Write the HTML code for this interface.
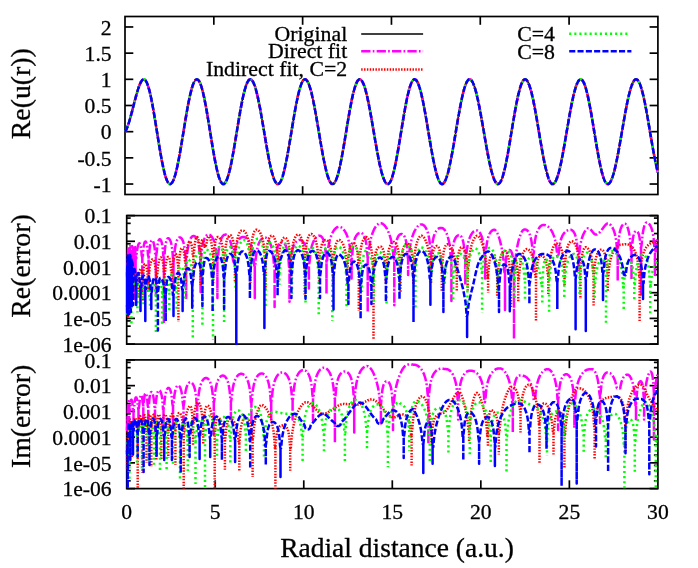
<!DOCTYPE html>
<html><head><meta charset="utf-8"><title>plot</title>
<style>html,body{margin:0;padding:0;background:#fff;}svg{display:block;will-change:transform;}</style>
</head><body>
<svg width="698" height="568" viewBox="0 0 698 568">
<rect width="698" height="568" fill="#fff"/>
<defs>
<clipPath id="c0"><rect x="123.8" y="15.3" width="535.3" height="180.4"/></clipPath>
<clipPath id="c1"><rect x="125.5" y="214.4" width="533.5999999999999" height="130.90000000000003"/></clipPath>
<clipPath id="c2"><rect x="125.5" y="358.7" width="533.5999999999999" height="131.10000000000005"/></clipPath>
</defs>
<rect x="125.0" y="16.5" width="532.9" height="178.0" fill="none" stroke="#000" stroke-width="1.7"/>
<line x1="213.82" y1="194.50" x2="213.82" y2="186.20" stroke="#000" stroke-width="1.7"/>
<line x1="213.82" y1="16.50" x2="213.82" y2="24.80" stroke="#000" stroke-width="1.7"/>
<line x1="302.63" y1="194.50" x2="302.63" y2="186.20" stroke="#000" stroke-width="1.7"/>
<line x1="302.63" y1="16.50" x2="302.63" y2="24.80" stroke="#000" stroke-width="1.7"/>
<line x1="391.45" y1="194.50" x2="391.45" y2="186.20" stroke="#000" stroke-width="1.7"/>
<line x1="391.45" y1="16.50" x2="391.45" y2="24.80" stroke="#000" stroke-width="1.7"/>
<line x1="480.27" y1="194.50" x2="480.27" y2="186.20" stroke="#000" stroke-width="1.7"/>
<line x1="480.27" y1="16.50" x2="480.27" y2="24.80" stroke="#000" stroke-width="1.7"/>
<line x1="569.08" y1="194.50" x2="569.08" y2="186.20" stroke="#000" stroke-width="1.7"/>
<line x1="569.08" y1="16.50" x2="569.08" y2="24.80" stroke="#000" stroke-width="1.7"/>
<rect x="126.7" y="215.6" width="531.1999999999999" height="128.50000000000003" fill="none" stroke="#000" stroke-width="1.7"/>
<line x1="215.23" y1="344.10" x2="215.23" y2="335.80" stroke="#000" stroke-width="1.7"/>
<line x1="215.23" y1="215.60" x2="215.23" y2="223.90" stroke="#000" stroke-width="1.7"/>
<line x1="303.77" y1="344.10" x2="303.77" y2="335.80" stroke="#000" stroke-width="1.7"/>
<line x1="303.77" y1="215.60" x2="303.77" y2="223.90" stroke="#000" stroke-width="1.7"/>
<line x1="392.30" y1="344.10" x2="392.30" y2="335.80" stroke="#000" stroke-width="1.7"/>
<line x1="392.30" y1="215.60" x2="392.30" y2="223.90" stroke="#000" stroke-width="1.7"/>
<line x1="480.83" y1="344.10" x2="480.83" y2="335.80" stroke="#000" stroke-width="1.7"/>
<line x1="480.83" y1="215.60" x2="480.83" y2="223.90" stroke="#000" stroke-width="1.7"/>
<line x1="569.37" y1="344.10" x2="569.37" y2="335.80" stroke="#000" stroke-width="1.7"/>
<line x1="569.37" y1="215.60" x2="569.37" y2="223.90" stroke="#000" stroke-width="1.7"/>
<rect x="126.7" y="359.9" width="531.1999999999999" height="128.70000000000005" fill="none" stroke="#000" stroke-width="1.7"/>
<line x1="215.23" y1="488.60" x2="215.23" y2="480.30" stroke="#000" stroke-width="1.7"/>
<line x1="215.23" y1="359.90" x2="215.23" y2="368.20" stroke="#000" stroke-width="1.7"/>
<line x1="303.77" y1="488.60" x2="303.77" y2="480.30" stroke="#000" stroke-width="1.7"/>
<line x1="303.77" y1="359.90" x2="303.77" y2="368.20" stroke="#000" stroke-width="1.7"/>
<line x1="392.30" y1="488.60" x2="392.30" y2="480.30" stroke="#000" stroke-width="1.7"/>
<line x1="392.30" y1="359.90" x2="392.30" y2="368.20" stroke="#000" stroke-width="1.7"/>
<line x1="480.83" y1="488.60" x2="480.83" y2="480.30" stroke="#000" stroke-width="1.7"/>
<line x1="480.83" y1="359.90" x2="480.83" y2="368.20" stroke="#000" stroke-width="1.7"/>
<line x1="569.37" y1="488.60" x2="569.37" y2="480.30" stroke="#000" stroke-width="1.7"/>
<line x1="569.37" y1="359.90" x2="569.37" y2="368.20" stroke="#000" stroke-width="1.7"/>
<line x1="125.00" y1="26.97" x2="133.30" y2="26.97" stroke="#000" stroke-width="1.7"/>
<line x1="657.90" y1="26.97" x2="649.60" y2="26.97" stroke="#000" stroke-width="1.7"/>
<line x1="125.00" y1="53.15" x2="133.30" y2="53.15" stroke="#000" stroke-width="1.7"/>
<line x1="657.90" y1="53.15" x2="649.60" y2="53.15" stroke="#000" stroke-width="1.7"/>
<line x1="125.00" y1="79.32" x2="133.30" y2="79.32" stroke="#000" stroke-width="1.7"/>
<line x1="657.90" y1="79.32" x2="649.60" y2="79.32" stroke="#000" stroke-width="1.7"/>
<line x1="125.00" y1="105.50" x2="133.30" y2="105.50" stroke="#000" stroke-width="1.7"/>
<line x1="657.90" y1="105.50" x2="649.60" y2="105.50" stroke="#000" stroke-width="1.7"/>
<line x1="125.00" y1="131.68" x2="133.30" y2="131.68" stroke="#000" stroke-width="1.7"/>
<line x1="657.90" y1="131.68" x2="649.60" y2="131.68" stroke="#000" stroke-width="1.7"/>
<line x1="125.00" y1="157.85" x2="133.30" y2="157.85" stroke="#000" stroke-width="1.7"/>
<line x1="657.90" y1="157.85" x2="649.60" y2="157.85" stroke="#000" stroke-width="1.7"/>
<line x1="125.00" y1="184.03" x2="133.30" y2="184.03" stroke="#000" stroke-width="1.7"/>
<line x1="657.90" y1="184.03" x2="649.60" y2="184.03" stroke="#000" stroke-width="1.7"/>
<line x1="126.70" y1="215.60" x2="135.00" y2="215.60" stroke="#000" stroke-width="1.7"/>
<line x1="657.90" y1="215.60" x2="649.60" y2="215.60" stroke="#000" stroke-width="1.7"/>
<line x1="126.70" y1="241.30" x2="135.00" y2="241.30" stroke="#000" stroke-width="1.7"/>
<line x1="657.90" y1="241.30" x2="649.60" y2="241.30" stroke="#000" stroke-width="1.7"/>
<line x1="126.70" y1="233.56" x2="130.70" y2="233.56" stroke="#000" stroke-width="1.7"/>
<line x1="657.90" y1="233.56" x2="653.90" y2="233.56" stroke="#000" stroke-width="1.7"/>
<line x1="126.70" y1="223.34" x2="130.70" y2="223.34" stroke="#000" stroke-width="1.7"/>
<line x1="657.90" y1="223.34" x2="653.90" y2="223.34" stroke="#000" stroke-width="1.7"/>
<line x1="126.70" y1="218.09" x2="130.70" y2="218.09" stroke="#000" stroke-width="1.7"/>
<line x1="657.90" y1="218.09" x2="653.90" y2="218.09" stroke="#000" stroke-width="1.7"/>
<line x1="126.70" y1="267.00" x2="135.00" y2="267.00" stroke="#000" stroke-width="1.7"/>
<line x1="657.90" y1="267.00" x2="649.60" y2="267.00" stroke="#000" stroke-width="1.7"/>
<line x1="126.70" y1="259.26" x2="130.70" y2="259.26" stroke="#000" stroke-width="1.7"/>
<line x1="657.90" y1="259.26" x2="653.90" y2="259.26" stroke="#000" stroke-width="1.7"/>
<line x1="126.70" y1="249.04" x2="130.70" y2="249.04" stroke="#000" stroke-width="1.7"/>
<line x1="657.90" y1="249.04" x2="653.90" y2="249.04" stroke="#000" stroke-width="1.7"/>
<line x1="126.70" y1="243.79" x2="130.70" y2="243.79" stroke="#000" stroke-width="1.7"/>
<line x1="657.90" y1="243.79" x2="653.90" y2="243.79" stroke="#000" stroke-width="1.7"/>
<line x1="126.70" y1="292.70" x2="135.00" y2="292.70" stroke="#000" stroke-width="1.7"/>
<line x1="657.90" y1="292.70" x2="649.60" y2="292.70" stroke="#000" stroke-width="1.7"/>
<line x1="126.70" y1="284.96" x2="130.70" y2="284.96" stroke="#000" stroke-width="1.7"/>
<line x1="657.90" y1="284.96" x2="653.90" y2="284.96" stroke="#000" stroke-width="1.7"/>
<line x1="126.70" y1="274.74" x2="130.70" y2="274.74" stroke="#000" stroke-width="1.7"/>
<line x1="657.90" y1="274.74" x2="653.90" y2="274.74" stroke="#000" stroke-width="1.7"/>
<line x1="126.70" y1="269.49" x2="130.70" y2="269.49" stroke="#000" stroke-width="1.7"/>
<line x1="657.90" y1="269.49" x2="653.90" y2="269.49" stroke="#000" stroke-width="1.7"/>
<line x1="126.70" y1="318.40" x2="135.00" y2="318.40" stroke="#000" stroke-width="1.7"/>
<line x1="657.90" y1="318.40" x2="649.60" y2="318.40" stroke="#000" stroke-width="1.7"/>
<line x1="126.70" y1="310.66" x2="130.70" y2="310.66" stroke="#000" stroke-width="1.7"/>
<line x1="657.90" y1="310.66" x2="653.90" y2="310.66" stroke="#000" stroke-width="1.7"/>
<line x1="126.70" y1="300.44" x2="130.70" y2="300.44" stroke="#000" stroke-width="1.7"/>
<line x1="657.90" y1="300.44" x2="653.90" y2="300.44" stroke="#000" stroke-width="1.7"/>
<line x1="126.70" y1="295.19" x2="130.70" y2="295.19" stroke="#000" stroke-width="1.7"/>
<line x1="657.90" y1="295.19" x2="653.90" y2="295.19" stroke="#000" stroke-width="1.7"/>
<line x1="126.70" y1="344.10" x2="135.00" y2="344.10" stroke="#000" stroke-width="1.7"/>
<line x1="657.90" y1="344.10" x2="649.60" y2="344.10" stroke="#000" stroke-width="1.7"/>
<line x1="126.70" y1="336.36" x2="130.70" y2="336.36" stroke="#000" stroke-width="1.7"/>
<line x1="657.90" y1="336.36" x2="653.90" y2="336.36" stroke="#000" stroke-width="1.7"/>
<line x1="126.70" y1="326.14" x2="130.70" y2="326.14" stroke="#000" stroke-width="1.7"/>
<line x1="657.90" y1="326.14" x2="653.90" y2="326.14" stroke="#000" stroke-width="1.7"/>
<line x1="126.70" y1="320.89" x2="130.70" y2="320.89" stroke="#000" stroke-width="1.7"/>
<line x1="657.90" y1="320.89" x2="653.90" y2="320.89" stroke="#000" stroke-width="1.7"/>
<line x1="126.70" y1="359.90" x2="135.00" y2="359.90" stroke="#000" stroke-width="1.7"/>
<line x1="657.90" y1="359.90" x2="649.60" y2="359.90" stroke="#000" stroke-width="1.7"/>
<line x1="126.70" y1="385.64" x2="135.00" y2="385.64" stroke="#000" stroke-width="1.7"/>
<line x1="657.90" y1="385.64" x2="649.60" y2="385.64" stroke="#000" stroke-width="1.7"/>
<line x1="126.70" y1="377.89" x2="130.70" y2="377.89" stroke="#000" stroke-width="1.7"/>
<line x1="657.90" y1="377.89" x2="653.90" y2="377.89" stroke="#000" stroke-width="1.7"/>
<line x1="126.70" y1="367.65" x2="130.70" y2="367.65" stroke="#000" stroke-width="1.7"/>
<line x1="657.90" y1="367.65" x2="653.90" y2="367.65" stroke="#000" stroke-width="1.7"/>
<line x1="126.70" y1="362.39" x2="130.70" y2="362.39" stroke="#000" stroke-width="1.7"/>
<line x1="657.90" y1="362.39" x2="653.90" y2="362.39" stroke="#000" stroke-width="1.7"/>
<line x1="126.70" y1="411.38" x2="135.00" y2="411.38" stroke="#000" stroke-width="1.7"/>
<line x1="657.90" y1="411.38" x2="649.60" y2="411.38" stroke="#000" stroke-width="1.7"/>
<line x1="126.70" y1="403.63" x2="130.70" y2="403.63" stroke="#000" stroke-width="1.7"/>
<line x1="657.90" y1="403.63" x2="653.90" y2="403.63" stroke="#000" stroke-width="1.7"/>
<line x1="126.70" y1="393.39" x2="130.70" y2="393.39" stroke="#000" stroke-width="1.7"/>
<line x1="657.90" y1="393.39" x2="653.90" y2="393.39" stroke="#000" stroke-width="1.7"/>
<line x1="126.70" y1="388.13" x2="130.70" y2="388.13" stroke="#000" stroke-width="1.7"/>
<line x1="657.90" y1="388.13" x2="653.90" y2="388.13" stroke="#000" stroke-width="1.7"/>
<line x1="126.70" y1="437.12" x2="135.00" y2="437.12" stroke="#000" stroke-width="1.7"/>
<line x1="657.90" y1="437.12" x2="649.60" y2="437.12" stroke="#000" stroke-width="1.7"/>
<line x1="126.70" y1="429.37" x2="130.70" y2="429.37" stroke="#000" stroke-width="1.7"/>
<line x1="657.90" y1="429.37" x2="653.90" y2="429.37" stroke="#000" stroke-width="1.7"/>
<line x1="126.70" y1="419.13" x2="130.70" y2="419.13" stroke="#000" stroke-width="1.7"/>
<line x1="657.90" y1="419.13" x2="653.90" y2="419.13" stroke="#000" stroke-width="1.7"/>
<line x1="126.70" y1="413.87" x2="130.70" y2="413.87" stroke="#000" stroke-width="1.7"/>
<line x1="657.90" y1="413.87" x2="653.90" y2="413.87" stroke="#000" stroke-width="1.7"/>
<line x1="126.70" y1="462.86" x2="135.00" y2="462.86" stroke="#000" stroke-width="1.7"/>
<line x1="657.90" y1="462.86" x2="649.60" y2="462.86" stroke="#000" stroke-width="1.7"/>
<line x1="126.70" y1="455.11" x2="130.70" y2="455.11" stroke="#000" stroke-width="1.7"/>
<line x1="657.90" y1="455.11" x2="653.90" y2="455.11" stroke="#000" stroke-width="1.7"/>
<line x1="126.70" y1="444.87" x2="130.70" y2="444.87" stroke="#000" stroke-width="1.7"/>
<line x1="657.90" y1="444.87" x2="653.90" y2="444.87" stroke="#000" stroke-width="1.7"/>
<line x1="126.70" y1="439.61" x2="130.70" y2="439.61" stroke="#000" stroke-width="1.7"/>
<line x1="657.90" y1="439.61" x2="653.90" y2="439.61" stroke="#000" stroke-width="1.7"/>
<line x1="126.70" y1="488.60" x2="135.00" y2="488.60" stroke="#000" stroke-width="1.7"/>
<line x1="657.90" y1="488.60" x2="649.60" y2="488.60" stroke="#000" stroke-width="1.7"/>
<line x1="126.70" y1="480.85" x2="130.70" y2="480.85" stroke="#000" stroke-width="1.7"/>
<line x1="657.90" y1="480.85" x2="653.90" y2="480.85" stroke="#000" stroke-width="1.7"/>
<line x1="126.70" y1="470.61" x2="130.70" y2="470.61" stroke="#000" stroke-width="1.7"/>
<line x1="657.90" y1="470.61" x2="653.90" y2="470.61" stroke="#000" stroke-width="1.7"/>
<line x1="126.70" y1="465.35" x2="130.70" y2="465.35" stroke="#000" stroke-width="1.7"/>
<line x1="657.90" y1="465.35" x2="653.90" y2="465.35" stroke="#000" stroke-width="1.7"/>
<path d="M125.0 131.7 L125.5 131.2 L126.0 130.3 L126.5 129.3 L127.0 128.1 L127.5 126.8 L128.0 125.4 L128.5 123.9 L129.0 122.3 L129.5 120.6 L130.0 118.9 L130.5 117.2 L131.0 115.3 L131.5 113.5 L132.0 111.6 L132.5 109.7 L133.0 107.7 L133.5 105.8 L134.0 103.9 L134.5 101.9 L135.0 100.0 L135.5 98.2 L136.0 96.3 L136.5 94.5 L137.0 92.8 L137.5 91.1 L138.0 89.5 L138.5 88.0 L139.0 86.5 L139.5 85.2 L140.0 84.0 L140.5 82.9 L141.0 81.9 L141.5 81.1 L142.0 80.4 L142.5 79.9 L143.0 79.5 L143.5 79.4 L144.0 79.3 L144.5 79.5 L145.0 79.9 L145.5 80.4 L146.0 81.1 L146.5 82.0 L147.0 83.1 L147.5 84.4 L148.0 85.8 L148.5 87.4 L149.0 89.1 L149.5 91.0 L150.0 93.0 L150.5 95.2 L151.0 97.5 L151.5 100.0 L152.0 102.5 L152.5 105.1 L153.0 107.9 L153.5 110.7 L154.0 113.6 L154.5 116.6 L155.0 119.6 L155.5 122.7 L156.0 125.7 L156.5 128.9 L157.0 132.0 L157.5 135.1 L158.0 138.2 L158.5 141.3 L159.0 144.4 L159.5 147.4 L160.0 150.3 L160.5 153.2 L161.0 156.0 L161.5 158.8 L162.0 161.4 L162.5 163.9 L163.0 166.3 L163.5 168.6 L164.0 170.7 L164.5 172.7 L165.0 174.6 L165.5 176.3 L166.0 177.9 L166.5 179.3 L167.0 180.5 L167.5 181.5 L168.0 182.4 L168.5 183.1 L169.0 183.6 L169.5 183.9 L170.0 184.0 L170.5 184.0 L171.0 183.7 L171.5 183.3 L172.0 182.7 L172.5 182.0 L173.0 181.0 L173.5 179.9 L174.0 178.7 L174.5 177.2 L175.0 175.6 L175.5 173.9 L176.0 172.0 L176.5 170.0 L177.0 167.8 L177.5 165.5 L178.0 163.1 L178.5 160.6 L179.0 158.0 L179.5 155.3 L180.0 152.6 L180.5 149.7 L181.0 146.8 L181.5 143.8 L182.0 140.8 L182.5 137.8 L183.0 134.7 L183.5 131.7 L184.0 128.6 L184.5 125.6 L185.0 122.5 L185.5 119.5 L186.0 116.6 L186.5 113.6 L187.0 110.8 L187.5 108.0 L188.0 105.3 L188.5 102.7 L189.0 100.2 L189.5 97.8 L190.0 95.5 L190.5 93.4 L191.0 91.4 L191.5 89.5 L192.0 87.7 L192.5 86.1 L193.0 84.7 L193.5 83.4 L194.0 82.3 L194.5 81.4 L195.0 80.6 L195.5 80.0 L196.0 79.6 L196.5 79.4 L197.0 79.3 L197.5 79.5 L198.0 79.8 L198.5 80.3 L199.0 80.9 L199.5 81.8 L200.0 82.8 L200.5 84.1 L201.0 85.4 L201.5 87.0 L202.0 88.7 L202.5 90.5 L203.0 92.5 L203.5 94.7 L204.0 96.9 L204.5 99.3 L205.0 101.8 L205.5 104.4 L206.0 107.1 L206.5 109.9 L207.0 112.8 L207.5 115.7 L208.0 118.7 L208.5 121.8 L209.0 124.8 L209.5 127.9 L210.0 131.1 L210.5 134.2 L211.0 137.3 L211.5 140.4 L212.0 143.4 L212.5 146.4 L213.0 149.4 L213.5 152.3 L214.0 155.1 L214.5 157.9 L215.0 160.5 L215.5 163.1 L216.0 165.5 L216.5 167.8 L217.0 170.0 L217.5 172.0 L218.0 174.0 L218.5 175.7 L219.0 177.3 L219.5 178.8 L220.0 180.0 L220.5 181.2 L221.0 182.1 L221.5 182.8 L222.0 183.4 L222.5 183.8 L223.0 184.0 L223.5 184.0 L224.0 183.9 L224.5 183.5 L225.0 183.0 L225.5 182.3 L226.0 181.5 L226.5 180.4 L227.0 179.3 L227.5 177.9 L228.0 176.4 L228.5 174.7 L229.0 172.9 L229.5 171.0 L230.0 168.9 L230.5 166.7 L231.0 164.4 L231.5 162.0 L232.0 159.4 L232.5 156.8 L233.0 154.1 L233.5 151.3 L234.0 148.4 L234.5 145.5 L235.0 142.6 L235.5 139.6 L236.0 136.5 L236.5 133.5 L237.0 130.5 L237.5 127.4 L238.0 124.4 L238.5 121.4 L239.0 118.4 L239.5 115.5 L240.0 112.6 L240.5 109.8 L241.0 107.1 L241.5 104.5 L242.0 101.9 L242.5 99.4 L243.0 97.1 L243.5 94.9 L244.0 92.8 L244.5 90.8 L245.0 89.0 L245.5 87.3 L246.0 85.7 L246.5 84.4 L247.0 83.1 L247.5 82.1 L248.0 81.2 L248.5 80.5 L249.0 79.9 L249.5 79.6 L250.0 79.4 L250.5 79.3 L251.0 79.5 L251.5 79.8 L252.0 80.3 L252.5 81.0 L253.0 81.8 L253.5 82.8 L254.0 83.9 L254.5 85.2 L255.0 86.6 L255.5 88.2 L256.0 90.0 L256.5 91.8 L257.0 93.8 L257.5 95.9 L258.0 98.2 L258.5 100.5 L259.0 103.0 L259.5 105.5 L260.0 108.1 L260.5 110.8 L261.0 113.6 L261.5 116.4 L262.0 119.3 L262.5 122.2 L263.0 125.1 L263.5 128.1 L264.0 131.1 L264.5 134.1 L265.0 137.0 L265.5 140.0 L266.0 142.9 L266.5 145.8 L267.0 148.6 L267.5 151.4 L268.0 154.2 L268.5 156.8 L269.0 159.4 L269.5 161.9 L270.0 164.3 L270.5 166.5 L271.0 168.7 L271.5 170.7 L272.0 172.7 L272.5 174.4 L273.0 176.1 L273.5 177.6 L274.0 179.0 L274.5 180.2 L275.0 181.2 L275.5 182.1 L276.0 182.8 L276.5 183.4 L277.0 183.8 L277.5 184.0 L278.0 184.0 L278.5 183.9 L279.0 183.6 L279.5 183.1 L280.0 182.5 L280.5 181.7 L281.0 180.7 L281.5 179.5 L282.0 178.2 L282.5 176.8 L283.0 175.1 L283.5 173.4 L284.0 171.5 L284.5 169.4 L285.0 167.3 L285.5 165.0 L286.0 162.6 L286.5 160.1 L287.0 157.5 L287.5 154.8 L288.0 152.1 L288.5 149.2 L289.0 146.3 L289.5 143.4 L290.0 140.4 L290.5 137.4 L291.0 134.4 L291.5 131.4 L292.0 128.3 L292.5 125.3 L293.0 122.3 L293.5 119.4 L294.0 116.4 L294.5 113.5 L295.0 110.7 L295.5 108.0 L296.0 105.3 L296.5 102.7 L297.0 100.3 L297.5 97.9 L298.0 95.6 L298.5 93.5 L299.0 91.5 L299.5 89.6 L300.0 87.9 L300.5 86.3 L301.0 84.9 L301.5 83.6 L302.0 82.5 L302.5 81.5 L303.0 80.7 L303.5 80.1 L304.0 79.7 L304.5 79.4 L305.0 79.3 L305.5 79.4 L306.0 79.7 L306.5 80.1 L307.0 80.7 L307.5 81.4 L308.0 82.3 L308.5 83.4 L309.0 84.7 L309.5 86.0 L310.0 87.6 L310.5 89.3 L311.0 91.1 L311.5 93.0 L312.0 95.1 L312.5 97.3 L313.0 99.6 L313.5 102.0 L314.0 104.5 L314.5 107.1 L315.0 109.7 L315.5 112.5 L316.0 115.3 L316.5 118.1 L317.0 121.0 L317.5 124.0 L318.0 126.9 L318.5 129.9 L319.0 132.9 L319.5 135.8 L320.0 138.8 L320.5 141.7 L321.0 144.6 L321.5 147.5 L322.0 150.3 L322.5 153.1 L323.0 155.8 L323.5 158.4 L324.0 160.9 L324.5 163.3 L325.0 165.6 L325.5 167.8 L326.0 169.9 L326.5 171.9 L327.0 173.7 L327.5 175.5 L328.0 177.0 L328.5 178.4 L329.0 179.7 L329.5 180.8 L330.0 181.8 L330.5 182.5 L331.0 183.2 L331.5 183.6 L332.0 183.9 L332.5 184.0 L333.0 184.0 L333.5 183.7 L334.0 183.3 L334.5 182.8 L335.0 182.0 L335.5 181.1 L336.0 180.0 L336.5 178.8 L337.0 177.4 L337.5 175.8 L338.0 174.1 L338.5 172.3 L339.0 170.3 L339.5 168.2 L340.0 165.9 L340.5 163.6 L341.0 161.1 L341.5 158.6 L342.0 155.9 L342.5 153.2 L343.0 150.4 L343.5 147.5 L344.0 144.6 L344.5 141.6 L345.0 138.6 L345.5 135.6 L346.0 132.6 L346.5 129.6 L347.0 126.5 L347.5 123.5 L348.0 120.5 L348.5 117.6 L349.0 114.7 L349.5 111.9 L350.0 109.1 L350.5 106.4 L351.0 103.8 L351.5 101.2 L352.0 98.8 L352.5 96.5 L353.0 94.3 L353.5 92.3 L354.0 90.3 L354.5 88.6 L355.0 86.9 L355.5 85.4 L356.0 84.1 L356.5 82.9 L357.0 81.9 L357.5 81.0 L358.0 80.3 L358.5 79.8 L359.0 79.5 L359.5 79.3 L360.0 79.4 L360.5 79.5 L361.0 79.9 L361.5 80.4 L362.0 81.1 L362.5 81.9 L363.0 82.9 L363.5 84.0 L364.0 85.3 L364.5 86.7 L365.0 88.3 L365.5 90.0 L366.0 91.9 L366.5 93.8 L367.0 95.9 L367.5 98.1 L368.0 100.4 L368.5 102.8 L369.0 105.3 L369.5 107.9 L370.0 110.6 L370.5 113.3 L371.0 116.1 L371.5 118.9 L372.0 121.8 L372.5 124.6 L373.0 127.6 L373.5 130.5 L374.0 133.4 L374.5 136.4 L375.0 139.3 L375.5 142.2 L376.0 145.0 L376.5 147.9 L377.0 150.6 L377.5 153.3 L378.0 156.0 L378.5 158.5 L379.0 161.0 L379.5 163.4 L380.0 165.7 L380.5 167.9 L381.0 169.9 L381.5 171.9 L382.0 173.7 L382.5 175.4 L383.0 176.9 L383.5 178.3 L384.0 179.6 L384.5 180.7 L385.0 181.6 L385.5 182.4 L386.0 183.1 L386.5 183.6 L387.0 183.9 L387.5 184.0 L388.0 184.0 L388.5 183.8 L389.0 183.4 L389.5 182.9 L390.0 182.2 L390.5 181.3 L391.0 180.2 L391.5 179.0 L392.0 177.6 L392.5 176.0 L393.0 174.3 L393.5 172.5 L394.0 170.5 L394.5 168.4 L395.0 166.1 L395.5 163.8 L396.0 161.3 L396.5 158.7 L397.0 156.1 L397.5 153.3 L398.0 150.5 L398.5 147.6 L399.0 144.7 L399.5 141.7 L400.0 138.7 L400.5 135.6 L401.0 132.6 L401.5 129.5 L402.0 126.5 L402.5 123.5 L403.0 120.5 L403.5 117.5 L404.0 114.6 L404.5 111.7 L405.0 108.9 L405.5 106.2 L406.0 103.6 L406.5 101.1 L407.0 98.6 L407.5 96.3 L408.0 94.1 L408.5 92.1 L409.0 90.1 L409.5 88.3 L410.0 86.7 L410.5 85.2 L411.0 83.9 L411.5 82.7 L412.0 81.7 L412.5 80.9 L413.0 80.2 L413.5 79.8 L414.0 79.5 L414.5 79.3 L415.0 79.4 L415.5 79.6 L416.0 80.0 L416.5 80.6 L417.0 81.3 L417.5 82.2 L418.0 83.2 L418.5 84.4 L419.0 85.8 L419.5 87.3 L420.0 89.0 L420.5 90.8 L421.0 92.7 L421.5 94.8 L422.0 96.9 L422.5 99.2 L423.0 101.6 L423.5 104.1 L424.0 106.7 L424.5 109.4 L425.0 112.1 L425.5 114.9 L426.0 117.8 L426.5 120.7 L427.0 123.6 L427.5 126.6 L428.0 129.6 L428.5 132.6 L429.0 135.6 L429.5 138.5 L430.0 141.5 L430.5 144.4 L431.0 147.3 L431.5 150.1 L432.0 152.9 L432.5 155.6 L433.0 158.2 L433.5 160.7 L434.0 163.2 L434.5 165.5 L435.0 167.7 L435.5 169.8 L436.0 171.8 L436.5 173.7 L437.0 175.4 L437.5 177.0 L438.0 178.4 L438.5 179.7 L439.0 180.8 L439.5 181.7 L440.0 182.5 L440.5 183.2 L441.0 183.6 L441.5 183.9 L442.0 184.0 L442.5 184.0 L443.0 183.8 L443.5 183.4 L444.0 182.8 L444.5 182.1 L445.0 181.2 L445.5 180.1 L446.0 178.9 L446.5 177.6 L447.0 176.0 L447.5 174.4 L448.0 172.6 L448.5 170.6 L449.0 168.6 L449.5 166.4 L450.0 164.1 L450.5 161.7 L451.0 159.2 L451.5 156.6 L452.0 154.0 L452.5 151.2 L453.0 148.4 L453.5 145.6 L454.0 142.7 L454.5 139.7 L455.0 136.8 L455.5 133.8 L456.0 130.8 L456.5 127.8 L457.0 124.8 L457.5 121.9 L458.0 118.9 L458.5 116.1 L459.0 113.2 L459.5 110.5 L460.0 107.8 L460.5 105.2 L461.0 102.6 L461.5 100.2 L462.0 97.8 L462.5 95.6 L463.0 93.5 L463.5 91.5 L464.0 89.7 L464.5 88.0 L465.0 86.4 L465.5 85.0 L466.0 83.7 L466.5 82.6 L467.0 81.6 L467.5 80.8 L468.0 80.2 L468.5 79.7 L469.0 79.4 L469.5 79.3 L470.0 79.4 L470.5 79.6 L471.0 80.0 L471.5 80.5 L472.0 81.2 L472.5 82.0 L473.0 83.0 L473.5 84.1 L474.0 85.4 L474.5 86.8 L475.0 88.4 L475.5 90.1 L476.0 91.9 L476.5 93.8 L477.0 95.9 L477.5 98.1 L478.0 100.3 L478.5 102.7 L479.0 105.2 L479.5 107.7 L480.0 110.3 L480.5 113.0 L481.0 115.7 L481.5 118.5 L482.0 121.3 L482.5 124.2 L483.0 127.0 L483.5 129.9 L484.0 132.8 L484.5 135.7 L485.0 138.6 L485.5 141.5 L486.0 144.3 L486.5 147.1 L487.0 149.8 L487.5 152.5 L488.0 155.1 L488.5 157.7 L489.0 160.2 L489.5 162.5 L490.0 164.8 L490.5 167.0 L491.0 169.1 L491.5 171.1 L492.0 172.9 L492.5 174.6 L493.0 176.2 L493.5 177.7 L494.0 179.0 L494.5 180.2 L495.0 181.2 L495.5 182.0 L496.0 182.8 L496.5 183.3 L497.0 183.7 L497.5 183.9 L498.0 184.0 L498.5 183.9 L499.0 183.7 L499.5 183.2 L500.0 182.6 L500.5 181.8 L501.0 180.9 L501.5 179.8 L502.0 178.5 L502.5 177.1 L503.0 175.5 L503.5 173.7 L504.0 171.9 L504.5 169.9 L505.0 167.7 L505.5 165.5 L506.0 163.1 L506.5 160.6 L507.0 158.0 L507.5 155.4 L508.0 152.6 L508.5 149.8 L509.0 146.9 L509.5 144.0 L510.0 141.0 L510.5 138.0 L511.0 135.0 L511.5 132.0 L512.0 128.9 L512.5 125.9 L513.0 122.9 L513.5 119.9 L514.0 117.0 L514.5 114.1 L515.0 111.3 L515.5 108.5 L516.0 105.9 L516.5 103.3 L517.0 100.8 L517.5 98.4 L518.0 96.1 L518.5 93.9 L519.0 91.9 L519.5 90.0 L520.0 88.2 L520.5 86.6 L521.0 85.1 L521.5 83.8 L522.0 82.7 L522.5 81.7 L523.0 80.9 L523.5 80.2 L524.0 79.7 L524.5 79.5 L525.0 79.3 L525.5 79.4 L526.0 79.6 L526.5 80.0 L527.0 80.5 L527.5 81.3 L528.0 82.1 L528.5 83.2 L529.0 84.4 L529.5 85.8 L530.0 87.3 L530.5 88.9 L531.0 90.7 L531.5 92.6 L532.0 94.7 L532.5 96.8 L533.0 99.1 L533.5 101.5 L534.0 104.0 L534.5 106.5 L535.0 109.2 L535.5 111.9 L536.0 114.7 L536.5 117.6 L537.0 120.4 L537.5 123.4 L538.0 126.3 L538.5 129.3 L539.0 132.3 L539.5 135.2 L540.0 138.2 L540.5 141.2 L541.0 144.1 L541.5 146.9 L542.0 149.8 L542.5 152.5 L543.0 155.2 L543.5 157.9 L544.0 160.4 L544.5 162.8 L545.0 165.2 L545.5 167.4 L546.0 169.5 L546.5 171.5 L547.0 173.4 L547.5 175.1 L548.0 176.7 L548.5 178.2 L549.0 179.5 L549.5 180.6 L550.0 181.6 L550.5 182.4 L551.0 183.1 L551.5 183.5 L552.0 183.9 L552.5 184.0 L553.0 184.0 L553.5 183.8 L554.0 183.5 L554.5 183.0 L555.0 182.3 L555.5 181.5 L556.0 180.5 L556.5 179.3 L557.0 178.1 L557.5 176.6 L558.0 175.0 L558.5 173.3 L559.0 171.5 L559.5 169.5 L560.0 167.4 L560.5 165.2 L561.0 162.9 L561.5 160.5 L562.0 158.0 L562.5 155.4 L563.0 152.8 L563.5 150.1 L564.0 147.3 L564.5 144.5 L565.0 141.6 L565.5 138.7 L566.0 135.8 L566.5 132.9 L567.0 129.9 L567.5 127.0 L568.0 124.1 L568.5 121.2 L569.0 118.3 L569.5 115.5 L570.0 112.7 L570.5 110.0 L571.0 107.4 L571.5 104.8 L572.0 102.3 L572.5 100.0 L573.0 97.7 L573.5 95.5 L574.0 93.4 L574.5 91.5 L575.0 89.7 L575.5 88.0 L576.0 86.4 L576.5 85.0 L577.0 83.8 L577.5 82.7 L578.0 81.7 L578.5 80.9 L579.0 80.3 L579.5 79.8 L580.0 79.5 L580.5 79.3 L581.0 79.4 L581.5 79.5 L582.0 79.9 L582.5 80.5 L583.0 81.2 L583.5 82.1 L584.0 83.1 L584.5 84.3 L585.0 85.7 L585.5 87.2 L586.0 88.9 L586.5 90.7 L587.0 92.7 L587.5 94.8 L588.0 97.0 L588.5 99.3 L589.0 101.7 L589.5 104.3 L590.0 106.9 L590.5 109.6 L591.0 112.4 L591.5 115.3 L592.0 118.2 L592.5 121.1 L593.0 124.1 L593.5 127.1 L594.0 130.2 L594.5 133.2 L595.0 136.2 L595.5 139.2 L596.0 142.2 L596.5 145.2 L597.0 148.1 L597.5 150.9 L598.0 153.7 L598.5 156.4 L599.0 159.1 L599.5 161.6 L600.0 164.0 L600.5 166.4 L601.0 168.6 L601.5 170.7 L602.0 172.6 L602.5 174.5 L603.0 176.1 L603.5 177.7 L604.0 179.0 L604.5 180.2 L605.0 181.3 L605.5 182.2 L606.0 182.9 L606.5 183.4 L607.0 183.8 L607.5 184.0 L608.0 184.0 L608.5 183.9 L609.0 183.6 L609.5 183.1 L610.0 182.5 L610.5 181.7 L611.0 180.8 L611.5 179.7 L612.0 178.4 L612.5 177.1 L613.0 175.5 L613.5 173.9 L614.0 172.1 L614.5 170.2 L615.0 168.2 L615.5 166.0 L616.0 163.8 L616.5 161.5 L617.0 159.0 L617.5 156.5 L618.0 153.9 L618.5 151.2 L619.0 148.5 L619.5 145.7 L620.0 142.9 L620.5 140.1 L621.0 137.2 L621.5 134.3 L622.0 131.4 L622.5 128.5 L623.0 125.6 L623.5 122.7 L624.0 119.9 L624.5 117.1 L625.0 114.3 L625.5 111.6 L626.0 108.9 L626.5 106.3 L627.0 103.8 L627.5 101.4 L628.0 99.1 L628.5 96.9 L629.0 94.8 L629.5 92.8 L630.0 90.9 L630.5 89.1 L631.0 87.5 L631.5 86.0 L632.0 84.7 L632.5 83.4 L633.0 82.4 L633.5 81.5 L634.0 80.7 L634.5 80.1 L635.0 79.7 L635.5 79.4 L636.0 79.3 L636.5 79.4 L637.0 79.6 L637.5 80.0 L638.0 80.5 L638.5 81.2 L639.0 82.1 L639.5 83.1 L640.0 84.3 L640.5 85.7 L641.0 87.1 L641.5 88.8 L642.0 90.5 L642.5 92.4 L643.0 94.4 L643.5 96.6 L644.0 98.8 L644.5 101.2 L645.0 103.6 L645.5 106.2 L646.0 108.8 L646.5 111.5 L647.0 114.3 L647.5 117.1 L648.0 119.9 L648.5 122.8 L649.0 125.8 L649.5 128.7 L650.0 131.7 L650.5 134.6 L651.0 137.6 L651.5 140.5 L652.0 143.4 L652.5 146.3 L653.0 149.1 L653.5 151.8 L654.0 154.5 L654.5 157.2 L655.0 159.7 L655.5 162.2 L656.0 164.5 L656.5 166.8 L657.0 168.9 L657.5 170.9 L658.0 172.8" fill="none" stroke="#000" stroke-width="1.5" stroke-linejoin="round" clip-path="url(#c0)"/>
<path d="M125.0 131.7 L125.5 131.2 L126.0 130.3 L126.5 129.3 L127.0 128.1 L127.5 126.8 L128.0 125.4 L128.5 123.9 L129.0 122.3 L129.5 120.6 L130.0 118.9 L130.5 117.2 L131.0 115.3 L131.5 113.5 L132.0 111.6 L132.5 109.7 L133.0 107.7 L133.5 105.8 L134.0 103.9 L134.5 101.9 L135.0 100.0 L135.5 98.2 L136.0 96.3 L136.5 94.5 L137.0 92.8 L137.5 91.1 L138.0 89.5 L138.5 88.0 L139.0 86.5 L139.5 85.2 L140.0 84.0 L140.5 82.9 L141.0 81.9 L141.5 81.1 L142.0 80.4 L142.5 79.9 L143.0 79.5 L143.5 79.4 L144.0 79.3 L144.5 79.5 L145.0 79.9 L145.5 80.4 L146.0 81.1 L146.5 82.0 L147.0 83.1 L147.5 84.4 L148.0 85.8 L148.5 87.4 L149.0 89.1 L149.5 91.0 L150.0 93.0 L150.5 95.2 L151.0 97.5 L151.5 100.0 L152.0 102.5 L152.5 105.1 L153.0 107.9 L153.5 110.7 L154.0 113.6 L154.5 116.6 L155.0 119.6 L155.5 122.7 L156.0 125.7 L156.5 128.9 L157.0 132.0 L157.5 135.1 L158.0 138.2 L158.5 141.3 L159.0 144.4 L159.5 147.4 L160.0 150.3 L160.5 153.2 L161.0 156.0 L161.5 158.8 L162.0 161.4 L162.5 163.9 L163.0 166.3 L163.5 168.6 L164.0 170.7 L164.5 172.7 L165.0 174.6 L165.5 176.3 L166.0 177.9 L166.5 179.3 L167.0 180.5 L167.5 181.5 L168.0 182.4 L168.5 183.1 L169.0 183.6 L169.5 183.9 L170.0 184.0 L170.5 184.0 L171.0 183.7 L171.5 183.3 L172.0 182.7 L172.5 182.0 L173.0 181.0 L173.5 179.9 L174.0 178.7 L174.5 177.2 L175.0 175.6 L175.5 173.9 L176.0 172.0 L176.5 170.0 L177.0 167.8 L177.5 165.5 L178.0 163.1 L178.5 160.6 L179.0 158.0 L179.5 155.3 L180.0 152.6 L180.5 149.7 L181.0 146.8 L181.5 143.8 L182.0 140.8 L182.5 137.8 L183.0 134.7 L183.5 131.7 L184.0 128.6 L184.5 125.6 L185.0 122.5 L185.5 119.5 L186.0 116.6 L186.5 113.6 L187.0 110.8 L187.5 108.0 L188.0 105.3 L188.5 102.7 L189.0 100.2 L189.5 97.8 L190.0 95.5 L190.5 93.4 L191.0 91.4 L191.5 89.5 L192.0 87.7 L192.5 86.1 L193.0 84.7 L193.5 83.4 L194.0 82.3 L194.5 81.4 L195.0 80.6 L195.5 80.0 L196.0 79.6 L196.5 79.4 L197.0 79.3 L197.5 79.5 L198.0 79.8 L198.5 80.3 L199.0 80.9 L199.5 81.8 L200.0 82.8 L200.5 84.1 L201.0 85.4 L201.5 87.0 L202.0 88.7 L202.5 90.5 L203.0 92.5 L203.5 94.7 L204.0 96.9 L204.5 99.3 L205.0 101.8 L205.5 104.4 L206.0 107.1 L206.5 109.9 L207.0 112.8 L207.5 115.7 L208.0 118.7 L208.5 121.8 L209.0 124.8 L209.5 127.9 L210.0 131.1 L210.5 134.2 L211.0 137.3 L211.5 140.4 L212.0 143.4 L212.5 146.4 L213.0 149.4 L213.5 152.3 L214.0 155.1 L214.5 157.9 L215.0 160.5 L215.5 163.1 L216.0 165.5 L216.5 167.8 L217.0 170.0 L217.5 172.0 L218.0 174.0 L218.5 175.7 L219.0 177.3 L219.5 178.8 L220.0 180.0 L220.5 181.2 L221.0 182.1 L221.5 182.8 L222.0 183.4 L222.5 183.8 L223.0 184.0 L223.5 184.0 L224.0 183.9 L224.5 183.5 L225.0 183.0 L225.5 182.3 L226.0 181.5 L226.5 180.4 L227.0 179.3 L227.5 177.9 L228.0 176.4 L228.5 174.7 L229.0 172.9 L229.5 171.0 L230.0 168.9 L230.5 166.7 L231.0 164.4 L231.5 162.0 L232.0 159.4 L232.5 156.8 L233.0 154.1 L233.5 151.3 L234.0 148.4 L234.5 145.5 L235.0 142.6 L235.5 139.6 L236.0 136.5 L236.5 133.5 L237.0 130.5 L237.5 127.4 L238.0 124.4 L238.5 121.4 L239.0 118.4 L239.5 115.5 L240.0 112.6 L240.5 109.8 L241.0 107.1 L241.5 104.5 L242.0 101.9 L242.5 99.4 L243.0 97.1 L243.5 94.9 L244.0 92.8 L244.5 90.8 L245.0 89.0 L245.5 87.3 L246.0 85.7 L246.5 84.4 L247.0 83.1 L247.5 82.1 L248.0 81.2 L248.5 80.5 L249.0 79.9 L249.5 79.6 L250.0 79.4 L250.5 79.3 L251.0 79.5 L251.5 79.8 L252.0 80.3 L252.5 81.0 L253.0 81.8 L253.5 82.8 L254.0 83.9 L254.5 85.2 L255.0 86.6 L255.5 88.2 L256.0 90.0 L256.5 91.8 L257.0 93.8 L257.5 95.9 L258.0 98.2 L258.5 100.5 L259.0 103.0 L259.5 105.5 L260.0 108.1 L260.5 110.8 L261.0 113.6 L261.5 116.4 L262.0 119.3 L262.5 122.2 L263.0 125.1 L263.5 128.1 L264.0 131.1 L264.5 134.1 L265.0 137.0 L265.5 140.0 L266.0 142.9 L266.5 145.8 L267.0 148.6 L267.5 151.4 L268.0 154.2 L268.5 156.8 L269.0 159.4 L269.5 161.9 L270.0 164.3 L270.5 166.5 L271.0 168.7 L271.5 170.7 L272.0 172.7 L272.5 174.4 L273.0 176.1 L273.5 177.6 L274.0 179.0 L274.5 180.2 L275.0 181.2 L275.5 182.1 L276.0 182.8 L276.5 183.4 L277.0 183.8 L277.5 184.0 L278.0 184.0 L278.5 183.9 L279.0 183.6 L279.5 183.1 L280.0 182.5 L280.5 181.7 L281.0 180.7 L281.5 179.5 L282.0 178.2 L282.5 176.8 L283.0 175.1 L283.5 173.4 L284.0 171.5 L284.5 169.4 L285.0 167.3 L285.5 165.0 L286.0 162.6 L286.5 160.1 L287.0 157.5 L287.5 154.8 L288.0 152.1 L288.5 149.2 L289.0 146.3 L289.5 143.4 L290.0 140.4 L290.5 137.4 L291.0 134.4 L291.5 131.4 L292.0 128.3 L292.5 125.3 L293.0 122.3 L293.5 119.4 L294.0 116.4 L294.5 113.5 L295.0 110.7 L295.5 108.0 L296.0 105.3 L296.5 102.7 L297.0 100.3 L297.5 97.9 L298.0 95.6 L298.5 93.5 L299.0 91.5 L299.5 89.6 L300.0 87.9 L300.5 86.3 L301.0 84.9 L301.5 83.6 L302.0 82.5 L302.5 81.5 L303.0 80.7 L303.5 80.1 L304.0 79.7 L304.5 79.4 L305.0 79.3 L305.5 79.4 L306.0 79.7 L306.5 80.1 L307.0 80.7 L307.5 81.4 L308.0 82.3 L308.5 83.4 L309.0 84.7 L309.5 86.0 L310.0 87.6 L310.5 89.3 L311.0 91.1 L311.5 93.0 L312.0 95.1 L312.5 97.3 L313.0 99.6 L313.5 102.0 L314.0 104.5 L314.5 107.1 L315.0 109.7 L315.5 112.5 L316.0 115.3 L316.5 118.1 L317.0 121.0 L317.5 124.0 L318.0 126.9 L318.5 129.9 L319.0 132.9 L319.5 135.8 L320.0 138.8 L320.5 141.7 L321.0 144.6 L321.5 147.5 L322.0 150.3 L322.5 153.1 L323.0 155.8 L323.5 158.4 L324.0 160.9 L324.5 163.3 L325.0 165.6 L325.5 167.8 L326.0 169.9 L326.5 171.9 L327.0 173.7 L327.5 175.5 L328.0 177.0 L328.5 178.4 L329.0 179.7 L329.5 180.8 L330.0 181.8 L330.5 182.5 L331.0 183.2 L331.5 183.6 L332.0 183.9 L332.5 184.0 L333.0 184.0 L333.5 183.7 L334.0 183.3 L334.5 182.8 L335.0 182.0 L335.5 181.1 L336.0 180.0 L336.5 178.8 L337.0 177.4 L337.5 175.8 L338.0 174.1 L338.5 172.3 L339.0 170.3 L339.5 168.2 L340.0 165.9 L340.5 163.6 L341.0 161.1 L341.5 158.6 L342.0 155.9 L342.5 153.2 L343.0 150.4 L343.5 147.5 L344.0 144.6 L344.5 141.6 L345.0 138.6 L345.5 135.6 L346.0 132.6 L346.5 129.6 L347.0 126.5 L347.5 123.5 L348.0 120.5 L348.5 117.6 L349.0 114.7 L349.5 111.9 L350.0 109.1 L350.5 106.4 L351.0 103.8 L351.5 101.2 L352.0 98.8 L352.5 96.5 L353.0 94.3 L353.5 92.3 L354.0 90.3 L354.5 88.6 L355.0 86.9 L355.5 85.4 L356.0 84.1 L356.5 82.9 L357.0 81.9 L357.5 81.0 L358.0 80.3 L358.5 79.8 L359.0 79.5 L359.5 79.3 L360.0 79.4 L360.5 79.5 L361.0 79.9 L361.5 80.4 L362.0 81.1 L362.5 81.9 L363.0 82.9 L363.5 84.0 L364.0 85.3 L364.5 86.7 L365.0 88.3 L365.5 90.0 L366.0 91.9 L366.5 93.8 L367.0 95.9 L367.5 98.1 L368.0 100.4 L368.5 102.8 L369.0 105.3 L369.5 107.9 L370.0 110.6 L370.5 113.3 L371.0 116.1 L371.5 118.9 L372.0 121.8 L372.5 124.6 L373.0 127.6 L373.5 130.5 L374.0 133.4 L374.5 136.4 L375.0 139.3 L375.5 142.2 L376.0 145.0 L376.5 147.9 L377.0 150.6 L377.5 153.3 L378.0 156.0 L378.5 158.5 L379.0 161.0 L379.5 163.4 L380.0 165.7 L380.5 167.9 L381.0 169.9 L381.5 171.9 L382.0 173.7 L382.5 175.4 L383.0 176.9 L383.5 178.3 L384.0 179.6 L384.5 180.7 L385.0 181.6 L385.5 182.4 L386.0 183.1 L386.5 183.6 L387.0 183.9 L387.5 184.0 L388.0 184.0 L388.5 183.8 L389.0 183.4 L389.5 182.9 L390.0 182.2 L390.5 181.3 L391.0 180.2 L391.5 179.0 L392.0 177.6 L392.5 176.0 L393.0 174.3 L393.5 172.5 L394.0 170.5 L394.5 168.4 L395.0 166.1 L395.5 163.8 L396.0 161.3 L396.5 158.7 L397.0 156.1 L397.5 153.3 L398.0 150.5 L398.5 147.6 L399.0 144.7 L399.5 141.7 L400.0 138.7 L400.5 135.6 L401.0 132.6 L401.5 129.5 L402.0 126.5 L402.5 123.5 L403.0 120.5 L403.5 117.5 L404.0 114.6 L404.5 111.7 L405.0 108.9 L405.5 106.2 L406.0 103.6 L406.5 101.1 L407.0 98.6 L407.5 96.3 L408.0 94.1 L408.5 92.1 L409.0 90.1 L409.5 88.3 L410.0 86.7 L410.5 85.2 L411.0 83.9 L411.5 82.7 L412.0 81.7 L412.5 80.9 L413.0 80.2 L413.5 79.8 L414.0 79.5 L414.5 79.3 L415.0 79.4 L415.5 79.6 L416.0 80.0 L416.5 80.6 L417.0 81.3 L417.5 82.2 L418.0 83.2 L418.5 84.4 L419.0 85.8 L419.5 87.3 L420.0 89.0 L420.5 90.8 L421.0 92.7 L421.5 94.8 L422.0 96.9 L422.5 99.2 L423.0 101.6 L423.5 104.1 L424.0 106.7 L424.5 109.4 L425.0 112.1 L425.5 114.9 L426.0 117.8 L426.5 120.7 L427.0 123.6 L427.5 126.6 L428.0 129.6 L428.5 132.6 L429.0 135.6 L429.5 138.5 L430.0 141.5 L430.5 144.4 L431.0 147.3 L431.5 150.1 L432.0 152.9 L432.5 155.6 L433.0 158.2 L433.5 160.7 L434.0 163.2 L434.5 165.5 L435.0 167.7 L435.5 169.8 L436.0 171.8 L436.5 173.7 L437.0 175.4 L437.5 177.0 L438.0 178.4 L438.5 179.7 L439.0 180.8 L439.5 181.7 L440.0 182.5 L440.5 183.2 L441.0 183.6 L441.5 183.9 L442.0 184.0 L442.5 184.0 L443.0 183.8 L443.5 183.4 L444.0 182.8 L444.5 182.1 L445.0 181.2 L445.5 180.1 L446.0 178.9 L446.5 177.6 L447.0 176.0 L447.5 174.4 L448.0 172.6 L448.5 170.6 L449.0 168.6 L449.5 166.4 L450.0 164.1 L450.5 161.7 L451.0 159.2 L451.5 156.6 L452.0 154.0 L452.5 151.2 L453.0 148.4 L453.5 145.6 L454.0 142.7 L454.5 139.7 L455.0 136.8 L455.5 133.8 L456.0 130.8 L456.5 127.8 L457.0 124.8 L457.5 121.9 L458.0 118.9 L458.5 116.1 L459.0 113.2 L459.5 110.5 L460.0 107.8 L460.5 105.2 L461.0 102.6 L461.5 100.2 L462.0 97.8 L462.5 95.6 L463.0 93.5 L463.5 91.5 L464.0 89.7 L464.5 88.0 L465.0 86.4 L465.5 85.0 L466.0 83.7 L466.5 82.6 L467.0 81.6 L467.5 80.8 L468.0 80.2 L468.5 79.7 L469.0 79.4 L469.5 79.3 L470.0 79.4 L470.5 79.6 L471.0 80.0 L471.5 80.5 L472.0 81.2 L472.5 82.0 L473.0 83.0 L473.5 84.1 L474.0 85.4 L474.5 86.8 L475.0 88.4 L475.5 90.1 L476.0 91.9 L476.5 93.8 L477.0 95.9 L477.5 98.1 L478.0 100.3 L478.5 102.7 L479.0 105.2 L479.5 107.7 L480.0 110.3 L480.5 113.0 L481.0 115.7 L481.5 118.5 L482.0 121.3 L482.5 124.2 L483.0 127.0 L483.5 129.9 L484.0 132.8 L484.5 135.7 L485.0 138.6 L485.5 141.5 L486.0 144.3 L486.5 147.1 L487.0 149.8 L487.5 152.5 L488.0 155.1 L488.5 157.7 L489.0 160.2 L489.5 162.5 L490.0 164.8 L490.5 167.0 L491.0 169.1 L491.5 171.1 L492.0 172.9 L492.5 174.6 L493.0 176.2 L493.5 177.7 L494.0 179.0 L494.5 180.2 L495.0 181.2 L495.5 182.0 L496.0 182.8 L496.5 183.3 L497.0 183.7 L497.5 183.9 L498.0 184.0 L498.5 183.9 L499.0 183.7 L499.5 183.2 L500.0 182.6 L500.5 181.8 L501.0 180.9 L501.5 179.8 L502.0 178.5 L502.5 177.1 L503.0 175.5 L503.5 173.7 L504.0 171.9 L504.5 169.9 L505.0 167.7 L505.5 165.5 L506.0 163.1 L506.5 160.6 L507.0 158.0 L507.5 155.4 L508.0 152.6 L508.5 149.8 L509.0 146.9 L509.5 144.0 L510.0 141.0 L510.5 138.0 L511.0 135.0 L511.5 132.0 L512.0 128.9 L512.5 125.9 L513.0 122.9 L513.5 119.9 L514.0 117.0 L514.5 114.1 L515.0 111.3 L515.5 108.5 L516.0 105.9 L516.5 103.3 L517.0 100.8 L517.5 98.4 L518.0 96.1 L518.5 93.9 L519.0 91.9 L519.5 90.0 L520.0 88.2 L520.5 86.6 L521.0 85.1 L521.5 83.8 L522.0 82.7 L522.5 81.7 L523.0 80.9 L523.5 80.2 L524.0 79.7 L524.5 79.5 L525.0 79.3 L525.5 79.4 L526.0 79.6 L526.5 80.0 L527.0 80.5 L527.5 81.3 L528.0 82.1 L528.5 83.2 L529.0 84.4 L529.5 85.8 L530.0 87.3 L530.5 88.9 L531.0 90.7 L531.5 92.6 L532.0 94.7 L532.5 96.8 L533.0 99.1 L533.5 101.5 L534.0 104.0 L534.5 106.5 L535.0 109.2 L535.5 111.9 L536.0 114.7 L536.5 117.6 L537.0 120.4 L537.5 123.4 L538.0 126.3 L538.5 129.3 L539.0 132.3 L539.5 135.2 L540.0 138.2 L540.5 141.2 L541.0 144.1 L541.5 146.9 L542.0 149.8 L542.5 152.5 L543.0 155.2 L543.5 157.9 L544.0 160.4 L544.5 162.8 L545.0 165.2 L545.5 167.4 L546.0 169.5 L546.5 171.5 L547.0 173.4 L547.5 175.1 L548.0 176.7 L548.5 178.2 L549.0 179.5 L549.5 180.6 L550.0 181.6 L550.5 182.4 L551.0 183.1 L551.5 183.5 L552.0 183.9 L552.5 184.0 L553.0 184.0 L553.5 183.8 L554.0 183.5 L554.5 183.0 L555.0 182.3 L555.5 181.5 L556.0 180.5 L556.5 179.3 L557.0 178.1 L557.5 176.6 L558.0 175.0 L558.5 173.3 L559.0 171.5 L559.5 169.5 L560.0 167.4 L560.5 165.2 L561.0 162.9 L561.5 160.5 L562.0 158.0 L562.5 155.4 L563.0 152.8 L563.5 150.1 L564.0 147.3 L564.5 144.5 L565.0 141.6 L565.5 138.7 L566.0 135.8 L566.5 132.9 L567.0 129.9 L567.5 127.0 L568.0 124.1 L568.5 121.2 L569.0 118.3 L569.5 115.5 L570.0 112.7 L570.5 110.0 L571.0 107.4 L571.5 104.8 L572.0 102.3 L572.5 100.0 L573.0 97.7 L573.5 95.5 L574.0 93.4 L574.5 91.5 L575.0 89.7 L575.5 88.0 L576.0 86.4 L576.5 85.0 L577.0 83.8 L577.5 82.7 L578.0 81.7 L578.5 80.9 L579.0 80.3 L579.5 79.8 L580.0 79.5 L580.5 79.3 L581.0 79.4 L581.5 79.5 L582.0 79.9 L582.5 80.5 L583.0 81.2 L583.5 82.1 L584.0 83.1 L584.5 84.3 L585.0 85.7 L585.5 87.2 L586.0 88.9 L586.5 90.7 L587.0 92.7 L587.5 94.8 L588.0 97.0 L588.5 99.3 L589.0 101.7 L589.5 104.3 L590.0 106.9 L590.5 109.6 L591.0 112.4 L591.5 115.3 L592.0 118.2 L592.5 121.1 L593.0 124.1 L593.5 127.1 L594.0 130.2 L594.5 133.2 L595.0 136.2 L595.5 139.2 L596.0 142.2 L596.5 145.2 L597.0 148.1 L597.5 150.9 L598.0 153.7 L598.5 156.4 L599.0 159.1 L599.5 161.6 L600.0 164.0 L600.5 166.4 L601.0 168.6 L601.5 170.7 L602.0 172.6 L602.5 174.5 L603.0 176.1 L603.5 177.7 L604.0 179.0 L604.5 180.2 L605.0 181.3 L605.5 182.2 L606.0 182.9 L606.5 183.4 L607.0 183.8 L607.5 184.0 L608.0 184.0 L608.5 183.9 L609.0 183.6 L609.5 183.1 L610.0 182.5 L610.5 181.7 L611.0 180.8 L611.5 179.7 L612.0 178.4 L612.5 177.1 L613.0 175.5 L613.5 173.9 L614.0 172.1 L614.5 170.2 L615.0 168.2 L615.5 166.0 L616.0 163.8 L616.5 161.5 L617.0 159.0 L617.5 156.5 L618.0 153.9 L618.5 151.2 L619.0 148.5 L619.5 145.7 L620.0 142.9 L620.5 140.1 L621.0 137.2 L621.5 134.3 L622.0 131.4 L622.5 128.5 L623.0 125.6 L623.5 122.7 L624.0 119.9 L624.5 117.1 L625.0 114.3 L625.5 111.6 L626.0 108.9 L626.5 106.3 L627.0 103.8 L627.5 101.4 L628.0 99.1 L628.5 96.9 L629.0 94.8 L629.5 92.8 L630.0 90.9 L630.5 89.1 L631.0 87.5 L631.5 86.0 L632.0 84.7 L632.5 83.4 L633.0 82.4 L633.5 81.5 L634.0 80.7 L634.5 80.1 L635.0 79.7 L635.5 79.4 L636.0 79.3 L636.5 79.4 L637.0 79.6 L637.5 80.0 L638.0 80.5 L638.5 81.2 L639.0 82.1 L639.5 83.1 L640.0 84.3 L640.5 85.7 L641.0 87.1 L641.5 88.8 L642.0 90.5 L642.5 92.4 L643.0 94.4 L643.5 96.6 L644.0 98.8 L644.5 101.2 L645.0 103.6 L645.5 106.2 L646.0 108.8 L646.5 111.5 L647.0 114.3 L647.5 117.1 L648.0 119.9 L648.5 122.8 L649.0 125.8 L649.5 128.7 L650.0 131.7 L650.5 134.6 L651.0 137.6 L651.5 140.5 L652.0 143.4 L652.5 146.3 L653.0 149.1 L653.5 151.8 L654.0 154.5 L654.5 157.2 L655.0 159.7 L655.5 162.2 L656.0 164.5 L656.5 166.8 L657.0 168.9 L657.5 170.9 L658.0 172.8" fill="none" stroke="#ff00ff" stroke-width="2.5" stroke-linejoin="round" stroke-dasharray="9.3 2.2 1.7 2.2" clip-path="url(#c0)"/>
<path d="M125.0 131.7 L125.5 131.2 L126.0 130.3 L126.5 129.3 L127.0 128.1 L127.5 126.8 L128.0 125.4 L128.5 123.9 L129.0 122.3 L129.5 120.6 L130.0 118.9 L130.5 117.2 L131.0 115.3 L131.5 113.5 L132.0 111.6 L132.5 109.7 L133.0 107.7 L133.5 105.8 L134.0 103.9 L134.5 101.9 L135.0 100.0 L135.5 98.2 L136.0 96.3 L136.5 94.5 L137.0 92.8 L137.5 91.1 L138.0 89.5 L138.5 88.0 L139.0 86.5 L139.5 85.2 L140.0 84.0 L140.5 82.9 L141.0 81.9 L141.5 81.1 L142.0 80.4 L142.5 79.9 L143.0 79.5 L143.5 79.4 L144.0 79.3 L144.5 79.5 L145.0 79.9 L145.5 80.4 L146.0 81.1 L146.5 82.0 L147.0 83.1 L147.5 84.4 L148.0 85.8 L148.5 87.4 L149.0 89.1 L149.5 91.0 L150.0 93.0 L150.5 95.2 L151.0 97.5 L151.5 100.0 L152.0 102.5 L152.5 105.1 L153.0 107.9 L153.5 110.7 L154.0 113.6 L154.5 116.6 L155.0 119.6 L155.5 122.7 L156.0 125.7 L156.5 128.9 L157.0 132.0 L157.5 135.1 L158.0 138.2 L158.5 141.3 L159.0 144.4 L159.5 147.4 L160.0 150.3 L160.5 153.2 L161.0 156.0 L161.5 158.8 L162.0 161.4 L162.5 163.9 L163.0 166.3 L163.5 168.6 L164.0 170.7 L164.5 172.7 L165.0 174.6 L165.5 176.3 L166.0 177.9 L166.5 179.3 L167.0 180.5 L167.5 181.5 L168.0 182.4 L168.5 183.1 L169.0 183.6 L169.5 183.9 L170.0 184.0 L170.5 184.0 L171.0 183.7 L171.5 183.3 L172.0 182.7 L172.5 182.0 L173.0 181.0 L173.5 179.9 L174.0 178.7 L174.5 177.2 L175.0 175.6 L175.5 173.9 L176.0 172.0 L176.5 170.0 L177.0 167.8 L177.5 165.5 L178.0 163.1 L178.5 160.6 L179.0 158.0 L179.5 155.3 L180.0 152.6 L180.5 149.7 L181.0 146.8 L181.5 143.8 L182.0 140.8 L182.5 137.8 L183.0 134.7 L183.5 131.7 L184.0 128.6 L184.5 125.6 L185.0 122.5 L185.5 119.5 L186.0 116.6 L186.5 113.6 L187.0 110.8 L187.5 108.0 L188.0 105.3 L188.5 102.7 L189.0 100.2 L189.5 97.8 L190.0 95.5 L190.5 93.4 L191.0 91.4 L191.5 89.5 L192.0 87.7 L192.5 86.1 L193.0 84.7 L193.5 83.4 L194.0 82.3 L194.5 81.4 L195.0 80.6 L195.5 80.0 L196.0 79.6 L196.5 79.4 L197.0 79.3 L197.5 79.5 L198.0 79.8 L198.5 80.3 L199.0 80.9 L199.5 81.8 L200.0 82.8 L200.5 84.1 L201.0 85.4 L201.5 87.0 L202.0 88.7 L202.5 90.5 L203.0 92.5 L203.5 94.7 L204.0 96.9 L204.5 99.3 L205.0 101.8 L205.5 104.4 L206.0 107.1 L206.5 109.9 L207.0 112.8 L207.5 115.7 L208.0 118.7 L208.5 121.8 L209.0 124.8 L209.5 127.9 L210.0 131.1 L210.5 134.2 L211.0 137.3 L211.5 140.4 L212.0 143.4 L212.5 146.4 L213.0 149.4 L213.5 152.3 L214.0 155.1 L214.5 157.9 L215.0 160.5 L215.5 163.1 L216.0 165.5 L216.5 167.8 L217.0 170.0 L217.5 172.0 L218.0 174.0 L218.5 175.7 L219.0 177.3 L219.5 178.8 L220.0 180.0 L220.5 181.2 L221.0 182.1 L221.5 182.8 L222.0 183.4 L222.5 183.8 L223.0 184.0 L223.5 184.0 L224.0 183.9 L224.5 183.5 L225.0 183.0 L225.5 182.3 L226.0 181.5 L226.5 180.4 L227.0 179.3 L227.5 177.9 L228.0 176.4 L228.5 174.7 L229.0 172.9 L229.5 171.0 L230.0 168.9 L230.5 166.7 L231.0 164.4 L231.5 162.0 L232.0 159.4 L232.5 156.8 L233.0 154.1 L233.5 151.3 L234.0 148.4 L234.5 145.5 L235.0 142.6 L235.5 139.6 L236.0 136.5 L236.5 133.5 L237.0 130.5 L237.5 127.4 L238.0 124.4 L238.5 121.4 L239.0 118.4 L239.5 115.5 L240.0 112.6 L240.5 109.8 L241.0 107.1 L241.5 104.5 L242.0 101.9 L242.5 99.4 L243.0 97.1 L243.5 94.9 L244.0 92.8 L244.5 90.8 L245.0 89.0 L245.5 87.3 L246.0 85.7 L246.5 84.4 L247.0 83.1 L247.5 82.1 L248.0 81.2 L248.5 80.5 L249.0 79.9 L249.5 79.6 L250.0 79.4 L250.5 79.3 L251.0 79.5 L251.5 79.8 L252.0 80.3 L252.5 81.0 L253.0 81.8 L253.5 82.8 L254.0 83.9 L254.5 85.2 L255.0 86.6 L255.5 88.2 L256.0 90.0 L256.5 91.8 L257.0 93.8 L257.5 95.9 L258.0 98.2 L258.5 100.5 L259.0 103.0 L259.5 105.5 L260.0 108.1 L260.5 110.8 L261.0 113.6 L261.5 116.4 L262.0 119.3 L262.5 122.2 L263.0 125.1 L263.5 128.1 L264.0 131.1 L264.5 134.1 L265.0 137.0 L265.5 140.0 L266.0 142.9 L266.5 145.8 L267.0 148.6 L267.5 151.4 L268.0 154.2 L268.5 156.8 L269.0 159.4 L269.5 161.9 L270.0 164.3 L270.5 166.5 L271.0 168.7 L271.5 170.7 L272.0 172.7 L272.5 174.4 L273.0 176.1 L273.5 177.6 L274.0 179.0 L274.5 180.2 L275.0 181.2 L275.5 182.1 L276.0 182.8 L276.5 183.4 L277.0 183.8 L277.5 184.0 L278.0 184.0 L278.5 183.9 L279.0 183.6 L279.5 183.1 L280.0 182.5 L280.5 181.7 L281.0 180.7 L281.5 179.5 L282.0 178.2 L282.5 176.8 L283.0 175.1 L283.5 173.4 L284.0 171.5 L284.5 169.4 L285.0 167.3 L285.5 165.0 L286.0 162.6 L286.5 160.1 L287.0 157.5 L287.5 154.8 L288.0 152.1 L288.5 149.2 L289.0 146.3 L289.5 143.4 L290.0 140.4 L290.5 137.4 L291.0 134.4 L291.5 131.4 L292.0 128.3 L292.5 125.3 L293.0 122.3 L293.5 119.4 L294.0 116.4 L294.5 113.5 L295.0 110.7 L295.5 108.0 L296.0 105.3 L296.5 102.7 L297.0 100.3 L297.5 97.9 L298.0 95.6 L298.5 93.5 L299.0 91.5 L299.5 89.6 L300.0 87.9 L300.5 86.3 L301.0 84.9 L301.5 83.6 L302.0 82.5 L302.5 81.5 L303.0 80.7 L303.5 80.1 L304.0 79.7 L304.5 79.4 L305.0 79.3 L305.5 79.4 L306.0 79.7 L306.5 80.1 L307.0 80.7 L307.5 81.4 L308.0 82.3 L308.5 83.4 L309.0 84.7 L309.5 86.0 L310.0 87.6 L310.5 89.3 L311.0 91.1 L311.5 93.0 L312.0 95.1 L312.5 97.3 L313.0 99.6 L313.5 102.0 L314.0 104.5 L314.5 107.1 L315.0 109.7 L315.5 112.5 L316.0 115.3 L316.5 118.1 L317.0 121.0 L317.5 124.0 L318.0 126.9 L318.5 129.9 L319.0 132.9 L319.5 135.8 L320.0 138.8 L320.5 141.7 L321.0 144.6 L321.5 147.5 L322.0 150.3 L322.5 153.1 L323.0 155.8 L323.5 158.4 L324.0 160.9 L324.5 163.3 L325.0 165.6 L325.5 167.8 L326.0 169.9 L326.5 171.9 L327.0 173.7 L327.5 175.5 L328.0 177.0 L328.5 178.4 L329.0 179.7 L329.5 180.8 L330.0 181.8 L330.5 182.5 L331.0 183.2 L331.5 183.6 L332.0 183.9 L332.5 184.0 L333.0 184.0 L333.5 183.7 L334.0 183.3 L334.5 182.8 L335.0 182.0 L335.5 181.1 L336.0 180.0 L336.5 178.8 L337.0 177.4 L337.5 175.8 L338.0 174.1 L338.5 172.3 L339.0 170.3 L339.5 168.2 L340.0 165.9 L340.5 163.6 L341.0 161.1 L341.5 158.6 L342.0 155.9 L342.5 153.2 L343.0 150.4 L343.5 147.5 L344.0 144.6 L344.5 141.6 L345.0 138.6 L345.5 135.6 L346.0 132.6 L346.5 129.6 L347.0 126.5 L347.5 123.5 L348.0 120.5 L348.5 117.6 L349.0 114.7 L349.5 111.9 L350.0 109.1 L350.5 106.4 L351.0 103.8 L351.5 101.2 L352.0 98.8 L352.5 96.5 L353.0 94.3 L353.5 92.3 L354.0 90.3 L354.5 88.6 L355.0 86.9 L355.5 85.4 L356.0 84.1 L356.5 82.9 L357.0 81.9 L357.5 81.0 L358.0 80.3 L358.5 79.8 L359.0 79.5 L359.5 79.3 L360.0 79.4 L360.5 79.5 L361.0 79.9 L361.5 80.4 L362.0 81.1 L362.5 81.9 L363.0 82.9 L363.5 84.0 L364.0 85.3 L364.5 86.7 L365.0 88.3 L365.5 90.0 L366.0 91.9 L366.5 93.8 L367.0 95.9 L367.5 98.1 L368.0 100.4 L368.5 102.8 L369.0 105.3 L369.5 107.9 L370.0 110.6 L370.5 113.3 L371.0 116.1 L371.5 118.9 L372.0 121.8 L372.5 124.6 L373.0 127.6 L373.5 130.5 L374.0 133.4 L374.5 136.4 L375.0 139.3 L375.5 142.2 L376.0 145.0 L376.5 147.9 L377.0 150.6 L377.5 153.3 L378.0 156.0 L378.5 158.5 L379.0 161.0 L379.5 163.4 L380.0 165.7 L380.5 167.9 L381.0 169.9 L381.5 171.9 L382.0 173.7 L382.5 175.4 L383.0 176.9 L383.5 178.3 L384.0 179.6 L384.5 180.7 L385.0 181.6 L385.5 182.4 L386.0 183.1 L386.5 183.6 L387.0 183.9 L387.5 184.0 L388.0 184.0 L388.5 183.8 L389.0 183.4 L389.5 182.9 L390.0 182.2 L390.5 181.3 L391.0 180.2 L391.5 179.0 L392.0 177.6 L392.5 176.0 L393.0 174.3 L393.5 172.5 L394.0 170.5 L394.5 168.4 L395.0 166.1 L395.5 163.8 L396.0 161.3 L396.5 158.7 L397.0 156.1 L397.5 153.3 L398.0 150.5 L398.5 147.6 L399.0 144.7 L399.5 141.7 L400.0 138.7 L400.5 135.6 L401.0 132.6 L401.5 129.5 L402.0 126.5 L402.5 123.5 L403.0 120.5 L403.5 117.5 L404.0 114.6 L404.5 111.7 L405.0 108.9 L405.5 106.2 L406.0 103.6 L406.5 101.1 L407.0 98.6 L407.5 96.3 L408.0 94.1 L408.5 92.1 L409.0 90.1 L409.5 88.3 L410.0 86.7 L410.5 85.2 L411.0 83.9 L411.5 82.7 L412.0 81.7 L412.5 80.9 L413.0 80.2 L413.5 79.8 L414.0 79.5 L414.5 79.3 L415.0 79.4 L415.5 79.6 L416.0 80.0 L416.5 80.6 L417.0 81.3 L417.5 82.2 L418.0 83.2 L418.5 84.4 L419.0 85.8 L419.5 87.3 L420.0 89.0 L420.5 90.8 L421.0 92.7 L421.5 94.8 L422.0 96.9 L422.5 99.2 L423.0 101.6 L423.5 104.1 L424.0 106.7 L424.5 109.4 L425.0 112.1 L425.5 114.9 L426.0 117.8 L426.5 120.7 L427.0 123.6 L427.5 126.6 L428.0 129.6 L428.5 132.6 L429.0 135.6 L429.5 138.5 L430.0 141.5 L430.5 144.4 L431.0 147.3 L431.5 150.1 L432.0 152.9 L432.5 155.6 L433.0 158.2 L433.5 160.7 L434.0 163.2 L434.5 165.5 L435.0 167.7 L435.5 169.8 L436.0 171.8 L436.5 173.7 L437.0 175.4 L437.5 177.0 L438.0 178.4 L438.5 179.7 L439.0 180.8 L439.5 181.7 L440.0 182.5 L440.5 183.2 L441.0 183.6 L441.5 183.9 L442.0 184.0 L442.5 184.0 L443.0 183.8 L443.5 183.4 L444.0 182.8 L444.5 182.1 L445.0 181.2 L445.5 180.1 L446.0 178.9 L446.5 177.6 L447.0 176.0 L447.5 174.4 L448.0 172.6 L448.5 170.6 L449.0 168.6 L449.5 166.4 L450.0 164.1 L450.5 161.7 L451.0 159.2 L451.5 156.6 L452.0 154.0 L452.5 151.2 L453.0 148.4 L453.5 145.6 L454.0 142.7 L454.5 139.7 L455.0 136.8 L455.5 133.8 L456.0 130.8 L456.5 127.8 L457.0 124.8 L457.5 121.9 L458.0 118.9 L458.5 116.1 L459.0 113.2 L459.5 110.5 L460.0 107.8 L460.5 105.2 L461.0 102.6 L461.5 100.2 L462.0 97.8 L462.5 95.6 L463.0 93.5 L463.5 91.5 L464.0 89.7 L464.5 88.0 L465.0 86.4 L465.5 85.0 L466.0 83.7 L466.5 82.6 L467.0 81.6 L467.5 80.8 L468.0 80.2 L468.5 79.7 L469.0 79.4 L469.5 79.3 L470.0 79.4 L470.5 79.6 L471.0 80.0 L471.5 80.5 L472.0 81.2 L472.5 82.0 L473.0 83.0 L473.5 84.1 L474.0 85.4 L474.5 86.8 L475.0 88.4 L475.5 90.1 L476.0 91.9 L476.5 93.8 L477.0 95.9 L477.5 98.1 L478.0 100.3 L478.5 102.7 L479.0 105.2 L479.5 107.7 L480.0 110.3 L480.5 113.0 L481.0 115.7 L481.5 118.5 L482.0 121.3 L482.5 124.2 L483.0 127.0 L483.5 129.9 L484.0 132.8 L484.5 135.7 L485.0 138.6 L485.5 141.5 L486.0 144.3 L486.5 147.1 L487.0 149.8 L487.5 152.5 L488.0 155.1 L488.5 157.7 L489.0 160.2 L489.5 162.5 L490.0 164.8 L490.5 167.0 L491.0 169.1 L491.5 171.1 L492.0 172.9 L492.5 174.6 L493.0 176.2 L493.5 177.7 L494.0 179.0 L494.5 180.2 L495.0 181.2 L495.5 182.0 L496.0 182.8 L496.5 183.3 L497.0 183.7 L497.5 183.9 L498.0 184.0 L498.5 183.9 L499.0 183.7 L499.5 183.2 L500.0 182.6 L500.5 181.8 L501.0 180.9 L501.5 179.8 L502.0 178.5 L502.5 177.1 L503.0 175.5 L503.5 173.7 L504.0 171.9 L504.5 169.9 L505.0 167.7 L505.5 165.5 L506.0 163.1 L506.5 160.6 L507.0 158.0 L507.5 155.4 L508.0 152.6 L508.5 149.8 L509.0 146.9 L509.5 144.0 L510.0 141.0 L510.5 138.0 L511.0 135.0 L511.5 132.0 L512.0 128.9 L512.5 125.9 L513.0 122.9 L513.5 119.9 L514.0 117.0 L514.5 114.1 L515.0 111.3 L515.5 108.5 L516.0 105.9 L516.5 103.3 L517.0 100.8 L517.5 98.4 L518.0 96.1 L518.5 93.9 L519.0 91.9 L519.5 90.0 L520.0 88.2 L520.5 86.6 L521.0 85.1 L521.5 83.8 L522.0 82.7 L522.5 81.7 L523.0 80.9 L523.5 80.2 L524.0 79.7 L524.5 79.5 L525.0 79.3 L525.5 79.4 L526.0 79.6 L526.5 80.0 L527.0 80.5 L527.5 81.3 L528.0 82.1 L528.5 83.2 L529.0 84.4 L529.5 85.8 L530.0 87.3 L530.5 88.9 L531.0 90.7 L531.5 92.6 L532.0 94.7 L532.5 96.8 L533.0 99.1 L533.5 101.5 L534.0 104.0 L534.5 106.5 L535.0 109.2 L535.5 111.9 L536.0 114.7 L536.5 117.6 L537.0 120.4 L537.5 123.4 L538.0 126.3 L538.5 129.3 L539.0 132.3 L539.5 135.2 L540.0 138.2 L540.5 141.2 L541.0 144.1 L541.5 146.9 L542.0 149.8 L542.5 152.5 L543.0 155.2 L543.5 157.9 L544.0 160.4 L544.5 162.8 L545.0 165.2 L545.5 167.4 L546.0 169.5 L546.5 171.5 L547.0 173.4 L547.5 175.1 L548.0 176.7 L548.5 178.2 L549.0 179.5 L549.5 180.6 L550.0 181.6 L550.5 182.4 L551.0 183.1 L551.5 183.5 L552.0 183.9 L552.5 184.0 L553.0 184.0 L553.5 183.8 L554.0 183.5 L554.5 183.0 L555.0 182.3 L555.5 181.5 L556.0 180.5 L556.5 179.3 L557.0 178.1 L557.5 176.6 L558.0 175.0 L558.5 173.3 L559.0 171.5 L559.5 169.5 L560.0 167.4 L560.5 165.2 L561.0 162.9 L561.5 160.5 L562.0 158.0 L562.5 155.4 L563.0 152.8 L563.5 150.1 L564.0 147.3 L564.5 144.5 L565.0 141.6 L565.5 138.7 L566.0 135.8 L566.5 132.9 L567.0 129.9 L567.5 127.0 L568.0 124.1 L568.5 121.2 L569.0 118.3 L569.5 115.5 L570.0 112.7 L570.5 110.0 L571.0 107.4 L571.5 104.8 L572.0 102.3 L572.5 100.0 L573.0 97.7 L573.5 95.5 L574.0 93.4 L574.5 91.5 L575.0 89.7 L575.5 88.0 L576.0 86.4 L576.5 85.0 L577.0 83.8 L577.5 82.7 L578.0 81.7 L578.5 80.9 L579.0 80.3 L579.5 79.8 L580.0 79.5 L580.5 79.3 L581.0 79.4 L581.5 79.5 L582.0 79.9 L582.5 80.5 L583.0 81.2 L583.5 82.1 L584.0 83.1 L584.5 84.3 L585.0 85.7 L585.5 87.2 L586.0 88.9 L586.5 90.7 L587.0 92.7 L587.5 94.8 L588.0 97.0 L588.5 99.3 L589.0 101.7 L589.5 104.3 L590.0 106.9 L590.5 109.6 L591.0 112.4 L591.5 115.3 L592.0 118.2 L592.5 121.1 L593.0 124.1 L593.5 127.1 L594.0 130.2 L594.5 133.2 L595.0 136.2 L595.5 139.2 L596.0 142.2 L596.5 145.2 L597.0 148.1 L597.5 150.9 L598.0 153.7 L598.5 156.4 L599.0 159.1 L599.5 161.6 L600.0 164.0 L600.5 166.4 L601.0 168.6 L601.5 170.7 L602.0 172.6 L602.5 174.5 L603.0 176.1 L603.5 177.7 L604.0 179.0 L604.5 180.2 L605.0 181.3 L605.5 182.2 L606.0 182.9 L606.5 183.4 L607.0 183.8 L607.5 184.0 L608.0 184.0 L608.5 183.9 L609.0 183.6 L609.5 183.1 L610.0 182.5 L610.5 181.7 L611.0 180.8 L611.5 179.7 L612.0 178.4 L612.5 177.1 L613.0 175.5 L613.5 173.9 L614.0 172.1 L614.5 170.2 L615.0 168.2 L615.5 166.0 L616.0 163.8 L616.5 161.5 L617.0 159.0 L617.5 156.5 L618.0 153.9 L618.5 151.2 L619.0 148.5 L619.5 145.7 L620.0 142.9 L620.5 140.1 L621.0 137.2 L621.5 134.3 L622.0 131.4 L622.5 128.5 L623.0 125.6 L623.5 122.7 L624.0 119.9 L624.5 117.1 L625.0 114.3 L625.5 111.6 L626.0 108.9 L626.5 106.3 L627.0 103.8 L627.5 101.4 L628.0 99.1 L628.5 96.9 L629.0 94.8 L629.5 92.8 L630.0 90.9 L630.5 89.1 L631.0 87.5 L631.5 86.0 L632.0 84.7 L632.5 83.4 L633.0 82.4 L633.5 81.5 L634.0 80.7 L634.5 80.1 L635.0 79.7 L635.5 79.4 L636.0 79.3 L636.5 79.4 L637.0 79.6 L637.5 80.0 L638.0 80.5 L638.5 81.2 L639.0 82.1 L639.5 83.1 L640.0 84.3 L640.5 85.7 L641.0 87.1 L641.5 88.8 L642.0 90.5 L642.5 92.4 L643.0 94.4 L643.5 96.6 L644.0 98.8 L644.5 101.2 L645.0 103.6 L645.5 106.2 L646.0 108.8 L646.5 111.5 L647.0 114.3 L647.5 117.1 L648.0 119.9 L648.5 122.8 L649.0 125.8 L649.5 128.7 L650.0 131.7 L650.5 134.6 L651.0 137.6 L651.5 140.5 L652.0 143.4 L652.5 146.3 L653.0 149.1 L653.5 151.8 L654.0 154.5 L654.5 157.2 L655.0 159.7 L655.5 162.2 L656.0 164.5 L656.5 166.8 L657.0 168.9 L657.5 170.9 L658.0 172.8" fill="none" stroke="#ff0000" stroke-width="2.5" stroke-linejoin="round" stroke-dasharray="1.45 1.4" clip-path="url(#c0)"/>
<path d="M125.0 131.7 L125.5 131.2 L126.0 130.3 L126.5 129.3 L127.0 128.1 L127.5 126.8 L128.0 125.4 L128.5 123.9 L129.0 122.3 L129.5 120.6 L130.0 118.9 L130.5 117.2 L131.0 115.3 L131.5 113.5 L132.0 111.6 L132.5 109.7 L133.0 107.7 L133.5 105.8 L134.0 103.9 L134.5 101.9 L135.0 100.0 L135.5 98.2 L136.0 96.3 L136.5 94.5 L137.0 92.8 L137.5 91.1 L138.0 89.5 L138.5 88.0 L139.0 86.5 L139.5 85.2 L140.0 84.0 L140.5 82.9 L141.0 81.9 L141.5 81.1 L142.0 80.4 L142.5 79.9 L143.0 79.5 L143.5 79.4 L144.0 79.3 L144.5 79.5 L145.0 79.9 L145.5 80.4 L146.0 81.1 L146.5 82.0 L147.0 83.1 L147.5 84.4 L148.0 85.8 L148.5 87.4 L149.0 89.1 L149.5 91.0 L150.0 93.0 L150.5 95.2 L151.0 97.5 L151.5 100.0 L152.0 102.5 L152.5 105.1 L153.0 107.9 L153.5 110.7 L154.0 113.6 L154.5 116.6 L155.0 119.6 L155.5 122.7 L156.0 125.7 L156.5 128.9 L157.0 132.0 L157.5 135.1 L158.0 138.2 L158.5 141.3 L159.0 144.4 L159.5 147.4 L160.0 150.3 L160.5 153.2 L161.0 156.0 L161.5 158.8 L162.0 161.4 L162.5 163.9 L163.0 166.3 L163.5 168.6 L164.0 170.7 L164.5 172.7 L165.0 174.6 L165.5 176.3 L166.0 177.9 L166.5 179.3 L167.0 180.5 L167.5 181.5 L168.0 182.4 L168.5 183.1 L169.0 183.6 L169.5 183.9 L170.0 184.0 L170.5 184.0 L171.0 183.7 L171.5 183.3 L172.0 182.7 L172.5 182.0 L173.0 181.0 L173.5 179.9 L174.0 178.7 L174.5 177.2 L175.0 175.6 L175.5 173.9 L176.0 172.0 L176.5 170.0 L177.0 167.8 L177.5 165.5 L178.0 163.1 L178.5 160.6 L179.0 158.0 L179.5 155.3 L180.0 152.6 L180.5 149.7 L181.0 146.8 L181.5 143.8 L182.0 140.8 L182.5 137.8 L183.0 134.7 L183.5 131.7 L184.0 128.6 L184.5 125.6 L185.0 122.5 L185.5 119.5 L186.0 116.6 L186.5 113.6 L187.0 110.8 L187.5 108.0 L188.0 105.3 L188.5 102.7 L189.0 100.2 L189.5 97.8 L190.0 95.5 L190.5 93.4 L191.0 91.4 L191.5 89.5 L192.0 87.7 L192.5 86.1 L193.0 84.7 L193.5 83.4 L194.0 82.3 L194.5 81.4 L195.0 80.6 L195.5 80.0 L196.0 79.6 L196.5 79.4 L197.0 79.3 L197.5 79.5 L198.0 79.8 L198.5 80.3 L199.0 80.9 L199.5 81.8 L200.0 82.8 L200.5 84.1 L201.0 85.4 L201.5 87.0 L202.0 88.7 L202.5 90.5 L203.0 92.5 L203.5 94.7 L204.0 96.9 L204.5 99.3 L205.0 101.8 L205.5 104.4 L206.0 107.1 L206.5 109.9 L207.0 112.8 L207.5 115.7 L208.0 118.7 L208.5 121.8 L209.0 124.8 L209.5 127.9 L210.0 131.1 L210.5 134.2 L211.0 137.3 L211.5 140.4 L212.0 143.4 L212.5 146.4 L213.0 149.4 L213.5 152.3 L214.0 155.1 L214.5 157.9 L215.0 160.5 L215.5 163.1 L216.0 165.5 L216.5 167.8 L217.0 170.0 L217.5 172.0 L218.0 174.0 L218.5 175.7 L219.0 177.3 L219.5 178.8 L220.0 180.0 L220.5 181.2 L221.0 182.1 L221.5 182.8 L222.0 183.4 L222.5 183.8 L223.0 184.0 L223.5 184.0 L224.0 183.9 L224.5 183.5 L225.0 183.0 L225.5 182.3 L226.0 181.5 L226.5 180.4 L227.0 179.3 L227.5 177.9 L228.0 176.4 L228.5 174.7 L229.0 172.9 L229.5 171.0 L230.0 168.9 L230.5 166.7 L231.0 164.4 L231.5 162.0 L232.0 159.4 L232.5 156.8 L233.0 154.1 L233.5 151.3 L234.0 148.4 L234.5 145.5 L235.0 142.6 L235.5 139.6 L236.0 136.5 L236.5 133.5 L237.0 130.5 L237.5 127.4 L238.0 124.4 L238.5 121.4 L239.0 118.4 L239.5 115.5 L240.0 112.6 L240.5 109.8 L241.0 107.1 L241.5 104.5 L242.0 101.9 L242.5 99.4 L243.0 97.1 L243.5 94.9 L244.0 92.8 L244.5 90.8 L245.0 89.0 L245.5 87.3 L246.0 85.7 L246.5 84.4 L247.0 83.1 L247.5 82.1 L248.0 81.2 L248.5 80.5 L249.0 79.9 L249.5 79.6 L250.0 79.4 L250.5 79.3 L251.0 79.5 L251.5 79.8 L252.0 80.3 L252.5 81.0 L253.0 81.8 L253.5 82.8 L254.0 83.9 L254.5 85.2 L255.0 86.6 L255.5 88.2 L256.0 90.0 L256.5 91.8 L257.0 93.8 L257.5 95.9 L258.0 98.2 L258.5 100.5 L259.0 103.0 L259.5 105.5 L260.0 108.1 L260.5 110.8 L261.0 113.6 L261.5 116.4 L262.0 119.3 L262.5 122.2 L263.0 125.1 L263.5 128.1 L264.0 131.1 L264.5 134.1 L265.0 137.0 L265.5 140.0 L266.0 142.9 L266.5 145.8 L267.0 148.6 L267.5 151.4 L268.0 154.2 L268.5 156.8 L269.0 159.4 L269.5 161.9 L270.0 164.3 L270.5 166.5 L271.0 168.7 L271.5 170.7 L272.0 172.7 L272.5 174.4 L273.0 176.1 L273.5 177.6 L274.0 179.0 L274.5 180.2 L275.0 181.2 L275.5 182.1 L276.0 182.8 L276.5 183.4 L277.0 183.8 L277.5 184.0 L278.0 184.0 L278.5 183.9 L279.0 183.6 L279.5 183.1 L280.0 182.5 L280.5 181.7 L281.0 180.7 L281.5 179.5 L282.0 178.2 L282.5 176.8 L283.0 175.1 L283.5 173.4 L284.0 171.5 L284.5 169.4 L285.0 167.3 L285.5 165.0 L286.0 162.6 L286.5 160.1 L287.0 157.5 L287.5 154.8 L288.0 152.1 L288.5 149.2 L289.0 146.3 L289.5 143.4 L290.0 140.4 L290.5 137.4 L291.0 134.4 L291.5 131.4 L292.0 128.3 L292.5 125.3 L293.0 122.3 L293.5 119.4 L294.0 116.4 L294.5 113.5 L295.0 110.7 L295.5 108.0 L296.0 105.3 L296.5 102.7 L297.0 100.3 L297.5 97.9 L298.0 95.6 L298.5 93.5 L299.0 91.5 L299.5 89.6 L300.0 87.9 L300.5 86.3 L301.0 84.9 L301.5 83.6 L302.0 82.5 L302.5 81.5 L303.0 80.7 L303.5 80.1 L304.0 79.7 L304.5 79.4 L305.0 79.3 L305.5 79.4 L306.0 79.7 L306.5 80.1 L307.0 80.7 L307.5 81.4 L308.0 82.3 L308.5 83.4 L309.0 84.7 L309.5 86.0 L310.0 87.6 L310.5 89.3 L311.0 91.1 L311.5 93.0 L312.0 95.1 L312.5 97.3 L313.0 99.6 L313.5 102.0 L314.0 104.5 L314.5 107.1 L315.0 109.7 L315.5 112.5 L316.0 115.3 L316.5 118.1 L317.0 121.0 L317.5 124.0 L318.0 126.9 L318.5 129.9 L319.0 132.9 L319.5 135.8 L320.0 138.8 L320.5 141.7 L321.0 144.6 L321.5 147.5 L322.0 150.3 L322.5 153.1 L323.0 155.8 L323.5 158.4 L324.0 160.9 L324.5 163.3 L325.0 165.6 L325.5 167.8 L326.0 169.9 L326.5 171.9 L327.0 173.7 L327.5 175.5 L328.0 177.0 L328.5 178.4 L329.0 179.7 L329.5 180.8 L330.0 181.8 L330.5 182.5 L331.0 183.2 L331.5 183.6 L332.0 183.9 L332.5 184.0 L333.0 184.0 L333.5 183.7 L334.0 183.3 L334.5 182.8 L335.0 182.0 L335.5 181.1 L336.0 180.0 L336.5 178.8 L337.0 177.4 L337.5 175.8 L338.0 174.1 L338.5 172.3 L339.0 170.3 L339.5 168.2 L340.0 165.9 L340.5 163.6 L341.0 161.1 L341.5 158.6 L342.0 155.9 L342.5 153.2 L343.0 150.4 L343.5 147.5 L344.0 144.6 L344.5 141.6 L345.0 138.6 L345.5 135.6 L346.0 132.6 L346.5 129.6 L347.0 126.5 L347.5 123.5 L348.0 120.5 L348.5 117.6 L349.0 114.7 L349.5 111.9 L350.0 109.1 L350.5 106.4 L351.0 103.8 L351.5 101.2 L352.0 98.8 L352.5 96.5 L353.0 94.3 L353.5 92.3 L354.0 90.3 L354.5 88.6 L355.0 86.9 L355.5 85.4 L356.0 84.1 L356.5 82.9 L357.0 81.9 L357.5 81.0 L358.0 80.3 L358.5 79.8 L359.0 79.5 L359.5 79.3 L360.0 79.4 L360.5 79.5 L361.0 79.9 L361.5 80.4 L362.0 81.1 L362.5 81.9 L363.0 82.9 L363.5 84.0 L364.0 85.3 L364.5 86.7 L365.0 88.3 L365.5 90.0 L366.0 91.9 L366.5 93.8 L367.0 95.9 L367.5 98.1 L368.0 100.4 L368.5 102.8 L369.0 105.3 L369.5 107.9 L370.0 110.6 L370.5 113.3 L371.0 116.1 L371.5 118.9 L372.0 121.8 L372.5 124.6 L373.0 127.6 L373.5 130.5 L374.0 133.4 L374.5 136.4 L375.0 139.3 L375.5 142.2 L376.0 145.0 L376.5 147.9 L377.0 150.6 L377.5 153.3 L378.0 156.0 L378.5 158.5 L379.0 161.0 L379.5 163.4 L380.0 165.7 L380.5 167.9 L381.0 169.9 L381.5 171.9 L382.0 173.7 L382.5 175.4 L383.0 176.9 L383.5 178.3 L384.0 179.6 L384.5 180.7 L385.0 181.6 L385.5 182.4 L386.0 183.1 L386.5 183.6 L387.0 183.9 L387.5 184.0 L388.0 184.0 L388.5 183.8 L389.0 183.4 L389.5 182.9 L390.0 182.2 L390.5 181.3 L391.0 180.2 L391.5 179.0 L392.0 177.6 L392.5 176.0 L393.0 174.3 L393.5 172.5 L394.0 170.5 L394.5 168.4 L395.0 166.1 L395.5 163.8 L396.0 161.3 L396.5 158.7 L397.0 156.1 L397.5 153.3 L398.0 150.5 L398.5 147.6 L399.0 144.7 L399.5 141.7 L400.0 138.7 L400.5 135.6 L401.0 132.6 L401.5 129.5 L402.0 126.5 L402.5 123.5 L403.0 120.5 L403.5 117.5 L404.0 114.6 L404.5 111.7 L405.0 108.9 L405.5 106.2 L406.0 103.6 L406.5 101.1 L407.0 98.6 L407.5 96.3 L408.0 94.1 L408.5 92.1 L409.0 90.1 L409.5 88.3 L410.0 86.7 L410.5 85.2 L411.0 83.9 L411.5 82.7 L412.0 81.7 L412.5 80.9 L413.0 80.2 L413.5 79.8 L414.0 79.5 L414.5 79.3 L415.0 79.4 L415.5 79.6 L416.0 80.0 L416.5 80.6 L417.0 81.3 L417.5 82.2 L418.0 83.2 L418.5 84.4 L419.0 85.8 L419.5 87.3 L420.0 89.0 L420.5 90.8 L421.0 92.7 L421.5 94.8 L422.0 96.9 L422.5 99.2 L423.0 101.6 L423.5 104.1 L424.0 106.7 L424.5 109.4 L425.0 112.1 L425.5 114.9 L426.0 117.8 L426.5 120.7 L427.0 123.6 L427.5 126.6 L428.0 129.6 L428.5 132.6 L429.0 135.6 L429.5 138.5 L430.0 141.5 L430.5 144.4 L431.0 147.3 L431.5 150.1 L432.0 152.9 L432.5 155.6 L433.0 158.2 L433.5 160.7 L434.0 163.2 L434.5 165.5 L435.0 167.7 L435.5 169.8 L436.0 171.8 L436.5 173.7 L437.0 175.4 L437.5 177.0 L438.0 178.4 L438.5 179.7 L439.0 180.8 L439.5 181.7 L440.0 182.5 L440.5 183.2 L441.0 183.6 L441.5 183.9 L442.0 184.0 L442.5 184.0 L443.0 183.8 L443.5 183.4 L444.0 182.8 L444.5 182.1 L445.0 181.2 L445.5 180.1 L446.0 178.9 L446.5 177.6 L447.0 176.0 L447.5 174.4 L448.0 172.6 L448.5 170.6 L449.0 168.6 L449.5 166.4 L450.0 164.1 L450.5 161.7 L451.0 159.2 L451.5 156.6 L452.0 154.0 L452.5 151.2 L453.0 148.4 L453.5 145.6 L454.0 142.7 L454.5 139.7 L455.0 136.8 L455.5 133.8 L456.0 130.8 L456.5 127.8 L457.0 124.8 L457.5 121.9 L458.0 118.9 L458.5 116.1 L459.0 113.2 L459.5 110.5 L460.0 107.8 L460.5 105.2 L461.0 102.6 L461.5 100.2 L462.0 97.8 L462.5 95.6 L463.0 93.5 L463.5 91.5 L464.0 89.7 L464.5 88.0 L465.0 86.4 L465.5 85.0 L466.0 83.7 L466.5 82.6 L467.0 81.6 L467.5 80.8 L468.0 80.2 L468.5 79.7 L469.0 79.4 L469.5 79.3 L470.0 79.4 L470.5 79.6 L471.0 80.0 L471.5 80.5 L472.0 81.2 L472.5 82.0 L473.0 83.0 L473.5 84.1 L474.0 85.4 L474.5 86.8 L475.0 88.4 L475.5 90.1 L476.0 91.9 L476.5 93.8 L477.0 95.9 L477.5 98.1 L478.0 100.3 L478.5 102.7 L479.0 105.2 L479.5 107.7 L480.0 110.3 L480.5 113.0 L481.0 115.7 L481.5 118.5 L482.0 121.3 L482.5 124.2 L483.0 127.0 L483.5 129.9 L484.0 132.8 L484.5 135.7 L485.0 138.6 L485.5 141.5 L486.0 144.3 L486.5 147.1 L487.0 149.8 L487.5 152.5 L488.0 155.1 L488.5 157.7 L489.0 160.2 L489.5 162.5 L490.0 164.8 L490.5 167.0 L491.0 169.1 L491.5 171.1 L492.0 172.9 L492.5 174.6 L493.0 176.2 L493.5 177.7 L494.0 179.0 L494.5 180.2 L495.0 181.2 L495.5 182.0 L496.0 182.8 L496.5 183.3 L497.0 183.7 L497.5 183.9 L498.0 184.0 L498.5 183.9 L499.0 183.7 L499.5 183.2 L500.0 182.6 L500.5 181.8 L501.0 180.9 L501.5 179.8 L502.0 178.5 L502.5 177.1 L503.0 175.5 L503.5 173.7 L504.0 171.9 L504.5 169.9 L505.0 167.7 L505.5 165.5 L506.0 163.1 L506.5 160.6 L507.0 158.0 L507.5 155.4 L508.0 152.6 L508.5 149.8 L509.0 146.9 L509.5 144.0 L510.0 141.0 L510.5 138.0 L511.0 135.0 L511.5 132.0 L512.0 128.9 L512.5 125.9 L513.0 122.9 L513.5 119.9 L514.0 117.0 L514.5 114.1 L515.0 111.3 L515.5 108.5 L516.0 105.9 L516.5 103.3 L517.0 100.8 L517.5 98.4 L518.0 96.1 L518.5 93.9 L519.0 91.9 L519.5 90.0 L520.0 88.2 L520.5 86.6 L521.0 85.1 L521.5 83.8 L522.0 82.7 L522.5 81.7 L523.0 80.9 L523.5 80.2 L524.0 79.7 L524.5 79.5 L525.0 79.3 L525.5 79.4 L526.0 79.6 L526.5 80.0 L527.0 80.5 L527.5 81.3 L528.0 82.1 L528.5 83.2 L529.0 84.4 L529.5 85.8 L530.0 87.3 L530.5 88.9 L531.0 90.7 L531.5 92.6 L532.0 94.7 L532.5 96.8 L533.0 99.1 L533.5 101.5 L534.0 104.0 L534.5 106.5 L535.0 109.2 L535.5 111.9 L536.0 114.7 L536.5 117.6 L537.0 120.4 L537.5 123.4 L538.0 126.3 L538.5 129.3 L539.0 132.3 L539.5 135.2 L540.0 138.2 L540.5 141.2 L541.0 144.1 L541.5 146.9 L542.0 149.8 L542.5 152.5 L543.0 155.2 L543.5 157.9 L544.0 160.4 L544.5 162.8 L545.0 165.2 L545.5 167.4 L546.0 169.5 L546.5 171.5 L547.0 173.4 L547.5 175.1 L548.0 176.7 L548.5 178.2 L549.0 179.5 L549.5 180.6 L550.0 181.6 L550.5 182.4 L551.0 183.1 L551.5 183.5 L552.0 183.9 L552.5 184.0 L553.0 184.0 L553.5 183.8 L554.0 183.5 L554.5 183.0 L555.0 182.3 L555.5 181.5 L556.0 180.5 L556.5 179.3 L557.0 178.1 L557.5 176.6 L558.0 175.0 L558.5 173.3 L559.0 171.5 L559.5 169.5 L560.0 167.4 L560.5 165.2 L561.0 162.9 L561.5 160.5 L562.0 158.0 L562.5 155.4 L563.0 152.8 L563.5 150.1 L564.0 147.3 L564.5 144.5 L565.0 141.6 L565.5 138.7 L566.0 135.8 L566.5 132.9 L567.0 129.9 L567.5 127.0 L568.0 124.1 L568.5 121.2 L569.0 118.3 L569.5 115.5 L570.0 112.7 L570.5 110.0 L571.0 107.4 L571.5 104.8 L572.0 102.3 L572.5 100.0 L573.0 97.7 L573.5 95.5 L574.0 93.4 L574.5 91.5 L575.0 89.7 L575.5 88.0 L576.0 86.4 L576.5 85.0 L577.0 83.8 L577.5 82.7 L578.0 81.7 L578.5 80.9 L579.0 80.3 L579.5 79.8 L580.0 79.5 L580.5 79.3 L581.0 79.4 L581.5 79.5 L582.0 79.9 L582.5 80.5 L583.0 81.2 L583.5 82.1 L584.0 83.1 L584.5 84.3 L585.0 85.7 L585.5 87.2 L586.0 88.9 L586.5 90.7 L587.0 92.7 L587.5 94.8 L588.0 97.0 L588.5 99.3 L589.0 101.7 L589.5 104.3 L590.0 106.9 L590.5 109.6 L591.0 112.4 L591.5 115.3 L592.0 118.2 L592.5 121.1 L593.0 124.1 L593.5 127.1 L594.0 130.2 L594.5 133.2 L595.0 136.2 L595.5 139.2 L596.0 142.2 L596.5 145.2 L597.0 148.1 L597.5 150.9 L598.0 153.7 L598.5 156.4 L599.0 159.1 L599.5 161.6 L600.0 164.0 L600.5 166.4 L601.0 168.6 L601.5 170.7 L602.0 172.6 L602.5 174.5 L603.0 176.1 L603.5 177.7 L604.0 179.0 L604.5 180.2 L605.0 181.3 L605.5 182.2 L606.0 182.9 L606.5 183.4 L607.0 183.8 L607.5 184.0 L608.0 184.0 L608.5 183.9 L609.0 183.6 L609.5 183.1 L610.0 182.5 L610.5 181.7 L611.0 180.8 L611.5 179.7 L612.0 178.4 L612.5 177.1 L613.0 175.5 L613.5 173.9 L614.0 172.1 L614.5 170.2 L615.0 168.2 L615.5 166.0 L616.0 163.8 L616.5 161.5 L617.0 159.0 L617.5 156.5 L618.0 153.9 L618.5 151.2 L619.0 148.5 L619.5 145.7 L620.0 142.9 L620.5 140.1 L621.0 137.2 L621.5 134.3 L622.0 131.4 L622.5 128.5 L623.0 125.6 L623.5 122.7 L624.0 119.9 L624.5 117.1 L625.0 114.3 L625.5 111.6 L626.0 108.9 L626.5 106.3 L627.0 103.8 L627.5 101.4 L628.0 99.1 L628.5 96.9 L629.0 94.8 L629.5 92.8 L630.0 90.9 L630.5 89.1 L631.0 87.5 L631.5 86.0 L632.0 84.7 L632.5 83.4 L633.0 82.4 L633.5 81.5 L634.0 80.7 L634.5 80.1 L635.0 79.7 L635.5 79.4 L636.0 79.3 L636.5 79.4 L637.0 79.6 L637.5 80.0 L638.0 80.5 L638.5 81.2 L639.0 82.1 L639.5 83.1 L640.0 84.3 L640.5 85.7 L641.0 87.1 L641.5 88.8 L642.0 90.5 L642.5 92.4 L643.0 94.4 L643.5 96.6 L644.0 98.8 L644.5 101.2 L645.0 103.6 L645.5 106.2 L646.0 108.8 L646.5 111.5 L647.0 114.3 L647.5 117.1 L648.0 119.9 L648.5 122.8 L649.0 125.8 L649.5 128.7 L650.0 131.7 L650.5 134.6 L651.0 137.6 L651.5 140.5 L652.0 143.4 L652.5 146.3 L653.0 149.1 L653.5 151.8 L654.0 154.5 L654.5 157.2 L655.0 159.7 L655.5 162.2 L656.0 164.5 L656.5 166.8 L657.0 168.9 L657.5 170.9 L658.0 172.8" fill="none" stroke="#00ff00" stroke-width="2.5" stroke-linejoin="round" stroke-dasharray="2.1 3.0" clip-path="url(#c0)"/>
<path d="M125.0 131.7 L125.5 131.2 L126.0 130.3 L126.5 129.3 L127.0 128.1 L127.5 126.8 L128.0 125.4 L128.5 123.9 L129.0 122.3 L129.5 120.6 L130.0 118.9 L130.5 117.2 L131.0 115.3 L131.5 113.5 L132.0 111.6 L132.5 109.7 L133.0 107.7 L133.5 105.8 L134.0 103.9 L134.5 101.9 L135.0 100.0 L135.5 98.2 L136.0 96.3 L136.5 94.5 L137.0 92.8 L137.5 91.1 L138.0 89.5 L138.5 88.0 L139.0 86.5 L139.5 85.2 L140.0 84.0 L140.5 82.9 L141.0 81.9 L141.5 81.1 L142.0 80.4 L142.5 79.9 L143.0 79.5 L143.5 79.4 L144.0 79.3 L144.5 79.5 L145.0 79.9 L145.5 80.4 L146.0 81.1 L146.5 82.0 L147.0 83.1 L147.5 84.4 L148.0 85.8 L148.5 87.4 L149.0 89.1 L149.5 91.0 L150.0 93.0 L150.5 95.2 L151.0 97.5 L151.5 100.0 L152.0 102.5 L152.5 105.1 L153.0 107.9 L153.5 110.7 L154.0 113.6 L154.5 116.6 L155.0 119.6 L155.5 122.7 L156.0 125.7 L156.5 128.9 L157.0 132.0 L157.5 135.1 L158.0 138.2 L158.5 141.3 L159.0 144.4 L159.5 147.4 L160.0 150.3 L160.5 153.2 L161.0 156.0 L161.5 158.8 L162.0 161.4 L162.5 163.9 L163.0 166.3 L163.5 168.6 L164.0 170.7 L164.5 172.7 L165.0 174.6 L165.5 176.3 L166.0 177.9 L166.5 179.3 L167.0 180.5 L167.5 181.5 L168.0 182.4 L168.5 183.1 L169.0 183.6 L169.5 183.9 L170.0 184.0 L170.5 184.0 L171.0 183.7 L171.5 183.3 L172.0 182.7 L172.5 182.0 L173.0 181.0 L173.5 179.9 L174.0 178.7 L174.5 177.2 L175.0 175.6 L175.5 173.9 L176.0 172.0 L176.5 170.0 L177.0 167.8 L177.5 165.5 L178.0 163.1 L178.5 160.6 L179.0 158.0 L179.5 155.3 L180.0 152.6 L180.5 149.7 L181.0 146.8 L181.5 143.8 L182.0 140.8 L182.5 137.8 L183.0 134.7 L183.5 131.7 L184.0 128.6 L184.5 125.6 L185.0 122.5 L185.5 119.5 L186.0 116.6 L186.5 113.6 L187.0 110.8 L187.5 108.0 L188.0 105.3 L188.5 102.7 L189.0 100.2 L189.5 97.8 L190.0 95.5 L190.5 93.4 L191.0 91.4 L191.5 89.5 L192.0 87.7 L192.5 86.1 L193.0 84.7 L193.5 83.4 L194.0 82.3 L194.5 81.4 L195.0 80.6 L195.5 80.0 L196.0 79.6 L196.5 79.4 L197.0 79.3 L197.5 79.5 L198.0 79.8 L198.5 80.3 L199.0 80.9 L199.5 81.8 L200.0 82.8 L200.5 84.1 L201.0 85.4 L201.5 87.0 L202.0 88.7 L202.5 90.5 L203.0 92.5 L203.5 94.7 L204.0 96.9 L204.5 99.3 L205.0 101.8 L205.5 104.4 L206.0 107.1 L206.5 109.9 L207.0 112.8 L207.5 115.7 L208.0 118.7 L208.5 121.8 L209.0 124.8 L209.5 127.9 L210.0 131.1 L210.5 134.2 L211.0 137.3 L211.5 140.4 L212.0 143.4 L212.5 146.4 L213.0 149.4 L213.5 152.3 L214.0 155.1 L214.5 157.9 L215.0 160.5 L215.5 163.1 L216.0 165.5 L216.5 167.8 L217.0 170.0 L217.5 172.0 L218.0 174.0 L218.5 175.7 L219.0 177.3 L219.5 178.8 L220.0 180.0 L220.5 181.2 L221.0 182.1 L221.5 182.8 L222.0 183.4 L222.5 183.8 L223.0 184.0 L223.5 184.0 L224.0 183.9 L224.5 183.5 L225.0 183.0 L225.5 182.3 L226.0 181.5 L226.5 180.4 L227.0 179.3 L227.5 177.9 L228.0 176.4 L228.5 174.7 L229.0 172.9 L229.5 171.0 L230.0 168.9 L230.5 166.7 L231.0 164.4 L231.5 162.0 L232.0 159.4 L232.5 156.8 L233.0 154.1 L233.5 151.3 L234.0 148.4 L234.5 145.5 L235.0 142.6 L235.5 139.6 L236.0 136.5 L236.5 133.5 L237.0 130.5 L237.5 127.4 L238.0 124.4 L238.5 121.4 L239.0 118.4 L239.5 115.5 L240.0 112.6 L240.5 109.8 L241.0 107.1 L241.5 104.5 L242.0 101.9 L242.5 99.4 L243.0 97.1 L243.5 94.9 L244.0 92.8 L244.5 90.8 L245.0 89.0 L245.5 87.3 L246.0 85.7 L246.5 84.4 L247.0 83.1 L247.5 82.1 L248.0 81.2 L248.5 80.5 L249.0 79.9 L249.5 79.6 L250.0 79.4 L250.5 79.3 L251.0 79.5 L251.5 79.8 L252.0 80.3 L252.5 81.0 L253.0 81.8 L253.5 82.8 L254.0 83.9 L254.5 85.2 L255.0 86.6 L255.5 88.2 L256.0 90.0 L256.5 91.8 L257.0 93.8 L257.5 95.9 L258.0 98.2 L258.5 100.5 L259.0 103.0 L259.5 105.5 L260.0 108.1 L260.5 110.8 L261.0 113.6 L261.5 116.4 L262.0 119.3 L262.5 122.2 L263.0 125.1 L263.5 128.1 L264.0 131.1 L264.5 134.1 L265.0 137.0 L265.5 140.0 L266.0 142.9 L266.5 145.8 L267.0 148.6 L267.5 151.4 L268.0 154.2 L268.5 156.8 L269.0 159.4 L269.5 161.9 L270.0 164.3 L270.5 166.5 L271.0 168.7 L271.5 170.7 L272.0 172.7 L272.5 174.4 L273.0 176.1 L273.5 177.6 L274.0 179.0 L274.5 180.2 L275.0 181.2 L275.5 182.1 L276.0 182.8 L276.5 183.4 L277.0 183.8 L277.5 184.0 L278.0 184.0 L278.5 183.9 L279.0 183.6 L279.5 183.1 L280.0 182.5 L280.5 181.7 L281.0 180.7 L281.5 179.5 L282.0 178.2 L282.5 176.8 L283.0 175.1 L283.5 173.4 L284.0 171.5 L284.5 169.4 L285.0 167.3 L285.5 165.0 L286.0 162.6 L286.5 160.1 L287.0 157.5 L287.5 154.8 L288.0 152.1 L288.5 149.2 L289.0 146.3 L289.5 143.4 L290.0 140.4 L290.5 137.4 L291.0 134.4 L291.5 131.4 L292.0 128.3 L292.5 125.3 L293.0 122.3 L293.5 119.4 L294.0 116.4 L294.5 113.5 L295.0 110.7 L295.5 108.0 L296.0 105.3 L296.5 102.7 L297.0 100.3 L297.5 97.9 L298.0 95.6 L298.5 93.5 L299.0 91.5 L299.5 89.6 L300.0 87.9 L300.5 86.3 L301.0 84.9 L301.5 83.6 L302.0 82.5 L302.5 81.5 L303.0 80.7 L303.5 80.1 L304.0 79.7 L304.5 79.4 L305.0 79.3 L305.5 79.4 L306.0 79.7 L306.5 80.1 L307.0 80.7 L307.5 81.4 L308.0 82.3 L308.5 83.4 L309.0 84.7 L309.5 86.0 L310.0 87.6 L310.5 89.3 L311.0 91.1 L311.5 93.0 L312.0 95.1 L312.5 97.3 L313.0 99.6 L313.5 102.0 L314.0 104.5 L314.5 107.1 L315.0 109.7 L315.5 112.5 L316.0 115.3 L316.5 118.1 L317.0 121.0 L317.5 124.0 L318.0 126.9 L318.5 129.9 L319.0 132.9 L319.5 135.8 L320.0 138.8 L320.5 141.7 L321.0 144.6 L321.5 147.5 L322.0 150.3 L322.5 153.1 L323.0 155.8 L323.5 158.4 L324.0 160.9 L324.5 163.3 L325.0 165.6 L325.5 167.8 L326.0 169.9 L326.5 171.9 L327.0 173.7 L327.5 175.5 L328.0 177.0 L328.5 178.4 L329.0 179.7 L329.5 180.8 L330.0 181.8 L330.5 182.5 L331.0 183.2 L331.5 183.6 L332.0 183.9 L332.5 184.0 L333.0 184.0 L333.5 183.7 L334.0 183.3 L334.5 182.8 L335.0 182.0 L335.5 181.1 L336.0 180.0 L336.5 178.8 L337.0 177.4 L337.5 175.8 L338.0 174.1 L338.5 172.3 L339.0 170.3 L339.5 168.2 L340.0 165.9 L340.5 163.6 L341.0 161.1 L341.5 158.6 L342.0 155.9 L342.5 153.2 L343.0 150.4 L343.5 147.5 L344.0 144.6 L344.5 141.6 L345.0 138.6 L345.5 135.6 L346.0 132.6 L346.5 129.6 L347.0 126.5 L347.5 123.5 L348.0 120.5 L348.5 117.6 L349.0 114.7 L349.5 111.9 L350.0 109.1 L350.5 106.4 L351.0 103.8 L351.5 101.2 L352.0 98.8 L352.5 96.5 L353.0 94.3 L353.5 92.3 L354.0 90.3 L354.5 88.6 L355.0 86.9 L355.5 85.4 L356.0 84.1 L356.5 82.9 L357.0 81.9 L357.5 81.0 L358.0 80.3 L358.5 79.8 L359.0 79.5 L359.5 79.3 L360.0 79.4 L360.5 79.5 L361.0 79.9 L361.5 80.4 L362.0 81.1 L362.5 81.9 L363.0 82.9 L363.5 84.0 L364.0 85.3 L364.5 86.7 L365.0 88.3 L365.5 90.0 L366.0 91.9 L366.5 93.8 L367.0 95.9 L367.5 98.1 L368.0 100.4 L368.5 102.8 L369.0 105.3 L369.5 107.9 L370.0 110.6 L370.5 113.3 L371.0 116.1 L371.5 118.9 L372.0 121.8 L372.5 124.6 L373.0 127.6 L373.5 130.5 L374.0 133.4 L374.5 136.4 L375.0 139.3 L375.5 142.2 L376.0 145.0 L376.5 147.9 L377.0 150.6 L377.5 153.3 L378.0 156.0 L378.5 158.5 L379.0 161.0 L379.5 163.4 L380.0 165.7 L380.5 167.9 L381.0 169.9 L381.5 171.9 L382.0 173.7 L382.5 175.4 L383.0 176.9 L383.5 178.3 L384.0 179.6 L384.5 180.7 L385.0 181.6 L385.5 182.4 L386.0 183.1 L386.5 183.6 L387.0 183.9 L387.5 184.0 L388.0 184.0 L388.5 183.8 L389.0 183.4 L389.5 182.9 L390.0 182.2 L390.5 181.3 L391.0 180.2 L391.5 179.0 L392.0 177.6 L392.5 176.0 L393.0 174.3 L393.5 172.5 L394.0 170.5 L394.5 168.4 L395.0 166.1 L395.5 163.8 L396.0 161.3 L396.5 158.7 L397.0 156.1 L397.5 153.3 L398.0 150.5 L398.5 147.6 L399.0 144.7 L399.5 141.7 L400.0 138.7 L400.5 135.6 L401.0 132.6 L401.5 129.5 L402.0 126.5 L402.5 123.5 L403.0 120.5 L403.5 117.5 L404.0 114.6 L404.5 111.7 L405.0 108.9 L405.5 106.2 L406.0 103.6 L406.5 101.1 L407.0 98.6 L407.5 96.3 L408.0 94.1 L408.5 92.1 L409.0 90.1 L409.5 88.3 L410.0 86.7 L410.5 85.2 L411.0 83.9 L411.5 82.7 L412.0 81.7 L412.5 80.9 L413.0 80.2 L413.5 79.8 L414.0 79.5 L414.5 79.3 L415.0 79.4 L415.5 79.6 L416.0 80.0 L416.5 80.6 L417.0 81.3 L417.5 82.2 L418.0 83.2 L418.5 84.4 L419.0 85.8 L419.5 87.3 L420.0 89.0 L420.5 90.8 L421.0 92.7 L421.5 94.8 L422.0 96.9 L422.5 99.2 L423.0 101.6 L423.5 104.1 L424.0 106.7 L424.5 109.4 L425.0 112.1 L425.5 114.9 L426.0 117.8 L426.5 120.7 L427.0 123.6 L427.5 126.6 L428.0 129.6 L428.5 132.6 L429.0 135.6 L429.5 138.5 L430.0 141.5 L430.5 144.4 L431.0 147.3 L431.5 150.1 L432.0 152.9 L432.5 155.6 L433.0 158.2 L433.5 160.7 L434.0 163.2 L434.5 165.5 L435.0 167.7 L435.5 169.8 L436.0 171.8 L436.5 173.7 L437.0 175.4 L437.5 177.0 L438.0 178.4 L438.5 179.7 L439.0 180.8 L439.5 181.7 L440.0 182.5 L440.5 183.2 L441.0 183.6 L441.5 183.9 L442.0 184.0 L442.5 184.0 L443.0 183.8 L443.5 183.4 L444.0 182.8 L444.5 182.1 L445.0 181.2 L445.5 180.1 L446.0 178.9 L446.5 177.6 L447.0 176.0 L447.5 174.4 L448.0 172.6 L448.5 170.6 L449.0 168.6 L449.5 166.4 L450.0 164.1 L450.5 161.7 L451.0 159.2 L451.5 156.6 L452.0 154.0 L452.5 151.2 L453.0 148.4 L453.5 145.6 L454.0 142.7 L454.5 139.7 L455.0 136.8 L455.5 133.8 L456.0 130.8 L456.5 127.8 L457.0 124.8 L457.5 121.9 L458.0 118.9 L458.5 116.1 L459.0 113.2 L459.5 110.5 L460.0 107.8 L460.5 105.2 L461.0 102.6 L461.5 100.2 L462.0 97.8 L462.5 95.6 L463.0 93.5 L463.5 91.5 L464.0 89.7 L464.5 88.0 L465.0 86.4 L465.5 85.0 L466.0 83.7 L466.5 82.6 L467.0 81.6 L467.5 80.8 L468.0 80.2 L468.5 79.7 L469.0 79.4 L469.5 79.3 L470.0 79.4 L470.5 79.6 L471.0 80.0 L471.5 80.5 L472.0 81.2 L472.5 82.0 L473.0 83.0 L473.5 84.1 L474.0 85.4 L474.5 86.8 L475.0 88.4 L475.5 90.1 L476.0 91.9 L476.5 93.8 L477.0 95.9 L477.5 98.1 L478.0 100.3 L478.5 102.7 L479.0 105.2 L479.5 107.7 L480.0 110.3 L480.5 113.0 L481.0 115.7 L481.5 118.5 L482.0 121.3 L482.5 124.2 L483.0 127.0 L483.5 129.9 L484.0 132.8 L484.5 135.7 L485.0 138.6 L485.5 141.5 L486.0 144.3 L486.5 147.1 L487.0 149.8 L487.5 152.5 L488.0 155.1 L488.5 157.7 L489.0 160.2 L489.5 162.5 L490.0 164.8 L490.5 167.0 L491.0 169.1 L491.5 171.1 L492.0 172.9 L492.5 174.6 L493.0 176.2 L493.5 177.7 L494.0 179.0 L494.5 180.2 L495.0 181.2 L495.5 182.0 L496.0 182.8 L496.5 183.3 L497.0 183.7 L497.5 183.9 L498.0 184.0 L498.5 183.9 L499.0 183.7 L499.5 183.2 L500.0 182.6 L500.5 181.8 L501.0 180.9 L501.5 179.8 L502.0 178.5 L502.5 177.1 L503.0 175.5 L503.5 173.7 L504.0 171.9 L504.5 169.9 L505.0 167.7 L505.5 165.5 L506.0 163.1 L506.5 160.6 L507.0 158.0 L507.5 155.4 L508.0 152.6 L508.5 149.8 L509.0 146.9 L509.5 144.0 L510.0 141.0 L510.5 138.0 L511.0 135.0 L511.5 132.0 L512.0 128.9 L512.5 125.9 L513.0 122.9 L513.5 119.9 L514.0 117.0 L514.5 114.1 L515.0 111.3 L515.5 108.5 L516.0 105.9 L516.5 103.3 L517.0 100.8 L517.5 98.4 L518.0 96.1 L518.5 93.9 L519.0 91.9 L519.5 90.0 L520.0 88.2 L520.5 86.6 L521.0 85.1 L521.5 83.8 L522.0 82.7 L522.5 81.7 L523.0 80.9 L523.5 80.2 L524.0 79.7 L524.5 79.5 L525.0 79.3 L525.5 79.4 L526.0 79.6 L526.5 80.0 L527.0 80.5 L527.5 81.3 L528.0 82.1 L528.5 83.2 L529.0 84.4 L529.5 85.8 L530.0 87.3 L530.5 88.9 L531.0 90.7 L531.5 92.6 L532.0 94.7 L532.5 96.8 L533.0 99.1 L533.5 101.5 L534.0 104.0 L534.5 106.5 L535.0 109.2 L535.5 111.9 L536.0 114.7 L536.5 117.6 L537.0 120.4 L537.5 123.4 L538.0 126.3 L538.5 129.3 L539.0 132.3 L539.5 135.2 L540.0 138.2 L540.5 141.2 L541.0 144.1 L541.5 146.9 L542.0 149.8 L542.5 152.5 L543.0 155.2 L543.5 157.9 L544.0 160.4 L544.5 162.8 L545.0 165.2 L545.5 167.4 L546.0 169.5 L546.5 171.5 L547.0 173.4 L547.5 175.1 L548.0 176.7 L548.5 178.2 L549.0 179.5 L549.5 180.6 L550.0 181.6 L550.5 182.4 L551.0 183.1 L551.5 183.5 L552.0 183.9 L552.5 184.0 L553.0 184.0 L553.5 183.8 L554.0 183.5 L554.5 183.0 L555.0 182.3 L555.5 181.5 L556.0 180.5 L556.5 179.3 L557.0 178.1 L557.5 176.6 L558.0 175.0 L558.5 173.3 L559.0 171.5 L559.5 169.5 L560.0 167.4 L560.5 165.2 L561.0 162.9 L561.5 160.5 L562.0 158.0 L562.5 155.4 L563.0 152.8 L563.5 150.1 L564.0 147.3 L564.5 144.5 L565.0 141.6 L565.5 138.7 L566.0 135.8 L566.5 132.9 L567.0 129.9 L567.5 127.0 L568.0 124.1 L568.5 121.2 L569.0 118.3 L569.5 115.5 L570.0 112.7 L570.5 110.0 L571.0 107.4 L571.5 104.8 L572.0 102.3 L572.5 100.0 L573.0 97.7 L573.5 95.5 L574.0 93.4 L574.5 91.5 L575.0 89.7 L575.5 88.0 L576.0 86.4 L576.5 85.0 L577.0 83.8 L577.5 82.7 L578.0 81.7 L578.5 80.9 L579.0 80.3 L579.5 79.8 L580.0 79.5 L580.5 79.3 L581.0 79.4 L581.5 79.5 L582.0 79.9 L582.5 80.5 L583.0 81.2 L583.5 82.1 L584.0 83.1 L584.5 84.3 L585.0 85.7 L585.5 87.2 L586.0 88.9 L586.5 90.7 L587.0 92.7 L587.5 94.8 L588.0 97.0 L588.5 99.3 L589.0 101.7 L589.5 104.3 L590.0 106.9 L590.5 109.6 L591.0 112.4 L591.5 115.3 L592.0 118.2 L592.5 121.1 L593.0 124.1 L593.5 127.1 L594.0 130.2 L594.5 133.2 L595.0 136.2 L595.5 139.2 L596.0 142.2 L596.5 145.2 L597.0 148.1 L597.5 150.9 L598.0 153.7 L598.5 156.4 L599.0 159.1 L599.5 161.6 L600.0 164.0 L600.5 166.4 L601.0 168.6 L601.5 170.7 L602.0 172.6 L602.5 174.5 L603.0 176.1 L603.5 177.7 L604.0 179.0 L604.5 180.2 L605.0 181.3 L605.5 182.2 L606.0 182.9 L606.5 183.4 L607.0 183.8 L607.5 184.0 L608.0 184.0 L608.5 183.9 L609.0 183.6 L609.5 183.1 L610.0 182.5 L610.5 181.7 L611.0 180.8 L611.5 179.7 L612.0 178.4 L612.5 177.1 L613.0 175.5 L613.5 173.9 L614.0 172.1 L614.5 170.2 L615.0 168.2 L615.5 166.0 L616.0 163.8 L616.5 161.5 L617.0 159.0 L617.5 156.5 L618.0 153.9 L618.5 151.2 L619.0 148.5 L619.5 145.7 L620.0 142.9 L620.5 140.1 L621.0 137.2 L621.5 134.3 L622.0 131.4 L622.5 128.5 L623.0 125.6 L623.5 122.7 L624.0 119.9 L624.5 117.1 L625.0 114.3 L625.5 111.6 L626.0 108.9 L626.5 106.3 L627.0 103.8 L627.5 101.4 L628.0 99.1 L628.5 96.9 L629.0 94.8 L629.5 92.8 L630.0 90.9 L630.5 89.1 L631.0 87.5 L631.5 86.0 L632.0 84.7 L632.5 83.4 L633.0 82.4 L633.5 81.5 L634.0 80.7 L634.5 80.1 L635.0 79.7 L635.5 79.4 L636.0 79.3 L636.5 79.4 L637.0 79.6 L637.5 80.0 L638.0 80.5 L638.5 81.2 L639.0 82.1 L639.5 83.1 L640.0 84.3 L640.5 85.7 L641.0 87.1 L641.5 88.8 L642.0 90.5 L642.5 92.4 L643.0 94.4 L643.5 96.6 L644.0 98.8 L644.5 101.2 L645.0 103.6 L645.5 106.2 L646.0 108.8 L646.5 111.5 L647.0 114.3 L647.5 117.1 L648.0 119.9 L648.5 122.8 L649.0 125.8 L649.5 128.7 L650.0 131.7 L650.5 134.6 L651.0 137.6 L651.5 140.5 L652.0 143.4 L652.5 146.3 L653.0 149.1 L653.5 151.8 L654.0 154.5 L654.5 157.2 L655.0 159.7 L655.5 162.2 L656.0 164.5 L656.5 166.8 L657.0 168.9 L657.5 170.9 L658.0 172.8" fill="none" stroke="#0000ff" stroke-width="2.5" stroke-linejoin="round" stroke-dasharray="6.1 2.2" clip-path="url(#c0)"/>
<path d="M126.7 272.3 L127.0 276.7 L127.6 263.4 L127.6 305.0 L127.6 263.4 L128.2 246.9 L128.5 246.2 L129.2 248.5 L129.2 300.0 L129.2 248.5 L129.7 249.0 L130.0 246.2 L130.3 246.7 L131.0 249.4 L131.0 303.0 L131.0 249.4 L131.8 246.6 L132.1 246.1 L132.4 247.2 L132.7 249.8 L133.4 251.7 L133.4 298.0 L133.4 251.7 L134.2 246.6 L134.5 245.5 L134.8 246.4 L135.1 249.9 L135.6 256.1 L135.6 300.0 L135.6 256.1 L136.3 258.4 L136.6 254.4 L136.9 251.6 L137.2 249.4 L137.5 247.7 L137.8 246.4 L138.1 245.3 L138.4 244.5 L138.7 243.9 L139.0 243.5 L139.3 243.3 L139.6 243.3 L139.9 243.7 L140.2 244.3 L140.5 245.3 L140.8 246.7 L141.1 248.7 L141.4 251.5 L141.7 255.7 L142.3 257.5 L142.3 295.0 L142.3 257.5 L142.9 255.3 L143.2 250.9 L143.5 247.9 L143.8 245.8 L144.1 244.2 L144.4 243.0 L144.7 242.2 L145.0 241.7 L145.3 241.5 L145.6 241.5 L145.9 241.8 L146.2 242.4 L146.5 243.2 L146.8 244.3 L147.1 245.9 L147.4 248.0 L147.7 250.8 L148.0 255.1 L148.6 257.0 L148.6 290.0 L148.6 257.0 L149.2 254.9 L149.5 250.5 L149.8 247.5 L150.1 245.3 L150.4 243.7 L150.7 242.4 L151.0 241.5 L151.3 240.9 L151.6 240.5 L151.9 240.3 L152.2 240.3 L152.5 240.5 L152.8 240.9 L153.1 241.4 L153.4 242.2 L153.7 243.1 L154.0 244.3 L154.3 245.9 L154.6 247.9 L154.9 250.6 L155.2 254.5 L155.9 257.8 L155.9 295.0 L155.9 257.8 L156.7 252.3 L157.0 248.8 L157.3 246.4 L157.6 244.4 L157.9 243.0 L158.2 241.8 L158.5 240.9 L158.8 240.2 L159.1 239.7 L159.4 239.4 L159.7 239.3 L160.0 239.3 L160.3 239.5 L160.6 239.8 L160.9 240.3 L161.2 241.0 L161.5 241.8 L161.8 242.9 L162.1 244.3 L162.4 246.0 L162.7 248.3 L163.0 251.3 L163.3 255.7 L163.9 257.6 L163.9 322.0 L163.9 257.6 L164.5 255.5 L164.8 251.1 L165.1 248.0 L165.4 245.7 L165.7 243.8 L166.0 242.4 L166.3 241.2 L166.6 240.3 L166.9 239.6 L167.2 239.0 L167.5 238.6 L167.8 238.4 L168.1 238.3 L168.4 238.3 L168.7 238.4 L169.0 238.6 L169.3 238.9 L169.6 239.3 L169.9 239.8 L170.2 240.3 L170.5 241.1 L170.8 241.9 L171.1 243.0 L171.4 244.2 L171.7 245.8 L172.0 247.6 L172.3 250.0 L172.6 253.1 L172.9 257.5 L173.5 260.2 L173.5 290.0 L173.5 260.2 L174.1 258.8 L174.4 254.3 L174.7 251.1 L175.0 248.7 L175.3 246.8 L175.6 245.2 L175.9 243.8 L176.2 242.7 L176.5 241.7 L176.8 240.8 L177.1 240.1 L177.4 239.5 L177.7 239.0 L178.0 238.5 L178.3 238.1 L178.6 237.9 L178.9 237.6 L179.2 237.5 L179.5 237.4 L179.8 237.4 L180.1 237.4 L180.4 237.5 L180.7 237.7 L181.0 237.9 L181.3 238.2 L181.6 238.5 L181.9 239.0 L182.2 239.5 L182.5 240.0 L182.8 240.7 L183.1 241.5 L183.4 242.4 L183.7 243.5 L184.0 244.7 L184.3 246.2 L184.6 248.0 L184.9 250.2 L185.2 253.0 L185.5 257.0 L186.2 261.1 L186.2 298.0 L186.2 261.1 L187.0 256.3 L187.3 252.7 L187.6 250.1 L187.9 247.9 L188.2 246.2 L188.5 244.7 L188.8 243.4 L189.1 242.3 L189.4 241.4 L189.7 240.5 L190.0 239.8 L190.3 239.1 L190.6 238.5 L190.9 238.0 L191.2 237.6 L191.5 237.2 L191.8 236.9 L192.1 236.6 L192.4 236.4 L192.7 236.2 L193.0 236.1 L193.3 236.0 L193.6 236.0 L193.9 236.0 L194.2 236.1 L194.5 236.2 L194.8 236.4 L195.1 236.6 L195.4 236.9 L195.7 237.2 L196.0 237.6 L196.3 238.1 L196.6 238.6 L196.9 239.3 L197.2 240.0 L197.5 240.8 L197.8 241.7 L198.1 242.8 L198.4 244.1 L198.7 245.6 L199.0 247.4 L199.3 249.6 L199.6 252.4 L199.9 256.3 L200.6 260.4 L200.6 292.0 L200.6 260.4 L201.4 255.6 L201.7 252.0 L202.0 249.3 L202.3 247.2 L202.6 245.4 L202.9 243.9 L203.2 242.6 L203.5 241.5 L203.8 240.5 L204.1 239.7 L204.4 238.9 L204.7 238.2 L205.0 237.6 L205.3 237.0 L205.6 236.6 L205.9 236.2 L206.2 235.8 L206.5 235.5 L206.8 235.2 L207.1 235.0 L207.4 234.8 L207.7 234.7 L208.0 234.6 L208.3 234.6 L208.6 234.6 L208.9 234.6 L209.2 234.7 L209.5 234.8 L209.8 234.9 L210.1 235.1 L210.4 235.3 L210.7 235.5 L211.0 235.8 L211.3 236.1 L211.6 236.4 L211.9 236.8 L212.2 237.3 L212.5 237.8 L212.8 238.3 L213.1 238.9 L213.4 239.6 L213.7 240.3 L214.0 241.1 L214.3 242.0 L214.6 243.1 L214.9 244.3 L215.2 245.6 L215.5 247.2 L215.8 249.0 L216.1 251.3 L216.4 254.2 L216.7 258.2 L217.4 261.2 L217.4 298.0 L217.4 261.2 L218.2 255.2 L218.5 251.7 L218.8 249.1 L219.1 247.0 L219.4 245.2 L219.7 243.8 L220.0 242.5 L220.3 241.4 L220.6 240.4 L220.9 239.6 L221.2 238.8 L221.5 238.2 L221.8 237.6 L222.1 237.0 L222.4 236.6 L222.7 236.2 L223.0 235.8 L223.3 235.5 L223.6 235.3 L223.9 235.0 L224.2 234.9 L224.5 234.7 L224.8 234.7 L225.1 234.6 L225.4 234.6 L225.7 234.6 L226.0 234.7 L226.3 234.8 L226.6 235.0 L226.9 235.2 L227.2 235.4 L227.5 235.7 L227.8 236.0 L228.1 236.4 L228.4 236.9 L228.7 237.4 L229.0 237.9 L229.3 238.5 L229.6 239.2 L229.9 240.0 L230.2 240.9 L230.5 241.9 L230.8 243.0 L231.1 244.2 L231.4 245.7 L231.7 247.4 L232.0 249.4 L232.3 251.9 L232.6 255.1 L232.9 259.7 L233.5 261.9 L233.5 262.0 L233.5 261.9 L234.1 261.9 L234.4 257.4 L234.7 254.3 L235.0 251.9 L235.3 250.0 L235.6 248.4 L235.9 247.0 L236.2 245.8 L236.5 244.7 L236.8 243.8 L237.1 243.0 L237.4 242.3 L237.7 241.6 L238.0 241.0 L238.3 240.5 L238.6 240.0 L238.9 239.6 L239.2 239.2 L239.5 238.8 L239.8 238.5 L240.1 238.2 L240.4 238.0 L240.7 237.8 L241.0 237.6 L241.3 237.4 L241.6 237.3 L241.9 237.2 L242.2 237.1 L242.5 237.0 L242.8 237.0 L243.1 237.0 L243.4 237.0 L243.7 237.0 L244.0 237.1 L244.3 237.1 L244.6 237.2 L244.9 237.3 L245.2 237.5 L245.5 237.6 L245.8 237.8 L246.1 238.0 L246.4 238.2 L246.7 238.4 L247.0 238.6 L247.3 238.9 L247.6 239.2 L247.9 239.5 L248.2 239.9 L248.5 240.3 L248.8 240.7 L249.1 241.2 L249.4 241.6 L249.7 242.2 L250.0 242.8 L250.3 243.4 L250.6 244.1 L250.9 244.8 L251.2 245.6 L251.5 246.6 L251.8 247.6 L252.1 248.7 L252.4 250.0 L252.7 251.4 L253.0 253.1 L253.3 255.1 L253.6 257.6 L253.9 260.8 L254.2 265.3 L254.8 266.7 L254.8 298.0 L254.8 266.7 L255.4 264.0 L255.7 259.5 L256.0 256.3 L256.3 253.8 L256.6 251.8 L256.9 250.2 L257.2 248.8 L257.5 247.5 L257.8 246.4 L258.1 245.4 L258.4 244.6 L258.7 243.8 L259.0 243.1 L259.3 242.4 L259.6 241.8 L259.9 241.3 L260.2 240.8 L260.5 240.4 L260.8 240.0 L261.1 239.6 L261.4 239.3 L261.7 239.0 L262.0 238.7 L262.3 238.5 L262.6 238.3 L262.9 238.1 L263.2 238.0 L263.5 237.8 L263.8 237.7 L264.1 237.7 L264.4 237.6 L264.7 237.6 L265.0 237.6 L265.3 237.6 L265.6 237.7 L265.9 237.8 L266.2 237.9 L266.5 238.1 L266.8 238.3 L267.1 238.5 L267.4 238.8 L267.7 239.1 L268.0 239.5 L268.3 239.9 L268.6 240.3 L268.9 240.8 L269.2 241.3 L269.5 241.8 L269.8 242.5 L270.1 243.1 L270.4 243.9 L270.7 244.7 L271.0 245.6 L271.3 246.5 L271.6 247.6 L271.9 248.8 L272.2 250.2 L272.5 251.7 L272.8 253.5 L273.1 255.6 L273.4 258.2 L273.7 261.5 L274.0 266.1 L274.6 266.9 L274.6 307.0 L274.6 266.9 L275.2 263.7 L275.5 259.3 L275.8 256.2 L276.1 253.9 L276.4 252.0 L276.7 250.5 L277.0 249.2 L277.3 248.1 L277.6 247.1 L277.9 246.3 L278.2 245.6 L278.5 245.0 L278.8 244.4 L279.1 244.0 L279.4 243.5 L279.7 243.2 L280.0 242.9 L280.3 242.6 L280.6 242.4 L280.9 242.3 L281.2 242.1 L281.5 242.1 L281.8 242.0 L282.1 242.0 L282.4 242.0 L282.7 242.1 L283.0 242.2 L283.3 242.4 L283.6 242.6 L283.9 242.9 L284.2 243.2 L284.5 243.5 L284.8 244.0 L285.1 244.4 L285.4 245.0 L285.7 245.6 L286.0 246.3 L286.3 247.1 L286.6 248.1 L286.9 249.1 L287.2 250.3 L287.5 251.8 L287.8 253.5 L288.1 255.5 L288.4 258.1 L288.7 261.6 L289.0 266.8 L289.5 268.1 L289.5 301.7 L289.5 268.1 L290.2 265.5 L290.5 261.5 L290.8 258.6 L291.1 256.3 L291.4 254.4 L291.7 252.7 L292.0 251.3 L292.3 250.1 L292.6 249.0 L292.9 248.0 L293.2 247.1 L293.5 246.3 L293.8 245.6 L294.1 244.9 L294.4 244.3 L294.7 243.8 L295.0 243.3 L295.3 242.8 L295.6 242.4 L295.9 242.0 L296.2 241.7 L296.5 241.4 L296.8 241.1 L297.1 240.9 L297.4 240.6 L297.7 240.5 L298.0 240.3 L298.3 240.2 L298.6 240.1 L298.9 240.0 L299.2 240.0 L299.5 240.0 L299.8 240.0 L300.1 240.0 L300.4 240.1 L300.7 240.1 L301.0 240.3 L301.3 240.4 L301.6 240.6 L301.9 240.8 L302.2 241.0 L302.5 241.3 L302.8 241.6 L303.1 241.9 L303.4 242.3 L303.7 242.7 L304.0 243.1 L304.3 243.7 L304.6 244.2 L304.9 244.9 L305.2 245.6 L305.5 246.4 L305.8 247.2 L306.1 248.2 L306.4 249.4 L306.7 250.7 L307.0 252.2 L307.3 254.0 L307.6 256.2 L307.9 259.1 L308.2 263.0 L308.9 266.4 L308.9 288.4 L308.9 266.4 L309.7 260.8 L310.0 257.2 L310.3 254.5 L310.6 252.3 L310.9 250.5 L311.2 248.9 L311.5 247.5 L311.8 246.3 L312.1 245.2 L312.4 244.3 L312.7 243.4 L313.0 242.6 L313.3 241.9 L313.6 241.2 L313.9 240.6 L314.2 240.0 L314.5 239.5 L314.8 239.0 L315.1 238.6 L315.4 238.2 L315.7 237.8 L316.0 237.5 L316.3 237.2 L316.6 236.9 L316.9 236.6 L317.2 236.4 L317.5 236.2 L317.8 236.1 L318.1 235.9 L318.4 235.8 L318.7 235.7 L319.0 235.7 L319.3 235.7 L319.6 235.7 L319.9 235.8 L320.2 235.8 L320.5 236.0 L320.8 236.1 L321.1 236.4 L321.4 236.6 L321.7 236.9 L322.0 237.3 L322.3 237.7 L322.6 238.2 L322.9 238.8 L323.2 239.5 L323.5 240.2 L323.8 241.1 L324.1 242.1 L324.4 243.4 L324.7 244.8 L325.0 246.6 L325.3 248.9 L325.6 251.9 L325.9 256.2 L326.5 260.4 L326.5 293.8 L326.5 260.4 L327.1 260.5 L327.4 255.8 L327.7 252.4 L328.0 249.8 L328.3 247.6 L328.6 245.7 L328.9 244.1 L329.2 242.6 L329.5 241.3 L329.8 240.1 L330.1 239.1 L330.4 238.1 L330.7 237.1 L331.0 236.3 L331.3 235.5 L331.6 234.7 L331.9 234.0 L332.2 233.4 L332.5 232.8 L332.8 232.2 L333.1 231.7 L333.4 231.2 L333.7 230.7 L334.0 230.3 L334.3 229.8 L334.6 229.5 L334.9 229.1 L335.2 228.8 L335.5 228.5 L335.8 228.2 L336.1 227.9 L336.4 227.7 L336.7 227.5 L337.0 227.3 L337.3 227.2 L337.6 227.1 L337.9 227.0 L338.2 226.9 L338.5 226.8 L338.8 226.8 L339.1 226.8 L339.4 226.8 L339.7 226.9 L340.0 226.9 L340.3 227.0 L340.6 227.1 L340.9 227.2 L341.2 227.4 L341.5 227.6 L341.8 227.8 L342.1 228.0 L342.4 228.2 L342.7 228.5 L343.0 228.8 L343.3 229.1 L343.6 229.5 L343.9 229.8 L344.2 230.2 L344.5 230.6 L344.8 231.1 L345.1 231.6 L345.4 232.1 L345.7 232.6 L346.0 233.2 L346.3 233.9 L346.6 234.5 L346.9 235.3 L347.2 236.0 L347.5 236.9 L347.8 237.8 L348.1 238.7 L348.4 239.8 L348.7 241.0 L349.0 242.3 L349.3 243.7 L349.6 245.4 L349.9 247.3 L350.2 249.6 L350.5 252.4 L350.8 256.1 L351.1 261.4 L351.6 259.8 L351.6 278.6 L351.6 259.8 L352.3 254.4 L352.6 250.6 L352.9 247.8 L353.2 245.6 L353.5 243.9 L353.8 242.4 L354.1 241.1 L354.4 240.1 L354.7 239.1 L355.0 238.3 L355.3 237.6 L355.6 236.9 L355.9 236.4 L356.2 235.8 L356.5 235.4 L356.8 235.0 L357.1 234.6 L357.4 234.3 L357.7 234.0 L358.0 233.8 L358.3 233.5 L358.6 233.4 L358.9 233.2 L359.2 233.1 L359.5 233.0 L359.8 232.9 L360.1 232.8 L360.4 232.8 L360.7 232.8 L361.0 232.8 L361.3 232.9 L361.6 233.0 L361.9 233.2 L362.2 233.3 L362.5 233.6 L362.8 233.9 L363.1 234.2 L363.4 234.6 L363.7 235.0 L364.0 235.6 L364.3 236.2 L364.6 236.9 L364.9 237.7 L365.2 238.7 L365.5 239.9 L365.8 241.2 L366.1 242.9 L366.4 244.9 L366.7 247.6 L367.0 251.4 L367.7 258.0 L367.7 312.0 L367.7 258.0 L368.5 255.5 L368.8 251.7 L369.1 248.8 L369.4 246.5 L369.7 244.5 L370.0 242.7 L370.3 241.2 L370.6 239.8 L370.9 238.5 L371.2 237.3 L371.5 236.3 L371.8 235.3 L372.1 234.3 L372.4 233.5 L372.7 232.7 L373.0 231.9 L373.3 231.2 L373.6 230.5 L373.9 229.8 L374.2 229.2 L374.5 228.7 L374.8 228.1 L375.1 227.6 L375.4 227.1 L375.7 226.7 L376.0 226.3 L376.3 225.9 L376.6 225.5 L376.9 225.2 L377.2 224.8 L377.5 224.6 L377.8 224.3 L378.1 224.1 L378.4 223.9 L378.7 223.7 L379.0 223.5 L379.3 223.4 L379.6 223.3 L379.9 223.3 L380.2 223.2 L380.5 223.2 L380.8 223.2 L381.1 223.3 L381.4 223.3 L381.7 223.4 L382.0 223.5 L382.3 223.7 L382.6 223.8 L382.9 224.0 L383.2 224.2 L383.5 224.5 L383.8 224.7 L384.1 225.0 L384.4 225.3 L384.7 225.7 L385.0 226.0 L385.3 226.4 L385.6 226.8 L385.9 227.2 L386.2 227.7 L386.5 228.2 L386.8 228.7 L387.1 229.2 L387.4 229.8 L387.7 230.4 L388.0 231.1 L388.3 231.7 L388.6 232.4 L388.9 233.2 L389.2 234.0 L389.5 234.8 L389.8 235.7 L390.1 236.6 L390.4 237.6 L390.7 238.7 L391.0 239.8 L391.3 241.1 L391.6 242.5 L391.9 244.0 L392.2 245.7 L392.5 247.6 L392.8 249.8 L393.1 252.5 L393.4 256.0 L393.7 260.7 L394.3 259.5 L394.3 305.3 L394.3 259.5 L394.9 254.3 L395.2 250.0 L395.5 247.0 L395.8 244.8 L396.1 243.0 L396.4 241.5 L396.7 240.3 L397.0 239.3 L397.3 238.4 L397.6 237.7 L397.9 237.0 L398.2 236.5 L398.5 236.0 L398.8 235.6 L399.1 235.2 L399.4 234.9 L399.7 234.7 L400.0 234.5 L400.3 234.3 L400.6 234.2 L400.9 234.1 L401.2 234.0 L401.5 234.0 L401.8 234.0 L402.1 234.1 L402.4 234.2 L402.7 234.4 L403.0 234.6 L403.3 234.8 L403.6 235.2 L403.9 235.6 L404.2 236.0 L404.5 236.5 L404.8 237.2 L405.1 237.9 L405.4 238.8 L405.7 239.8 L406.0 241.0 L406.3 242.4 L406.6 244.2 L406.9 246.5 L407.2 249.4 L407.5 253.8 L408.1 259.3 L408.1 275.0 L408.1 259.3 L408.7 260.8 L409.0 256.1 L409.3 252.7 L409.6 250.0 L409.9 247.7 L410.2 245.8 L410.5 244.2 L410.8 242.7 L411.1 241.3 L411.4 240.1 L411.7 238.9 L412.0 237.9 L412.3 236.9 L412.6 236.0 L412.9 235.1 L413.2 234.3 L413.5 233.5 L413.8 232.8 L414.1 232.1 L414.4 231.5 L414.7 230.9 L415.0 230.3 L415.3 229.8 L415.6 229.2 L415.9 228.7 L416.2 228.3 L416.5 227.9 L416.8 227.4 L417.1 227.1 L417.4 226.7 L417.7 226.4 L418.0 226.1 L418.3 225.8 L418.6 225.5 L418.9 225.3 L419.2 225.1 L419.5 224.9 L419.8 224.8 L420.1 224.7 L420.4 224.5 L420.7 224.5 L421.0 224.4 L421.3 224.4 L421.6 224.4 L421.9 224.4 L422.2 224.5 L422.5 224.6 L422.8 224.7 L423.1 224.9 L423.4 225.1 L423.7 225.3 L424.0 225.5 L424.3 225.8 L424.6 226.1 L424.9 226.5 L425.2 226.9 L425.5 227.3 L425.8 227.8 L426.1 228.4 L426.4 229.0 L426.7 229.6 L427.0 230.3 L427.3 231.1 L427.6 232.0 L427.9 233.0 L428.2 234.1 L428.5 235.3 L428.8 236.7 L429.1 238.4 L429.4 240.3 L429.7 242.6 L430.0 245.6 L430.3 249.6 L431.0 254.2 L431.0 270.0 L431.0 254.2 L431.8 249.9 L432.1 246.4 L432.4 243.8 L432.7 241.7 L433.0 240.0 L433.3 238.6 L433.6 237.3 L433.9 236.2 L434.2 235.3 L434.5 234.4 L434.8 233.6 L435.1 232.9 L435.4 232.3 L435.7 231.8 L436.0 231.3 L436.3 230.8 L436.6 230.4 L436.9 230.0 L437.2 229.7 L437.5 229.4 L437.8 229.1 L438.1 228.9 L438.4 228.6 L438.7 228.5 L439.0 228.3 L439.3 228.2 L439.6 228.1 L439.9 228.0 L440.2 227.9 L440.5 227.9 L440.8 227.9 L441.1 227.9 L441.4 227.9 L441.7 227.9 L442.0 228.0 L442.3 228.1 L442.6 228.2 L442.9 228.4 L443.2 228.6 L443.5 228.8 L443.8 229.1 L444.1 229.4 L444.4 229.7 L444.7 230.1 L445.0 230.6 L445.3 231.0 L445.6 231.5 L445.9 232.1 L446.2 232.7 L446.5 233.3 L446.8 234.1 L447.1 234.8 L447.4 235.7 L447.7 236.6 L448.0 237.6 L448.3 238.7 L448.6 239.9 L448.9 241.3 L449.2 242.8 L449.5 244.5 L449.8 246.6 L450.1 249.0 L450.4 252.1 L450.7 256.2 L451.4 259.4 L451.4 301.0 L451.4 259.4 L452.2 253.6 L452.5 250.3 L452.8 247.8 L453.1 245.8 L453.4 244.2 L453.7 242.9 L454.0 241.8 L454.3 240.8 L454.6 240.0 L454.9 239.2 L455.2 238.6 L455.5 238.0 L455.8 237.5 L456.1 237.1 L456.4 236.7 L456.7 236.4 L457.0 236.1 L457.3 235.9 L457.6 235.7 L457.9 235.5 L458.2 235.4 L458.5 235.3 L458.8 235.2 L459.1 235.2 L459.4 235.2 L459.7 235.3 L460.0 235.4 L460.3 235.5 L460.6 235.8 L460.9 236.1 L461.2 236.5 L461.5 237.0 L461.8 237.5 L462.1 238.2 L462.4 239.0 L462.7 239.9 L463.0 241.0 L463.3 242.3 L463.6 243.9 L463.9 245.9 L464.2 248.4 L464.5 251.8 L464.8 256.9 L465.3 260.0 L465.3 285.0 L465.3 260.0 L466.0 259.2 L466.3 255.1 L466.6 252.1 L466.9 249.7 L467.2 247.7 L467.5 246.0 L467.8 244.5 L468.1 243.1 L468.4 241.9 L468.7 240.9 L469.0 239.9 L469.3 239.0 L469.6 238.1 L469.9 237.4 L470.2 236.7 L470.5 236.0 L470.8 235.4 L471.1 234.8 L471.4 234.3 L471.7 233.8 L472.0 233.4 L472.3 233.0 L472.6 232.6 L472.9 232.2 L473.2 231.9 L473.5 231.6 L473.8 231.4 L474.1 231.2 L474.4 231.0 L474.7 230.8 L475.0 230.7 L475.3 230.6 L475.6 230.5 L475.9 230.4 L476.2 230.4 L476.5 230.4 L476.8 230.4 L477.1 230.5 L477.4 230.6 L477.7 230.7 L478.0 230.9 L478.3 231.1 L478.6 231.4 L478.9 231.6 L479.2 232.0 L479.5 232.3 L479.8 232.7 L480.1 233.2 L480.4 233.7 L480.7 234.2 L481.0 234.9 L481.3 235.6 L481.6 236.3 L481.9 237.2 L482.2 238.2 L482.5 239.3 L482.8 240.6 L483.1 242.1 L483.4 243.8 L483.7 245.9 L484.0 248.6 L484.3 252.1 L484.6 257.3 L485.1 257.4 L485.1 278.6 L485.1 257.4 L485.8 253.6 L486.1 249.7 L486.4 246.8 L486.7 244.5 L487.0 242.6 L487.3 241.0 L487.6 239.7 L487.9 238.5 L488.2 237.4 L488.5 236.5 L488.8 235.7 L489.1 234.9 L489.4 234.2 L489.7 233.6 L490.0 233.1 L490.3 232.6 L490.6 232.1 L490.9 231.7 L491.2 231.4 L491.5 231.1 L491.8 230.8 L492.1 230.6 L492.4 230.4 L492.7 230.2 L493.0 230.0 L493.3 229.9 L493.6 229.9 L493.9 229.8 L494.2 229.8 L494.5 229.8 L494.8 229.9 L495.1 230.1 L495.4 230.3 L495.7 230.6 L496.0 231.0 L496.3 231.4 L496.6 231.8 L496.9 232.4 L497.2 232.9 L497.5 233.6 L497.8 234.2 L498.1 235.0 L498.4 235.8 L498.7 236.6 L499.0 237.5 L499.3 238.5 L499.6 239.5 L499.9 240.5 L500.2 241.6 L500.5 242.8 L500.8 244.1 L501.1 245.4 L501.4 246.8 L501.7 248.3 L502.0 249.8 L502.3 251.6 L502.6 253.4 L502.9 255.4 L503.2 257.7 L503.5 260.3 L503.8 263.3 L504.1 267.0 L504.4 272.1 L505.0 270.3 L505.0 310.0 L505.0 270.3 L505.6 264.3 L505.9 260.3 L506.2 257.7 L506.5 255.7 L506.8 254.3 L507.1 253.2 L507.4 252.3 L507.7 251.6 L508.0 251.1 L508.3 250.7 L508.6 250.4 L508.9 250.2 L509.2 250.0 L509.5 250.0 L509.8 250.0 L510.1 250.2 L510.4 250.3 L510.7 250.6 L511.0 251.0 L511.3 251.6 L511.6 252.2 L511.9 253.1 L512.2 254.2 L512.5 255.6 L512.8 257.5 L513.1 260.2 L513.4 264.2 L514.0 269.4 L514.0 339.0 L514.0 269.4 L514.6 270.5 L514.9 265.4 L515.2 261.7 L515.5 258.6 L515.8 256.0 L516.1 253.8 L516.4 251.7 L516.7 249.9 L517.0 248.2 L517.3 246.6 L517.6 245.1 L517.9 243.7 L518.2 242.4 L518.5 241.2 L518.8 240.0 L519.1 238.9 L519.4 237.9 L519.7 236.9 L520.0 236.0 L520.3 235.2 L520.6 234.4 L520.9 233.6 L521.2 233.0 L521.5 232.3 L521.8 231.8 L522.1 231.3 L522.4 230.9 L522.7 230.5 L523.0 230.2 L523.3 230.0 L523.6 229.8 L523.9 229.7 L524.2 229.6 L524.5 229.5 L524.8 229.5 L525.1 229.5 L525.4 229.5 L525.7 229.6 L526.0 229.7 L526.3 229.8 L526.6 230.0 L526.9 230.2 L527.2 230.4 L527.5 230.7 L527.8 231.0 L528.1 231.4 L528.4 231.8 L528.7 232.3 L529.0 232.8 L529.3 233.4 L529.6 234.1 L529.9 234.9 L530.2 235.7 L530.5 236.7 L530.8 237.9 L531.1 239.2 L531.4 240.8 L531.7 242.7 L532.0 245.1 L532.3 248.2 L532.6 252.6 L533.2 254.9 L533.2 271.3 L533.2 254.9 L533.8 253.1 L534.1 248.5 L534.4 245.2 L534.7 242.7 L535.0 240.6 L535.3 238.9 L535.6 237.4 L535.9 236.1 L536.2 234.9 L536.5 233.8 L536.8 232.9 L537.1 232.1 L537.4 231.3 L537.7 230.6 L538.0 229.9 L538.3 229.3 L538.6 228.8 L538.9 228.3 L539.2 227.9 L539.5 227.5 L539.8 227.1 L540.1 226.7 L540.4 226.4 L540.7 226.2 L541.0 225.9 L541.3 225.7 L541.6 225.5 L541.9 225.4 L542.2 225.2 L542.5 225.1 L542.8 225.1 L543.1 225.0 L543.4 225.0 L543.7 225.0 L544.0 225.0 L544.3 225.0 L544.6 225.1 L544.9 225.1 L545.2 225.2 L545.5 225.3 L545.8 225.4 L546.1 225.5 L546.4 225.6 L546.7 225.7 L547.0 225.9 L547.3 226.1 L547.6 226.3 L547.9 226.5 L548.2 226.7 L548.5 227.0 L548.8 227.3 L549.1 227.6 L549.4 227.9 L549.7 228.2 L550.0 228.6 L550.3 228.9 L550.6 229.3 L550.9 229.8 L551.2 230.2 L551.5 230.7 L551.8 231.2 L552.1 231.8 L552.4 232.4 L552.7 233.0 L553.0 233.6 L553.3 234.4 L553.6 235.1 L553.9 235.9 L554.2 236.8 L554.5 237.8 L554.8 238.9 L555.1 240.1 L555.4 241.4 L555.7 242.8 L556.0 244.5 L556.3 246.5 L556.6 248.9 L556.9 251.9 L557.2 256.0 L557.9 257.0 L557.9 257.0 L557.9 257.0 L558.7 253.7 L559.0 250.2 L559.3 247.6 L559.6 245.6 L559.9 243.8 L560.2 242.4 L560.5 241.1 L560.8 240.0 L561.1 239.1 L561.4 238.2 L561.7 237.4 L562.0 236.7 L562.3 236.0 L562.6 235.4 L562.9 234.9 L563.2 234.4 L563.5 234.0 L563.8 233.5 L564.1 233.1 L564.4 232.8 L564.7 232.5 L565.0 232.2 L565.3 231.9 L565.6 231.6 L565.9 231.4 L566.2 231.2 L566.5 231.0 L566.8 230.8 L567.1 230.6 L567.4 230.5 L567.7 230.4 L568.0 230.2 L568.3 230.1 L568.6 230.0 L568.9 230.0 L569.2 229.9 L569.5 229.9 L569.8 229.8 L570.1 229.8 L570.4 229.8 L570.7 229.8 L571.0 229.8 L571.3 229.9 L571.6 230.0 L571.9 230.2 L572.2 230.4 L572.5 230.6 L572.8 230.9 L573.1 231.2 L573.4 231.5 L573.7 232.0 L574.0 232.4 L574.3 233.0 L574.6 233.6 L574.9 234.3 L575.2 235.1 L575.5 236.0 L575.8 237.0 L576.1 238.2 L576.4 239.6 L576.7 241.3 L577.0 243.3 L577.3 245.9 L577.6 249.3 L577.9 254.5 L578.4 257.5 L578.4 271.3 L578.4 257.5 L579.1 256.8 L579.4 252.7 L579.7 249.7 L580.0 247.3 L580.3 245.3 L580.6 243.7 L580.9 242.2 L581.2 240.9 L581.5 239.7 L581.8 238.6 L582.1 237.7 L582.4 236.8 L582.7 236.0 L583.0 235.2 L583.3 234.5 L583.6 233.9 L583.9 233.3 L584.2 232.7 L584.5 232.2 L584.8 231.7 L585.1 231.2 L585.4 230.8 L585.7 230.4 L586.0 230.0 L586.3 229.7 L586.6 229.4 L586.9 229.1 L587.2 228.8 L587.5 228.6 L587.8 228.4 L588.1 228.3 L588.4 228.3 L588.7 228.3 L589.0 228.3 L589.3 228.5 L589.6 228.6 L589.9 228.8 L590.2 229.1 L590.5 229.4 L590.8 229.7 L591.1 230.0 L591.4 230.4 L591.7 230.7 L592.0 231.1 L592.3 231.5 L592.6 231.9 L592.9 232.3 L593.2 232.7 L593.5 233.0 L593.8 233.3 L594.1 233.6 L594.4 233.9 L594.7 234.1 L595.0 234.3 L595.3 234.5 L595.6 234.6 L595.9 234.6 L596.2 234.6 L596.5 234.6 L596.8 234.5 L597.1 234.4 L597.4 234.2 L597.7 234.1 L598.0 233.9 L598.3 233.6 L598.6 233.4 L598.9 233.1 L599.2 232.9 L599.5 232.5 L599.8 232.2 L600.1 231.9 L600.4 231.5 L600.7 231.2 L601.0 230.8 L601.3 230.4 L601.6 230.0 L601.9 229.6 L602.2 229.2 L602.5 228.8 L602.8 228.4 L603.1 228.0 L603.4 227.6 L603.7 227.2 L604.0 226.8 L604.3 226.4 L604.6 226.0 L604.9 225.7 L605.2 225.3 L605.5 225.0 L605.8 224.7 L606.1 224.4 L606.4 224.1 L606.7 223.9 L607.0 223.7 L607.3 223.5 L607.6 223.4 L607.9 223.4 L608.2 223.4 L608.5 223.4 L608.8 223.5 L609.1 223.7 L609.4 223.9 L609.7 224.1 L610.0 224.4 L610.3 224.6 L610.6 225.0 L610.9 225.3 L611.2 225.7 L611.5 226.1 L611.8 226.5 L612.1 227.0 L612.4 227.5 L612.7 228.1 L613.0 228.7 L613.3 229.3 L613.6 230.0 L613.9 230.8 L614.2 231.7 L614.5 232.6 L614.8 233.7 L615.1 234.9 L615.4 236.2 L615.7 237.8 L616.0 239.6 L616.3 241.7 L616.6 244.4 L616.9 248.0 L617.2 253.3 L617.7 250.6 L617.7 281.0 L617.7 250.6 L618.4 244.1 L618.7 240.2 L619.0 237.4 L619.3 235.1 L619.6 233.3 L619.9 231.8 L620.2 230.6 L620.5 229.5 L620.8 228.5 L621.1 227.7 L621.4 227.0 L621.7 226.4 L622.0 225.8 L622.3 225.4 L622.6 225.0 L622.9 224.6 L623.2 224.4 L623.5 224.1 L623.8 224.0 L624.1 223.9 L624.4 223.8 L624.7 223.8 L625.0 223.8 L625.3 223.9 L625.6 224.1 L625.9 224.4 L626.2 224.8 L626.5 225.2 L626.8 225.7 L627.1 226.3 L627.4 227.0 L627.7 227.8 L628.0 228.7 L628.3 229.7 L628.6 230.9 L628.9 232.2 L629.2 233.7 L629.5 235.3 L629.8 237.3 L630.1 239.7 L630.4 242.6 L630.7 246.3 L631.0 251.8 L631.5 250.5 L631.5 279.8 L631.5 250.5 L632.2 245.6 L632.5 242.0 L632.8 239.4 L633.1 237.5 L633.4 236.0 L633.7 234.8 L634.0 233.8 L634.3 233.0 L634.6 232.4 L634.9 231.9 L635.2 231.6 L635.5 231.3 L635.8 231.1 L636.1 231.0 L636.4 231.0 L636.7 231.1 L637.0 231.2 L637.3 231.4 L637.6 231.7 L637.9 232.1 L638.2 232.7 L638.5 233.4 L638.8 234.2 L639.1 235.3 L639.4 236.7 L639.7 238.6 L640.0 241.0 L640.3 244.6 L641.0 248.4 L641.0 294.4 L641.0 248.4 L641.8 243.2 L642.1 239.4 L642.4 236.4 L642.7 234.0 L643.0 232.0 L643.3 230.3 L643.6 228.9 L643.9 227.6 L644.2 226.5 L644.5 225.6 L644.8 224.8 L645.1 224.1 L645.4 223.6 L645.7 223.1 L646.0 222.8 L646.3 222.7 L646.6 222.6 L646.9 222.6 L647.2 222.7 L647.5 222.8 L647.8 222.9 L648.1 223.0 L648.4 223.3 L648.7 223.5 L649.0 223.8 L649.3 224.1 L649.6 224.5 L649.9 224.9 L650.2 225.4 L650.5 225.9 L650.8 226.6 L651.1 227.2 L651.4 228.0 L651.7 228.9 L652.0 229.8 L652.3 230.9 L652.6 232.2 L652.9 233.6 L653.2 235.3 L653.5 237.3 L653.8 239.8 L654.1 243.0 L654.4 247.6 L655.0 252.6 L655.0 275.0 L655.0 252.6 L655.6 253.5 L655.9 249.1 L656.2 245.9 L656.5 243.5 L656.8 241.6 L657.1 240.0 L657.4 238.6 L657.7 237.4" fill="none" stroke="#ff00ff" stroke-width="2.5" stroke-linejoin="round" stroke-dasharray="9.3 2.2 1.7 2.2" clip-path="url(#c1)"/>
<path d="M126.7 305.1 L127.0 306.7 L127.3 308.8 L127.6 311.8 L127.9 316.5 L128.4 305.2 L128.4 317.0M128.4 305.2 L129.1 289.9 L129.4 286.0 L129.7 283.3 L130.0 281.5 L130.3 280.4 L130.6 279.9 L130.9 279.8 L131.2 280.1 L131.5 281.0 L131.8 282.5 L132.1 284.9 L132.4 288.7 L133.0 289.9 L133.0 300.0M133.0 289.9 L133.6 287.3 L133.9 282.7 L134.2 279.7 L134.5 277.5 L134.8 275.9 L135.1 274.8 L135.4 274.1 L135.7 273.9 L136.0 274.0 L136.3 274.6 L136.6 275.8 L136.9 277.6 L137.2 280.5 L137.5 285.1 L138.0 284.7 L138.0 298.0M138.0 284.7 L138.7 280.4 L139.0 276.5 L139.3 273.8 L139.6 271.9 L139.9 270.5 L140.2 269.5 L140.5 269.0 L140.8 268.9 L141.1 269.2 L141.4 270.0 L141.7 271.4 L142.0 273.7 L142.3 277.4 L142.9 276.6 L142.9 300.5M142.9 276.6 L143.5 271.9 L143.8 267.9 L144.1 265.6 L144.4 264.4 L144.7 264.1 L145.0 264.1 L145.3 264.2 L145.6 264.5 L145.9 265.1 L146.2 265.9 L146.5 267.0 L146.8 268.5 L147.1 270.5 L147.4 273.3 L147.7 277.5 L148.3 279.7 L148.3 292.0M148.3 279.7 L148.9 277.8 L149.2 273.2 L149.5 270.0 L149.8 267.5 L150.1 265.6 L150.4 264.0 L150.7 262.8 L151.0 261.7 L151.3 260.9 L151.6 260.3 L151.9 259.8 L152.2 259.5 L152.5 259.3 L152.8 259.3 L153.1 259.4 L153.4 259.7 L153.7 260.1 L154.0 260.7 L154.3 261.5 L154.6 262.6 L154.9 263.9 L155.2 265.6 L155.5 267.8 L155.8 270.8 L156.1 275.2 L156.7 277.0 L156.7 293.0M156.7 277.0 L157.3 274.9 L157.6 270.4 L157.9 267.3 L158.2 265.0 L158.5 263.1 L158.8 261.7 L159.1 260.5 L159.4 259.6 L159.7 258.8 L160.0 258.3 L160.3 257.9 L160.6 257.6 L160.9 257.5 L161.2 257.6 L161.5 257.8 L161.8 258.3 L162.1 259.0 L162.4 259.9 L162.7 261.2 L163.0 262.9 L163.3 265.1 L163.6 268.0 L163.9 272.4 L164.5 274.4 L164.5 290.0M164.5 274.4 L165.1 272.3 L165.4 267.9 L165.7 264.9 L166.0 262.7 L166.3 261.0 L166.6 259.7 L166.9 258.7 L167.2 257.9 L167.5 257.4 L167.8 257.0 L168.1 256.9 L168.4 257.0 L168.7 257.2 L169.0 257.6 L169.3 258.3 L169.6 259.2 L169.9 260.4 L170.2 262.0 L170.5 264.1 L170.8 266.9 L171.1 271.2 L171.7 273.1 L171.7 288.0M171.7 273.1 L172.3 271.0 L172.6 266.5 L172.9 263.3 L173.2 260.9 L173.5 259.1 L173.8 257.6 L174.1 256.4 L174.4 255.5 L174.7 254.8 L175.0 254.3 L175.3 254.0 L175.6 253.8 L175.9 254.0 L176.2 254.4 L176.5 255.1 L176.8 256.2 L177.1 257.8 L177.4 260.1 L177.7 263.6 L178.4 266.6 L178.4 322.0M178.4 266.6 L179.2 260.7 L179.5 257.1 L179.8 254.5 L180.1 252.6 L180.4 251.0 L180.7 249.9 L181.0 249.1 L181.3 248.6 L181.6 248.4 L181.9 248.3 L182.2 248.3 L182.5 248.5 L182.8 248.9 L183.1 249.4 L183.4 250.2 L183.7 251.2 L184.0 252.6 L184.3 254.4 L184.6 256.9 L184.9 260.5 L185.6 262.7 L185.6 285.0M185.6 262.7 L186.4 256.0 L186.7 252.4 L187.0 249.7 L187.3 247.7 L187.6 246.0 L187.9 244.7 L188.2 243.7 L188.5 242.8 L188.8 242.3 L189.1 241.9 L189.4 241.7 L189.7 241.6 L190.0 241.7 L190.3 241.9 L190.6 242.3 L190.9 242.9 L191.2 243.7 L191.5 244.8 L191.8 246.2 L192.1 248.0 L192.4 250.5 L192.7 254.1 L193.4 256.5 L193.4 280.0M193.4 256.5 L194.2 250.0 L194.5 246.4 L194.8 243.8 L195.1 241.9 L195.4 240.3 L195.7 239.1 L196.0 238.2 L196.3 237.6 L196.6 237.2 L196.9 237.0 L197.2 237.1 L197.5 237.3 L197.8 237.9 L198.1 238.7 L198.4 239.7 L198.7 241.1 L199.0 242.9 L199.3 245.1 L199.6 248.1 L199.9 252.1 L200.6 252.6 L200.6 285.0M200.6 252.6 L201.4 244.7 L201.7 242.1 L202.0 240.7 L202.3 240.0 L202.6 240.0 L202.9 240.3 L203.2 240.8 L203.5 241.7 L203.8 242.8 L204.1 244.5 L204.4 246.8 L204.7 246.6 L205.4 246.0 L205.4 246.0M205.4 246.0 L206.2 245.3 L206.5 244.1 L206.8 241.5 L207.1 239.7 L207.4 238.3 L207.7 237.3 L208.0 236.7 L208.3 236.4 L208.6 236.4 L208.9 236.6 L209.2 236.8 L209.5 237.2 L209.8 237.7 L210.1 238.3 L210.4 239.1 L210.7 240.0 L211.0 241.2 L211.3 242.6 L211.6 244.3 L211.9 246.5 L212.2 249.3 L212.5 253.2 L213.2 257.0 L213.2 283.0M213.2 257.0 L214.0 251.9 L214.3 248.5 L214.6 246.0 L214.9 244.0 L215.2 242.4 L215.5 241.2 L215.8 240.1 L216.1 239.3 L216.4 238.6 L216.7 238.0 L217.0 237.6 L217.3 237.3 L217.6 237.1 L217.9 237.0 L218.2 237.0 L218.5 237.1 L218.8 237.2 L219.1 237.4 L219.4 237.7 L219.7 238.1 L220.0 238.5 L220.3 239.0 L220.6 239.6 L220.9 240.3 L221.2 241.2 L221.5 242.1 L221.8 243.3 L222.1 244.6 L222.4 246.3 L222.7 248.3 L223.0 250.9 L223.3 254.3 L223.6 259.5 L224.1 259.2 L224.1 284.0M224.1 259.2 L224.8 255.2 L225.1 251.2 L225.4 248.3 L225.7 246.0 L226.0 244.2 L226.3 242.6 L226.6 241.3 L226.9 240.2 L227.2 239.3 L227.5 238.4 L227.8 237.7 L228.1 237.1 L228.4 236.6 L228.7 236.2 L229.0 235.8 L229.3 235.5 L229.6 235.4 L229.9 235.2 L230.2 235.2 L230.5 235.2 L230.8 235.4 L231.1 235.6 L231.4 236.0 L231.7 236.4 L232.0 237.0 L232.3 237.8 L232.6 238.8 L232.9 239.9 L233.2 241.4 L233.5 243.2 L233.8 245.6 L234.1 249.0 L234.4 254.0 L234.9 255.8 L234.9 282.0M234.9 255.8 L235.6 253.7 L235.9 249.6 L236.2 246.6 L236.5 244.2 L236.8 242.2 L237.1 240.5 L237.4 239.1 L237.7 237.8 L238.0 236.7 L238.3 235.7 L238.6 234.8 L238.9 234.1 L239.2 233.4 L239.5 232.8 L239.8 232.2 L240.1 231.8 L240.4 231.4 L240.7 231.1 L241.0 230.8 L241.3 230.6 L241.6 230.5 L241.9 230.4 L242.2 230.4 L242.5 230.4 L242.8 230.5 L243.1 230.6 L243.4 230.7 L243.7 230.8 L244.0 231.0 L244.3 231.3 L244.6 231.6 L244.9 231.9 L245.2 232.3 L245.5 232.7 L245.8 233.2 L246.1 233.7 L246.4 234.3 L246.7 235.0 L247.0 235.7 L247.3 236.6 L247.6 237.6 L247.9 238.7 L248.2 239.9 L248.5 241.4 L248.8 243.1 L249.1 245.2 L249.4 247.9 L249.7 251.4 L250.0 256.6 L250.5 254.8 L250.5 283.0M250.5 254.8 L251.2 249.1 L251.5 245.2 L251.8 242.3 L252.1 240.1 L252.4 238.3 L252.7 236.8 L253.0 235.6 L253.3 234.5 L253.6 233.6 L253.9 232.8 L254.2 232.1 L254.5 231.5 L254.8 231.1 L255.1 230.7 L255.4 230.3 L255.7 230.1 L256.0 229.9 L256.3 229.8 L256.6 229.8 L256.9 229.8 L257.2 229.9 L257.5 230.0 L257.8 230.1 L258.1 230.3 L258.4 230.5 L258.7 230.8 L259.0 231.1 L259.3 231.5 L259.6 231.9 L259.9 232.4 L260.2 232.9 L260.5 233.4 L260.8 234.0 L261.1 234.7 L261.4 235.4 L261.7 236.3 L262.0 237.2 L262.3 238.2 L262.6 239.3 L262.9 240.5 L263.2 241.9 L263.5 243.4 L263.8 245.2 L264.1 247.4 L264.4 250.0 L264.7 253.3 L265.0 258.0 L265.6 258.6 L265.6 289.6M265.6 258.6 L266.2 255.2 L266.5 250.9 L266.8 247.9 L267.1 245.6 L267.4 243.8 L267.7 242.4 L268.0 241.2 L268.3 240.1 L268.6 239.3 L268.9 238.6 L269.2 238.0 L269.5 237.4 L269.8 237.0 L270.1 236.6 L270.4 236.4 L270.7 236.1 L271.0 236.0 L271.3 235.8 L271.6 235.8 L271.9 235.8 L272.2 235.8 L272.5 235.9 L272.8 236.1 L273.1 236.3 L273.4 236.6 L273.7 237.0 L274.0 237.5 L274.3 238.0 L274.6 238.7 L274.9 239.4 L275.2 240.3 L275.5 241.3 L275.8 242.5 L276.1 243.9 L276.4 245.5 L276.7 247.5 L277.0 249.9 L277.3 253.1 L277.6 257.7 L278.2 260.3 L278.2 283.0M278.2 260.3 L278.8 258.9 L279.1 254.5 L279.4 251.4 L279.7 249.0 L280.0 247.1 L280.3 245.5 L280.6 244.2 L280.9 243.1 L281.2 242.1 L281.5 241.3 L281.8 240.6 L282.1 240.0 L282.4 239.4 L282.7 239.0 L283.0 238.6 L283.3 238.3 L283.6 238.0 L283.9 237.8 L284.2 237.7 L284.5 237.6 L284.8 237.6 L285.1 237.6 L285.4 237.7 L285.7 237.9 L286.0 238.1 L286.3 238.4 L286.6 238.8 L286.9 239.2 L287.2 239.7 L287.5 240.4 L287.8 241.1 L288.1 242.0 L288.4 243.1 L288.7 244.3 L289.0 245.8 L289.3 247.6 L289.6 249.9 L289.9 253.0 L290.2 257.4 L290.8 260.2 L290.8 284.0M290.8 260.2 L291.4 259.0 L291.7 254.4 L292.0 251.2 L292.3 248.7 L292.6 246.6 L292.9 244.9 L293.2 243.4 L293.5 242.1 L293.8 241.0 L294.1 240.0 L294.4 239.2 L294.7 238.4 L295.0 237.7 L295.3 237.1 L295.6 236.6 L295.9 236.1 L296.2 235.7 L296.5 235.4 L296.8 235.1 L297.1 234.9 L297.4 234.8 L297.7 234.7 L298.0 234.6 L298.3 234.6 L298.6 234.7 L298.9 234.8 L299.2 235.0 L299.5 235.2 L299.8 235.5 L300.1 235.9 L300.4 236.3 L300.7 236.8 L301.0 237.4 L301.3 238.1 L301.6 238.9 L301.9 239.9 L302.2 240.9 L302.5 242.2 L302.8 243.7 L303.1 245.5 L303.4 247.7 L303.7 250.6 L304.0 254.5 L304.7 258.1 L304.7 294.4M304.7 258.1 L305.5 252.8 L305.8 249.3 L306.1 246.6 L306.4 244.5 L306.7 242.8 L307.0 241.4 L307.3 240.2 L307.6 239.1 L307.9 238.2 L308.2 237.4 L308.5 236.7 L308.8 236.1 L309.1 235.6 L309.4 235.2 L309.7 234.8 L310.0 234.6 L310.3 234.3 L310.6 234.2 L310.9 234.1 L311.2 234.0 L311.5 234.0 L311.8 234.1 L312.1 234.2 L312.4 234.4 L312.7 234.6 L313.0 234.9 L313.3 235.2 L313.6 235.7 L313.9 236.1 L314.2 236.7 L314.5 237.3 L314.8 237.9 L315.1 238.7 L315.4 239.5 L315.7 240.5 L316.0 241.5 L316.3 242.7 L316.6 244.0 L316.9 245.5 L317.2 247.2 L317.5 249.3 L317.8 251.7 L318.1 254.8 L318.4 258.9 L319.1 262.2 L319.1 284.0M319.1 262.2 L319.9 256.5 L320.2 253.2 L320.5 250.7 L320.8 248.8 L321.1 247.3 L321.4 246.0 L321.7 245.0 L322.0 244.1 L322.3 243.3 L322.6 242.7 L322.9 242.1 L323.2 241.6 L323.5 241.2 L323.8 240.9 L324.1 240.6 L324.4 240.4 L324.7 240.2 L325.0 240.1 L325.3 240.0 L325.6 240.0 L325.9 240.0 L326.2 240.1 L326.5 240.2 L326.8 240.3 L327.1 240.5 L327.4 240.8 L327.7 241.1 L328.0 241.4 L328.3 241.9 L328.6 242.3 L328.9 242.9 L329.2 243.5 L329.5 244.3 L329.8 245.1 L330.1 246.0 L330.4 247.1 L330.7 248.3 L331.0 249.8 L331.3 251.5 L331.6 253.6 L331.9 256.3 L332.2 259.8 L332.5 265.0 L333.0 263.9 L333.0 285.0M333.0 263.9 L333.7 259.1 L334.0 255.1 L334.3 252.3 L334.6 250.1 L334.9 248.3 L335.2 246.8 L335.5 245.6 L335.8 244.5 L336.1 243.6 L336.4 242.8 L336.7 242.2 L337.0 241.6 L337.3 241.1 L337.6 240.8 L337.9 240.5 L338.2 240.2 L338.5 240.1 L338.8 240.0 L339.1 240.0 L339.4 240.0 L339.7 240.1 L340.0 240.2 L340.3 240.4 L340.6 240.6 L340.9 240.9 L341.2 241.2 L341.5 241.5 L341.8 241.9 L342.1 242.4 L342.4 242.9 L342.7 243.4 L343.0 244.0 L343.3 244.7 L343.6 245.5 L343.9 246.4 L344.2 247.3 L344.5 248.4 L344.8 249.6 L345.1 251.0 L345.4 252.5 L345.7 254.4 L346.0 256.6 L346.3 259.3 L346.6 263.0 L346.9 268.3 L347.4 266.6 L347.4 284.0M347.4 266.6 L348.1 261.2 L348.4 257.3 L348.7 254.5 L349.0 252.4 L349.3 250.7 L349.6 249.3 L349.9 248.1 L350.2 247.1 L350.5 246.3 L350.8 245.6 L351.1 245.0 L351.4 244.5 L351.7 244.0 L352.0 243.7 L352.3 243.4 L352.6 243.2 L352.9 243.1 L353.2 243.0 L353.5 243.0 L353.8 243.1 L354.1 243.2 L354.4 243.4 L354.7 243.6 L355.0 244.0 L355.3 244.4 L355.6 245.0 L355.9 245.7 L356.2 246.5 L356.5 247.4 L356.8 248.6 L357.1 250.1 L357.4 251.9 L357.7 254.3 L358.0 257.6 L358.3 262.6 L358.8 263.9 L358.8 310.7M358.8 263.9 L359.5 261.2 L359.8 257.1 L360.1 254.0 L360.4 251.5 L360.7 249.5 L361.0 247.7 L361.3 246.2 L361.6 244.9 L361.9 243.7 L362.2 242.7 L362.5 241.8 L362.8 241.0 L363.1 240.2 L363.4 239.6 L363.7 239.0 L364.0 238.5 L364.3 238.1 L364.6 237.7 L364.9 237.5 L365.2 237.2 L365.5 237.1 L365.8 237.0 L366.1 237.0 L366.4 237.1 L366.7 237.2 L367.0 237.4 L367.3 237.6 L367.6 238.0 L367.9 238.4 L368.2 238.8 L368.5 239.4 L368.8 240.0 L369.1 240.7 L369.4 241.5 L369.7 242.3 L370.0 243.3 L370.3 244.4 L370.6 245.6 L370.9 246.9 L371.2 248.5 L371.5 250.2 L371.8 252.2 L372.1 254.6 L372.4 257.5 L372.7 261.4 L373.0 266.9 L373.5 267.0 L373.5 339.0M373.5 267.0 L374.2 263.6 L374.5 259.9 L374.8 257.3 L375.1 255.4 L375.4 253.8 L375.7 252.6 L376.0 251.5 L376.3 250.7 L376.6 250.0 L376.9 249.3 L377.2 248.8 L377.5 248.4 L377.8 248.0 L378.1 247.7 L378.4 247.4 L378.7 247.2 L379.0 247.1 L379.3 246.9 L379.6 246.8 L379.9 246.8 L380.2 246.7 L380.5 246.7 L380.8 246.7 L381.1 246.8 L381.4 247.0 L381.7 247.3 L382.0 247.6 L382.3 248.1 L382.6 248.6 L382.9 249.3 L383.2 250.1 L383.5 251.0 L383.8 252.2 L384.1 253.6 L384.4 255.3 L384.7 257.6 L385.0 260.6 L385.3 264.9 L385.9 268.6 L385.9 284.0M385.9 268.6 L386.5 268.3 L386.8 263.7 L387.1 260.3 L387.4 257.7 L387.7 255.6 L388.0 253.8 L388.3 252.2 L388.6 250.9 L388.9 249.7 L389.2 248.6 L389.5 247.7 L389.8 246.8 L390.1 246.0 L390.4 245.3 L390.7 244.7 L391.0 244.2 L391.3 243.7 L391.6 243.3 L391.9 242.9 L392.2 242.6 L392.5 242.3 L392.8 242.1 L393.1 242.0 L393.4 241.9 L393.7 241.9 L394.0 241.9 L394.3 242.0 L394.6 242.2 L394.9 242.4 L395.2 242.7 L395.5 243.0 L395.8 243.4 L396.1 243.9 L396.4 244.4 L396.7 245.1 L397.0 245.8 L397.3 246.6 L397.6 247.6 L397.9 248.7 L398.2 250.0 L398.5 251.5 L398.8 253.3 L399.1 255.4 L399.4 258.1 L399.7 261.7 L400.0 266.9 L400.5 266.8 L400.5 292.0M400.5 266.8 L401.2 262.9 L401.5 259.1 L401.8 256.2 L402.1 254.1 L402.4 252.3 L402.7 250.9 L403.0 249.6 L403.3 248.6 L403.6 247.7 L403.9 246.9 L404.2 246.3 L404.5 245.7 L404.8 245.2 L405.1 244.8 L405.4 244.5 L405.7 244.2 L406.0 244.0 L406.3 243.8 L406.6 243.7 L406.9 243.7 L407.2 243.7 L407.5 243.8 L407.8 243.9 L408.1 244.0 L408.4 244.2 L408.7 244.4 L409.0 244.7 L409.3 245.1 L409.6 245.6 L409.9 246.1 L410.2 246.7 L410.5 247.5 L410.8 248.4 L411.1 249.4 L411.4 250.7 L411.7 252.3 L412.0 254.3 L412.3 257.0 L412.6 260.7 L413.3 265.2 L413.3 284.0M413.3 265.2 L414.1 260.8 L414.4 257.0 L414.7 254.1 L415.0 251.7 L415.3 249.7 L415.6 248.0 L415.9 246.5 L416.2 245.2 L416.5 244.0 L416.8 242.9 L417.1 241.9 L417.4 241.1 L417.7 240.3 L418.0 239.5 L418.3 238.9 L418.6 238.3 L418.9 237.8 L419.2 237.3 L419.5 237.0 L419.8 236.6 L420.1 236.3 L420.4 236.1 L420.7 236.0 L421.0 235.9 L421.3 235.8 L421.6 235.8 L421.9 235.9 L422.2 236.0 L422.5 236.1 L422.8 236.3 L423.1 236.6 L423.4 236.9 L423.7 237.2 L424.0 237.6 L424.3 238.0 L424.6 238.5 L424.9 239.1 L425.2 239.6 L425.5 240.3 L425.8 241.0 L426.1 241.7 L426.4 242.5 L426.7 243.4 L427.0 244.4 L427.3 245.4 L427.6 246.5 L427.9 247.7 L428.2 249.1 L428.5 250.5 L428.8 252.2 L429.1 254.1 L429.4 256.2 L429.7 258.8 L430.0 262.0 L430.3 266.3 L431.0 268.1 L431.0 283.0M431.0 268.1 L431.8 261.0 L432.1 257.7 L432.4 255.4 L432.7 253.5 L433.0 252.1 L433.3 250.9 L433.6 249.9 L433.9 249.1 L434.2 248.5 L434.5 247.9 L434.8 247.4 L435.1 247.0 L435.4 246.7 L435.7 246.5 L436.0 246.3 L436.3 246.1 L436.6 246.0 L436.9 246.0 L437.2 246.0 L437.5 246.1 L437.8 246.4 L438.1 246.7 L438.4 247.1 L438.7 247.7 L439.0 248.4 L439.3 249.3 L439.6 250.4 L439.9 251.7 L440.2 253.4 L440.5 255.5 L440.8 258.2 L441.1 262.0 L441.8 266.2 L441.8 292.0M441.8 266.2 L442.6 261.5 L442.9 257.9 L443.2 255.3 L443.5 253.2 L443.8 251.4 L444.1 250.0 L444.4 248.8 L444.7 247.8 L445.0 247.0 L445.3 246.3 L445.6 245.7 L445.9 245.2 L446.2 244.8 L446.5 244.6 L446.8 244.4 L447.1 244.3 L447.4 244.3 L447.7 244.3 L448.0 244.4 L448.3 244.5 L448.6 244.7 L448.9 244.9 L449.2 245.1 L449.5 245.3 L449.8 245.6 L450.1 245.9 L450.4 246.3 L450.7 246.7 L451.0 247.1 L451.3 247.6 L451.6 248.2 L451.9 248.7 L452.2 249.4 L452.5 250.1 L452.8 250.9 L453.1 251.7 L453.4 252.6 L453.7 253.7 L454.0 254.8 L454.3 256.1 L454.6 257.5 L454.9 259.2 L455.2 261.2 L455.5 263.6 L455.8 266.5 L456.1 270.6 L456.8 270.8 L456.8 291.0M456.8 270.8 L457.6 262.1 L457.9 258.7 L458.2 256.2 L458.5 254.3 L458.8 252.7 L459.1 251.5 L459.4 250.5 L459.7 249.6 L460.0 248.9 L460.3 248.4 L460.6 248.0 L460.9 247.6 L461.2 247.4 L461.5 247.3 L461.8 247.3 L462.1 247.3 L462.4 247.4 L462.7 247.6 L463.0 247.7 L463.3 248.0 L463.6 248.3 L463.9 248.6 L464.2 249.1 L464.5 249.6 L464.8 250.3 L465.1 251.1 L465.4 252.0 L465.7 253.2 L466.0 254.6 L466.3 256.4 L466.6 258.7 L466.9 261.9 L467.2 266.8 L467.7 268.9 L467.7 291.0M467.7 268.9 L468.4 267.1 L468.7 262.8 L469.0 259.5 L469.3 256.9 L469.6 254.7 L469.9 252.8 L470.2 251.1 L470.5 249.6 L470.8 248.2 L471.1 247.0 L471.4 245.8 L471.7 244.7 L472.0 243.8 L472.3 242.8 L472.6 242.0 L472.9 241.2 L473.2 240.5 L473.5 239.8 L473.8 239.2 L474.1 238.7 L474.4 238.2 L474.7 237.7 L475.0 237.3 L475.3 236.9 L475.6 236.6 L475.9 236.4 L476.2 236.1 L476.5 236.0 L476.8 235.9 L477.1 235.8 L477.4 235.8 L477.7 235.9 L478.0 236.0 L478.3 236.2 L478.6 236.4 L478.9 236.7 L479.2 237.0 L479.5 237.4 L479.8 237.9 L480.1 238.4 L480.4 239.0 L480.7 239.6 L481.0 240.3 L481.3 241.0 L481.6 241.8 L481.9 242.6 L482.2 243.5 L482.5 244.4 L482.8 245.4 L483.1 246.5 L483.4 247.6 L483.7 248.7 L484.0 250.0 L484.3 251.3 L484.6 252.7 L484.9 254.1 L485.2 255.7 L485.5 257.4 L485.8 259.3 L486.1 261.3 L486.4 263.7 L486.7 266.3 L487.0 269.5 L487.3 273.6 L487.6 279.3 L488.1 275.1 L488.1 292.6M488.1 275.1 L488.8 267.4 L489.1 263.9 L489.4 261.5 L489.7 259.7 L490.0 258.4 L490.3 257.3 L490.6 256.5 L490.9 255.9 L491.2 255.4 L491.5 255.0 L491.8 254.7 L492.1 254.6 L492.4 254.5 L492.7 254.5 L493.0 254.6 L493.3 254.9 L493.6 255.2 L493.9 255.7 L494.2 256.2 L494.5 257.0 L494.8 257.9 L495.1 259.0 L495.4 260.4 L495.7 262.1 L496.0 264.4 L496.3 267.4 L496.6 271.7 L497.2 276.3 L497.2 297.4M497.2 276.3 L497.8 276.9 L498.1 272.2 L498.4 268.9 L498.7 266.4 L499.0 264.3 L499.3 262.5 L499.6 261.0 L499.9 259.7 L500.2 258.5 L500.5 257.4 L500.8 256.5 L501.1 255.7 L501.4 254.9 L501.7 254.3 L502.0 253.7 L502.3 253.2 L502.6 252.7 L502.9 252.3 L503.2 251.9 L503.5 251.7 L503.8 251.4 L504.1 251.2 L504.4 251.1 L504.7 251.0 L505.0 251.0 L505.3 251.1 L505.6 251.2 L505.9 251.5 L506.2 251.9 L506.5 252.4 L506.8 253.0 L507.1 253.8 L507.4 254.6 L507.7 255.6 L508.0 256.8 L508.3 258.1 L508.6 259.5 L508.9 261.2 L509.2 263.2 L509.5 265.4 L509.8 268.2 L510.1 271.7 L510.4 276.6 L511.0 276.4 L511.0 307.7M511.0 276.4 L511.6 272.1 L511.9 268.0 L512.2 265.3 L512.5 263.4 L512.8 262.0 L513.1 260.9 L513.4 260.1 L513.7 259.6 L514.0 259.2 L514.3 259.0 L514.6 259.0 L514.9 259.1 L515.2 259.3 L515.5 259.7 L515.8 260.3 L516.1 261.1 L516.4 262.1 L516.7 263.5 L517.0 265.4 L517.3 268.0 L517.6 272.0 L518.2 278.1 L518.2 301.7M518.2 278.1 L518.8 280.1 L519.1 275.1 L519.4 271.5 L519.7 268.6 L520.0 266.2 L520.3 264.1 L520.6 262.3 L520.9 260.7 L521.2 259.2 L521.5 257.9 L521.8 256.8 L522.1 255.7 L522.4 254.8 L522.7 254.0 L523.0 253.3 L523.3 252.7 L523.6 252.2 L523.9 251.7 L524.2 251.2 L524.5 250.8 L524.8 250.4 L525.1 250.1 L525.4 249.8 L525.7 249.6 L526.0 249.4 L526.3 249.2 L526.6 249.1 L526.9 249.0 L527.2 249.0 L527.5 249.0 L527.8 249.1 L528.1 249.2 L528.4 249.4 L528.7 249.6 L529.0 249.9 L529.3 250.3 L529.6 250.6 L529.9 251.1 L530.2 251.6 L530.5 252.1 L530.8 252.7 L531.1 253.4 L531.4 254.1 L531.7 254.9 L532.0 255.7 L532.3 256.7 L532.6 257.7 L532.9 258.8 L533.2 260.1 L533.5 261.5 L533.8 263.1 L534.1 264.9 L534.4 267.0 L534.7 269.5 L535.0 272.6 L535.3 276.8 L536.0 277.3 L536.0 321.0M536.0 277.3 L536.8 268.9 L537.1 265.6 L537.4 263.3 L537.7 261.4 L538.0 260.0 L538.3 258.9 L538.6 258.0 L538.9 257.3 L539.2 256.7 L539.5 256.3 L539.8 256.0 L540.1 255.8 L540.4 255.7 L540.7 255.7 L541.0 255.7 L541.3 255.8 L541.6 255.8 L541.9 255.9 L542.2 256.0 L542.5 256.2 L542.8 256.3 L543.1 256.5 L543.4 256.8 L543.7 257.0 L544.0 257.4 L544.3 257.8 L544.6 258.2 L544.9 258.7 L545.2 259.4 L545.5 260.1 L545.8 261.0 L546.1 262.0 L546.4 263.2 L546.7 264.8 L547.0 266.7 L547.3 269.3 L547.6 272.9 L548.3 275.9 L548.3 294.0M548.3 275.9 L549.1 269.8 L549.4 266.0 L549.7 263.0 L550.0 260.6 L550.3 258.5 L550.6 256.7 L550.9 255.2 L551.2 253.8 L551.5 252.5 L551.8 251.4 L552.1 250.3 L552.4 249.4 L552.7 248.6 L553.0 247.8 L553.3 247.1 L553.6 246.5 L553.9 245.9 L554.2 245.4 L554.5 245.0 L554.8 244.6 L555.1 244.3 L555.4 244.0 L555.7 243.9 L556.0 243.7 L556.3 243.7 L556.6 243.6 L556.9 243.6 L557.2 243.7 L557.5 243.7 L557.8 243.9 L558.1 244.0 L558.4 244.2 L558.7 244.4 L559.0 244.7 L559.3 245.1 L559.6 245.4 L559.9 245.9 L560.2 246.4 L560.5 247.0 L560.8 247.6 L561.1 248.4 L561.4 249.2 L561.7 250.2 L562.0 251.3 L562.3 252.6 L562.6 254.1 L562.9 255.9 L563.2 258.1 L563.5 260.9 L563.8 264.8 L564.5 267.6 L564.5 286.0M564.5 267.6 L565.3 261.4 L565.6 257.8 L565.9 255.2 L566.2 253.0 L566.5 251.3 L566.8 249.8 L567.1 248.5 L567.4 247.4 L567.7 246.4 L568.0 245.6 L568.3 244.9 L568.6 244.2 L568.9 243.6 L569.2 243.1 L569.5 242.7 L569.8 242.3 L570.1 242.0 L570.4 241.8 L570.7 241.6 L571.0 241.4 L571.3 241.3 L571.6 241.3 L571.9 241.3 L572.2 241.4 L572.5 241.5 L572.8 241.6 L573.1 241.8 L573.4 242.0 L573.7 242.3 L574.0 242.6 L574.3 243.0 L574.6 243.4 L574.9 243.9 L575.2 244.4 L575.5 245.0 L575.8 245.7 L576.1 246.4 L576.4 247.2 L576.7 248.1 L577.0 249.0 L577.3 250.1 L577.6 251.3 L577.9 252.6 L578.2 254.1 L578.5 255.8 L578.8 257.9 L579.1 260.3 L579.4 263.4 L579.7 267.5 L580.4 269.4 L580.4 299.0M580.4 269.4 L581.2 262.4 L581.5 259.1 L581.8 256.6 L582.1 254.7 L582.4 253.2 L582.7 252.0 L583.0 251.0 L583.3 250.1 L583.6 249.4 L583.9 248.9 L584.2 248.4 L584.5 248.0 L584.8 247.7 L585.1 247.5 L585.4 247.3 L585.7 247.3 L586.0 247.3 L586.3 247.3 L586.6 247.4 L586.9 247.6 L587.2 247.8 L587.5 248.0 L587.8 248.3 L588.1 248.7 L588.4 249.1 L588.7 249.5 L589.0 250.0 L589.3 250.6 L589.6 251.3 L589.9 252.0 L590.2 252.9 L590.5 253.8 L590.8 254.8 L591.1 256.0 L591.4 257.4 L591.7 259.0 L592.0 260.9 L592.3 263.2 L592.6 266.2 L592.9 270.2 L593.6 274.3 L593.6 306.0M593.6 274.3 L594.4 269.5 L594.7 266.1 L595.0 263.5 L595.3 261.4 L595.6 259.7 L595.9 258.3 L596.2 257.1 L596.5 256.0 L596.8 255.1 L597.1 254.3 L597.4 253.6 L597.7 252.9 L598.0 252.4 L598.3 251.9 L598.6 251.5 L598.9 251.1 L599.2 250.8 L599.5 250.5 L599.8 250.3 L600.1 250.1 L600.4 249.9 L600.7 249.8 L601.0 249.7 L601.3 249.7 L601.6 249.7 L601.9 249.8 L602.2 249.9 L602.5 250.1 L602.8 250.3 L603.1 250.6 L603.4 251.0 L603.7 251.4 L604.0 251.9 L604.3 252.6 L604.6 253.3 L604.9 254.1 L605.2 255.1 L605.5 256.2 L605.8 257.6 L606.1 259.2 L606.4 261.2 L606.7 263.7 L607.0 267.1 L607.3 272.3 L607.8 275.7 L607.8 292.0M607.8 275.7 L608.5 275.3 L608.8 271.3 L609.1 268.2 L609.4 265.8 L609.7 263.8 L610.0 262.1 L610.3 260.6 L610.6 259.3 L610.9 258.1 L611.2 257.1 L611.5 256.1 L611.8 255.2 L612.1 254.3 L612.4 253.5 L612.7 252.8 L613.0 252.1 L613.3 251.5 L613.6 250.9 L613.9 250.4 L614.2 249.8 L614.5 249.4 L614.8 248.9 L615.1 248.5 L615.4 248.1 L615.7 247.7 L616.0 247.4 L616.3 247.0 L616.6 246.7 L616.9 246.5 L617.2 246.2 L617.5 246.0 L617.8 245.8 L618.1 245.6 L618.4 245.4 L618.7 245.3 L619.0 245.2 L619.3 245.1 L619.6 245.0 L619.9 244.9 L620.2 244.9 L620.5 244.8 L620.8 244.8 L621.1 244.8 L621.4 244.7 L621.7 244.7 L622.0 244.7 L622.3 244.6 L622.6 244.6 L622.9 244.6 L623.2 244.5 L623.5 244.5 L623.8 244.5 L624.1 244.4 L624.4 244.4 L624.7 244.4 L625.0 244.3 L625.3 244.3 L625.6 244.3 L625.9 244.3 L626.2 244.3 L626.5 244.3 L626.8 244.3 L627.1 244.3 L627.4 244.4 L627.7 244.4 L628.0 244.5 L628.3 244.6 L628.6 244.7 L628.9 244.8 L629.2 245.0 L629.5 245.1 L629.8 245.3 L630.1 245.5 L630.4 245.7 L630.7 245.9 L631.0 246.1 L631.3 246.4 L631.6 246.6 L631.9 246.9 L632.2 247.2 L632.5 247.6 L632.8 247.9 L633.1 248.3 L633.4 248.8 L633.7 249.2 L634.0 249.7 L634.3 250.2 L634.6 250.8 L634.9 251.4 L635.2 252.1 L635.5 252.8 L635.8 253.5 L636.1 254.4 L636.4 255.3 L636.7 256.4 L637.0 257.6 L637.3 258.9 L637.6 260.4 L637.9 262.2 L638.2 264.3 L638.5 267.0 L638.8 270.5 L639.1 275.8 L639.6 275.7 L639.6 321.0M639.6 275.7 L640.3 271.9 L640.6 267.9 L640.9 265.0 L641.2 262.7 L641.5 260.8 L641.8 259.1 L642.1 257.7 L642.4 256.5 L642.7 255.3 L643.0 254.3 L643.3 253.4 L643.6 252.6 L643.9 251.8 L644.2 251.1 L644.5 250.4 L644.8 249.8 L645.1 249.2 L645.4 248.7 L645.7 248.2 L646.0 247.7 L646.3 247.3 L646.6 246.9 L646.9 246.5 L647.2 246.1 L647.5 245.8 L647.8 245.5 L648.1 245.1 L648.4 244.9 L648.7 244.6 L649.0 244.3 L649.3 244.1 L649.6 243.9 L649.9 243.7 L650.2 243.5 L650.5 243.3 L650.8 243.1 L651.1 243.0 L651.4 242.9 L651.7 242.7 L652.0 242.6 L652.3 242.5 L652.6 242.4 L652.9 242.3 L653.2 242.3 L653.5 242.2 L653.8 242.2 L654.1 242.1 L654.4 242.1 L654.7 242.0 L655.0 242.0 L655.3 242.0 L655.6 241.9 L655.9 241.8 L656.2 241.7 L656.5 241.6 L656.8 241.5 L657.1 241.4 L657.4 241.3 L657.7 241.1" fill="none" stroke="#ff0000" stroke-width="2.5" stroke-linejoin="round" stroke-dasharray="1.45 1.4" clip-path="url(#c1)"/>
<path d="M127.0 308.2 L127.0 315.0M127.0 308.2 L127.6 298.7 L127.9 294.3 L128.2 291.3 L128.5 289.3 L128.8 288.0 L129.1 287.3 L129.4 287.0 L129.7 287.3 L130.0 288.2 L130.3 289.9 L130.6 292.6 L130.9 297.2 L131.4 299.5 L131.4 324.5M131.4 299.5 L132.1 297.9 L132.4 293.9 L132.7 291.0 L133.0 288.8 L133.3 287.1 L133.6 285.8 L133.9 284.7 L134.2 284.0 L134.5 283.4 L134.8 283.1 L135.1 283.0 L135.4 283.3 L135.7 284.1 L136.0 285.4 L136.3 287.4 L136.6 290.4 L136.9 295.3 L137.4 296.5 L137.4 312.5M137.4 296.5 L138.1 294.1 L138.4 290.3 L138.7 287.6 L139.0 285.7 L139.3 284.3 L139.6 283.3 L139.9 282.6 L140.2 282.2 L140.5 282.0 L140.8 282.2 L141.1 282.6 L141.4 283.3 L141.7 284.4 L142.0 285.9 L142.3 288.0 L142.6 290.8 L142.9 295.1 L143.5 297.4 L143.5 305.0M143.5 297.4 L144.1 295.7 L144.4 291.3 L144.7 288.3 L145.0 286.2 L145.3 284.6 L145.6 283.3 L145.9 282.5 L146.2 281.9 L146.5 281.5 L146.8 281.4 L147.1 281.5 L147.4 281.9 L147.7 282.5 L148.0 283.4 L148.3 284.7 L148.6 286.4 L148.9 288.8 L149.2 292.0 L149.5 297.1 L150.0 296.5 L150.0 309.0M150.0 296.5 L150.7 292.2 L151.0 288.5 L151.3 285.8 L151.6 284.0 L151.9 282.6 L152.2 281.6 L152.5 281.0 L152.8 280.6 L153.1 280.6 L153.4 280.8 L153.7 281.4 L154.0 282.3 L154.3 283.6 L154.6 285.4 L154.9 287.9 L155.2 291.6 L155.9 297.3 L155.9 334.8M155.9 297.3 L156.7 294.1 L157.0 290.6 L157.3 288.1 L157.6 286.1 L157.9 284.5 L158.2 283.2 L158.5 282.1 L158.8 281.3 L159.1 280.6 L159.4 280.1 L159.7 279.7 L160.0 279.5 L160.3 279.4 L160.6 279.9 L160.9 281.1 L161.2 283.4 L161.5 287.2 L162.1 292.5 L162.1 326.3M162.1 292.5 L162.7 294.0 L163.0 289.5 L163.3 286.4 L163.6 284.1 L163.9 282.3 L164.2 280.9 L164.5 279.8 L164.8 278.9 L165.1 278.3 L165.4 277.9 L165.7 277.7 L166.0 277.6 L166.3 277.8 L166.6 278.1 L166.9 278.7 L167.2 279.5 L167.5 280.6 L167.8 282.2 L168.1 284.2 L168.4 287.0 L168.7 291.2 L169.3 290.7 L169.3 312.5M169.3 290.7 L169.9 286.2 L170.2 281.8 L170.5 278.9 L170.8 276.9 L171.1 275.6 L171.4 274.7 L171.7 274.3 L172.0 274.2 L172.3 274.1 L172.6 274.2 L172.9 274.3 L173.2 274.6 L173.5 275.0 L173.8 275.6 L174.1 276.3 L174.4 277.2 L174.7 278.4 L175.0 279.8 L175.3 281.7 L175.6 284.3 L175.9 287.9 L176.6 289.3 L176.6 310.0M176.6 289.3 L177.4 281.7 L177.7 278.1 L178.0 275.4 L178.3 273.3 L178.6 271.6 L178.9 270.2 L179.2 269.1 L179.5 268.3 L179.8 267.6 L180.1 267.2 L180.4 266.9 L180.7 266.8 L181.0 266.7 L181.3 266.8 L181.6 267.0 L181.9 267.3 L182.2 267.7 L182.5 268.3 L182.8 269.1 L183.1 270.2 L183.4 271.6 L183.7 273.4 L184.0 275.9 L184.3 279.5 L185.0 278.7 L185.0 301.7M185.0 278.7 L185.8 269.1 L186.1 265.7 L186.4 263.4 L186.7 261.7 L187.0 260.6 L187.3 260.0 L187.6 259.8 L187.9 259.6 L188.2 259.6 L188.5 259.6 L188.8 259.7 L189.1 260.0 L189.4 260.3 L189.7 260.8 L190.0 261.4 L190.3 262.2 L190.6 263.2 L190.9 264.4 L191.2 266.0 L191.5 267.9 L191.8 270.5 L192.1 274.2 L192.8 277.5 L192.8 338.4M192.8 277.5 L193.6 271.8 L193.9 268.1 L194.2 265.3 L194.5 263.1 L194.8 261.3 L195.1 259.7 L195.4 258.4 L195.7 257.3 L196.0 256.3 L196.3 255.5 L196.6 254.8 L196.9 254.2 L197.2 253.7 L197.5 253.3 L197.8 253.0 L198.1 252.8 L198.4 252.6 L198.7 252.7 L199.0 252.8 L199.3 253.2 L199.6 253.7 L199.9 254.4 L200.2 255.3 L200.5 256.4 L200.8 258.0 L201.1 259.9 L201.4 262.6 L201.7 266.3 L202.4 268.9 L202.4 326.3M202.4 268.9 L203.2 262.6 L203.5 259.1 L203.8 256.6 L204.1 254.7 L204.4 253.2 L204.7 252.0 L205.0 251.1 L205.3 250.4 L205.6 250.0 L205.9 249.7 L206.2 249.7 L206.5 249.6 L206.8 249.7 L207.1 249.7 L207.4 249.9 L207.7 250.1 L208.0 250.3 L208.3 250.6 L208.6 251.0 L208.9 251.4 L209.2 252.0 L209.5 252.6 L209.8 253.3 L210.1 254.1 L210.4 255.1 L210.7 256.3 L211.0 257.6 L211.3 259.3 L211.6 261.3 L211.9 263.8 L212.2 267.3 L212.5 272.4 L213.0 272.7 L213.0 340.0M213.0 272.7 L213.7 269.1 L214.0 265.1 L214.3 262.2 L214.6 259.9 L214.9 258.0 L215.2 256.3 L215.5 255.0 L215.8 253.8 L216.1 252.7 L216.4 251.8 L216.7 251.0 L217.0 250.3 L217.3 249.7 L217.6 249.1 L217.9 248.6 L218.2 248.2 L218.5 247.8 L218.8 247.5 L219.1 247.2 L219.4 247.0 L219.7 246.9 L220.0 246.8 L220.3 246.7 L220.6 246.7 L220.9 246.9 L221.2 247.2 L221.5 247.8 L221.8 248.6 L222.1 249.7 L222.4 251.1 L222.7 253.0 L223.0 255.4 L223.3 258.8 L223.6 263.9 L224.1 266.2 L224.1 324.0M224.1 266.2 L224.8 264.7 L225.1 260.8 L225.4 258.0 L225.7 255.9 L226.0 254.1 L226.3 252.7 L226.6 251.5 L226.9 250.5 L227.2 249.7 L227.5 249.0 L227.8 248.4 L228.1 247.9 L228.4 247.6 L228.7 247.3 L229.0 247.1 L229.3 247.0 L229.6 247.0 L229.9 247.0 L230.2 247.1 L230.5 247.3 L230.8 247.5 L231.1 247.8 L231.4 248.1 L231.7 248.5 L232.0 249.0 L232.3 249.6 L232.6 250.4 L232.9 251.2 L233.2 252.2 L233.5 253.5 L233.8 255.0 L234.1 256.8 L234.4 259.2 L234.7 262.5 L235.0 267.6 L235.5 268.7 L235.5 291.0M235.5 268.7 L236.2 265.9 L236.5 261.7 L236.8 258.6 L237.1 256.1 L237.4 254.1 L237.7 252.3 L238.0 250.8 L238.3 249.4 L238.6 248.2 L238.9 247.1 L239.2 246.1 L239.5 245.2 L239.8 244.5 L240.1 243.7 L240.4 243.1 L240.7 242.5 L241.0 242.0 L241.3 241.5 L241.6 241.1 L241.9 240.8 L242.2 240.5 L242.5 240.3 L242.8 240.2 L243.1 240.0 L243.4 240.0 L243.7 240.0 L244.0 240.0 L244.3 240.1 L244.6 240.3 L244.9 240.5 L245.2 240.7 L245.5 241.0 L245.8 241.4 L246.1 241.9 L246.4 242.4 L246.7 243.0 L247.0 243.6 L247.3 244.4 L247.6 245.3 L247.9 246.4 L248.2 247.6 L248.5 249.0 L248.8 250.7 L249.1 252.7 L249.4 255.3 L249.7 258.8 L250.0 264.0 L250.5 264.1 L250.5 283.0M250.5 264.1 L251.2 260.3 L251.5 256.4 L251.8 253.5 L252.1 251.2 L252.4 249.3 L252.7 247.8 L253.0 246.4 L253.3 245.3 L253.6 244.3 L253.9 243.4 L254.2 242.7 L254.5 242.0 L254.8 241.4 L255.1 240.9 L255.4 240.4 L255.7 240.0 L256.0 239.7 L256.3 239.4 L256.6 239.2 L256.9 239.0 L257.2 238.9 L257.5 238.8 L257.8 238.8 L258.1 238.8 L258.4 238.9 L258.7 239.0 L259.0 239.2 L259.3 239.4 L259.6 239.7 L259.9 240.0 L260.2 240.4 L260.5 240.9 L260.8 241.4 L261.1 242.0 L261.4 242.6 L261.7 243.4 L262.0 244.2 L262.3 245.1 L262.6 246.1 L262.9 247.3 L263.2 248.6 L263.5 250.1 L263.8 251.9 L264.1 254.0 L264.4 256.5 L264.7 259.8 L265.0 264.5 L265.6 263.4 L265.6 306.0M265.6 263.4 L266.2 258.2 L266.5 253.9 L266.8 251.0 L267.1 248.8 L267.4 247.2 L267.7 245.9 L268.0 244.9 L268.3 244.2 L268.6 243.6 L268.9 243.2 L269.2 243.0 L269.5 242.9 L269.8 243.0 L270.1 243.1 L270.4 243.3 L270.7 243.6 L271.0 243.8 L271.3 244.1 L271.6 244.5 L271.9 244.8 L272.2 245.2 L272.5 245.7 L272.8 246.2 L273.1 246.7 L273.4 247.3 L273.7 247.9 L274.0 248.5 L274.3 249.2 L274.6 250.0 L274.9 250.8 L275.2 251.7 L275.5 252.6 L275.8 253.6 L276.1 254.7 L276.4 255.9 L276.7 257.2 L277.0 258.6 L277.3 260.2 L277.6 262.1 L277.9 264.3 L278.2 266.9 L278.5 270.2 L278.8 274.9 L279.4 274.0 L279.4 285.0M279.4 274.0 L280.0 269.0 L280.3 264.6 L280.6 261.6 L280.9 259.3 L281.2 257.4 L281.5 255.9 L281.8 254.7 L282.1 253.4 L282.4 252.1 L282.7 250.6 L283.0 249.2 L283.3 247.8 L283.6 246.5 L283.9 245.4 L284.2 244.5 L284.5 243.9 L284.8 243.7 L285.1 243.7 L285.4 243.8 L285.7 243.9 L286.0 244.1 L286.3 244.4 L286.6 244.6 L286.9 245.0 L287.2 245.4 L287.5 245.9 L287.8 246.5 L288.1 247.1 L288.4 247.8 L288.7 248.6 L289.0 249.6 L289.3 250.6 L289.6 251.9 L289.9 253.3 L290.2 254.9 L290.5 256.9 L290.8 259.4 L291.1 262.6 L291.4 267.2 L292.0 268.3 L292.0 297.0M292.0 268.3 L292.6 265.4 L292.9 260.9 L293.2 257.9 L293.5 255.5 L293.8 253.7 L294.1 252.1 L294.4 250.9 L294.7 249.8 L295.0 248.9 L295.3 248.1 L295.6 247.5 L295.9 247.0 L296.2 246.5 L296.5 246.2 L296.8 245.9 L297.1 245.7 L297.4 245.6 L297.7 245.5 L298.0 245.5 L298.3 245.6 L298.6 245.7 L298.9 245.8 L299.2 246.0 L299.5 246.3 L299.8 246.6 L300.1 246.9 L300.4 247.3 L300.7 247.8 L301.0 248.3 L301.3 248.9 L301.6 249.6 L301.9 250.3 L302.2 251.2 L302.5 252.1 L302.8 253.2 L303.1 254.5 L303.4 255.9 L303.7 257.6 L304.0 259.6 L304.3 262.1 L304.6 265.3 L304.9 269.8 L305.5 270.5 L305.5 303.5M305.5 270.5 L306.1 267.2 L306.4 262.7 L306.7 259.6 L307.0 257.3 L307.3 255.4 L307.6 253.9 L307.9 252.6 L308.2 251.5 L308.5 250.6 L308.8 249.9 L309.1 249.2 L309.4 248.7 L309.7 248.3 L310.0 247.9 L310.3 247.6 L310.6 247.5 L310.9 247.3 L311.2 247.3 L311.5 247.3 L311.8 247.4 L312.1 247.5 L312.4 247.7 L312.7 247.9 L313.0 248.1 L313.3 248.5 L313.6 248.8 L313.9 249.3 L314.2 249.7 L314.5 250.3 L314.8 250.9 L315.1 251.6 L315.4 252.5 L315.7 253.4 L316.0 254.4 L316.3 255.6 L316.6 257.0 L316.9 258.7 L317.2 260.6 L317.5 263.1 L317.8 266.3 L318.1 270.8 L318.7 273.5 L318.7 314.3M318.7 273.5 L319.3 272.1 L319.6 267.6 L319.9 264.5 L320.2 262.0 L320.5 260.1 L320.8 258.4 L321.1 257.0 L321.4 255.8 L321.7 254.8 L322.0 253.8 L322.3 253.0 L322.6 252.3 L322.9 251.6 L323.2 251.0 L323.5 250.5 L323.8 250.1 L324.1 249.7 L324.4 249.3 L324.7 249.0 L325.0 248.7 L325.3 248.5 L325.6 248.3 L325.9 248.1 L326.2 248.0 L326.5 247.9 L326.8 247.9 L327.1 247.9 L327.4 248.0 L327.7 248.1 L328.0 248.4 L328.3 248.7 L328.6 249.2 L328.9 249.7 L329.2 250.4 L329.5 251.2 L329.8 252.1 L330.1 253.3 L330.4 254.7 L330.7 256.4 L331.0 258.6 L331.3 261.3 L331.6 265.2 L332.3 269.0 L332.3 321.0M332.3 269.0 L333.1 263.9 L333.4 260.4 L333.7 257.8 L334.0 255.7 L334.3 254.0 L334.6 252.6 L334.9 251.4 L335.2 250.4 L335.5 249.5 L335.8 248.8 L336.1 248.2 L336.4 247.7 L336.7 247.4 L337.0 247.1 L337.3 246.9 L337.6 246.7 L337.9 246.7 L338.2 246.7 L338.5 246.7 L338.8 246.8 L339.1 246.9 L339.4 247.1 L339.7 247.2 L340.0 247.5 L340.3 247.7 L340.6 248.0 L340.9 248.4 L341.2 248.7 L341.5 249.2 L341.8 249.7 L342.1 250.2 L342.4 250.8 L342.7 251.5 L343.0 252.3 L343.3 253.1 L343.6 254.1 L343.9 255.2 L344.2 256.5 L344.5 257.9 L344.8 259.7 L345.1 261.8 L345.4 264.4 L345.7 267.9 L346.0 273.2 L346.5 271.8 L346.5 309.5M346.5 271.8 L347.2 266.8 L347.5 262.8 L347.8 259.9 L348.1 257.7 L348.4 255.8 L348.7 254.3 L349.0 253.0 L349.3 251.9 L349.6 250.9 L349.9 250.1 L350.2 249.3 L350.5 248.7 L350.8 248.1 L351.1 247.6 L351.4 247.2 L351.7 246.9 L352.0 246.6 L352.3 246.4 L352.6 246.2 L352.9 246.1 L353.2 246.0 L353.5 246.0 L353.8 246.0 L354.1 246.1 L354.4 246.3 L354.7 246.5 L355.0 246.7 L355.3 247.0 L355.6 247.3 L355.9 247.7 L356.2 248.2 L356.5 248.7 L356.8 249.2 L357.1 249.8 L357.4 250.5 L357.7 251.3 L358.0 252.1 L358.3 253.0 L358.6 254.1 L358.9 255.2 L359.2 256.5 L359.5 257.9 L359.8 259.6 L360.1 261.5 L360.4 263.8 L360.7 266.6 L361.0 270.3 L361.3 275.7 L361.8 272.1 L361.8 292.0M361.8 272.1 L362.5 264.9 L362.8 261.2 L363.1 258.5 L363.4 256.6 L363.7 255.0 L364.0 253.9 L364.3 252.9 L364.6 252.2 L364.9 251.6 L365.2 251.3 L365.5 251.0 L365.8 250.9 L366.1 250.9 L366.4 251.0 L366.7 251.1 L367.0 251.3 L367.3 251.5 L367.6 251.7 L367.9 252.0 L368.2 252.3 L368.5 252.7 L368.8 253.1 L369.1 253.6 L369.4 254.2 L369.7 254.8 L370.0 255.5 L370.3 256.3 L370.6 257.2 L370.9 258.2 L371.2 259.3 L371.5 260.6 L371.8 262.1 L372.1 263.9 L372.4 266.0 L372.7 268.7 L373.0 272.2 L373.3 277.5 L373.8 275.6 L373.8 304.0M373.8 275.6 L374.5 269.9 L374.8 266.0 L375.1 263.2 L375.4 261.1 L375.7 259.3 L376.0 257.9 L376.3 256.7 L376.6 255.7 L376.9 254.8 L377.2 254.1 L377.5 253.5 L377.8 253.0 L378.1 252.7 L378.4 252.4 L378.7 252.2 L379.0 252.0 L379.3 252.0 L379.6 252.0 L379.9 252.1 L380.2 252.2 L380.5 252.4 L380.8 252.6 L381.1 252.8 L381.4 253.2 L381.7 253.5 L382.0 254.0 L382.3 254.5 L382.6 255.0 L382.9 255.7 L383.2 256.5 L383.5 257.3 L383.8 258.3 L384.1 259.5 L384.4 260.8 L384.7 262.4 L385.0 264.3 L385.3 266.7 L385.6 269.8 L385.9 274.3 L386.5 275.2 L386.5 306.0M386.5 275.2 L387.1 272.1 L387.4 267.5 L387.7 264.3 L388.0 261.9 L388.3 259.9 L388.6 258.3 L388.9 256.9 L389.2 255.8 L389.5 254.8 L389.8 253.9 L390.1 253.1 L390.4 252.5 L390.7 251.9 L391.0 251.5 L391.3 251.1 L391.6 250.8 L391.9 250.6 L392.2 250.4 L392.5 250.3 L392.8 250.3 L393.1 250.3 L393.4 250.3 L393.7 250.4 L394.0 250.5 L394.3 250.7 L394.6 251.0 L394.9 251.3 L395.2 251.6 L395.5 252.0 L395.8 252.6 L396.1 253.2 L396.4 253.8 L396.7 254.7 L397.0 255.6 L397.3 256.8 L397.6 258.1 L397.9 259.8 L398.2 261.9 L398.5 264.6 L398.8 268.4 L399.5 271.6 L399.5 290.0M399.5 271.6 L400.3 265.8 L400.6 262.1 L400.9 259.3 L401.2 257.1 L401.5 255.2 L401.8 253.7 L402.1 252.3 L402.4 251.1 L402.7 250.1 L403.0 249.2 L403.3 248.4 L403.6 247.7 L403.9 247.1 L404.2 246.6 L404.5 246.1 L404.8 245.7 L405.1 245.4 L405.4 245.2 L405.7 245.0 L406.0 244.9 L406.3 244.9 L406.6 244.9 L406.9 245.0 L407.2 245.0 L407.5 245.2 L407.8 245.3 L408.1 245.5 L408.4 245.7 L408.7 246.0 L409.0 246.3 L409.3 246.6 L409.6 247.0 L409.9 247.4 L410.2 247.9 L410.5 248.4 L410.8 249.0 L411.1 249.6 L411.4 250.3 L411.7 251.1 L412.0 252.0 L412.3 253.0 L412.6 254.1 L412.9 255.3 L413.2 256.7 L413.5 258.3 L413.8 260.2 L414.1 262.6 L414.4 265.5 L414.7 269.6 L415.4 271.1 L415.4 310.0M415.4 271.1 L416.2 263.8 L416.5 260.3 L416.8 257.8 L417.1 255.8 L417.4 254.2 L417.7 252.8 L418.0 251.7 L418.3 250.8 L418.6 250.0 L418.9 249.3 L419.2 248.8 L419.5 248.3 L419.8 248.0 L420.1 247.7 L420.4 247.5 L420.7 247.3 L421.0 247.3 L421.3 247.3 L421.6 247.4 L421.9 247.5 L422.2 247.6 L422.5 247.7 L422.8 247.9 L423.1 248.2 L423.4 248.4 L423.7 248.7 L424.0 249.0 L424.3 249.4 L424.6 249.7 L424.9 250.2 L425.2 250.6 L425.5 251.1 L425.8 251.7 L426.1 252.3 L426.4 253.0 L426.7 253.7 L427.0 254.5 L427.3 255.3 L427.6 256.3 L427.9 257.3 L428.2 258.5 L428.5 259.8 L428.8 261.2 L429.1 262.9 L429.4 264.9 L429.7 267.3 L430.0 270.3 L430.3 274.4 L431.0 276.9 L431.0 285.0M431.0 276.9 L431.8 270.3 L432.1 266.9 L432.4 264.4 L432.7 262.4 L433.0 260.8 L433.3 259.5 L433.6 258.4 L433.9 257.4 L434.2 256.6 L434.5 255.9 L434.8 255.3 L435.1 254.8 L435.4 254.4 L435.7 254.1 L436.0 253.8 L436.3 253.5 L436.6 253.4 L436.9 253.2 L437.2 253.2 L437.5 253.2 L437.8 253.2 L438.1 253.3 L438.4 253.4 L438.7 253.6 L439.0 253.8 L439.3 254.2 L439.6 254.6 L439.9 255.0 L440.2 255.6 L440.5 256.2 L440.8 256.9 L441.1 257.7 L441.4 258.5 L441.7 259.5 L442.0 260.7 L442.3 261.9 L442.6 263.4 L442.9 265.1 L443.2 267.0 L443.5 269.5 L443.8 272.5 L444.1 276.6 L444.8 278.2 L444.8 285.0M444.8 278.2 L445.6 270.9 L445.9 267.6 L446.2 265.2 L446.5 263.4 L446.8 262.0 L447.1 260.8 L447.4 259.9 L447.7 259.2 L448.0 258.7 L448.3 258.3 L448.6 258.1 L448.9 258.0 L449.2 258.0 L449.5 258.2 L449.8 258.5 L450.1 258.9 L450.4 259.5 L450.7 260.2 L451.0 261.2 L451.3 262.4 L451.6 263.9 L451.9 265.9 L452.2 268.6 L452.5 272.3 L453.2 277.5 L453.2 300.0M453.2 277.5 L454.0 273.7 L454.3 270.0 L454.6 267.3 L454.9 265.1 L455.2 263.3 L455.5 261.7 L455.8 260.4 L456.1 259.2 L456.4 258.2 L456.7 257.4 L457.0 256.6 L457.3 256.0 L457.6 255.4 L457.9 255.0 L458.2 254.6 L458.5 254.3 L458.8 254.1 L459.1 254.0 L459.4 253.9 L459.7 253.8 L460.0 253.8 L460.3 253.8 L460.6 253.9 L460.9 254.0 L461.2 254.1 L461.5 254.3 L461.8 254.5 L462.1 254.7 L462.4 255.1 L462.7 255.4 L463.0 255.8 L463.3 256.3 L463.6 256.9 L463.9 257.5 L464.2 258.3 L464.5 259.1 L464.8 260.1 L465.1 261.3 L465.4 262.6 L465.7 264.2 L466.0 266.2 L466.3 268.7 L466.6 272.1 L466.9 277.3 L467.4 276.5 L467.4 309.0M467.4 276.5 L468.1 271.9 L468.4 267.9 L468.7 264.9 L469.0 262.5 L469.3 260.5 L469.6 258.9 L469.9 257.5 L470.2 256.2 L470.5 255.2 L470.8 254.2 L471.1 253.3 L471.4 252.6 L471.7 251.9 L472.0 251.3 L472.3 250.8 L472.6 250.3 L472.9 249.9 L473.2 249.5 L473.5 249.2 L473.8 249.0 L474.1 248.8 L474.4 248.6 L474.7 248.5 L475.0 248.5 L475.3 248.5 L475.6 248.6 L475.9 248.7 L476.2 248.8 L476.5 249.0 L476.8 249.3 L477.1 249.6 L477.4 250.0 L477.7 250.4 L478.0 251.0 L478.3 251.6 L478.6 252.3 L478.9 253.1 L479.2 254.0 L479.5 255.0 L479.8 256.2 L480.1 257.7 L480.4 259.4 L480.7 261.5 L481.0 264.1 L481.3 267.6 L481.6 272.8 L482.1 272.8 L482.1 313.0M482.1 272.8 L482.8 269.1 L483.1 265.2 L483.4 262.3 L483.7 260.0 L484.0 258.2 L484.3 256.6 L484.6 255.3 L484.9 254.2 L485.2 253.2 L485.5 252.3 L485.8 251.6 L486.1 250.9 L486.4 250.3 L486.7 249.8 L487.0 249.4 L487.3 249.0 L487.6 248.7 L487.9 248.4 L488.2 248.2 L488.5 248.1 L488.8 248.0 L489.1 247.9 L489.4 247.9 L489.7 247.9 L490.0 248.0 L490.3 248.1 L490.6 248.2 L490.9 248.4 L491.2 248.6 L491.5 248.9 L491.8 249.2 L492.1 249.5 L492.4 249.9 L492.7 250.4 L493.0 250.9 L493.3 251.4 L493.6 252.0 L493.9 252.7 L494.2 253.5 L494.5 254.4 L494.8 255.3 L495.1 256.4 L495.4 257.7 L495.7 259.1 L496.0 260.8 L496.3 262.8 L496.6 265.3 L496.9 268.5 L497.2 273.1 L497.8 275.9 L497.8 292.0M497.8 275.9 L498.4 274.6 L498.7 270.1 L499.0 267.0 L499.3 264.6 L499.6 262.6 L499.9 261.0 L500.2 259.6 L500.5 258.4 L500.8 257.4 L501.1 256.5 L501.4 255.6 L501.7 254.9 L502.0 254.3 L502.3 253.7 L502.6 253.2 L502.9 252.7 L503.2 252.3 L503.5 251.9 L503.8 251.6 L504.1 251.3 L504.4 251.0 L504.7 250.8 L505.0 250.6 L505.3 250.5 L505.6 250.4 L505.9 250.3 L506.2 250.2 L506.5 250.2 L506.8 250.2 L507.1 250.2 L507.4 250.3 L507.7 250.4 L508.0 250.6 L508.3 250.8 L508.6 251.2 L508.9 251.6 L509.2 252.0 L509.5 252.6 L509.8 253.2 L510.1 253.9 L510.4 254.7 L510.7 255.6 L511.0 256.5 L511.3 257.6 L511.6 258.8 L511.9 260.1 L512.2 261.6 L512.5 263.3 L512.8 265.3 L513.1 267.6 L513.4 270.3 L513.7 273.8 L514.0 278.6 L514.6 279.0 L514.6 301.0M514.6 279.0 L515.2 275.3 L515.5 271.1 L515.8 268.3 L516.1 266.2 L516.4 264.6 L516.7 263.3 L517.0 262.3 L517.3 261.5 L517.6 260.9 L517.9 260.4 L518.2 260.0 L518.5 259.7 L518.8 259.5 L519.1 259.3 L519.4 259.3 L519.7 259.3 L520.0 259.4 L520.3 259.6 L520.6 259.9 L520.9 260.2 L521.2 260.6 L521.5 261.1 L521.8 261.7 L522.1 262.5 L522.4 263.4 L522.7 264.5 L523.0 265.7 L523.3 267.3 L523.6 269.3 L523.9 271.8 L524.2 275.1 L524.5 280.3 L525.0 279.7 L525.0 301.0M525.0 279.7 L525.7 275.4 L526.0 271.4 L526.3 268.5 L526.6 266.3 L526.9 264.5 L527.2 263.0 L527.5 261.8 L527.8 260.8 L528.1 259.9 L528.4 259.2 L528.7 258.7 L529.0 258.3 L529.3 258.0 L529.6 257.8 L529.9 257.7 L530.2 257.8 L530.5 257.9 L530.8 258.0 L531.1 258.2 L531.4 258.3 L531.7 258.5 L532.0 258.8 L532.3 259.0 L532.6 259.3 L532.9 259.6 L533.2 259.9 L533.5 260.2 L533.8 260.6 L534.1 260.9 L534.4 261.3 L534.7 261.7 L535.0 262.1 L535.3 262.6 L535.6 263.1 L535.9 263.5 L536.2 264.0 L536.5 264.6 L536.8 265.1 L537.1 265.7 L537.4 266.3 L537.7 267.0 L538.0 267.6 L538.3 268.4 L538.6 269.1 L538.9 270.0 L539.2 271.0 L539.5 272.0 L539.8 273.2 L540.1 274.6 L540.4 276.1 L540.7 278.0 L541.0 280.2 L541.3 283.1 L541.6 287.0 L542.3 283.5 L542.3 305.3M542.3 283.5 L543.1 271.2 L543.4 267.8 L543.7 265.3 L544.0 263.4 L544.3 262.0 L544.6 260.9 L544.9 260.0 L545.2 259.5 L545.5 259.1 L545.8 259.0 L546.1 259.1 L546.4 259.4 L546.7 259.9 L547.0 260.7 L547.3 261.9 L547.6 263.4 L547.9 265.5 L548.2 268.3 L548.5 272.6 L549.1 277.4 L549.1 313.0M549.1 277.4 L549.7 278.1 L550.0 273.5 L550.3 270.3 L550.6 267.8 L550.9 265.8 L551.2 264.1 L551.5 262.7 L551.8 261.6 L552.1 260.5 L552.4 259.7 L552.7 258.9 L553.0 258.3 L553.3 257.7 L553.6 257.3 L553.9 256.9 L554.2 256.6 L554.5 256.4 L554.8 256.3 L555.1 256.3 L555.4 256.3 L555.7 256.3 L556.0 256.3 L556.3 256.4 L556.6 256.5 L556.9 256.6 L557.2 256.8 L557.5 257.0 L557.8 257.2 L558.1 257.5 L558.4 257.8 L558.7 258.1 L559.0 258.5 L559.3 258.9 L559.6 259.4 L559.9 260.0 L560.2 260.6 L560.5 261.3 L560.8 262.0 L561.1 262.9 L561.4 263.8 L561.7 264.9 L562.0 266.2 L562.3 267.7 L562.6 269.4 L562.9 271.5 L563.2 274.1 L563.5 277.6 L563.8 282.8 L564.3 282.9 L564.3 299.0M564.3 282.9 L565.0 279.2 L565.3 275.2 L565.6 272.3 L565.9 270.0 L566.2 268.1 L566.5 266.5 L566.8 265.1 L567.1 263.8 L567.4 262.8 L567.7 261.8 L568.0 260.9 L568.3 260.1 L568.6 259.4 L568.9 258.8 L569.2 258.2 L569.5 257.6 L569.8 257.2 L570.1 256.7 L570.4 256.3 L570.7 255.9 L571.0 255.6 L571.3 255.3 L571.6 255.1 L571.9 254.8 L572.2 254.6 L572.5 254.5 L572.8 254.3 L573.1 254.2 L573.4 254.1 L573.7 254.0 L574.0 254.0 L574.3 254.0 L574.6 254.1 L574.9 254.3 L575.2 254.5 L575.5 254.9 L575.8 255.3 L576.1 255.8 L576.4 256.5 L576.7 257.3 L577.0 258.2 L577.3 259.3 L577.6 260.7 L577.9 262.3 L578.2 264.3 L578.5 266.8 L578.8 270.3 L579.1 275.5 L579.6 277.2 L579.6 297.0M579.6 277.2 L580.3 275.2 L580.6 271.2 L580.9 268.3 L581.2 266.0 L581.5 264.1 L581.8 262.6 L582.1 261.2 L582.4 260.0 L582.7 259.0 L583.0 258.1 L583.3 257.3 L583.6 256.5 L583.9 255.9 L584.2 255.3 L584.5 254.8 L584.8 254.4 L585.1 254.0 L585.4 253.7 L585.7 253.4 L586.0 253.2 L586.3 253.0 L586.6 252.9 L586.9 252.8 L587.2 252.7 L587.5 252.7 L587.8 252.8 L588.1 252.9 L588.4 253.2 L588.7 253.5 L589.0 254.0 L589.3 254.5 L589.6 255.0 L589.9 255.7 L590.2 256.5 L590.5 257.3 L590.8 258.3 L591.1 259.3 L591.4 260.4 L591.7 261.7 L592.0 263.1 L592.3 264.6 L592.6 266.4 L592.9 268.4 L593.2 270.7 L593.5 273.4 L593.8 276.9 L594.1 281.8 L594.7 284.3 L594.7 300.5M594.7 284.3 L595.3 282.8 L595.6 278.5 L595.9 275.5 L596.2 273.2 L596.5 271.3 L596.8 269.8 L597.1 268.4 L597.4 267.2 L597.7 266.1 L598.0 265.1 L598.3 264.2 L598.6 263.4 L598.9 262.6 L599.2 261.9 L599.5 261.3 L599.8 260.7 L600.1 260.2 L600.4 259.7 L600.7 259.3 L601.0 258.9 L601.3 258.5 L601.6 258.3 L601.9 258.1 L602.2 257.9 L602.5 257.9 L602.8 258.1 L603.1 258.4 L603.4 258.9 L603.7 259.6 L604.0 260.5 L604.3 261.8 L604.6 263.4 L604.9 265.6 L605.2 268.8 L605.5 273.7 L606.0 276.3 L606.0 325.7M606.0 276.3 L606.7 275.0 L607.0 270.8 L607.3 267.6 L607.6 265.1 L607.9 263.1 L608.2 261.3 L608.5 259.8 L608.8 258.4 L609.1 257.3 L609.4 256.2 L609.7 255.3 L610.0 254.5 L610.3 253.7 L610.6 253.1 L610.9 252.6 L611.2 252.1 L611.5 251.7 L611.8 251.4 L612.1 251.2 L612.4 251.0 L612.7 250.9 L613.0 250.9 L613.3 250.9 L613.6 251.0 L613.9 251.1 L614.2 251.3 L614.5 251.5 L614.8 251.7 L615.1 252.0 L615.4 252.3 L615.7 252.7 L616.0 253.0 L616.3 253.5 L616.6 253.9 L616.9 254.5 L617.2 255.0 L617.5 255.6 L617.8 256.2 L618.1 256.9 L618.4 257.7 L618.7 258.4 L619.0 259.3 L619.3 260.2 L619.6 261.1 L619.9 262.2 L620.2 263.3 L620.5 264.5 L620.8 265.8 L621.1 267.3 L621.4 268.9 L621.7 270.7 L622.0 272.7 L622.3 275.2 L622.6 278.1 L622.9 282.0 L623.2 287.5 L623.7 284.6 L623.7 309.0M623.7 284.6 L624.4 278.2 L624.7 274.5 L625.0 271.9 L625.3 269.9 L625.6 268.4 L625.9 267.1 L626.2 266.1 L626.5 265.2 L626.8 264.4 L627.1 263.8 L627.4 263.3 L627.7 262.9 L628.0 262.5 L628.3 262.3 L628.6 262.0 L628.9 261.9 L629.2 261.8 L629.5 261.7 L629.8 261.7 L630.1 261.8 L630.4 262.0 L630.7 262.3 L631.0 262.6 L631.3 263.2 L631.6 263.8 L631.9 264.7 L632.2 265.7 L632.5 267.0 L632.8 268.7 L633.1 270.8 L633.4 273.7 L633.7 278.0 L634.3 283.1 L634.3 302.0M634.3 283.1 L634.9 284.2 L635.2 279.4 L635.5 276.0 L635.8 273.3 L636.1 271.1 L636.4 269.2 L636.7 267.5 L637.0 266.1 L637.3 264.8 L637.6 263.6 L637.9 262.5 L638.2 261.5 L638.5 260.6 L638.8 259.8 L639.1 259.0 L639.4 258.4 L639.7 257.7 L640.0 257.2 L640.3 256.7 L640.6 256.2 L640.9 255.8 L641.2 255.5 L641.5 255.2 L641.8 254.9 L642.1 254.7 L642.4 254.6 L642.7 254.5 L643.0 254.5 L643.3 254.5 L643.6 254.6 L643.9 254.7 L644.2 254.9 L644.5 255.2 L644.8 255.5 L645.1 255.8 L645.4 256.3 L645.7 256.8 L646.0 257.3 L646.3 258.0 L646.6 258.7 L646.9 259.6 L647.2 260.5 L647.5 261.6 L647.8 262.8 L648.1 264.3 L648.4 266.0 L648.7 268.0 L649.0 270.5 L649.3 273.7 L649.6 278.3 L650.2 284.2 L650.2 316.0M650.2 284.2 L650.8 286.1 L651.1 281.6 L651.4 278.5 L651.7 276.1 L652.0 274.2 L652.3 272.5 L652.6 271.2 L652.9 270.0 L653.2 268.9 L653.5 268.0 L653.8 267.1 L654.1 266.4 L654.4 265.7 L654.7 265.1 L655.0 264.5 L655.3 264.0 L655.6 263.5 L655.9 263.0 L656.2 262.7 L656.5 262.3 L656.8 262.0 L657.1 261.7 L657.4 261.4 L657.7 261.2" fill="none" stroke="#00ff00" stroke-width="2.5" stroke-linejoin="round" stroke-dasharray="2.1 3.0" clip-path="url(#c1)"/>
<path d="M127.1 270.1 L127.1 312.0 L127.1 270.1 L127.8 255.5 L127.8 315.0 L127.8 255.5 L128.5 255.7 L128.5 310.0 L128.5 255.7 L129.2 255.9 L129.2 314.0 L129.2 255.9 L130.0 254.9 L130.0 308.0 L130.0 254.9 L130.8 257.5 L130.8 312.0 L130.8 257.5 L131.8 261.3 L131.8 306.0 L131.8 261.3 L132.4 262.9 L132.7 264.9 L133.2 269.1 L133.2 305.0 L133.2 269.1 L133.9 270.9 L134.2 269.2 L134.5 269.0 L134.8 269.9 L135.1 271.7 L135.4 274.7 L135.7 279.8 L136.2 281.4 L136.2 305.0 L136.2 281.4 L136.9 279.7 L137.2 276.5 L137.5 274.6 L137.8 273.5 L138.1 273.0 L138.4 273.1 L138.7 273.7 L139.0 274.9 L139.3 276.7 L139.6 279.5 L139.9 283.8 L140.5 288.3 L140.5 311.0 L140.5 288.3 L141.1 288.9 L141.4 284.7 L141.7 281.8 L142.0 279.8 L142.3 278.3 L142.6 277.2 L142.9 276.4 L143.2 275.8 L143.5 275.5 L143.8 275.5 L144.1 275.9 L144.4 277.7 L144.7 281.2 L145.3 287.1 L145.3 321.0 L145.3 287.1 L145.9 289.1 L146.2 284.9 L146.5 282.1 L146.8 280.1 L147.1 278.6 L147.4 277.6 L147.7 276.9 L148.0 276.6 L148.3 276.5 L148.6 276.7 L148.9 277.2 L149.2 278.0 L149.5 279.1 L149.8 280.7 L150.1 282.8 L150.4 285.8 L150.7 290.2 L151.3 292.8 L151.3 309.0 L151.3 292.8 L151.9 291.4 L152.2 287.1 L152.5 284.2 L152.8 282.1 L153.1 280.6 L153.4 279.4 L153.7 278.6 L154.0 278.0 L154.3 277.7 L154.6 277.6 L154.9 277.8 L155.2 278.2 L155.5 278.8 L155.8 279.7 L156.1 280.9 L156.4 282.6 L156.7 284.8 L157.0 287.7 L157.3 292.1 L157.9 292.3 L157.9 330.5 L157.9 292.3 L158.5 288.5 L158.8 284.3 L159.1 281.7 L159.4 279.9 L159.7 278.8 L160.0 278.1 L160.3 278.0 L160.6 278.1 L160.9 278.2 L161.2 278.4 L161.5 278.7 L161.8 279.1 L162.1 279.6 L162.4 280.2 L162.7 280.9 L163.0 281.8 L163.3 282.8 L163.6 284.1 L163.9 285.6 L164.2 287.4 L164.5 289.8 L164.8 292.8 L165.1 297.3 L165.7 294.5 L165.7 321.0 L165.7 294.5 L166.3 287.8 L166.6 283.6 L166.9 280.9 L167.2 279.0 L167.5 277.8 L167.8 277.2 L168.1 277.0 L168.4 277.0 L168.7 277.1 L169.0 277.2 L169.3 277.4 L169.6 277.8 L169.9 278.2 L170.2 278.7 L170.5 279.4 L170.8 280.2 L171.1 281.1 L171.4 282.3 L171.7 283.7 L172.0 285.5 L172.3 287.7 L172.6 290.7 L172.9 295.1 L173.5 295.5 L173.5 316.0 L173.5 295.5 L174.1 291.9 L174.4 287.3 L174.7 284.1 L175.0 281.6 L175.3 279.7 L175.6 278.1 L175.9 276.8 L176.2 275.8 L176.5 274.9 L176.8 274.2 L177.1 273.7 L177.4 273.3 L177.7 273.1 L178.0 272.9 L178.3 272.9 L178.6 273.0 L178.9 273.2 L179.2 273.6 L179.5 274.1 L179.8 274.7 L180.1 275.5 L180.4 276.5 L180.7 277.7 L181.0 279.3 L181.3 281.3 L181.6 284.0 L181.9 287.7 L182.6 291.1 L182.6 311.0 L182.6 291.1 L183.4 285.5 L183.7 281.9 L184.0 279.2 L184.3 277.1 L184.6 275.3 L184.9 273.9 L185.2 272.7 L185.5 271.6 L185.8 270.8 L186.1 270.0 L186.4 269.5 L186.7 269.0 L187.0 268.6 L187.3 268.4 L187.6 268.2 L187.9 268.2 L188.2 268.2 L188.5 268.4 L188.8 268.7 L189.1 269.1 L189.4 269.7 L189.7 270.5 L190.0 271.4 L190.3 272.6 L190.6 274.1 L190.9 276.1 L191.2 278.7 L191.5 282.4 L192.2 285.6 L192.2 307.7 L192.2 285.6 L193.0 279.9 L193.3 276.3 L193.6 273.5 L193.9 271.3 L194.2 269.5 L194.5 268.0 L194.8 266.8 L195.1 265.7 L195.4 264.8 L195.7 264.1 L196.0 263.5 L196.3 263.0 L196.6 262.6 L196.9 262.4 L197.2 262.2 L197.5 262.1 L197.8 262.2 L198.1 262.3 L198.4 262.5 L198.7 262.8 L199.0 263.2 L199.3 263.7 L199.6 264.4 L199.9 265.2 L200.2 266.3 L200.5 267.5 L200.8 269.1 L201.1 271.2 L201.4 273.8 L201.7 277.6 L202.4 278.7 L202.4 305.9 L202.4 278.7 L203.2 271.0 L203.5 267.5 L203.8 264.9 L204.1 263.0 L204.4 261.5 L204.7 260.3 L205.0 259.4 L205.3 258.7 L205.6 258.3 L205.9 258.0 L206.2 258.0 L206.5 258.0 L206.8 258.0 L207.1 258.2 L207.4 258.4 L207.7 258.6 L208.0 258.9 L208.3 259.3 L208.6 259.8 L208.9 260.4 L209.2 261.1 L209.5 261.8 L209.8 262.8 L210.1 263.8 L210.4 265.1 L210.7 266.5 L211.0 268.3 L211.3 270.5 L211.6 273.3 L211.9 277.2 L212.6 280.5 L212.6 311.9 L212.6 280.5 L213.4 274.7 L213.7 271.2 L214.0 268.6 L214.3 266.5 L214.6 264.8 L214.9 263.3 L215.2 262.1 L215.5 261.1 L215.8 260.2 L216.1 259.4 L216.4 258.7 L216.7 258.1 L217.0 257.7 L217.3 257.3 L217.6 256.9 L217.9 256.7 L218.2 256.5 L218.5 256.3 L218.8 256.3 L219.1 256.3 L219.4 256.4 L219.7 256.6 L220.0 256.9 L220.3 257.3 L220.6 257.8 L220.9 258.4 L221.2 259.1 L221.5 260.0 L221.8 261.1 L222.1 262.4 L222.4 263.9 L222.7 265.9 L223.0 268.4 L223.3 271.8 L223.6 277.0 L224.1 277.3 L224.1 308.9 L224.1 277.3 L224.8 273.9 L225.1 269.9 L225.4 267.0 L225.7 264.8 L226.0 262.9 L226.3 261.4 L226.6 260.0 L226.9 258.9 L227.2 258.0 L227.5 257.1 L227.8 256.4 L228.1 255.8 L228.4 255.3 L228.7 254.9 L229.0 254.5 L229.3 254.2 L229.6 254.0 L229.9 253.9 L230.2 253.9 L230.5 253.9 L230.8 254.0 L231.1 254.1 L231.4 254.3 L231.7 254.6 L232.0 254.9 L232.3 255.4 L232.6 255.9 L232.9 256.5 L233.2 257.2 L233.5 258.1 L233.8 259.1 L234.1 260.3 L234.4 261.7 L234.7 263.5 L235.0 265.6 L235.3 268.4 L235.6 272.3 L236.3 275.3 L236.3 344.3 L236.3 275.3 L237.1 269.4 L237.4 265.8 L237.7 263.2 L238.0 261.1 L238.3 259.3 L238.6 257.9 L238.9 256.7 L239.2 255.7 L239.5 254.8 L239.8 254.0 L240.1 253.4 L240.4 252.8 L240.7 252.4 L241.0 252.1 L241.3 251.8 L241.6 251.6 L241.9 251.5 L242.2 251.5 L242.5 251.5 L242.8 251.5 L243.1 251.6 L243.4 251.8 L243.7 252.0 L244.0 252.2 L244.3 252.4 L244.6 252.8 L244.9 253.1 L245.2 253.6 L245.5 254.1 L245.8 254.6 L246.1 255.2 L246.4 256.0 L246.7 256.8 L247.0 257.7 L247.3 258.8 L247.6 260.0 L247.9 261.5 L248.2 263.2 L248.5 265.2 L248.8 267.9 L249.1 271.3 L249.4 276.6 L249.9 275.6 L249.9 298.7 L249.9 275.6 L250.6 270.9 L250.9 266.9 L251.2 264.0 L251.5 261.8 L251.8 259.9 L252.1 258.4 L252.4 257.1 L252.7 256.0 L253.0 255.0 L253.3 254.1 L253.6 253.4 L253.9 252.8 L254.2 252.2 L254.5 251.8 L254.8 251.4 L255.1 251.0 L255.4 250.8 L255.7 250.6 L256.0 250.4 L256.3 250.3 L256.6 250.3 L256.9 250.3 L257.2 250.4 L257.5 250.5 L257.8 250.6 L258.1 250.8 L258.4 251.1 L258.7 251.4 L259.0 251.7 L259.3 252.1 L259.6 252.5 L259.9 253.0 L260.2 253.6 L260.5 254.3 L260.8 255.0 L261.1 255.8 L261.4 256.7 L261.7 257.8 L262.0 259.0 L262.3 260.4 L262.6 262.1 L262.9 264.1 L263.2 266.5 L263.5 269.7 L263.8 274.2 L264.4 273.6 L264.4 328.0 L264.4 273.6 L265.0 268.9 L265.3 264.5 L265.6 261.4 L265.9 259.1 L266.2 257.3 L266.5 255.8 L266.8 254.6 L267.1 253.6 L267.4 252.8 L267.7 252.2 L268.0 251.7 L268.3 251.3 L268.6 251.1 L268.9 250.9 L269.2 250.9 L269.5 250.9 L269.8 251.0 L270.1 251.2 L270.4 251.3 L270.7 251.5 L271.0 251.8 L271.3 252.1 L271.6 252.4 L271.9 252.8 L272.2 253.2 L272.5 253.7 L272.8 254.3 L273.1 254.9 L273.4 255.5 L273.7 256.3 L274.0 257.1 L274.3 258.0 L274.6 259.0 L274.9 260.2 L275.2 261.5 L275.5 263.0 L275.8 264.7 L276.1 266.8 L276.4 269.3 L276.7 272.6 L277.0 277.1 L277.6 278.5 L277.6 295.6 L277.6 278.5 L278.2 275.7 L278.5 271.3 L278.8 268.1 L279.1 265.8 L279.4 263.9 L279.7 262.3 L280.0 261.0 L280.3 259.8 L280.6 258.8 L280.9 257.9 L281.2 257.2 L281.5 256.5 L281.8 255.9 L282.1 255.3 L282.4 254.6 L282.7 253.9 L283.0 253.1 L283.3 252.4 L283.6 251.7 L283.9 251.2 L284.2 250.7 L284.5 250.4 L284.8 250.3 L285.1 250.3 L285.4 250.4 L285.7 250.6 L286.0 250.8 L286.3 251.0 L286.6 251.4 L286.9 251.8 L287.2 252.2 L287.5 252.8 L287.8 253.4 L288.1 254.2 L288.4 255.0 L288.7 256.0 L289.0 257.2 L289.3 258.5 L289.6 260.1 L289.9 262.1 L290.2 264.5 L290.5 267.7 L290.8 272.1 L291.4 274.2 L291.4 298.0 L291.4 274.2 L292.0 272.1 L292.3 267.7 L292.6 264.5 L292.9 262.1 L293.2 260.1 L293.5 258.5 L293.8 257.2 L294.1 256.0 L294.4 255.0 L294.7 254.2 L295.0 253.4 L295.3 252.8 L295.6 252.2 L295.9 251.8 L296.2 251.4 L296.5 251.0 L296.8 250.8 L297.1 250.6 L297.4 250.4 L297.7 250.3 L298.0 250.3 L298.3 250.3 L298.6 250.4 L298.9 250.5 L299.2 250.7 L299.5 250.9 L299.8 251.1 L300.1 251.4 L300.4 251.8 L300.7 252.2 L301.0 252.7 L301.3 253.3 L301.6 253.9 L301.9 254.6 L302.2 255.4 L302.5 256.3 L302.8 257.4 L303.1 258.6 L303.4 260.0 L303.7 261.6 L304.0 263.6 L304.3 266.0 L304.6 269.2 L304.9 273.7 L305.5 275.4 L305.5 298.7 L305.5 275.4 L306.1 273.0 L306.4 268.5 L306.7 265.4 L307.0 263.0 L307.3 261.1 L307.6 259.5 L307.9 258.1 L308.2 256.9 L308.5 256.0 L308.8 255.1 L309.1 254.3 L309.4 253.7 L309.7 253.1 L310.0 252.6 L310.3 252.2 L310.6 251.8 L310.9 251.5 L311.2 251.3 L311.5 251.1 L311.8 251.0 L312.1 250.9 L312.4 250.9 L312.7 250.9 L313.0 251.0 L313.3 251.1 L313.6 251.3 L313.9 251.5 L314.2 251.8 L314.5 252.1 L314.8 252.4 L315.1 252.9 L315.4 253.3 L315.7 253.9 L316.0 254.5 L316.3 255.2 L316.6 256.0 L316.9 256.9 L317.2 258.0 L317.5 259.1 L317.8 260.5 L318.1 262.1 L318.4 263.9 L318.7 266.2 L319.0 269.2 L319.3 273.2 L320.0 276.6 L320.0 298.0 L320.0 276.6 L320.8 271.1 L321.1 267.6 L321.4 265.1 L321.7 263.0 L322.0 261.3 L322.3 259.9 L322.6 258.8 L322.9 257.7 L323.2 256.8 L323.5 256.1 L323.8 255.4 L324.1 254.9 L324.4 254.4 L324.7 253.9 L325.0 253.6 L325.3 253.3 L325.6 253.1 L325.9 252.9 L326.2 252.8 L326.5 252.7 L326.8 252.7 L327.1 252.7 L327.4 252.8 L327.7 253.0 L328.0 253.2 L328.3 253.4 L328.6 253.8 L328.9 254.2 L329.2 254.7 L329.5 255.2 L329.8 255.9 L330.1 256.6 L330.4 257.4 L330.7 258.4 L331.0 259.5 L331.3 260.9 L331.6 262.4 L331.9 264.3 L332.2 266.5 L332.5 269.4 L332.8 273.4 L333.5 276.3 L333.5 309.5 L333.5 276.3 L334.3 270.3 L334.6 266.9 L334.9 264.3 L335.2 262.3 L335.5 260.7 L335.8 259.4 L336.1 258.3 L336.4 257.4 L336.7 256.7 L337.0 256.0 L337.3 255.5 L337.6 255.1 L337.9 254.8 L338.2 254.6 L338.5 254.5 L338.8 254.5 L339.1 254.5 L339.4 254.6 L339.7 254.8 L340.0 254.9 L340.3 255.1 L340.6 255.4 L340.9 255.6 L341.2 255.9 L341.5 256.3 L341.8 256.7 L342.1 257.1 L342.4 257.6 L342.7 258.1 L343.0 258.6 L343.3 259.2 L343.6 259.9 L343.9 260.6 L344.2 261.4 L344.5 262.3 L344.8 263.2 L345.1 264.2 L345.4 265.3 L345.7 266.6 L346.0 268.0 L346.3 269.6 L346.6 271.4 L346.9 273.6 L347.2 276.2 L347.5 279.5 L347.8 284.2 L348.4 284.3 L348.4 304.0 L348.4 284.3 L349.0 280.3 L349.3 275.9 L349.6 272.9 L349.9 270.7 L350.2 268.9 L350.5 267.5 L350.8 266.3 L351.1 265.4 L351.4 264.5 L351.7 263.9 L352.0 263.3 L352.3 262.8 L352.6 262.4 L352.9 262.1 L353.2 261.9 L353.5 261.7 L353.8 261.6 L354.1 261.6 L354.4 261.6 L354.7 261.7 L355.0 261.9 L355.3 262.1 L355.6 262.4 L355.9 262.8 L356.2 263.3 L356.5 263.8 L356.8 264.4 L357.1 265.2 L357.4 266.0 L357.7 267.0 L358.0 268.1 L358.3 269.4 L358.6 270.9 L358.9 272.7 L359.2 274.8 L359.5 277.5 L359.8 281.1 L360.1 286.4 L360.6 286.0 L360.6 319.0 L360.6 286.0 L361.3 281.9 L361.6 278.0 L361.9 275.3 L362.2 273.2 L362.5 271.5 L362.8 270.1 L363.1 269.0 L363.4 268.0 L363.7 267.2 L364.0 266.6 L364.3 266.0 L364.6 265.6 L364.9 265.2 L365.2 265.0 L365.5 264.8 L365.8 264.7 L366.1 264.7 L366.4 264.8 L366.7 264.9 L367.0 265.1 L367.3 265.4 L367.6 265.7 L367.9 266.2 L368.2 266.7 L368.5 267.4 L368.8 268.2 L369.1 269.2 L369.4 270.4 L369.7 271.9 L370.0 273.7 L370.3 276.1 L370.6 279.4 L370.9 284.4 L371.4 286.6 L371.4 304.0 L371.4 286.6 L372.1 284.8 L372.4 280.6 L372.7 277.5 L373.0 275.0 L373.3 272.9 L373.6 271.2 L373.9 269.6 L374.2 268.2 L374.5 267.0 L374.8 265.8 L375.1 264.8 L375.4 263.9 L375.7 263.0 L376.0 262.3 L376.3 261.6 L376.6 260.9 L376.9 260.3 L377.2 259.8 L377.5 259.4 L377.8 258.9 L378.1 258.6 L378.4 258.3 L378.7 258.0 L379.0 257.8 L379.3 257.7 L379.6 257.6 L379.9 257.5 L380.2 257.5 L380.5 257.6 L380.8 257.7 L381.1 258.0 L381.4 258.3 L381.7 258.7 L382.0 259.1 L382.3 259.7 L382.6 260.4 L382.9 261.2 L383.2 262.1 L383.5 263.2 L383.8 264.5 L384.1 266.1 L384.4 268.0 L384.7 270.4 L385.0 273.5 L385.3 278.0 L385.9 280.5 L385.9 301.7 L385.9 280.5 L386.5 279.0 L386.8 274.5 L387.1 271.4 L387.4 268.9 L387.7 267.0 L388.0 265.4 L388.3 264.0 L388.6 262.8 L388.9 261.8 L389.2 261.0 L389.5 260.2 L389.8 259.6 L390.1 259.0 L390.4 258.5 L390.7 258.1 L391.0 257.7 L391.3 257.4 L391.6 257.2 L391.9 257.1 L392.2 257.0 L392.5 256.9 L392.8 256.9 L393.1 256.9 L393.4 257.0 L393.7 257.2 L394.0 257.4 L394.3 257.6 L394.6 257.9 L394.9 258.3 L395.2 258.7 L395.5 259.2 L395.8 259.8 L396.1 260.5 L396.4 261.3 L396.7 262.2 L397.0 263.2 L397.3 264.4 L397.6 265.9 L397.9 267.6 L398.2 269.8 L398.5 272.6 L398.8 276.5 L399.5 279.4 L399.5 299.3 L399.5 279.4 L400.3 273.2 L400.6 269.7 L400.9 267.0 L401.2 264.8 L401.5 263.1 L401.8 261.6 L402.1 260.3 L402.4 259.2 L402.7 258.2 L403.0 257.4 L403.3 256.7 L403.6 256.1 L403.9 255.5 L404.2 255.1 L404.5 254.7 L404.8 254.4 L405.1 254.2 L405.4 254.0 L405.7 253.9 L406.0 253.9 L406.3 253.9 L406.6 253.9 L406.9 254.0 L407.2 254.1 L407.5 254.2 L407.8 254.5 L408.1 254.7 L408.4 255.0 L408.7 255.4 L409.0 255.8 L409.3 256.3 L409.6 256.9 L409.9 257.5 L410.2 258.2 L410.5 259.1 L410.8 260.1 L411.1 261.2 L411.4 262.5 L411.7 264.1 L412.0 266.0 L412.3 268.3 L412.6 271.4 L412.9 275.9 L413.5 277.8 L413.5 322.0 L413.5 277.8 L414.1 275.7 L414.4 271.1 L414.7 267.9 L415.0 265.4 L415.3 263.4 L415.6 261.7 L415.9 260.2 L416.2 258.9 L416.5 257.8 L416.8 256.9 L417.1 256.0 L417.4 255.2 L417.7 254.5 L418.0 253.9 L418.3 253.4 L418.6 252.9 L418.9 252.5 L419.2 252.1 L419.5 251.8 L419.8 251.5 L420.1 251.3 L420.4 251.1 L420.7 251.0 L421.0 250.9 L421.3 250.9 L421.6 250.9 L421.9 251.0 L422.2 251.1 L422.5 251.2 L422.8 251.4 L423.1 251.6 L423.4 251.9 L423.7 252.2 L424.0 252.5 L424.3 252.9 L424.6 253.4 L424.9 253.9 L425.2 254.5 L425.5 255.1 L425.8 255.8 L426.1 256.5 L426.4 257.3 L426.7 258.2 L427.0 259.2 L427.3 260.3 L427.6 261.5 L427.9 262.8 L428.2 264.3 L428.5 266.1 L428.8 268.1 L429.1 270.6 L429.4 273.6 L429.7 277.8 L430.4 280.2 L430.4 304.7 L430.4 280.2 L431.2 273.7 L431.5 270.3 L431.8 267.9 L432.1 265.9 L432.4 264.4 L432.7 263.1 L433.0 262.0 L433.3 261.1 L433.6 260.3 L433.9 259.7 L434.2 259.1 L434.5 258.6 L434.8 258.2 L435.1 257.8 L435.4 257.6 L435.7 257.3 L436.0 257.1 L436.3 257.0 L436.6 256.9 L436.9 256.9 L437.2 256.9 L437.5 257.0 L437.8 257.1 L438.1 257.3 L438.4 257.6 L438.7 257.9 L439.0 258.3 L439.3 258.8 L439.6 259.3 L439.9 260.0 L440.2 260.7 L440.5 261.6 L440.8 262.6 L441.1 263.8 L441.4 265.2 L441.7 266.9 L442.0 268.9 L442.3 271.5 L442.6 275.0 L442.9 280.2 L443.4 281.8 L443.4 312.0 L443.4 281.8 L444.1 279.7 L444.4 275.7 L444.7 272.8 L445.0 270.5 L445.3 268.6 L445.6 267.1 L445.9 265.7 L446.2 264.5 L446.5 263.5 L446.8 262.5 L447.1 261.7 L447.4 261.0 L447.7 260.3 L448.0 259.7 L448.3 259.2 L448.6 258.7 L448.9 258.3 L449.2 257.9 L449.5 257.6 L449.8 257.3 L450.1 257.0 L450.4 256.8 L450.7 256.6 L451.0 256.5 L451.3 256.4 L451.6 256.3 L451.9 256.3 L452.2 256.3 L452.5 256.5 L452.8 256.8 L453.1 257.2 L453.4 257.8 L453.7 258.4 L454.0 259.1 L454.3 259.9 L454.6 260.7 L454.9 261.6 L455.2 262.5 L455.5 263.4 L455.8 264.4 L456.1 265.3 L456.4 266.2 L456.7 267.1 L457.0 268.0 L457.3 268.8 L457.6 269.7 L457.9 270.6 L458.2 271.6 L458.5 272.5 L458.8 273.5 L459.1 274.5 L459.4 275.5 L459.7 276.6 L460.0 277.6 L460.3 278.7 L460.6 279.8 L460.9 280.9 L461.2 282.0 L461.5 283.1 L461.8 284.2 L462.1 285.3 L462.4 286.5 L462.7 287.6 L463.0 288.8 L463.3 290.2 L463.6 291.7 L463.9 293.2 L464.2 294.9 L464.5 296.6 L464.8 298.2 L465.1 299.8 L465.4 301.6 L465.7 304.0 L466.0 306.9 L466.3 310.8 L466.6 316.3 L467.1 316.4 L467.1 337.0 L467.1 316.4 L467.8 312.7 L468.1 308.7 L468.4 305.8 L468.7 303.7 L469.0 302.2 L469.3 301.0 L469.6 299.8 L469.9 298.5 L470.2 297.1 L470.5 295.8 L470.8 294.4 L471.1 293.1 L471.4 291.8 L471.7 290.5 L472.0 289.4 L472.3 288.3 L472.6 287.1 L472.9 285.9 L473.2 284.6 L473.5 283.3 L473.8 282.0 L474.1 280.6 L474.4 279.2 L474.7 277.8 L475.0 276.5 L475.3 275.1 L475.6 273.7 L475.9 272.4 L476.2 271.1 L476.5 269.8 L476.8 268.6 L477.1 267.5 L477.4 266.4 L477.7 265.4 L478.0 264.4 L478.3 263.6 L478.6 262.8 L478.9 262.2 L479.2 261.6 L479.5 261.1 L479.8 260.6 L480.1 260.0 L480.4 259.5 L480.7 259.0 L481.0 258.5 L481.3 258.0 L481.6 257.5 L481.9 257.0 L482.2 256.6 L482.5 256.1 L482.8 255.7 L483.1 255.3 L483.4 254.9 L483.7 254.5 L484.0 254.1 L484.3 253.8 L484.6 253.5 L484.9 253.1 L485.2 252.9 L485.5 252.6 L485.8 252.4 L486.1 252.2 L486.4 252.0 L486.7 251.8 L487.0 251.7 L487.3 251.6 L487.6 251.5 L487.9 251.5 L488.2 251.5 L488.5 251.5 L488.8 251.6 L489.1 251.8 L489.4 251.9 L489.7 252.2 L490.0 252.4 L490.3 252.7 L490.6 253.1 L490.9 253.5 L491.2 253.9 L491.5 254.4 L491.8 254.9 L492.1 255.5 L492.4 256.1 L492.7 256.7 L493.0 257.4 L493.3 258.2 L493.6 259.0 L493.9 259.8 L494.2 260.7 L494.5 261.7 L494.8 262.7 L495.1 263.8 L495.4 264.9 L495.7 266.2 L496.0 267.5 L496.3 269.0 L496.6 270.6 L496.9 272.5 L497.2 274.5 L497.5 276.9 L497.8 279.7 L498.1 283.2 L498.4 288.1 L499.0 286.9 L499.0 312.0 L499.0 286.9 L499.6 281.6 L499.9 277.4 L500.2 274.5 L500.5 272.4 L500.8 270.8 L501.1 269.5 L501.4 268.5 L501.7 267.6 L502.0 266.9 L502.3 266.3 L502.6 265.9 L502.9 265.5 L503.2 265.2 L503.5 265.0 L503.8 264.8 L504.1 264.7 L504.4 264.7 L504.7 264.7 L505.0 264.8 L505.3 265.0 L505.6 265.2 L505.9 265.5 L506.2 265.9 L506.5 266.4 L506.8 266.9 L507.1 267.7 L507.4 268.5 L507.7 269.6 L508.0 270.9 L508.3 272.5 L508.6 274.7 L508.9 277.5 L509.2 281.7 L509.8 286.4 L509.8 311.3 L509.8 286.4 L510.4 286.9 L510.7 282.1 L511.0 278.6 L511.3 275.8 L511.6 273.5 L511.9 271.5 L512.2 269.7 L512.5 268.2 L512.8 266.8 L513.1 265.5 L513.4 264.3 L513.7 263.2 L514.0 262.2 L514.3 261.3 L514.6 260.4 L514.9 259.6 L515.2 258.9 L515.5 258.2 L515.8 257.5 L516.1 257.0 L516.4 256.4 L516.7 256.0 L517.0 255.5 L517.3 255.2 L517.6 254.8 L517.9 254.5 L518.2 254.3 L518.5 254.1 L518.8 254.0 L519.1 253.9 L519.4 253.9 L519.7 253.9 L520.0 254.0 L520.3 254.2 L520.6 254.4 L520.9 254.6 L521.2 254.9 L521.5 255.1 L521.8 255.3 L522.1 255.5 L522.4 255.8 L522.7 256.1 L523.0 256.4 L523.3 256.7 L523.6 257.1 L523.9 257.6 L524.2 258.0 L524.5 258.5 L524.8 259.1 L525.1 259.7 L525.4 260.4 L525.7 261.2 L526.0 262.0 L526.3 263.0 L526.6 264.0 L526.9 265.2 L527.2 266.6 L527.5 268.2 L527.8 270.0 L528.1 272.3 L528.4 275.2 L528.7 279.2 L529.4 284.6 L529.4 304.0 L529.4 284.6 L530.2 281.0 L530.5 277.4 L530.8 274.7 L531.1 272.6 L531.4 270.8 L531.7 269.2 L532.0 267.9 L532.3 266.7 L532.6 265.6 L532.9 264.7 L533.2 263.8 L533.5 263.0 L533.8 262.3 L534.1 261.6 L534.4 261.0 L534.7 260.4 L535.0 259.8 L535.3 259.3 L535.6 258.9 L535.9 258.4 L536.2 258.0 L536.5 257.6 L536.8 257.3 L537.1 256.9 L537.4 256.6 L537.7 256.3 L538.0 256.0 L538.3 255.8 L538.6 255.6 L538.9 255.3 L539.2 255.1 L539.5 255.0 L539.8 254.8 L540.1 254.6 L540.4 254.5 L540.7 254.4 L541.0 254.3 L541.3 254.2 L541.6 254.1 L541.9 254.0 L542.2 254.0 L542.5 253.9 L542.8 253.9 L543.1 253.9 L543.4 253.9 L543.7 253.9 L544.0 253.9 L544.3 253.9 L544.6 253.9 L544.9 254.0 L545.2 254.0 L545.5 254.1 L545.8 254.1 L546.1 254.2 L546.4 254.3 L546.7 254.4 L547.0 254.6 L547.3 254.7 L547.6 254.8 L547.9 255.0 L548.2 255.2 L548.5 255.4 L548.8 255.6 L549.1 255.8 L549.4 256.1 L549.7 256.4 L550.0 256.7 L550.3 257.0 L550.6 257.3 L550.9 257.7 L551.2 258.1 L551.5 258.5 L551.8 259.0 L552.1 259.5 L552.4 260.0 L552.7 260.6 L553.0 261.3 L553.3 262.0 L553.6 262.8 L553.9 263.6 L554.2 264.5 L554.5 265.6 L554.8 266.8 L555.1 268.1 L555.4 269.7 L555.7 271.5 L556.0 273.8 L556.3 276.7 L556.6 280.6 L557.3 282.8 L557.3 309.0 L557.3 282.8 L558.1 276.0 L558.4 272.4 L558.7 269.7 L559.0 267.5 L559.3 265.6 L559.6 264.1 L559.9 262.7 L560.2 261.5 L560.5 260.5 L560.8 259.5 L561.1 258.6 L561.4 257.8 L561.7 257.1 L562.0 256.4 L562.3 255.8 L562.6 255.3 L562.9 254.8 L563.2 254.3 L563.5 253.9 L563.8 253.5 L564.1 253.1 L564.4 252.8 L564.7 252.5 L565.0 252.2 L565.3 251.9 L565.6 251.7 L565.9 251.5 L566.2 251.4 L566.5 251.2 L566.8 251.1 L567.1 251.0 L567.4 251.0 L567.7 250.9 L568.0 250.9 L568.3 250.9 L568.6 251.0 L568.9 251.2 L569.2 251.4 L569.5 251.7 L569.8 252.0 L570.1 252.5 L570.4 253.0 L570.7 253.6 L571.0 254.3 L571.3 255.0 L571.6 255.8 L571.9 256.8 L572.2 257.8 L572.5 258.9 L572.8 260.2 L573.1 261.6 L573.4 263.2 L573.7 265.1 L574.0 267.2 L574.3 269.8 L574.6 273.0 L574.9 277.2 L575.6 279.4 L575.6 329.3 L575.6 279.4 L576.4 272.7 L576.7 269.5 L577.0 267.2 L577.3 265.4 L577.6 264.0 L577.9 262.9 L578.2 262.0 L578.5 261.3 L578.8 260.7 L579.1 260.3 L579.4 259.9 L579.7 259.6 L580.0 259.4 L580.3 259.3 L580.6 259.3 L580.9 259.3 L581.2 259.4 L581.5 259.6 L581.8 259.9 L582.1 260.2 L582.4 260.6 L582.7 261.2 L583.0 261.8 L583.3 262.7 L583.6 263.6 L583.9 264.9 L584.2 266.4 L584.5 268.3 L584.8 270.9 L585.1 274.6 L585.8 280.6 L585.8 331.0 L585.8 280.6 L586.6 277.5 L586.9 273.7 L587.2 270.8 L587.5 268.3 L587.8 266.3 L588.1 264.5 L588.4 262.9 L588.7 261.5 L589.0 260.2 L589.3 259.0 L589.6 257.9 L589.9 257.0 L590.2 256.0 L590.5 255.2 L590.8 254.4 L591.1 253.7 L591.4 253.1 L591.7 252.5 L592.0 251.9 L592.3 251.5 L592.6 251.0 L592.9 250.7 L593.2 250.3 L593.5 250.1 L593.8 249.8 L594.1 249.7 L594.4 249.5 L594.7 249.5 L595.0 249.5 L595.3 249.5 L595.6 249.5 L595.9 249.6 L596.2 249.7 L596.5 249.9 L596.8 250.1 L597.1 250.4 L597.4 250.7 L597.7 251.0 L598.0 251.4 L598.3 251.8 L598.6 252.3 L598.9 252.9 L599.2 253.6 L599.5 254.3 L599.8 255.1 L600.1 256.1 L600.4 257.1 L600.7 258.4 L601.0 259.8 L601.3 261.5 L601.6 263.6 L601.9 266.2 L602.2 269.7 L602.5 274.9 L603.0 274.6 L603.0 300.0 L603.0 274.6 L603.7 270.5 L604.0 266.5 L604.3 263.6 L604.6 261.3 L604.9 259.5 L605.2 257.9 L605.5 256.5 L605.8 255.4 L606.1 254.3 L606.4 253.4 L606.7 252.6 L607.0 251.9 L607.3 251.3 L607.6 250.7 L607.9 250.2 L608.2 249.7 L608.5 249.4 L608.8 249.0 L609.1 248.7 L609.4 248.5 L609.7 248.3 L610.0 248.1 L610.3 248.0 L610.6 247.9 L610.9 247.9 L611.2 247.9 L611.5 247.9 L611.8 248.0 L612.1 248.0 L612.4 248.1 L612.7 248.2 L613.0 248.3 L613.3 248.5 L613.6 248.6 L613.9 248.8 L614.2 249.0 L614.5 249.2 L614.8 249.4 L615.1 249.7 L615.4 250.0 L615.7 250.3 L616.0 250.6 L616.3 250.9 L616.6 251.3 L616.9 251.7 L617.2 252.1 L617.5 252.5 L617.8 253.0 L618.1 253.5 L618.4 254.0 L618.7 254.5 L619.0 255.1 L619.3 255.7 L619.6 256.4 L619.9 257.1 L620.2 257.8 L620.5 258.6 L620.8 259.5 L621.1 260.4 L621.4 261.4 L621.7 262.5 L622.0 263.7 L622.3 265.0 L622.6 266.5 L622.9 268.1 L623.2 270.1 L623.5 272.4 L623.8 274.5 L624.1 274.7 L624.4 274.8 L624.9 275.0 L624.9 275.0 L624.9 275.0 L625.6 275.3 L625.9 273.7 L626.2 270.9 L626.5 268.7 L626.8 267.0 L627.1 265.5 L627.4 264.3 L627.7 263.2 L628.0 262.2 L628.3 261.4 L628.6 260.6 L628.9 260.0 L629.2 259.4 L629.5 258.8 L629.8 258.4 L630.1 257.9 L630.4 257.5 L630.7 257.2 L631.0 256.9 L631.3 256.6 L631.6 256.3 L631.9 256.1 L632.2 255.9 L632.5 255.7 L632.8 255.5 L633.1 255.4 L633.4 255.3 L633.7 255.2 L634.0 255.1 L634.3 255.1 L634.6 255.0 L634.9 255.0 L635.2 255.0 L635.5 255.0 L635.8 255.1 L636.1 255.2 L636.4 255.3 L636.7 255.5 L637.0 255.7 L637.3 255.9 L637.6 256.2 L637.9 256.6 L638.2 256.9 L638.5 257.4 L638.8 257.9 L639.1 258.5 L639.4 259.1 L639.7 259.8 L640.0 260.7 L640.3 261.6 L640.6 262.7 L640.9 264.0 L641.2 265.6 L641.5 267.4 L641.8 269.8 L642.1 272.8 L642.4 277.2 L643.0 282.2 L643.0 299.0 L643.0 282.2 L643.6 283.1 L643.9 278.4 L644.2 275.1 L644.5 272.5 L644.8 270.3 L645.1 268.5 L645.4 266.8 L645.7 265.4 L646.0 264.1 L646.3 263.0 L646.6 261.9 L646.9 260.9 L647.2 260.0 L647.5 259.1 L647.8 258.3 L648.1 257.5 L648.4 256.8 L648.7 256.1 L649.0 255.5 L649.3 254.9 L649.6 254.3 L649.9 253.7 L650.2 253.2 L650.5 252.7 L650.8 252.2 L651.1 251.8 L651.4 251.3 L651.7 250.9 L652.0 250.5 L652.3 250.2 L652.6 249.8 L652.9 249.5 L653.2 249.1 L653.5 248.8 L653.8 248.6 L654.1 248.3 L654.4 248.0 L654.7 247.8 L655.0 247.6 L655.3 247.4 L655.6 247.2 L655.9 247.0 L656.2 246.8 L656.5 246.7 L656.8 246.5 L657.1 246.4 L657.4 246.3 L657.7 246.1" fill="none" stroke="#0000ff" stroke-width="2.5" stroke-linejoin="round" stroke-dasharray="6.1 2.2" clip-path="url(#c1)"/>
<path d="M126.7 427.3 L127.0 430.2 L127.6 416.7 L127.6 430.0 L127.6 416.7 L128.2 402.0 L128.5 401.2 L129.2 407.1 L129.2 430.0 L129.2 407.1 L129.7 411.2 L130.0 406.3 L130.3 403.3 L130.6 401.3 L130.9 400.2 L131.2 399.7 L131.5 399.8 L131.8 400.4 L132.1 401.6 L132.4 403.4 L132.7 406.3 L133.0 411.1 L133.5 411.1 L133.5 430.0 L133.5 411.1 L134.2 407.5 L134.5 403.7 L134.8 401.2 L135.1 399.4 L135.4 398.3 L135.7 397.6 L136.0 397.4 L136.3 397.5 L136.6 398.1 L136.9 399.1 L137.2 400.6 L137.5 402.9 L137.8 406.4 L138.5 410.0 L138.5 431.0 L138.5 410.0 L139.3 404.9 L139.6 401.6 L139.9 399.3 L140.2 397.6 L140.5 396.4 L140.8 395.6 L141.1 395.1 L141.4 395.0 L141.7 395.5 L142.0 396.7 L142.3 398.7 L142.6 402.0 L143.3 405.2 L143.3 430.0 L143.3 405.2 L144.1 399.9 L144.4 396.9 L144.7 394.9 L145.0 393.8 L145.3 393.3 L145.6 393.3 L145.9 393.6 L146.2 394.2 L146.5 395.2 L146.8 396.6 L147.1 398.6 L147.4 401.4 L147.7 405.7 L148.3 407.6 L148.3 432.0 L148.3 407.6 L148.9 405.5 L149.2 401.1 L149.5 398.2 L149.8 396.1 L150.1 394.5 L150.4 393.4 L150.7 392.7 L151.0 392.2 L151.3 392.1 L151.6 392.1 L151.9 392.4 L152.2 392.8 L152.5 393.4 L152.8 394.3 L153.1 395.4 L153.4 396.9 L153.7 398.9 L154.0 401.5 L154.3 405.3 L155.0 409.1 L155.0 430.0 L155.0 409.1 L155.8 404.0 L156.1 400.5 L156.4 398.0 L156.7 396.0 L157.0 394.5 L157.3 393.2 L157.6 392.3 L157.9 391.5 L158.2 390.9 L158.5 390.6 L158.8 390.3 L159.1 390.3 L159.4 390.3 L159.7 390.5 L160.0 390.8 L160.3 391.3 L160.6 391.9 L160.9 392.6 L161.2 393.6 L161.5 394.8 L161.8 396.3 L162.1 398.2 L162.4 400.7 L162.7 404.0 L163.0 409.1 L163.5 409.3 L163.5 428.0 L163.5 409.3 L164.2 405.7 L164.5 401.7 L164.8 398.9 L165.1 396.6 L165.4 394.8 L165.7 393.4 L166.0 392.2 L166.3 391.1 L166.6 390.3 L166.9 389.6 L167.2 389.0 L167.5 388.6 L167.8 388.3 L168.1 388.0 L168.4 387.9 L168.7 387.9 L169.0 388.1 L169.3 388.3 L169.6 388.7 L169.9 389.2 L170.2 389.8 L170.5 390.7 L170.8 391.7 L171.1 393.0 L171.4 394.6 L171.7 396.7 L172.0 399.4 L172.3 403.2 L173.0 406.9 L173.0 430.0 L173.0 406.9 L173.8 401.7 L174.1 398.2 L174.4 395.5 L174.7 393.5 L175.0 391.8 L175.3 390.5 L175.6 389.3 L175.9 388.4 L176.2 387.6 L176.5 386.9 L176.8 386.4 L177.1 386.0 L177.4 385.8 L177.7 385.6 L178.0 385.6 L178.3 385.6 L178.6 385.7 L178.9 385.8 L179.2 386.1 L179.5 386.4 L179.8 386.9 L180.1 387.4 L180.4 388.1 L180.7 388.9 L181.0 389.9 L181.3 391.0 L181.6 392.4 L181.9 394.1 L182.2 396.2 L182.5 399.0 L182.8 402.8 L183.5 406.9 L183.5 428.0 L183.5 406.9 L184.3 402.0 L184.6 398.4 L184.9 395.7 L185.2 393.6 L185.5 391.8 L185.8 390.3 L186.1 389.1 L186.4 387.9 L186.7 387.0 L187.0 386.1 L187.3 385.4 L187.6 384.8 L187.9 384.2 L188.2 383.7 L188.5 383.4 L188.8 383.0 L189.1 382.8 L189.4 382.6 L189.7 382.4 L190.0 382.4 L190.3 382.3 L190.6 382.3 L190.9 382.4 L191.2 382.5 L191.5 382.7 L191.8 382.9 L192.1 383.1 L192.4 383.5 L192.7 383.8 L193.0 384.3 L193.3 384.8 L193.6 385.4 L193.9 386.1 L194.2 386.9 L194.5 387.9 L194.8 389.0 L195.1 390.3 L195.4 391.8 L195.7 393.7 L196.0 396.0 L196.3 399.1 L196.6 403.5 L197.2 406.1 L197.2 420.0 L197.2 406.1 L197.8 404.5 L198.1 399.9 L198.4 396.7 L198.7 394.1 L199.0 392.1 L199.3 390.3 L199.6 388.8 L199.9 387.5 L200.2 386.4 L200.5 385.3 L200.8 384.4 L201.1 383.6 L201.4 382.9 L201.7 382.2 L202.0 381.6 L202.3 381.0 L202.6 380.5 L202.9 380.1 L203.2 379.7 L203.5 379.3 L203.8 379.0 L204.1 378.8 L204.4 378.5 L204.7 378.3 L205.0 378.2 L205.3 378.1 L205.6 378.0 L205.9 378.0 L206.2 378.0 L206.5 378.0 L206.8 378.1 L207.1 378.2 L207.4 378.4 L207.7 378.6 L208.0 378.8 L208.3 379.1 L208.6 379.4 L208.9 379.8 L209.2 380.3 L209.5 380.8 L209.8 381.4 L210.1 382.0 L210.4 382.8 L210.7 383.6 L211.0 384.6 L211.3 385.7 L211.6 387.0 L211.9 388.5 L212.2 390.3 L212.5 392.6 L212.8 395.4 L213.1 399.3 L213.8 403.3 L213.8 434.8 L213.8 403.3 L214.6 398.3 L214.9 394.7 L215.2 392.0 L215.5 389.9 L215.8 388.1 L216.1 386.5 L216.4 385.2 L216.7 384.1 L217.0 383.0 L217.3 382.1 L217.6 381.3 L217.9 380.6 L218.2 379.9 L218.5 379.3 L218.8 378.7 L219.1 378.3 L219.4 377.8 L219.7 377.4 L220.0 377.1 L220.3 376.8 L220.6 376.5 L220.9 376.3 L221.2 376.1 L221.5 375.9 L221.8 375.8 L222.1 375.7 L222.4 375.6 L222.7 375.6 L223.0 375.6 L223.3 375.6 L223.6 375.7 L223.9 375.8 L224.2 376.0 L224.5 376.2 L224.8 376.4 L225.1 376.7 L225.4 377.0 L225.7 377.4 L226.0 377.8 L226.3 378.2 L226.6 378.8 L226.9 379.4 L227.2 380.1 L227.5 380.8 L227.8 381.7 L228.1 382.7 L228.4 383.8 L228.7 385.1 L229.0 386.6 L229.3 388.5 L229.6 390.7 L229.9 393.6 L230.2 397.5 L230.9 402.2 L230.9 419.0 L230.9 402.2 L231.7 398.0 L232.0 394.4 L232.3 391.7 L232.6 389.5 L232.9 387.7 L233.2 386.2 L233.5 384.9 L233.8 383.7 L234.1 382.6 L234.4 381.7 L234.7 380.8 L235.0 380.1 L235.3 379.4 L235.6 378.7 L235.9 378.2 L236.2 377.6 L236.5 377.1 L236.8 376.7 L237.1 376.3 L237.4 375.9 L237.7 375.6 L238.0 375.3 L238.3 375.0 L238.6 374.8 L238.9 374.5 L239.2 374.4 L239.5 374.2 L239.8 374.1 L240.1 374.0 L240.4 373.9 L240.7 373.8 L241.0 373.8 L241.3 373.8 L241.6 373.8 L241.9 373.9 L242.2 373.9 L242.5 374.0 L242.8 374.1 L243.1 374.3 L243.4 374.5 L243.7 374.6 L244.0 374.9 L244.3 375.1 L244.6 375.4 L244.9 375.7 L245.2 376.1 L245.5 376.4 L245.8 376.9 L246.1 377.3 L246.4 377.8 L246.7 378.4 L247.0 379.0 L247.3 379.7 L247.6 380.4 L247.9 381.3 L248.2 382.2 L248.5 383.2 L248.8 384.3 L249.1 385.6 L249.4 387.1 L249.7 388.9 L250.0 391.0 L250.3 393.7 L250.6 397.2 L250.9 402.5 L251.4 402.4 L251.4 424.0 L251.4 402.4 L252.1 398.6 L252.4 394.6 L252.7 391.7 L253.0 389.4 L253.3 387.6 L253.6 386.0 L253.9 384.6 L254.2 383.4 L254.5 382.3 L254.8 381.4 L255.1 380.5 L255.4 379.7 L255.7 379.0 L256.0 378.4 L256.3 377.8 L256.6 377.3 L256.9 376.8 L257.2 376.4 L257.5 376.0 L257.8 375.6 L258.1 375.3 L258.4 375.0 L258.7 374.7 L259.0 374.5 L259.3 374.3 L259.6 374.1 L259.9 373.9 L260.2 373.8 L260.5 373.7 L260.8 373.6 L261.1 373.5 L261.4 373.5 L261.7 373.5 L262.0 373.5 L262.3 373.6 L262.6 373.6 L262.9 373.7 L263.2 373.8 L263.5 374.0 L263.8 374.2 L264.1 374.4 L264.4 374.6 L264.7 374.9 L265.0 375.2 L265.3 375.6 L265.6 376.0 L265.9 376.4 L266.2 376.9 L266.5 377.4 L266.8 378.0 L267.1 378.6 L267.4 379.4 L267.7 380.2 L268.0 381.0 L268.3 382.0 L268.6 383.2 L268.9 384.5 L269.2 385.9 L269.5 387.7 L269.8 389.8 L270.1 392.5 L270.4 396.0 L270.7 401.2 L271.2 401.9 L271.2 419.0 L271.2 401.9 L271.9 398.8 L272.2 394.8 L272.5 391.9 L272.8 389.6 L273.1 387.7 L273.4 386.0 L273.7 384.7 L274.0 383.4 L274.3 382.3 L274.6 381.4 L274.9 380.5 L275.2 379.7 L275.5 378.9 L275.8 378.3 L276.1 377.7 L276.4 377.1 L276.7 376.6 L277.0 376.1 L277.3 375.7 L277.6 375.3 L277.9 374.9 L278.2 374.6 L278.5 374.2 L278.8 374.0 L279.1 373.7 L279.4 373.5 L279.7 373.3 L280.0 373.1 L280.3 372.9 L280.6 372.8 L280.9 372.7 L281.2 372.6 L281.5 372.5 L281.8 372.4 L282.1 372.4 L282.4 372.4 L282.7 372.4 L283.0 372.5 L283.3 372.5 L283.6 372.6 L283.9 372.7 L284.2 372.8 L284.5 373.0 L284.8 373.2 L285.1 373.4 L285.4 373.6 L285.7 373.8 L286.0 374.1 L286.3 374.5 L286.6 374.8 L286.9 375.2 L287.2 375.6 L287.5 376.1 L287.8 376.6 L288.1 377.2 L288.4 377.9 L288.7 378.6 L289.0 379.3 L289.3 380.2 L289.6 381.2 L289.9 382.3 L290.2 383.5 L290.5 384.9 L290.8 386.6 L291.1 388.6 L291.4 391.2 L291.7 394.5 L292.0 399.2 L292.6 400.4 L292.6 419.6 L292.6 400.4 L293.2 397.5 L293.5 393.2 L293.8 390.1 L294.1 387.7 L294.4 385.7 L294.7 384.0 L295.0 382.6 L295.3 381.3 L295.6 380.2 L295.9 379.2 L296.2 378.2 L296.5 377.4 L296.8 376.7 L297.1 376.0 L297.4 375.3 L297.7 374.8 L298.0 374.2 L298.3 373.7 L298.6 373.3 L298.9 372.9 L299.2 372.5 L299.5 372.1 L299.8 371.8 L300.1 371.5 L300.4 371.3 L300.7 371.1 L301.0 370.8 L301.3 370.7 L301.6 370.5 L301.9 370.4 L302.2 370.3 L302.5 370.2 L302.8 370.1 L303.1 370.1 L303.4 370.1 L303.7 370.1 L304.0 370.1 L304.3 370.2 L304.6 370.3 L304.9 370.4 L305.2 370.5 L305.5 370.7 L305.8 370.9 L306.1 371.1 L306.4 371.3 L306.7 371.6 L307.0 371.9 L307.3 372.3 L307.6 372.7 L307.9 373.1 L308.2 373.6 L308.5 374.2 L308.8 374.8 L309.1 375.4 L309.4 376.2 L309.7 377.0 L310.0 377.9 L310.3 379.0 L310.6 380.2 L310.9 381.5 L311.2 383.1 L311.5 385.1 L311.8 387.4 L312.1 390.5 L312.4 394.8 L313.0 397.7 L313.0 420.8 L313.0 397.7 L313.6 396.5 L313.9 391.8 L314.2 388.5 L314.5 386.0 L314.8 383.9 L315.1 382.1 L315.4 380.6 L315.7 379.3 L316.0 378.2 L316.3 377.1 L316.6 376.2 L316.9 375.3 L317.2 374.6 L317.5 373.9 L317.8 373.2 L318.1 372.6 L318.4 372.1 L318.7 371.6 L319.0 371.1 L319.3 370.7 L319.6 370.3 L319.9 369.9 L320.2 369.6 L320.5 369.3 L320.8 369.1 L321.1 368.8 L321.4 368.6 L321.7 368.4 L322.0 368.3 L322.3 368.1 L322.6 368.0 L322.9 367.9 L323.2 367.8 L323.5 367.8 L323.8 367.8 L324.1 367.8 L324.4 367.8 L324.7 367.8 L325.0 367.9 L325.3 368.0 L325.6 368.1 L325.9 368.3 L326.2 368.5 L326.5 368.7 L326.8 368.9 L327.1 369.2 L327.4 369.5 L327.7 369.8 L328.0 370.1 L328.3 370.5 L328.6 370.9 L328.9 371.4 L329.2 371.9 L329.5 372.4 L329.8 373.0 L330.1 373.6 L330.4 374.3 L330.7 375.1 L331.0 375.9 L331.3 376.8 L331.6 377.7 L331.9 378.8 L332.2 380.0 L332.5 381.3 L332.8 382.9 L333.1 384.7 L333.4 386.8 L333.7 389.3 L334.0 392.7 L334.3 397.4 L334.9 398.8 L334.9 442.9 L334.9 398.8 L335.5 396.1 L335.8 391.8 L336.1 388.7 L336.4 386.3 L336.7 384.4 L337.0 382.8 L337.3 381.5 L337.6 380.3 L337.9 379.3 L338.2 378.4 L338.5 377.6 L338.8 376.9 L339.1 376.2 L339.4 375.7 L339.7 375.1 L340.0 374.7 L340.3 374.2 L340.6 373.8 L340.9 373.5 L341.2 373.2 L341.5 372.9 L341.8 372.6 L342.1 372.4 L342.4 372.2 L342.7 372.0 L343.0 371.9 L343.3 371.8 L343.6 371.7 L343.9 371.6 L344.2 371.5 L344.5 371.5 L344.8 371.5 L345.1 371.5 L345.4 371.5 L345.7 371.6 L346.0 371.6 L346.3 371.7 L346.6 371.9 L346.9 372.0 L347.2 372.2 L347.5 372.4 L347.8 372.7 L348.1 372.9 L348.4 373.2 L348.7 373.6 L349.0 374.0 L349.3 374.4 L349.6 374.9 L349.9 375.4 L350.2 376.0 L350.5 376.7 L350.8 377.4 L351.1 378.3 L351.4 379.2 L351.7 380.3 L352.0 381.6 L352.3 383.1 L352.6 384.9 L352.9 387.1 L353.2 389.9 L353.5 393.9 L354.2 398.9 L354.2 432.4 L354.2 398.9 L354.7 400.2 L355.0 395.0 L355.3 391.4 L355.6 388.6 L355.9 386.4 L356.2 384.5 L356.5 382.9 L356.8 381.4 L357.1 380.1 L357.4 379.0 L357.7 377.9 L358.0 377.0 L358.3 376.1 L358.6 375.3 L358.9 374.5 L359.2 373.8 L359.5 373.2 L359.8 372.5 L360.1 372.0 L360.4 371.4 L360.7 370.9 L361.0 370.4 L361.3 370.0 L361.6 369.6 L361.9 369.2 L362.2 368.8 L362.5 368.5 L362.8 368.2 L363.1 367.9 L363.4 367.6 L363.7 367.4 L364.0 367.2 L364.3 367.0 L364.6 366.8 L364.9 366.6 L365.2 366.5 L365.5 366.4 L365.8 366.3 L366.1 366.2 L366.4 366.2 L366.7 366.1 L367.0 366.1 L367.3 366.2 L367.6 366.2 L367.9 366.3 L368.2 366.4 L368.5 366.6 L368.8 366.7 L369.1 366.9 L369.4 367.2 L369.7 367.5 L370.0 367.8 L370.3 368.1 L370.6 368.4 L370.9 368.8 L371.2 369.2 L371.5 369.7 L371.8 370.1 L372.1 370.6 L372.4 371.2 L372.7 371.7 L373.0 372.3 L373.3 372.9 L373.6 373.5 L373.9 374.2 L374.2 374.9 L374.5 375.7 L374.8 376.4 L375.1 377.2 L375.4 378.1 L375.7 379.0 L376.0 379.9 L376.3 380.9 L376.6 381.9 L376.9 383.0 L377.2 384.1 L377.5 385.4 L377.8 386.7 L378.1 388.1 L378.4 389.7 L378.7 391.4 L379.0 393.3 L379.3 395.5 L379.6 398.1 L379.9 401.2 L380.2 405.4 L380.9 405.4 L380.9 425.4 L380.9 405.4 L381.7 396.5 L382.0 393.1 L382.3 390.7 L382.6 388.8 L382.9 387.4 L383.2 386.2 L383.5 385.2 L383.8 384.3 L384.1 383.7 L384.4 383.1 L384.7 382.6 L385.0 382.2 L385.3 381.9 L385.6 381.7 L385.9 381.5 L386.2 381.3 L386.5 381.3 L386.8 381.3 L387.1 381.3 L387.4 381.4 L387.7 381.5 L388.0 381.7 L388.3 381.9 L388.6 382.2 L388.9 382.5 L389.2 382.9 L389.5 383.4 L389.8 384.0 L390.1 384.7 L390.4 385.6 L390.7 386.6 L391.0 387.7 L391.3 389.2 L391.6 391.0 L391.9 393.3 L392.2 396.5 L392.5 401.3 L393.0 405.8 L393.0 430.1 L393.0 405.8 L393.7 406.2 L394.0 401.8 L394.3 398.5 L394.6 395.9 L394.9 393.6 L395.2 391.7 L395.5 389.9 L395.8 388.4 L396.1 386.9 L396.4 385.6 L396.7 384.4 L397.0 383.2 L397.3 382.1 L397.6 381.1 L397.9 380.1 L398.2 379.1 L398.5 378.2 L398.8 377.4 L399.1 376.6 L399.4 375.8 L399.7 375.0 L400.0 374.3 L400.3 373.6 L400.6 373.0 L400.9 372.3 L401.2 371.7 L401.5 371.1 L401.8 370.6 L402.1 370.0 L402.4 369.5 L402.7 369.0 L403.0 368.6 L403.3 368.1 L403.6 367.7 L403.9 367.3 L404.2 367.0 L404.5 366.6 L404.8 366.3 L405.1 366.0 L405.4 365.8 L405.7 365.6 L406.0 365.3 L406.3 365.2 L406.6 365.0 L406.9 364.9 L407.2 364.8 L407.5 364.7 L407.8 364.6 L408.1 364.6 L408.4 364.5 L408.7 364.5 L409.0 364.5 L409.3 364.5 L409.6 364.5 L409.9 364.5 L410.2 364.5 L410.5 364.5 L410.8 364.5 L411.1 364.5 L411.4 364.6 L411.7 364.6 L412.0 364.6 L412.3 364.6 L412.6 364.6 L412.9 364.6 L413.2 364.6 L413.5 364.7 L413.8 364.7 L414.1 364.7 L414.4 364.7 L414.7 364.8 L415.0 364.8 L415.3 364.9 L415.6 364.9 L415.9 365.0 L416.2 365.1 L416.5 365.2 L416.8 365.4 L417.1 365.5 L417.4 365.7 L417.7 365.8 L418.0 366.0 L418.3 366.2 L418.6 366.4 L418.9 366.7 L419.2 366.9 L419.5 367.2 L419.8 367.5 L420.1 367.8 L420.4 368.1 L420.7 368.5 L421.0 368.9 L421.3 369.3 L421.6 369.7 L421.9 370.1 L422.2 370.6 L422.5 371.1 L422.8 371.7 L423.1 372.3 L423.4 372.9 L423.7 373.6 L424.0 374.3 L424.3 375.1 L424.6 375.9 L424.9 376.8 L425.2 377.8 L425.5 379.0 L425.8 380.2 L426.1 381.6 L426.4 383.2 L426.7 385.1 L427.0 387.3 L427.3 390.1 L427.6 393.8 L428.4 398.8 L428.4 444.0 L428.4 398.8 L429.1 394.7 L429.4 390.9 L429.7 388.1 L430.0 385.9 L430.3 384.1 L430.6 382.6 L430.9 381.2 L431.2 380.1 L431.5 379.0 L431.8 378.1 L432.1 377.3 L432.4 376.5 L432.7 375.8 L433.0 375.2 L433.3 374.6 L433.6 374.0 L433.9 373.5 L434.2 373.1 L434.5 372.7 L434.8 372.3 L435.1 371.9 L435.4 371.6 L435.7 371.2 L436.0 370.9 L436.3 370.7 L436.6 370.4 L436.9 370.2 L437.2 370.0 L437.5 369.8 L437.8 369.6 L438.1 369.5 L438.4 369.3 L438.7 369.2 L439.0 369.1 L439.3 369.0 L439.6 368.9 L439.9 368.8 L440.2 368.8 L440.5 368.7 L440.8 368.7 L441.1 368.7 L441.4 368.7 L441.7 368.7 L442.0 368.7 L442.3 368.7 L442.6 368.7 L442.9 368.8 L443.2 368.8 L443.5 368.9 L443.8 368.9 L444.1 368.9 L444.4 369.0 L444.7 369.0 L445.0 369.0 L445.3 369.0 L445.6 369.1 L445.9 369.1 L446.2 369.1 L446.5 369.2 L446.8 369.2 L447.1 369.3 L447.4 369.3 L447.7 369.4 L448.0 369.5 L448.3 369.7 L448.6 369.8 L448.9 370.0 L449.2 370.2 L449.5 370.4 L449.8 370.6 L450.1 370.9 L450.4 371.1 L450.7 371.4 L451.0 371.8 L451.3 372.1 L451.6 372.5 L451.9 372.9 L452.2 373.4 L452.5 373.9 L452.8 374.4 L453.1 375.0 L453.4 375.6 L453.7 376.2 L454.0 377.0 L454.3 377.8 L454.6 378.6 L454.9 379.6 L455.2 380.6 L455.5 381.8 L455.8 383.1 L456.1 384.6 L456.4 386.4 L456.7 388.5 L457.0 391.1 L457.3 394.6 L457.6 399.5 L458.1 400.4 L458.1 419.6 L458.1 400.4 L458.8 397.4 L459.1 393.2 L459.4 390.2 L459.7 387.9 L460.0 386.0 L460.3 384.4 L460.6 383.0 L460.9 381.8 L461.2 380.7 L461.5 379.7 L461.8 378.9 L462.1 378.1 L462.4 377.4 L462.7 376.7 L463.0 376.1 L463.3 375.6 L463.6 375.1 L463.9 374.6 L464.2 374.2 L464.5 373.8 L464.8 373.4 L465.1 373.1 L465.4 372.8 L465.7 372.5 L466.0 372.2 L466.3 372.0 L466.6 371.8 L466.9 371.6 L467.2 371.4 L467.5 371.3 L467.8 371.2 L468.1 371.1 L468.4 371.0 L468.7 370.9 L469.0 370.8 L469.3 370.8 L469.6 370.8 L469.9 370.8 L470.2 370.8 L470.5 370.8 L470.8 370.8 L471.1 370.8 L471.4 370.8 L471.7 370.8 L472.0 370.8 L472.3 370.9 L472.6 370.9 L472.9 371.0 L473.2 371.1 L473.5 371.2 L473.8 371.3 L474.1 371.4 L474.4 371.5 L474.7 371.7 L475.0 371.8 L475.3 372.0 L475.6 372.2 L475.9 372.4 L476.2 372.6 L476.5 372.9 L476.8 373.1 L477.1 373.4 L477.4 373.7 L477.7 374.1 L478.0 374.4 L478.3 374.8 L478.6 375.2 L478.9 375.6 L479.2 376.1 L479.5 376.6 L479.8 377.1 L480.1 377.7 L480.4 378.3 L480.7 379.0 L481.0 379.7 L481.3 380.5 L481.6 381.4 L481.9 382.4 L482.2 383.6 L482.5 384.8 L482.8 386.3 L483.1 387.9 L483.4 389.9 L483.7 392.4 L484.0 395.6 L484.3 400.2 L484.9 401.9 L484.9 402.2 L484.9 401.9 L485.5 399.5 L485.8 395.0 L486.1 391.8 L486.4 389.4 L486.7 387.3 L487.0 385.6 L487.3 384.1 L487.6 382.8 L487.9 381.6 L488.2 380.6 L488.5 379.6 L488.8 378.8 L489.1 378.0 L489.4 377.2 L489.7 376.5 L490.0 375.9 L490.3 375.3 L490.6 374.8 L490.9 374.2 L491.2 373.8 L491.5 373.3 L491.8 372.9 L492.1 372.5 L492.4 372.1 L492.7 371.8 L493.0 371.4 L493.3 371.1 L493.6 370.8 L493.9 370.6 L494.2 370.3 L494.5 370.1 L494.8 369.9 L495.1 369.7 L495.4 369.5 L495.7 369.3 L496.0 369.2 L496.3 369.0 L496.6 368.9 L496.9 368.8 L497.2 368.7 L497.5 368.6 L497.8 368.6 L498.1 368.5 L498.4 368.5 L498.7 368.5 L499.0 368.5 L499.3 368.5 L499.6 368.5 L499.9 368.5 L500.2 368.5 L500.5 368.5 L500.8 368.6 L501.1 368.6 L501.4 368.7 L501.7 368.9 L502.0 369.0 L502.3 369.2 L502.6 369.4 L502.9 369.6 L503.2 369.8 L503.5 370.1 L503.8 370.4 L504.1 370.7 L504.4 371.1 L504.7 371.4 L505.0 371.8 L505.3 372.3 L505.6 372.7 L505.9 373.2 L506.2 373.7 L506.5 374.3 L506.8 374.8 L507.1 375.5 L507.4 376.1 L507.7 376.8 L508.0 377.6 L508.3 378.4 L508.6 379.2 L508.9 380.1 L509.2 381.1 L509.5 382.2 L509.8 383.4 L510.1 384.7 L510.4 386.1 L510.7 387.7 L511.0 389.6 L511.3 391.8 L511.6 394.4 L511.9 397.8 L512.2 402.6 L512.8 401.3 L512.8 432.4 L512.8 401.3 L513.4 396.0 L513.7 391.7 L514.0 388.7 L514.3 386.4 L514.6 384.6 L514.9 383.1 L515.2 381.9 L515.5 380.8 L515.8 379.9 L516.1 379.2 L516.4 378.5 L516.7 377.9 L517.0 377.4 L517.3 377.0 L517.6 376.6 L517.9 376.3 L518.2 376.0 L518.5 375.8 L518.8 375.7 L519.1 375.5 L519.4 375.5 L519.7 375.4 L520.0 375.4 L520.3 375.4 L520.6 375.4 L520.9 375.4 L521.2 375.4 L521.5 375.5 L521.8 375.5 L522.1 375.5 L522.4 375.6 L522.7 375.6 L523.0 375.7 L523.3 375.8 L523.6 375.8 L523.9 375.9 L524.2 376.1 L524.5 376.2 L524.8 376.3 L525.1 376.5 L525.4 376.6 L525.7 376.8 L526.0 377.0 L526.3 377.2 L526.6 377.4 L526.9 377.7 L527.2 378.0 L527.5 378.2 L527.8 378.6 L528.1 378.9 L528.4 379.3 L528.7 379.7 L529.0 380.1 L529.3 380.6 L529.6 381.1 L529.9 381.6 L530.2 382.3 L530.5 382.9 L530.8 383.7 L531.1 384.5 L531.4 385.4 L531.7 386.5 L532.0 387.6 L532.3 389.0 L532.6 390.6 L532.9 392.5 L533.2 394.8 L533.5 397.9 L533.8 400.1 L534.4 399.9 L534.4 399.9 L534.4 399.9 L535.0 399.7 L535.3 397.1 L535.6 393.7 L535.9 391.1 L536.2 388.9 L536.5 387.1 L536.8 385.6 L537.1 384.2 L537.4 382.9 L537.7 381.8 L538.0 380.8 L538.3 379.9 L538.6 379.0 L538.9 378.2 L539.2 377.5 L539.5 376.8 L539.8 376.1 L540.1 375.5 L540.4 375.0 L540.7 374.5 L541.0 374.0 L541.3 373.5 L541.6 373.1 L541.9 372.7 L542.2 372.3 L542.5 371.9 L542.8 371.6 L543.1 371.3 L543.4 371.0 L543.7 370.8 L544.0 370.5 L544.3 370.3 L544.6 370.1 L544.9 369.9 L545.2 369.8 L545.5 369.6 L545.8 369.5 L546.1 369.4 L546.4 369.3 L546.7 369.3 L547.0 369.2 L547.3 369.2 L547.6 369.2 L547.9 369.2 L548.2 369.2 L548.5 369.3 L548.8 369.4 L549.1 369.5 L549.4 369.7 L549.7 369.9 L550.0 370.1 L550.3 370.4 L550.6 370.7 L550.9 371.0 L551.2 371.4 L551.5 371.7 L551.8 372.2 L552.1 372.6 L552.4 373.2 L552.7 373.7 L553.0 374.3 L553.3 375.0 L553.6 375.7 L553.9 376.5 L554.2 377.3 L554.5 378.2 L554.8 379.2 L555.1 380.3 L555.4 381.6 L555.7 382.9 L556.0 384.5 L556.3 386.3 L556.6 388.4 L556.9 391.0 L557.2 394.4 L557.5 399.1 L558.1 399.8 L558.1 430.1 L558.1 399.8 L558.7 396.5 L559.0 392.1 L559.3 389.1 L559.6 386.8 L559.9 384.9 L560.2 383.4 L560.5 382.1 L560.8 381.0 L561.1 380.1 L561.4 379.2 L561.7 378.5 L562.0 377.9 L562.3 377.3 L562.6 376.8 L562.9 376.3 L563.2 376.0 L563.5 375.6 L563.8 375.3 L564.1 375.1 L564.4 374.9 L564.7 374.7 L565.0 374.5 L565.3 374.4 L565.6 374.3 L565.9 374.3 L566.2 374.3 L566.5 374.3 L566.8 374.3 L567.1 374.4 L567.4 374.5 L567.7 374.7 L568.0 374.9 L568.3 375.1 L568.6 375.4 L568.9 375.7 L569.2 376.0 L569.5 376.4 L569.8 376.9 L570.1 377.4 L570.4 378.0 L570.7 378.7 L571.0 379.4 L571.3 380.3 L571.6 381.2 L571.9 382.4 L572.2 383.6 L572.5 385.2 L572.8 387.0 L573.1 389.2 L573.4 392.1 L573.7 396.1 L574.4 402.3 L574.4 427.8 L574.4 402.3 L574.9 404.6 L575.2 399.5 L575.5 395.9 L575.8 393.2 L576.1 391.0 L576.4 389.2 L576.7 387.6 L577.0 386.2 L577.3 384.9 L577.6 383.8 L577.9 382.7 L578.2 381.8 L578.5 380.9 L578.8 380.1 L579.1 379.3 L579.4 378.6 L579.7 378.0 L580.0 377.3 L580.3 376.7 L580.6 376.2 L580.9 375.7 L581.2 375.2 L581.5 374.7 L581.8 374.3 L582.1 373.9 L582.4 373.5 L582.7 373.1 L583.0 372.7 L583.3 372.4 L583.6 372.1 L583.9 371.8 L584.2 371.5 L584.5 371.3 L584.8 371.0 L585.1 370.8 L585.4 370.6 L585.7 370.4 L586.0 370.2 L586.3 370.1 L586.6 369.9 L586.9 369.8 L587.2 369.7 L587.5 369.6 L587.8 369.5 L588.1 369.5 L588.4 369.4 L588.7 369.4 L589.0 369.3 L589.3 369.3 L589.6 369.3 L589.9 369.2 L590.2 369.2 L590.5 369.2 L590.8 369.2 L591.1 369.2 L591.4 369.2 L591.7 369.2 L592.0 369.2 L592.3 369.2 L592.6 369.3 L592.9 369.4 L593.2 369.6 L593.5 369.8 L593.8 370.1 L594.1 370.4 L594.4 370.8 L594.7 371.2 L595.0 371.7 L595.3 372.2 L595.6 372.8 L595.9 373.5 L596.2 374.2 L596.5 375.1 L596.8 376.0 L597.1 377.1 L597.4 378.2 L597.7 379.6 L598.0 381.2 L598.3 383.1 L598.6 385.3 L598.9 388.1 L599.2 391.9 L600.0 396.7 L600.0 423.1 L600.0 396.7 L600.7 392.4 L601.0 388.8 L601.3 386.1 L601.6 384.0 L601.9 382.2 L602.2 380.8 L602.5 379.6 L602.8 378.5 L603.1 377.6 L603.4 376.8 L603.7 376.1 L604.0 375.5 L604.3 375.0 L604.6 374.5 L604.9 374.1 L605.2 373.7 L605.5 373.4 L605.8 373.1 L606.1 372.9 L606.4 372.7 L606.7 372.6 L607.0 372.5 L607.3 372.4 L607.6 372.4 L607.9 372.4 L608.2 372.4 L608.5 372.5 L608.8 372.6 L609.1 372.7 L609.4 372.8 L609.7 373.0 L610.0 373.1 L610.3 373.3 L610.6 373.6 L610.9 373.8 L611.2 374.1 L611.5 374.4 L611.8 374.7 L612.1 375.1 L612.4 375.5 L612.7 375.9 L613.0 376.4 L613.3 376.9 L613.6 377.4 L613.9 378.0 L614.2 378.7 L614.5 379.4 L614.8 380.2 L615.1 381.1 L615.4 382.0 L615.7 383.1 L616.0 384.3 L616.3 385.6 L616.6 387.2 L616.9 388.1 L617.2 388.1 L617.5 388.1 L617.8 388.2 L618.6 388.2 L618.6 388.2 L618.6 388.2 L619.3 388.3 L619.6 388.3 L619.9 388.4 L620.2 388.2 L620.5 386.4 L620.8 384.9 L621.1 383.6 L621.4 382.4 L621.7 381.5 L622.0 380.6 L622.3 379.8 L622.6 379.1 L622.9 378.5 L623.2 377.9 L623.5 377.4 L623.8 376.9 L624.1 376.5 L624.4 376.2 L624.7 375.9 L625.0 375.6 L625.3 375.4 L625.6 375.2 L625.9 375.0 L626.2 374.9 L626.5 374.8 L626.8 374.7 L627.1 374.7 L627.4 374.7 L627.7 374.7 L628.0 374.8 L628.3 374.9 L628.6 375.1 L628.9 375.3 L629.2 375.5 L629.5 375.9 L629.8 376.2 L630.1 376.7 L630.4 377.1 L630.7 377.7 L631.0 378.3 L631.3 378.9 L631.6 379.7 L631.9 380.5 L632.2 381.4 L632.5 382.3 L632.8 383.4 L633.1 384.6 L633.4 385.9 L633.7 387.4 L634.0 389.1 L634.3 391.0 L634.6 393.4 L634.9 396.2 L635.2 400.0 L635.5 405.4 L636.0 402.6 L636.0 420.8 L636.0 402.6 L636.7 396.2 L637.0 392.5 L637.3 389.9 L637.6 387.9 L637.9 386.3 L638.2 385.1 L638.5 384.1 L638.8 383.3 L639.1 382.6 L639.4 382.1 L639.7 381.8 L640.0 381.5 L640.3 381.3 L640.6 381.3 L640.9 381.3 L641.2 381.5 L641.5 381.9 L641.8 382.6 L642.1 383.4 L642.4 384.6 L642.7 386.1 L643.0 388.2 L643.3 391.1 L643.6 395.7 L644.1 398.8 L644.1 419.6 L644.1 398.8 L644.8 397.8 L645.1 393.3 L645.4 390.0 L645.7 387.3 L646.0 385.1 L646.3 383.2 L646.6 381.5 L646.9 380.1 L647.2 378.8 L647.5 377.6 L647.8 376.6 L648.1 375.6 L648.4 374.8 L648.7 374.0 L649.0 373.4 L649.3 372.8 L649.6 372.4 L649.9 372.0 L650.2 371.7 L650.5 371.6 L650.8 371.7 L651.1 371.9 L651.4 372.3 L651.7 373.0 L652.0 373.9 L652.3 375.1 L652.6 376.8 L652.9 379.2 L653.2 382.7 L653.9 392.7 L653.9 439.4 L653.9 392.7 L654.7 393.8 L655.0 389.9 L655.3 386.9 L655.6 384.4 L655.9 382.3 L656.2 380.5 L656.5 378.9 L656.8 377.5 L657.1 376.2 L657.4 375.1 L657.7 374.0" fill="none" stroke="#ff00ff" stroke-width="2.5" stroke-linejoin="round" stroke-dasharray="9.3 2.2 1.7 2.2" clip-path="url(#c2)"/>
<path d="M127.0 447.4 L127.0 470.0M127.0 447.4 L127.6 436.9 L127.9 432.3 L128.2 429.1 L128.5 426.7 L128.8 424.8 L129.1 423.4 L129.4 422.2 L129.7 421.4 L130.0 420.8 L130.3 420.4 L130.6 420.6 L130.9 422.1 L131.2 425.4 L131.8 430.7 L131.8 457.0M131.8 430.7 L132.4 432.2 L132.7 427.7 L133.0 424.6 L133.3 422.4 L133.6 420.8 L133.9 419.6 L134.2 418.7 L134.5 418.2 L134.8 417.9 L135.1 418.0 L135.4 418.3 L135.7 419.0 L136.0 420.1 L136.3 421.6 L136.6 423.7 L136.9 426.9 L137.2 431.8 L137.7 430.3 L137.7 488.6M137.7 430.3 L138.4 425.1 L138.7 421.5 L139.0 419.1 L139.3 417.5 L139.6 416.5 L139.9 416.0 L140.2 416.1 L140.5 416.5 L140.8 417.4 L141.1 418.9 L141.4 421.2 L141.7 424.8 L142.4 427.3 L142.4 473.0M142.4 427.3 L143.2 421.5 L143.5 418.5 L143.8 416.6 L144.1 415.5 L144.4 415.1 L144.7 415.2 L145.0 416.0 L145.3 417.5 L145.6 419.9 L145.9 423.9 L146.5 428.5 L146.5 462.7M146.5 428.5 L147.1 429.1 L147.4 424.7 L147.7 421.7 L148.0 419.5 L148.3 417.8 L148.6 416.6 L148.9 415.7 L149.2 415.1 L149.5 414.7 L149.8 414.5 L150.1 414.9 L150.4 416.6 L150.7 420.1 L151.3 424.8 L151.3 466.9M151.3 424.8 L151.9 425.7 L152.2 421.5 L152.5 418.7 L152.8 416.9 L153.1 415.6 L153.4 414.9 L153.7 414.5 L154.0 414.6 L154.3 415.1 L154.6 416.0 L154.9 417.4 L155.2 419.5 L155.5 422.7 L155.8 427.7 L156.3 427.7 L156.3 460.0M156.3 427.7 L157.0 424.1 L157.3 420.5 L157.6 418.0 L157.9 416.4 L158.2 415.3 L158.5 414.7 L158.8 414.5 L159.1 414.7 L159.4 415.3 L159.7 416.4 L160.0 418.0 L160.3 420.5 L160.6 424.1 L161.3 429.8 L161.3 459.0M161.3 429.8 L162.1 426.8 L162.4 423.4 L162.7 421.0 L163.0 419.1 L163.3 417.7 L163.6 416.6 L163.9 415.8 L164.2 415.2 L164.5 414.8 L164.8 414.5 L165.1 414.5 L165.4 414.7 L165.7 415.1 L166.0 415.8 L166.3 416.8 L166.6 418.1 L166.9 419.9 L167.2 422.2 L167.5 425.5 L167.8 430.6 L168.3 431.0 L168.3 458.0M168.3 431.0 L169.0 427.7 L169.3 423.8 L169.6 421.1 L169.9 419.1 L170.2 417.6 L170.5 416.4 L170.8 415.5 L171.1 414.8 L171.4 414.4 L171.7 414.1 L172.0 414.1 L172.3 414.3 L172.6 414.6 L172.9 415.2 L173.2 416.1 L173.5 417.2 L173.8 418.7 L174.1 420.6 L174.4 423.3 L174.7 427.0 L175.4 430.7 L175.4 465.0M175.4 430.7 L176.2 425.5 L176.5 422.1 L176.8 419.6 L177.1 417.7 L177.4 416.3 L177.7 415.1 L178.0 414.3 L178.3 413.7 L178.6 413.2 L178.9 413.0 L179.2 413.0 L179.5 413.0 L179.8 413.2 L180.1 413.5 L180.4 413.8 L180.7 414.3 L181.0 415.0 L181.3 415.8 L181.6 416.9 L181.9 418.2 L182.2 419.8 L182.5 421.9 L182.8 424.8 L183.1 429.1 L183.7 432.3 L183.7 488.6M183.7 432.3 L184.3 431.4 L184.6 426.7 L184.9 423.3 L185.2 420.7 L185.5 418.5 L185.8 416.7 L186.1 415.1 L186.4 413.7 L186.7 412.5 L187.0 411.5 L187.3 410.5 L187.6 409.7 L187.9 408.9 L188.2 408.3 L188.5 407.7 L188.8 407.2 L189.1 406.8 L189.4 406.5 L189.7 406.2 L190.0 406.0 L190.3 406.0 L190.6 406.2 L190.9 406.8 L191.2 407.7 L191.5 409.1 L191.8 410.9 L192.1 413.7 L192.4 417.8 L193.0 422.3 L193.0 445.0M193.0 422.3 L193.6 422.7 L193.9 418.1 L194.2 414.8 L194.5 412.3 L194.8 410.3 L195.1 408.7 L195.4 407.3 L195.7 406.2 L196.0 405.2 L196.3 404.4 L196.6 403.8 L196.9 403.3 L197.2 402.9 L197.5 402.7 L197.8 402.5 L198.1 402.5 L198.4 402.6 L198.7 402.8 L199.0 403.1 L199.3 403.5 L199.6 404.0 L199.9 404.6 L200.2 405.4 L200.5 406.3 L200.8 407.4 L201.1 408.8 L201.4 410.3 L201.7 412.3 L202.0 414.7 L202.3 418.0 L202.6 422.5 L203.2 424.3 L203.2 444.5M203.2 424.3 L203.8 422.1 L204.1 417.7 L204.4 414.8 L204.7 412.5 L205.0 410.8 L205.3 409.5 L205.6 408.4 L205.9 407.5 L206.2 406.9 L206.5 406.4 L206.8 406.0 L207.1 405.7 L207.4 405.6 L207.7 405.6 L208.0 405.7 L208.3 405.9 L208.6 406.2 L208.9 406.6 L209.2 407.1 L209.5 407.7 L209.8 408.4 L210.1 409.2 L210.4 410.1 L210.7 411.1 L211.0 412.2 L211.3 413.4 L211.6 414.7 L211.9 416.1 L212.2 417.7 L212.5 419.5 L212.8 421.5 L213.1 423.9 L213.4 426.6 L213.7 429.9 L214.0 434.3 L214.7 434.7 L214.7 488.6M214.7 434.7 L215.5 426.3 L215.8 423.3 L216.1 421.2 L216.4 419.7 L216.7 418.6 L217.0 417.9 L217.3 417.4 L217.6 417.2 L217.9 417.3 L218.2 417.4 L218.5 417.6 L218.8 417.8 L219.1 418.1 L219.4 418.4 L219.7 418.8 L220.0 419.2 L220.3 419.7 L220.6 420.3 L220.9 420.9 L221.2 421.6 L221.5 422.4 L221.8 423.3 L222.1 424.4 L222.4 425.5 L222.7 426.9 L223.0 428.5 L223.3 430.4 L223.6 432.7 L223.9 435.6 L224.2 439.6 L224.9 441.5 L224.9 469.7M224.9 441.5 L225.7 434.6 L226.0 431.1 L226.3 428.6 L226.6 426.6 L226.9 425.0 L227.2 423.7 L227.5 422.6 L227.8 421.7 L228.1 421.0 L228.4 420.4 L228.7 419.9 L229.0 419.5 L229.3 419.3 L229.6 419.1 L229.9 419.0 L230.2 419.0 L230.5 419.0 L230.8 419.1 L231.1 419.2 L231.4 419.3 L231.7 419.5 L232.0 419.6 L232.3 419.8 L232.6 420.1 L232.9 420.4 L233.2 420.7 L233.5 421.0 L233.8 421.4 L234.1 421.9 L234.4 422.3 L234.7 422.9 L235.0 423.5 L235.3 424.1 L235.6 424.9 L235.9 425.7 L236.2 426.6 L236.5 427.6 L236.8 428.8 L237.1 430.1 L237.4 431.7 L237.7 433.5 L238.0 435.8 L238.3 438.7 L238.6 442.6 L239.3 443.6 L239.3 471.0M239.3 443.6 L240.1 435.6 L240.4 432.1 L240.7 429.4 L241.0 427.4 L241.3 425.7 L241.6 424.3 L241.9 423.1 L242.2 422.1 L242.5 421.2 L242.8 420.5 L243.1 419.8 L243.4 419.3 L243.7 418.9 L244.0 418.6 L244.3 418.3 L244.6 418.1 L244.9 418.0 L245.2 418.0 L245.5 418.0 L245.8 418.0 L246.1 418.0 L246.4 418.1 L246.7 418.2 L247.0 418.3 L247.3 418.5 L247.6 418.7 L247.9 419.0 L248.2 419.3 L248.5 419.7 L248.8 420.1 L249.1 420.7 L249.4 421.3 L249.7 422.0 L250.0 422.8 L250.3 423.8 L250.6 425.1 L250.9 426.5 L251.2 428.4 L251.5 430.8 L251.8 434.0 L252.1 439.0 L252.6 439.5 L252.6 477.0M252.6 439.5 L253.3 436.1 L253.6 431.9 L253.9 428.8 L254.2 426.3 L254.5 424.1 L254.8 422.3 L255.1 420.6 L255.4 419.1 L255.7 417.7 L256.0 416.5 L256.3 415.3 L256.6 414.2 L256.9 413.1 L257.2 412.2 L257.5 411.3 L257.8 410.4 L258.1 409.6 L258.4 408.9 L258.7 408.2 L259.0 407.6 L259.3 407.1 L259.6 406.6 L259.9 406.2 L260.2 405.8 L260.5 405.5 L260.8 405.3 L261.1 405.1 L261.4 405.0 L261.7 405.0 L262.0 405.0 L262.3 405.1 L262.6 405.2 L262.9 405.3 L263.2 405.5 L263.5 405.7 L263.8 405.9 L264.1 406.1 L264.4 406.4 L264.7 406.7 L265.0 407.0 L265.3 407.4 L265.6 407.7 L265.9 408.1 L266.2 408.6 L266.5 409.0 L266.8 409.5 L267.1 410.0 L267.4 410.5 L267.7 411.0 L268.0 411.6 L268.3 412.1 L268.6 412.7 L268.9 413.3 L269.2 414.0 L269.5 414.7 L269.8 415.5 L270.1 416.3 L270.4 417.2 L270.7 418.1 L271.0 419.1 L271.3 420.2 L271.6 421.4 L271.9 422.7 L272.2 424.0 L272.5 425.5 L272.8 427.1 L273.1 428.9 L273.4 430.9 L273.7 433.2 L274.0 435.8 L274.3 438.9 L274.6 442.9 L274.9 448.7 L275.4 446.3 L275.4 488.6M275.4 446.3 L276.1 440.5 L276.4 437.0 L276.7 434.6 L277.0 432.8 L277.3 431.4 L277.6 430.3 L277.9 429.4 L278.2 428.6 L278.5 428.0 L278.8 427.5 L279.1 427.1 L279.4 426.7 L279.7 426.5 L280.0 426.2 L280.3 426.0 L280.6 425.9 L280.9 425.8 L281.2 425.7 L281.5 425.6 L281.8 425.5 L282.1 425.5 L282.4 425.5 L282.7 425.5 L283.0 425.4 L283.3 425.4 L283.6 425.5 L283.9 425.5 L284.2 425.5 L284.5 425.6 L284.8 425.7 L285.1 425.9 L285.4 426.1 L285.7 426.3 L286.0 426.6 L286.3 426.9 L286.6 427.3 L286.9 427.8 L287.2 428.3 L287.5 429.0 L287.8 429.8 L288.1 430.8 L288.4 432.0 L288.7 433.5 L289.0 435.5 L289.3 438.1 L289.6 442.0 L290.2 447.6 L290.2 470.8M290.2 447.6 L290.8 449.2 L291.1 444.0 L291.4 440.3 L291.7 437.3 L292.0 434.7 L292.3 432.5 L292.6 430.6 L292.9 428.8 L293.2 427.2 L293.5 425.7 L293.8 424.3 L294.1 423.0 L294.4 421.8 L294.7 420.6 L295.0 419.5 L295.3 418.5 L295.6 417.5 L295.9 416.6 L296.2 415.7 L296.5 414.9 L296.8 414.1 L297.1 413.3 L297.4 412.6 L297.7 412.0 L298.0 411.3 L298.3 410.8 L298.6 410.2 L298.9 409.7 L299.2 409.1 L299.5 408.6 L299.8 408.1 L300.1 407.7 L300.4 407.2 L300.7 406.7 L301.0 406.3 L301.3 405.9 L301.6 405.5 L301.9 405.1 L302.2 404.7 L302.5 404.4 L302.8 404.1 L303.1 403.8 L303.4 403.5 L303.7 403.3 L304.0 403.0 L304.3 402.9 L304.6 402.7 L304.9 402.6 L305.2 402.4 L305.5 402.3 L305.8 402.3 L306.1 402.2 L306.4 402.2 L306.7 402.2 L307.0 402.2 L307.3 402.3 L307.6 402.3 L307.9 402.4 L308.2 402.5 L308.5 402.7 L308.8 402.8 L309.1 403.0 L309.4 403.2 L309.7 403.3 L310.0 403.6 L310.3 403.8 L310.6 404.0 L310.9 404.3 L311.2 404.5 L311.5 404.8 L311.8 405.1 L312.1 405.4 L312.4 405.6 L312.7 405.9 L313.0 406.3 L313.3 406.6 L313.6 406.9 L313.9 407.2 L314.2 407.5 L314.5 407.8 L314.8 408.2 L315.1 408.5 L315.4 408.8 L315.7 409.1 L316.0 409.4 L316.3 409.7 L316.6 410.0 L316.9 410.3 L317.2 410.6 L317.5 410.9 L317.8 411.2 L318.1 411.5 L318.4 411.7 L318.7 412.0 L319.0 412.2 L319.3 412.4 L319.6 412.6 L319.9 412.8 L320.2 413.0 L320.5 413.2 L320.8 413.3 L321.1 413.5 L321.4 413.6 L321.7 413.7 L322.0 413.7 L322.3 413.8 L322.6 413.8 L322.9 413.8 L323.2 413.8 L323.5 413.8 L323.8 413.7 L324.1 413.7 L324.4 413.6 L324.7 413.6 L325.0 413.5 L325.3 413.4 L325.6 413.3 L325.9 413.2 L326.2 413.1 L326.5 413.0 L326.8 412.9 L327.1 412.7 L327.4 412.6 L327.7 412.5 L328.0 412.3 L328.3 412.1 L328.6 412.0 L328.9 411.8 L329.2 411.6 L329.5 411.4 L329.8 411.3 L330.1 411.1 L330.4 410.9 L330.7 410.7 L331.0 410.5 L331.3 410.3 L331.6 410.1 L331.9 409.9 L332.2 409.7 L332.5 409.5 L332.8 409.2 L333.1 409.0 L333.4 408.8 L333.7 408.6 L334.0 408.4 L334.3 408.2 L334.6 408.0 L334.9 407.8 L335.2 407.6 L335.5 407.4 L335.8 407.2 L336.1 407.0 L336.4 406.8 L336.7 406.6 L337.0 406.4 L337.3 406.2 L337.6 406.1 L337.9 405.9 L338.2 405.7 L338.5 405.6 L338.8 405.4 L339.1 405.3 L339.4 405.1 L339.7 405.0 L340.0 404.9 L340.3 404.7 L340.6 404.6 L340.9 404.5 L341.2 404.4 L341.5 404.4 L341.8 404.3 L342.1 404.2 L342.4 404.2 L342.7 404.1 L343.0 404.1 L343.3 404.1 L343.6 404.0 L343.9 404.0 L344.2 404.0 L344.5 404.1 L344.8 404.1 L345.1 404.1 L345.4 404.1 L345.7 404.1 L346.0 404.1 L346.3 404.1 L346.6 404.1 L346.9 404.1 L347.2 404.1 L347.5 404.1 L347.8 404.1 L348.1 404.2 L348.4 404.2 L348.7 404.2 L349.0 404.2 L349.3 404.2 L349.6 404.2 L349.9 404.2 L350.2 404.3 L350.5 404.3 L350.8 404.3 L351.1 404.3 L351.4 404.3 L351.7 404.3 L352.0 404.3 L352.3 404.4 L352.6 404.4 L352.9 404.4 L353.2 404.4 L353.5 404.4 L353.8 404.4 L354.1 404.4 L354.4 404.4 L354.7 404.5 L355.0 404.5 L355.3 404.5 L355.6 404.5 L355.9 404.5 L356.2 404.5 L356.5 404.5 L356.8 404.5 L357.1 404.5 L357.4 404.5 L357.7 404.5 L358.0 404.5 L358.3 404.5 L358.6 404.4 L358.9 404.4 L359.2 404.3 L359.5 404.3 L359.8 404.2 L360.1 404.1 L360.4 404.0 L360.7 403.9 L361.0 403.8 L361.3 403.7 L361.6 403.5 L361.9 403.4 L362.2 403.2 L362.5 403.1 L362.8 402.9 L363.1 402.8 L363.4 402.6 L363.7 402.5 L364.0 402.3 L364.3 402.1 L364.6 402.0 L364.9 401.8 L365.2 401.7 L365.5 401.5 L365.8 401.3 L366.1 401.2 L366.4 401.0 L366.7 400.9 L367.0 400.7 L367.3 400.6 L367.6 400.4 L367.9 400.3 L368.2 400.2 L368.5 400.1 L368.8 399.9 L369.1 399.8 L369.4 399.7 L369.7 399.7 L370.0 399.6 L370.3 399.5 L370.6 399.5 L370.9 399.4 L371.2 399.4 L371.5 399.4 L371.8 399.4 L372.1 399.4 L372.4 399.5 L372.7 399.5 L373.0 399.6 L373.3 399.7 L373.6 399.8 L373.9 399.9 L374.2 400.1 L374.5 400.2 L374.8 400.4 L375.1 400.6 L375.4 400.8 L375.7 401.0 L376.0 401.2 L376.3 401.5 L376.6 401.7 L376.9 402.0 L377.2 402.2 L377.5 402.5 L377.8 402.8 L378.1 403.1 L378.4 403.4 L378.7 403.7 L379.0 404.0 L379.3 404.4 L379.6 404.7 L379.9 405.0 L380.2 405.4 L380.5 405.7 L380.8 406.1 L381.1 406.4 L381.4 406.8 L381.7 407.2 L382.0 407.5 L382.3 407.9 L382.6 408.3 L382.9 408.6 L383.2 409.0 L383.5 409.4 L383.8 409.7 L384.1 410.1 L384.4 410.4 L384.7 410.8 L385.0 411.1 L385.3 411.5 L385.6 411.8 L385.9 412.2 L386.2 412.5 L386.5 412.8 L386.8 413.1 L387.1 413.4 L387.4 413.7 L387.7 414.0 L388.0 414.3 L388.3 414.6 L388.6 414.9 L388.9 415.1 L389.2 415.4 L389.5 415.6 L389.8 415.8 L390.1 416.0 L390.4 416.2 L390.7 416.4 L391.0 416.6 L391.3 416.7 L391.6 416.8 L391.9 417.0 L392.2 417.1 L392.5 417.1 L392.8 417.2 L393.1 417.3 L393.4 417.3 L393.7 417.3 L394.0 417.3 L394.3 417.3 L394.6 417.2 L394.9 417.2 L395.2 417.1 L395.5 417.0 L395.8 416.9 L396.1 416.8 L396.4 416.7 L396.7 416.6 L397.0 416.4 L397.3 416.3 L397.6 416.1 L397.9 415.9 L398.2 415.8 L398.5 415.6 L398.8 415.5 L399.1 415.3 L399.4 415.2 L399.7 415.0 L400.0 414.9 L400.3 414.8 L400.6 414.7 L400.9 414.6 L401.2 414.6 L401.5 414.5 L401.8 414.5 L402.1 414.4 L402.4 414.4 L402.7 414.4 L403.0 414.5 L403.3 414.5 L403.6 414.6 L403.9 414.7 L404.2 414.8 L404.5 415.0 L404.8 415.2 L405.1 415.3 L405.4 415.5 L405.7 415.8 L406.0 416.0 L406.3 416.3 L406.6 416.6 L406.9 416.9 L407.2 417.3 L407.5 417.7 L407.8 418.2 L408.1 418.7 L408.4 419.4 L408.7 420.1 L409.0 421.0 L409.3 421.9 L409.6 423.1 L409.9 424.6 L410.2 426.3 L410.5 428.6 L410.8 431.7 L411.1 436.4 L411.6 434.8 L411.6 465.4M411.6 434.8 L412.3 429.1 L412.6 424.7 L412.9 421.3 L413.2 418.7 L413.5 416.4 L413.8 414.5 L414.1 412.8 L414.4 411.3 L414.7 409.9 L415.0 408.6 L415.3 407.4 L415.6 406.4 L415.9 405.4 L416.2 404.5 L416.5 403.6 L416.8 402.8 L417.1 402.1 L417.4 401.4 L417.7 400.8 L418.0 400.2 L418.3 399.6 L418.6 399.1 L418.9 398.7 L419.2 398.3 L419.5 397.9 L419.8 397.6 L420.1 397.3 L420.4 397.0 L420.7 396.8 L421.0 396.6 L421.3 396.5 L421.6 396.4 L421.9 396.4 L422.2 396.4 L422.5 396.4 L422.8 396.5 L423.1 396.6 L423.4 396.8 L423.7 397.1 L424.0 397.3 L424.3 397.7 L424.6 398.1 L424.9 398.5 L425.2 399.0 L425.5 399.5 L425.8 400.1 L426.1 400.7 L426.4 401.4 L426.7 402.2 L427.0 403.0 L427.3 403.9 L427.6 404.9 L427.9 406.0 L428.2 407.2 L428.5 408.5 L428.8 409.9 L429.1 411.5 L429.4 413.3 L429.7 415.4 L430.0 417.9 L430.3 420.9 L430.6 424.8 L431.4 433.2 L431.4 446.4M431.4 433.2 L432.1 432.4 L432.4 428.8 L432.7 426.2 L433.0 424.3 L433.3 422.8 L433.6 421.5 L433.9 420.4 L434.2 419.6 L434.5 418.8 L434.8 418.1 L435.1 417.6 L435.4 417.1 L435.7 416.7 L436.0 416.3 L436.3 416.0 L436.6 415.7 L436.9 415.4 L437.2 415.2 L437.5 415.0 L437.8 414.8 L438.1 414.6 L438.4 414.5 L438.7 414.4 L439.0 414.3 L439.3 414.1 L439.6 414.0 L439.9 414.0 L440.2 413.9 L440.5 413.8 L440.8 413.7 L441.1 413.6 L441.4 413.5 L441.7 413.5 L442.0 413.4 L442.3 413.3 L442.6 413.2 L442.9 413.1 L443.2 413.0 L443.5 412.9 L443.8 412.7 L444.1 412.5 L444.4 412.3 L444.7 412.1 L445.0 411.8 L445.3 411.5 L445.6 411.2 L445.9 410.9 L446.2 410.6 L446.5 410.2 L446.8 409.8 L447.1 409.4 L447.4 408.9 L447.7 408.5 L448.0 408.0 L448.3 407.5 L448.6 407.0 L448.9 406.4 L449.2 405.9 L449.5 405.3 L449.8 404.8 L450.1 404.2 L450.4 403.7 L450.7 403.1 L451.0 402.5 L451.3 401.9 L451.6 401.3 L451.9 400.8 L452.2 400.2 L452.5 399.6 L452.8 399.1 L453.1 398.5 L453.4 398.0 L453.7 397.5 L454.0 396.9 L454.3 396.4 L454.6 396.0 L454.9 395.5 L455.2 395.0 L455.5 394.6 L455.8 394.2 L456.1 393.8 L456.4 393.5 L456.7 393.2 L457.0 392.9 L457.3 392.6 L457.6 392.4 L457.9 392.2 L458.2 392.0 L458.5 391.9 L458.8 391.9 L459.1 391.9 L459.4 392.0 L459.7 392.2 L460.0 392.5 L460.3 392.8 L460.6 393.3 L460.9 393.8 L461.2 394.4 L461.5 395.1 L461.8 395.9 L462.1 396.7 L462.4 397.5 L462.7 398.5 L463.0 399.4 L463.3 400.5 L463.6 401.6 L463.9 402.7 L464.2 403.9 L464.5 405.1 L464.8 406.4 L465.1 407.7 L465.4 409.0 L465.7 410.5 L466.0 412.0 L466.3 413.5 L466.6 415.2 L466.9 417.0 L467.2 419.0 L467.5 421.2 L467.8 423.7 L468.1 426.9 L468.4 431.1 L469.1 432.0 L469.1 441.7M469.1 432.0 L469.6 428.9 L469.9 423.6 L470.2 419.8 L470.5 416.8 L470.8 414.3 L471.1 412.1 L471.4 410.1 L471.7 408.2 L472.0 406.5 L472.3 405.0 L472.6 403.5 L472.9 402.1 L473.2 400.8 L473.5 399.6 L473.8 398.5 L474.1 397.5 L474.4 396.6 L474.7 395.7 L475.0 395.0 L475.3 394.3 L475.6 393.8 L475.9 393.4 L476.2 393.1 L476.5 392.9 L476.8 392.9 L477.1 392.9 L477.4 393.1 L477.7 393.3 L478.0 393.5 L478.3 393.9 L478.6 394.3 L478.9 394.8 L479.2 395.3 L479.5 395.9 L479.8 396.5 L480.1 397.2 L480.4 397.9 L480.7 398.7 L481.0 399.6 L481.3 400.5 L481.6 401.4 L481.9 402.4 L482.2 403.4 L482.5 404.5 L482.8 405.6 L483.1 406.8 L483.4 408.0 L483.7 409.3 L484.0 410.6 L484.3 412.0 L484.6 413.4 L484.9 415.0 L485.2 416.6 L485.5 418.4 L485.8 420.3 L486.1 422.4 L486.4 424.9 L486.7 427.7 L487.0 431.2 L487.3 436.0 L487.9 431.8 L487.9 446.4M487.9 431.8 L488.5 423.5 L488.8 419.2 L489.1 416.3 L489.4 414.3 L489.7 412.8 L490.0 411.7 L490.3 410.9 L490.6 410.4 L490.9 410.1 L491.2 410.1 L491.5 410.2 L491.8 410.3 L492.1 410.5 L492.4 410.6 L492.7 410.9 L493.0 411.1 L493.3 411.4 L493.6 411.7 L493.9 412.0 L494.2 412.4 L494.5 412.8 L494.8 413.2 L495.1 413.7 L495.4 414.2 L495.7 414.8 L496.0 415.5 L496.3 416.3 L496.6 417.3 L496.9 418.5 L497.2 419.9 L497.5 421.8 L497.8 424.1 L498.1 427.5 L498.8 433.6 L498.8 454.5M498.8 433.6 L499.6 430.6 L499.9 426.4 L500.2 423.1 L500.5 420.4 L500.8 418.0 L501.1 415.9 L501.4 414.1 L501.7 412.3 L502.0 410.7 L502.3 409.2 L502.6 407.8 L502.9 406.5 L503.2 405.2 L503.5 404.0 L503.8 402.8 L504.1 401.7 L504.4 400.7 L504.7 399.7 L505.0 398.7 L505.3 397.8 L505.6 396.9 L505.9 396.0 L506.2 395.2 L506.5 394.4 L506.8 393.7 L507.1 393.0 L507.4 392.3 L507.7 391.7 L508.0 391.1 L508.3 390.5 L508.6 390.0 L508.9 389.5 L509.2 389.1 L509.5 388.7 L509.8 388.3 L510.1 388.0 L510.4 387.7 L510.7 387.5 L511.0 387.3 L511.3 387.2 L511.6 387.1 L511.9 387.0 L512.2 387.0 L512.5 387.0 L512.8 387.0 L513.1 387.1 L513.4 387.2 L513.7 387.4 L514.0 387.6 L514.3 387.8 L514.6 388.0 L514.9 388.4 L515.2 388.7 L515.5 389.1 L515.8 389.6 L516.1 390.1 L516.4 390.7 L516.7 391.3 L517.0 392.1 L517.3 392.9 L517.6 393.9 L517.9 395.0 L518.2 396.2 L518.5 397.7 L518.8 399.4 L519.1 401.5 L519.4 404.2 L519.7 407.9 L520.5 412.4 L520.5 432.4M520.5 412.4 L521.2 407.8 L521.5 404.0 L521.8 401.1 L522.1 398.9 L522.4 397.0 L522.7 395.5 L523.0 394.1 L523.3 392.9 L523.6 391.9 L523.9 391.0 L524.2 390.1 L524.5 389.4 L524.8 388.7 L525.1 388.1 L525.4 387.6 L525.7 387.1 L526.0 386.7 L526.3 386.3 L526.6 386.0 L526.9 385.7 L527.2 385.4 L527.5 385.2 L527.8 385.1 L528.1 384.9 L528.4 384.8 L528.7 384.8 L529.0 384.7 L529.3 384.8 L529.6 384.8 L529.9 385.0 L530.2 385.2 L530.5 385.5 L530.8 385.8 L531.1 386.2 L531.4 386.6 L531.7 387.1 L532.0 387.7 L532.3 388.3 L532.6 389.0 L532.9 389.7 L533.2 390.5 L533.5 391.3 L533.8 392.2 L534.1 393.1 L534.4 394.1 L534.7 395.2 L535.0 396.3 L535.3 397.5 L535.6 398.8 L535.9 400.1 L536.2 401.5 L536.5 403.1 L536.8 404.7 L537.1 406.5 L537.4 408.5 L537.7 410.7 L538.0 413.1 L538.3 416.1 L538.6 419.7 L538.9 424.5 L539.5 423.6 L539.5 462.7M539.5 423.6 L540.1 418.6 L540.4 414.3 L540.7 411.5 L541.0 409.5 L541.3 408.0 L541.6 406.8 L541.9 405.9 L542.2 405.2 L542.5 404.6 L542.8 404.1 L543.1 403.8 L543.4 403.6 L543.7 403.4 L544.0 403.4 L544.3 403.4 L544.6 403.4 L544.9 403.4 L545.2 403.5 L545.5 403.6 L545.8 403.8 L546.1 404.0 L546.4 404.3 L546.7 404.6 L547.0 405.0 L547.3 405.4 L547.6 405.9 L547.9 406.5 L548.2 407.1 L548.5 407.7 L548.8 408.5 L549.1 409.3 L549.4 410.1 L549.7 411.1 L550.0 412.1 L550.3 413.2 L550.6 414.5 L550.9 415.9 L551.2 417.4 L551.5 419.2 L551.8 421.2 L552.1 423.7 L552.4 426.6 L552.7 430.5 L553.5 433.5 L553.5 455.7M553.5 433.5 L554.2 427.5 L554.5 423.9 L554.8 421.3 L555.1 419.3 L555.4 417.8 L555.7 416.5 L556.0 415.5 L556.3 414.6 L556.6 413.9 L556.9 413.4 L557.2 412.9 L557.5 412.5 L557.8 412.1 L558.1 411.9 L558.4 411.7 L558.7 411.6 L559.0 411.5 L559.3 411.5 L559.6 411.5 L559.9 411.6 L560.2 411.8 L560.5 412.0 L560.8 412.3 L561.1 412.7 L561.4 413.3 L561.7 413.9 L562.0 414.7 L562.3 415.7 L562.6 416.9 L562.9 418.4 L563.2 420.5 L563.5 423.3 L563.8 427.6 L564.4 433.6 L564.4 468.5M564.4 433.6 L565.0 435.5 L565.3 430.7 L565.6 427.1 L565.9 424.1 L566.2 421.6 L566.5 419.4 L566.8 417.4 L567.1 415.6 L567.4 413.9 L567.7 412.4 L568.0 410.9 L568.3 409.5 L568.6 408.2 L568.9 406.9 L569.2 405.7 L569.5 404.6 L569.8 403.4 L570.1 402.4 L570.4 401.4 L570.7 400.4 L571.0 399.4 L571.3 398.5 L571.6 397.6 L571.9 396.8 L572.2 396.0 L572.5 395.3 L572.8 394.5 L573.1 393.8 L573.4 393.2 L573.7 392.6 L574.0 392.0 L574.3 391.5 L574.6 391.0 L574.9 390.5 L575.2 390.1 L575.5 389.7 L575.8 389.4 L576.1 389.1 L576.4 388.8 L576.7 388.6 L577.0 388.4 L577.3 388.3 L577.6 388.3 L577.9 388.2 L578.2 388.2 L578.5 388.2 L578.8 388.3 L579.1 388.3 L579.4 388.3 L579.7 388.3 L580.0 388.4 L580.3 388.4 L580.6 388.5 L580.9 388.5 L581.2 388.6 L581.5 388.7 L581.8 388.8 L582.1 389.0 L582.4 389.1 L582.7 389.3 L583.0 389.5 L583.3 389.7 L583.6 389.9 L583.9 390.1 L584.2 390.4 L584.5 390.7 L584.8 391.0 L585.1 391.3 L585.4 391.6 L585.7 392.0 L586.0 392.3 L586.3 392.7 L586.6 393.2 L586.9 393.6 L587.2 394.1 L587.5 394.5 L587.8 395.1 L588.1 395.6 L588.4 396.2 L588.7 396.8 L589.0 397.4 L589.3 398.1 L589.6 398.8 L589.9 399.6 L590.2 400.4 L590.5 401.3 L590.8 402.3 L591.1 403.3 L591.4 404.4 L591.7 405.6 L592.0 406.9 L592.3 408.4 L592.6 410.1 L592.9 412.0 L593.2 414.3 L593.5 417.1 L593.8 420.8 L594.1 426.2 L594.6 426.5 L594.6 459.2M594.6 426.5 L595.3 423.2 L595.6 419.3 L595.9 416.5 L596.2 414.3 L596.5 412.6 L596.8 411.1 L597.1 409.8 L597.4 408.7 L597.7 407.7 L598.0 406.9 L598.3 406.1 L598.6 405.4 L598.9 404.7 L599.2 404.2 L599.5 403.6 L599.8 403.1 L600.1 402.7 L600.4 402.3 L600.7 401.9 L601.0 401.5 L601.3 401.2 L601.6 400.9 L601.9 400.6 L602.2 400.3 L602.5 400.0 L602.8 399.8 L603.1 399.6 L603.4 399.4 L603.7 399.2 L604.0 399.0 L604.3 398.8 L604.6 398.7 L604.9 398.5 L605.2 398.4 L605.5 398.2 L605.8 398.1 L606.1 398.0 L606.4 397.9 L606.7 397.8 L607.0 397.7 L607.3 397.6 L607.6 397.5 L607.9 397.5 L608.2 397.4 L608.5 397.4 L608.8 397.4 L609.1 397.3 L609.4 397.3 L609.7 397.3 L610.0 397.2 L610.3 397.2 L610.6 397.1 L610.9 397.1 L611.2 397.0 L611.5 397.0 L611.8 396.9 L612.1 396.9 L612.4 396.8 L612.7 396.8 L613.0 396.7 L613.3 396.7 L613.6 396.6 L613.9 396.6 L614.2 396.5 L614.5 396.5 L614.8 396.4 L615.1 396.4 L615.4 396.3 L615.7 396.3 L616.0 396.3 L616.3 396.3 L616.6 396.3 L616.9 396.3 L617.2 396.4 L617.5 396.5 L617.8 396.6 L618.1 396.7 L618.4 396.8 L618.7 397.0 L619.0 397.2 L619.3 397.4 L619.6 397.7 L619.9 398.0 L620.2 398.3 L620.5 398.6 L620.8 399.0 L621.1 399.5 L621.4 400.0 L621.7 400.6 L622.0 401.2 L622.3 402.0 L622.6 402.8 L622.9 403.8 L623.2 404.9 L623.5 406.2 L623.8 407.8 L624.1 409.7 L624.4 412.1 L624.7 415.3 L625.0 420.1 L625.5 422.1 L625.5 451.0M625.5 422.1 L626.2 420.1 L626.5 415.8 L626.8 412.6 L627.1 410.0 L627.4 407.9 L627.7 406.0 L628.0 404.4 L628.3 403.0 L628.6 401.7 L628.9 400.5 L629.2 399.4 L629.5 398.4 L629.8 397.5 L630.1 396.6 L630.4 395.8 L630.7 395.0 L631.0 394.2 L631.3 393.6 L631.6 392.9 L631.9 392.3 L632.2 391.7 L632.5 391.1 L632.8 390.6 L633.1 390.1 L633.4 389.6 L633.7 389.2 L634.0 388.8 L634.3 388.4 L634.6 388.0 L634.9 387.7 L635.2 387.3 L635.5 387.0 L635.8 386.7 L636.1 386.5 L636.4 386.2 L636.7 386.0 L637.0 385.8 L637.3 385.6 L637.6 385.4 L637.9 385.3 L638.2 385.1 L638.5 385.0 L638.8 384.9 L639.1 384.9 L639.4 384.8 L639.7 384.8 L640.0 384.8 L640.3 384.7 L640.6 384.7 L640.9 384.8 L641.2 384.8 L641.5 385.0 L641.8 385.2 L642.1 385.4 L642.4 385.7 L642.7 386.1 L643.0 386.5 L643.3 386.9 L643.6 387.4 L643.9 387.9 L644.2 388.4 L644.5 388.9 L644.8 389.5 L645.1 390.1 L645.4 390.7 L645.7 391.4 L646.0 392.0 L646.3 392.7 L646.6 393.3 L646.9 394.0 L647.2 394.6 L647.5 395.2 L647.8 395.9 L648.1 396.5 L648.4 397.1 L648.7 397.7 L649.0 398.3 L649.3 398.8 L649.6 399.3 L649.9 399.8 L650.2 400.2 L650.5 400.7 L650.8 401.1 L651.1 401.6 L651.4 402.0 L651.7 402.5 L652.0 402.9 L652.3 403.4 L652.6 403.8 L652.9 404.2 L653.2 404.7 L653.5 405.1 L653.8 405.5 L654.1 406.0 L654.4 406.4 L654.7 406.8 L655.0 407.2 L655.3 407.7 L655.6 408.1 L655.9 408.5 L656.2 408.9 L656.5 409.3 L656.8 409.7 L657.1 410.1 L657.4 410.6 L657.7 411.0" fill="none" stroke="#ff0000" stroke-width="2.5" stroke-linejoin="round" stroke-dasharray="1.45 1.4" clip-path="url(#c2)"/>
<path d="M126.7 442.1 L127.0 443.1 L127.3 444.3 L127.6 445.7 L127.9 447.4 L128.2 449.6 L128.5 452.6 L128.8 456.8 L129.4 446.1 L129.4 481.6M129.4 446.1 L130.0 431.5 L130.3 427.6 L130.6 425.6 L130.9 424.8 L131.2 425.1 L131.5 426.7 L131.8 430.1 L132.4 434.5 L132.4 455.7M132.4 434.5 L133.0 435.1 L133.3 430.7 L133.6 427.9 L133.9 425.8 L134.2 424.5 L134.5 423.6 L134.8 423.1 L135.1 423.0 L135.4 423.6 L135.7 424.8 L136.0 426.9 L136.3 430.3 L137.0 434.9 L137.0 465.0M137.0 434.9 L137.8 431.1 L138.1 428.0 L138.4 425.9 L138.7 424.4 L139.0 423.5 L139.3 423.0 L139.6 423.0 L139.9 423.3 L140.2 424.1 L140.5 425.3 L140.8 427.2 L141.1 429.9 L141.4 434.1 L142.0 437.1 L142.0 470.0M142.0 437.1 L142.6 436.1 L142.9 431.8 L143.2 428.9 L143.5 426.8 L143.8 425.3 L144.1 424.2 L144.4 423.5 L144.7 423.0 L145.0 422.9 L145.3 423.0 L145.6 423.5 L145.9 424.2 L146.2 425.3 L146.5 426.8 L146.8 428.8 L147.1 431.7 L147.4 436.0 L148.0 438.0 L148.0 462.0M148.0 438.0 L148.6 436.0 L148.9 431.7 L149.2 428.8 L149.5 426.8 L149.8 425.2 L150.1 424.2 L150.4 423.4 L150.7 423.0 L151.0 422.9 L151.3 423.0 L151.6 423.4 L151.9 424.2 L152.2 425.2 L152.5 426.7 L152.8 428.8 L153.1 431.7 L153.4 436.0 L154.0 438.0 L154.0 465.0M154.0 438.0 L154.6 436.0 L154.9 431.7 L155.2 428.8 L155.5 426.7 L155.8 425.2 L156.1 424.1 L156.4 423.4 L156.7 423.0 L157.0 422.9 L157.3 423.0 L157.6 423.4 L157.9 424.1 L158.2 425.2 L158.5 426.7 L158.8 428.8 L159.1 431.7 L159.4 436.0 L160.0 438.5 L160.0 473.0M160.0 438.5 L160.6 437.0 L160.9 432.7 L161.2 429.7 L161.5 427.6 L161.8 426.0 L162.1 424.8 L162.4 423.9 L162.7 423.3 L163.0 423.0 L163.3 422.8 L163.6 423.0 L163.9 423.3 L164.2 423.9 L164.5 424.8 L164.8 426.0 L165.1 427.6 L165.4 429.7 L165.7 432.7 L166.0 437.0 L166.6 438.9 L166.6 470.0M166.6 438.9 L167.2 436.7 L167.5 432.4 L167.8 429.4 L168.1 427.3 L168.4 425.7 L168.7 424.6 L169.0 423.7 L169.3 423.2 L169.6 422.9 L169.9 422.8 L170.2 423.0 L170.5 423.5 L170.8 424.2 L171.1 425.3 L171.4 426.7 L171.7 428.6 L172.0 431.3 L172.3 435.0 L173.0 439.2 L173.0 464.0M173.0 439.2 L173.8 434.5 L174.1 431.2 L174.4 428.8 L174.7 427.0 L175.0 425.6 L175.3 424.5 L175.6 423.8 L175.9 423.2 L176.2 422.9 L176.5 422.8 L176.8 422.9 L177.1 423.2 L177.4 423.7 L177.7 424.5 L178.0 425.6 L178.3 426.9 L178.6 428.8 L178.9 431.2 L179.2 434.5 L179.5 439.6 L180.0 440.2 L180.0 480.0M180.0 440.2 L180.7 437.1 L181.0 433.3 L181.3 430.5 L181.6 428.5 L181.9 426.9 L182.2 425.6 L182.5 424.7 L182.8 423.9 L183.1 423.4 L183.4 423.0 L183.7 422.8 L184.0 422.8 L184.3 422.9 L184.6 423.2 L184.9 423.7 L185.2 424.4 L185.5 425.3 L185.8 426.4 L186.1 427.9 L186.4 429.8 L186.7 432.2 L187.0 435.6 L187.3 440.8 L187.8 437.9 L187.8 471.0M187.8 437.9 L188.5 431.5 L188.8 427.9 L189.1 425.6 L189.4 424.1 L189.7 423.1 L190.0 422.7 L190.3 422.7 L190.6 422.8 L190.9 422.9 L191.2 423.2 L191.5 423.5 L191.8 423.9 L192.1 424.5 L192.4 425.1 L192.7 425.9 L193.0 426.8 L193.3 427.9 L193.6 429.2 L193.9 430.9 L194.2 433.0 L194.5 435.7 L194.8 439.5 L195.5 442.2 L195.5 484.0M195.5 442.2 L196.3 436.0 L196.6 432.4 L196.9 429.7 L197.2 427.6 L197.5 425.8 L197.8 424.4 L198.1 423.2 L198.4 422.1 L198.7 421.3 L199.0 420.6 L199.3 420.0 L199.6 419.5 L199.9 419.2 L200.2 419.0 L200.5 418.8 L200.8 418.8 L201.1 418.9 L201.4 419.2 L201.7 419.5 L202.0 420.0 L202.3 420.7 L202.6 421.5 L202.9 422.6 L203.2 424.0 L203.5 425.7 L203.8 427.9 L204.1 430.8 L204.4 435.2 L205.0 436.0 L205.0 488.6M205.0 436.0 L205.6 432.9 L205.9 428.4 L206.2 425.2 L206.5 422.9 L206.8 421.1 L207.1 419.6 L207.4 418.5 L207.7 417.6 L208.0 416.9 L208.3 416.5 L208.6 416.1 L208.9 416.0 L209.2 416.0 L209.5 416.1 L209.8 416.1 L210.1 416.3 L210.4 416.5 L210.7 416.7 L211.0 416.9 L211.3 417.3 L211.6 417.6 L211.9 418.0 L212.2 418.5 L212.5 419.0 L212.8 419.6 L213.1 420.3 L213.4 421.1 L213.7 421.9 L214.0 422.9 L214.3 424.0 L214.6 425.2 L214.9 426.6 L215.2 428.3 L215.5 430.3 L215.8 432.8 L216.1 436.0 L216.4 440.5 L217.0 441.0 L217.0 459.0M217.0 441.0 L217.6 437.5 L217.9 433.0 L218.2 429.9 L218.5 427.5 L218.8 425.6 L219.1 424.1 L219.4 422.8 L219.7 421.7 L220.0 420.8 L220.3 420.0 L220.6 419.3 L220.9 418.7 L221.2 418.2 L221.5 417.9 L221.8 417.5 L222.1 417.3 L222.4 417.1 L222.7 417.0 L223.0 417.0 L223.3 417.0 L223.6 417.1 L223.9 417.1 L224.2 417.3 L224.5 417.4 L224.8 417.6 L225.1 417.9 L225.4 418.2 L225.7 418.5 L226.0 418.9 L226.3 419.4 L226.6 419.9 L226.9 420.5 L227.2 421.2 L227.5 422.1 L227.8 423.0 L228.1 424.2 L228.4 425.5 L228.7 427.2 L229.0 429.3 L229.3 432.0 L229.6 435.7 L230.3 438.6 L230.3 464.3M230.3 438.6 L231.1 432.4 L231.4 428.7 L231.7 425.8 L232.0 423.6 L232.3 421.7 L232.6 420.1 L232.9 418.7 L233.2 417.4 L233.5 416.4 L233.8 415.4 L234.1 414.5 L234.4 413.8 L234.7 413.1 L235.0 412.5 L235.3 412.0 L235.6 411.6 L235.9 411.3 L236.2 411.0 L236.5 410.7 L236.8 410.6 L237.1 410.5 L237.4 410.4 L237.7 410.4 L238.0 410.4 L238.3 410.4 L238.6 410.5 L238.9 410.6 L239.2 410.8 L239.5 410.9 L239.8 411.1 L240.1 411.4 L240.4 411.7 L240.7 412.0 L241.0 412.4 L241.3 412.9 L241.6 413.4 L241.9 414.0 L242.2 414.6 L242.5 415.4 L242.8 416.2 L243.1 417.2 L243.4 418.3 L243.7 419.6 L244.0 421.0 L244.3 422.8 L244.6 425.0 L244.9 427.9 L245.2 431.8 L245.9 435.5 L245.9 452.9M245.9 435.5 L246.7 430.2 L247.0 426.6 L247.3 423.9 L247.6 421.7 L247.9 419.9 L248.2 418.3 L248.5 417.0 L248.8 415.8 L249.1 414.7 L249.4 413.8 L249.7 413.0 L250.0 412.2 L250.3 411.5 L250.6 410.9 L250.9 410.3 L251.2 409.8 L251.5 409.4 L251.8 409.0 L252.1 408.6 L252.4 408.3 L252.7 408.0 L253.0 407.7 L253.3 407.5 L253.6 407.4 L253.9 407.2 L254.2 407.1 L254.5 407.0 L254.8 407.0 L255.1 407.0 L255.4 407.0 L255.7 407.1 L256.0 407.2 L256.3 407.3 L256.6 407.5 L256.9 407.7 L257.2 408.0 L257.5 408.3 L257.8 408.6 L258.1 409.0 L258.4 409.4 L258.7 409.9 L259.0 410.4 L259.3 410.9 L259.6 411.6 L259.9 412.3 L260.2 413.1 L260.5 413.9 L260.8 414.9 L261.1 415.9 L261.4 417.2 L261.7 418.5 L262.0 420.1 L262.3 421.9 L262.6 424.1 L262.9 426.9 L263.2 430.5 L263.5 435.8 L264.0 437.4 L264.0 456.5M264.0 437.4 L264.7 435.2 L265.0 431.4 L265.3 428.5 L265.6 426.3 L265.9 424.5 L266.2 423.0 L266.5 421.7 L266.8 420.6 L267.1 419.6 L267.4 418.8 L267.7 418.0 L268.0 417.3 L268.3 416.7 L268.6 416.1 L268.9 415.6 L269.2 415.1 L269.5 414.7 L269.8 414.3 L270.1 414.0 L270.4 413.6 L270.7 413.4 L271.0 413.1 L271.3 412.9 L271.6 412.7 L271.9 412.5 L272.2 412.3 L272.5 412.2 L272.8 412.1 L273.1 412.0 L273.4 411.9 L273.7 411.8 L274.0 411.8 L274.3 411.7 L274.6 411.7 L274.9 411.7 L275.2 411.8 L275.5 411.8 L275.8 411.9 L276.1 411.9 L276.4 412.0 L276.7 412.1 L277.0 412.1 L277.3 412.2 L277.6 412.3 L277.9 412.3 L278.2 412.4 L278.5 412.5 L278.8 412.5 L279.1 412.6 L279.4 412.7 L279.7 412.7 L280.0 412.8 L280.3 412.9 L280.6 412.9 L280.9 413.0 L281.2 413.0 L281.5 413.1 L281.8 413.2 L282.1 413.2 L282.4 413.3 L282.7 413.3 L283.0 413.4 L283.3 413.4 L283.6 413.5 L283.9 413.5 L284.2 413.5 L284.5 413.6 L284.8 413.6 L285.1 413.7 L285.4 413.7 L285.7 413.7 L286.0 413.7 L286.3 413.8 L286.6 413.8 L286.9 413.8 L287.2 413.8 L287.5 413.8 L287.8 413.8 L288.1 413.8 L288.4 413.8 L288.7 413.8 L289.0 413.8 L289.3 413.8 L289.6 413.7 L289.9 413.7 L290.2 413.7 L290.5 413.8 L290.8 413.8 L291.1 413.8 L291.4 413.8 L291.7 413.8 L292.0 413.9 L292.3 413.9 L292.6 414.0 L292.9 414.1 L293.2 414.1 L293.5 414.2 L293.8 414.3 L294.1 414.5 L294.4 414.6 L294.7 414.7 L295.0 414.9 L295.3 415.1 L295.6 415.3 L295.9 415.5 L296.2 415.8 L296.5 416.0 L296.8 416.3 L297.1 416.7 L297.4 417.1 L297.7 417.5 L298.0 417.9 L298.3 418.4 L298.6 419.0 L298.9 419.7 L299.2 420.4 L299.5 421.2 L299.8 422.1 L300.1 423.2 L300.4 424.4 L300.7 425.9 L301.0 427.6 L301.3 429.8 L301.6 432.6 L301.9 436.7 L302.6 437.3 L302.6 462.7M302.6 437.3 L303.1 434.1 L303.4 429.0 L303.7 425.4 L304.0 422.6 L304.3 420.4 L304.6 418.5 L304.9 416.9 L305.2 415.4 L305.5 414.2 L305.8 413.0 L306.1 412.0 L306.4 411.0 L306.7 410.2 L307.0 409.4 L307.3 408.6 L307.6 408.0 L307.9 407.4 L308.2 406.8 L308.5 406.3 L308.8 405.8 L309.1 405.4 L309.4 405.1 L309.7 404.7 L310.0 404.4 L310.3 404.2 L310.6 403.9 L310.9 403.7 L311.2 403.6 L311.5 403.5 L311.8 403.4 L312.1 403.4 L312.4 403.3 L312.7 403.4 L313.0 403.4 L313.3 403.5 L313.6 403.6 L313.9 403.7 L314.2 403.8 L314.5 404.0 L314.8 404.1 L315.1 404.4 L315.4 404.6 L315.7 404.8 L316.0 405.1 L316.3 405.4 L316.6 405.8 L316.9 406.2 L317.2 406.6 L317.5 407.0 L317.8 407.5 L318.1 408.0 L318.4 408.5 L318.7 409.1 L319.0 409.7 L319.3 410.4 L319.6 411.1 L319.9 411.9 L320.2 412.8 L320.5 413.7 L320.8 414.8 L321.1 415.9 L321.4 417.2 L321.7 418.7 L322.0 420.3 L322.3 422.2 L322.6 424.5 L322.9 427.4 L323.2 431.2 L324.0 435.5 L324.0 453.3M324.0 435.5 L324.7 430.6 L325.0 427.0 L325.3 424.3 L325.6 422.1 L325.9 420.4 L326.2 418.9 L326.5 417.7 L326.8 416.6 L327.1 415.6 L327.4 414.8 L327.7 414.0 L328.0 413.3 L328.3 412.7 L328.6 412.2 L328.9 411.7 L329.2 411.2 L329.5 410.8 L329.8 410.4 L330.1 410.1 L330.4 409.8 L330.7 409.5 L331.0 409.2 L331.3 409.0 L331.6 408.8 L331.9 408.7 L332.2 408.5 L332.5 408.4 L332.8 408.3 L333.1 408.2 L333.4 408.1 L333.7 408.1 L334.0 408.0 L334.3 408.0 L334.6 408.0 L334.9 408.0 L335.2 408.0 L335.5 408.1 L335.8 408.1 L336.1 408.2 L336.4 408.3 L336.7 408.4 L337.0 408.5 L337.3 408.7 L337.6 408.8 L337.9 409.0 L338.2 409.2 L338.5 409.4 L338.8 409.7 L339.1 410.0 L339.4 410.3 L339.7 410.7 L340.0 411.1 L340.3 411.5 L340.6 412.0 L340.9 412.6 L341.2 413.2 L341.5 413.9 L341.8 414.7 L342.1 415.6 L342.4 416.7 L342.7 417.9 L343.0 419.3 L343.3 421.1 L343.6 423.2 L343.9 426.0 L344.2 429.9 L344.9 433.0 L344.9 461.5M344.9 433.0 L345.4 432.3 L345.7 427.0 L346.0 423.4 L346.3 420.5 L346.6 418.3 L346.9 416.3 L347.2 414.7 L347.5 413.2 L347.8 411.9 L348.1 410.7 L348.4 409.6 L348.7 408.7 L349.0 407.8 L349.3 406.9 L349.6 406.2 L349.9 405.5 L350.2 404.8 L350.5 404.2 L350.8 403.7 L351.1 403.2 L351.4 402.7 L351.7 402.3 L352.0 401.9 L352.3 401.5 L352.6 401.2 L352.9 400.9 L353.2 400.7 L353.5 400.5 L353.8 400.3 L354.1 400.1 L354.4 400.0 L354.7 399.9 L355.0 399.9 L355.3 399.9 L355.6 399.9 L355.9 399.9 L356.2 400.0 L356.5 400.0 L356.8 400.1 L357.1 400.3 L357.4 400.4 L357.7 400.6 L358.0 400.8 L358.3 401.0 L358.6 401.3 L358.9 401.5 L359.2 401.8 L359.5 402.2 L359.8 402.5 L360.1 402.9 L360.4 403.3 L360.7 403.8 L361.0 404.3 L361.3 404.8 L361.6 405.4 L361.9 406.0 L362.2 406.6 L362.5 407.3 L362.8 408.1 L363.1 408.9 L363.4 409.9 L363.7 410.9 L364.0 412.0 L364.3 413.2 L364.6 414.5 L364.9 416.1 L365.2 417.9 L365.5 420.0 L365.8 422.7 L366.1 426.0 L366.4 430.8 L367.0 432.0 L367.0 451.0M367.0 432.0 L367.6 429.1 L367.9 424.8 L368.2 421.8 L368.5 419.5 L368.8 417.6 L369.1 416.0 L369.4 414.7 L369.7 413.5 L370.0 412.5 L370.3 411.6 L370.6 410.8 L370.9 410.1 L371.2 409.5 L371.5 408.9 L371.8 408.4 L372.1 407.9 L372.4 407.5 L372.7 407.1 L373.0 406.7 L373.3 406.4 L373.6 406.1 L373.9 405.9 L374.2 405.6 L374.5 405.4 L374.8 405.2 L375.1 405.1 L375.4 404.9 L375.7 404.8 L376.0 404.7 L376.3 404.6 L376.6 404.6 L376.9 404.5 L377.2 404.5 L377.5 404.5 L377.8 404.5 L378.1 404.6 L378.4 404.6 L378.7 404.7 L379.0 404.8 L379.3 404.9 L379.6 405.0 L379.9 405.2 L380.2 405.4 L380.5 405.6 L380.8 405.9 L381.1 406.1 L381.4 406.4 L381.7 406.7 L382.0 407.1 L382.3 407.5 L382.6 408.0 L382.9 408.4 L383.2 409.0 L383.5 409.5 L383.8 410.2 L384.1 410.9 L384.4 411.7 L384.7 412.6 L385.0 413.5 L385.3 414.6 L385.6 415.9 L385.9 417.4 L386.2 419.1 L386.5 421.2 L386.8 423.8 L387.1 427.2 L387.4 432.4 L387.9 433.1 L387.9 467.3M387.9 433.1 L388.6 429.9 L388.9 425.8 L389.2 422.8 L389.5 420.5 L389.8 418.5 L390.1 416.9 L390.4 415.5 L390.7 414.2 L391.0 413.1 L391.3 412.1 L391.6 411.1 L391.9 410.3 L392.2 409.5 L392.5 408.8 L392.8 408.2 L393.1 407.6 L393.4 407.0 L393.7 406.5 L394.0 406.0 L394.3 405.6 L394.6 405.2 L394.9 404.8 L395.2 404.5 L395.5 404.1 L395.8 403.9 L396.1 403.6 L396.4 403.3 L396.7 403.1 L397.0 402.9 L397.3 402.8 L397.6 402.6 L397.9 402.5 L398.2 402.4 L398.5 402.3 L398.8 402.2 L399.1 402.2 L399.4 402.2 L399.7 402.5 L400.0 403.4 L400.3 403.4 L400.6 403.5 L400.9 403.6 L401.2 403.7 L401.5 403.9 L401.8 404.0 L402.1 404.2 L402.4 404.4 L402.7 404.7 L403.0 405.0 L403.3 405.3 L403.6 405.6 L403.9 406.0 L404.2 406.5 L404.5 406.9 L404.8 407.5 L405.1 408.1 L405.4 408.7 L405.7 409.4 L406.0 410.3 L406.3 411.2 L406.6 412.2 L406.9 413.4 L407.2 414.8 L407.5 416.4 L407.8 418.3 L408.1 420.7 L408.4 423.8 L408.7 428.2 L409.3 428.3 L409.3 451.0M409.3 428.3 L409.9 424.3 L410.2 419.7 L410.5 416.5 L410.8 414.0 L411.1 412.0 L411.4 410.3 L411.7 408.9 L412.0 407.7 L412.3 406.6 L412.6 405.7 L412.9 404.9 L413.2 404.2 L413.5 403.6 L413.8 403.0 L414.1 402.5 L414.4 402.1 L414.7 401.8 L415.0 401.5 L415.3 401.3 L415.6 401.2 L415.9 401.1 L416.2 401.0 L416.5 401.0 L416.8 401.1 L417.1 401.1 L417.4 401.2 L417.7 401.3 L418.0 401.4 L418.3 401.5 L418.6 401.7 L418.9 401.8 L419.2 402.0 L419.5 402.2 L419.8 402.5 L420.1 402.7 L420.4 403.0 L420.7 403.3 L421.0 403.6 L421.3 404.0 L421.6 404.3 L421.9 404.7 L422.2 405.2 L422.5 405.6 L422.8 406.1 L423.1 406.6 L423.4 407.1 L423.7 407.7 L424.0 408.3 L424.3 408.9 L424.6 409.6 L424.9 410.3 L425.2 411.1 L425.5 412.0 L425.8 412.8 L426.1 413.8 L426.4 414.9 L426.7 416.0 L427.0 417.2 L427.3 418.6 L427.6 420.2 L427.9 422.0 L428.2 424.0 L428.5 426.5 L428.8 429.7 L429.1 434.0 L429.8 435.0 L429.8 463.8M429.8 435.0 L430.3 432.0 L430.6 427.2 L430.9 423.9 L431.2 421.4 L431.5 419.5 L431.8 417.9 L432.1 416.5 L432.4 415.4 L432.7 414.4 L433.0 413.5 L433.3 412.8 L433.6 412.1 L433.9 411.5 L434.2 411.0 L434.5 410.5 L434.8 410.1 L435.1 409.7 L435.4 409.4 L435.7 409.1 L436.0 408.9 L436.3 408.6 L436.6 408.5 L436.9 408.3 L437.2 408.2 L437.5 408.1 L437.8 408.0 L438.1 408.0 L438.4 408.0 L438.7 408.0 L439.0 408.0 L439.3 408.1 L439.6 408.1 L439.9 408.2 L440.2 408.3 L440.5 408.4 L440.8 408.5 L441.1 408.6 L441.4 408.8 L441.7 409.0 L442.0 409.2 L442.3 409.4 L442.6 409.7 L442.9 410.0 L443.2 410.4 L443.5 410.8 L443.8 411.2 L444.1 411.7 L444.4 412.2 L444.7 412.8 L445.0 413.5 L445.3 414.3 L445.6 415.2 L445.9 416.2 L446.2 417.4 L446.5 418.9 L446.8 420.6 L447.1 422.8 L447.4 425.6 L447.7 429.5 L448.4 432.2 L448.4 453.3M448.4 432.2 L448.9 431.2 L449.2 426.0 L449.5 422.4 L449.8 419.6 L450.1 417.3 L450.4 415.4 L450.7 413.7 L451.0 412.3 L451.3 411.0 L451.6 409.8 L451.9 408.7 L452.2 407.8 L452.5 406.9 L452.8 406.1 L453.1 405.3 L453.4 404.7 L453.7 404.0 L454.0 403.5 L454.3 402.9 L454.6 402.5 L454.9 402.0 L455.2 401.6 L455.5 401.3 L455.8 401.0 L456.1 400.7 L456.4 400.5 L456.7 400.3 L457.0 400.1 L457.3 400.0 L457.6 399.9 L457.9 399.9 L458.2 399.9 L458.5 399.9 L458.8 399.9 L459.1 400.0 L459.4 400.0 L459.7 400.1 L460.0 400.2 L460.3 400.4 L460.6 400.5 L460.9 400.7 L461.2 400.9 L461.5 401.1 L461.8 401.4 L462.1 401.7 L462.4 401.9 L462.7 402.3 L463.0 402.6 L463.3 403.0 L463.6 403.4 L463.9 403.9 L464.2 404.4 L464.5 404.9 L464.8 405.5 L465.1 406.1 L465.4 406.8 L465.7 407.5 L466.0 408.3 L466.3 409.2 L466.6 410.2 L466.9 411.2 L467.2 412.5 L467.5 413.8 L467.8 415.4 L468.1 417.3 L468.4 419.5 L468.7 422.3 L469.0 426.0 L469.8 429.6 L469.8 455.7M469.8 429.6 L470.5 424.2 L470.8 420.4 L471.1 417.7 L471.4 415.5 L471.7 413.7 L472.0 412.2 L472.3 410.9 L472.6 409.8 L472.9 408.8 L473.2 407.9 L473.5 407.1 L473.8 406.4 L474.1 405.8 L474.4 405.3 L474.7 404.8 L475.0 404.3 L475.3 404.0 L475.6 403.6 L475.9 403.3 L476.2 403.0 L476.5 402.8 L476.8 402.6 L477.1 402.5 L477.4 402.3 L477.7 402.2 L478.0 402.2 L478.3 402.1 L478.6 402.1 L478.9 402.2 L479.2 402.2 L479.5 402.3 L479.8 402.4 L480.1 402.6 L480.4 402.7 L480.7 402.9 L481.0 403.2 L481.3 403.4 L481.6 403.7 L481.9 404.1 L482.2 404.4 L482.5 404.8 L482.8 405.2 L483.1 405.7 L483.4 406.1 L483.7 406.7 L484.0 407.2 L484.3 407.8 L484.6 408.4 L484.9 409.0 L485.2 409.7 L485.5 410.5 L485.8 411.3 L486.1 412.1 L486.4 413.0 L486.7 414.0 L487.0 415.0 L487.3 416.1 L487.6 417.3 L487.9 418.6 L488.2 420.1 L488.5 421.7 L488.8 423.6 L489.1 425.7 L489.4 428.2 L489.7 431.4 L490.0 435.6 L490.7 437.0 L490.7 462.7M490.7 437.0 L491.2 434.5 L491.5 429.5 L491.8 426.1 L492.1 423.7 L492.4 421.8 L492.7 420.3 L493.0 419.0 L493.3 418.0 L493.6 417.1 L493.9 416.3 L494.2 415.6 L494.5 415.1 L494.8 414.6 L495.1 414.2 L495.4 413.8 L495.7 413.5 L496.0 413.3 L496.3 413.1 L496.6 412.9 L496.9 412.8 L497.2 412.7 L497.5 412.7 L497.8 412.7 L498.1 412.7 L498.4 412.7 L498.7 412.7 L499.0 412.8 L499.3 412.9 L499.6 413.0 L499.9 413.1 L500.2 413.3 L500.5 413.5 L500.8 413.7 L501.1 414.0 L501.4 414.2 L501.7 414.6 L502.0 414.9 L502.3 415.4 L502.6 415.8 L502.9 416.4 L503.2 417.0 L503.5 417.8 L503.8 418.6 L504.1 419.6 L504.4 420.8 L504.7 422.2 L505.0 423.9 L505.3 426.1 L505.6 429.0 L505.9 433.2 L506.5 436.6 L506.5 473.1M506.5 436.6 L507.1 436.1 L507.4 431.2 L507.7 427.7 L508.0 424.9 L508.3 422.6 L508.6 420.6 L508.9 418.9 L509.2 417.3 L509.5 415.9 L509.8 414.7 L510.1 413.5 L510.4 412.4 L510.7 411.4 L511.0 410.4 L511.3 409.5 L511.6 408.7 L511.9 407.9 L512.2 407.2 L512.5 406.5 L512.8 405.8 L513.1 405.2 L513.4 404.7 L513.7 404.1 L514.0 403.6 L514.3 403.1 L514.6 402.7 L514.9 402.3 L515.2 401.9 L515.5 401.6 L515.8 401.3 L516.1 401.0 L516.4 400.7 L516.7 400.5 L517.0 400.3 L517.3 400.2 L517.6 400.1 L517.9 400.0 L518.2 399.9 L518.5 399.9 L518.8 399.9 L519.1 399.9 L519.4 399.9 L519.7 399.9 L520.0 400.0 L520.3 400.0 L520.6 400.1 L520.9 400.2 L521.2 400.3 L521.5 400.4 L521.8 400.5 L522.1 400.6 L522.4 400.7 L522.7 400.8 L523.0 401.0 L523.3 401.1 L523.6 401.2 L523.9 401.4 L524.2 401.5 L524.5 401.7 L524.8 401.8 L525.1 402.0 L525.4 402.1 L525.7 402.3 L526.0 402.4 L526.3 402.6 L526.6 402.8 L526.9 402.9 L527.2 403.1 L527.5 403.2 L527.8 403.4 L528.1 403.5 L528.4 403.7 L528.7 403.8 L529.0 404.0 L529.3 404.1 L529.6 404.3 L529.9 404.4 L530.2 404.5 L530.5 404.6 L530.8 404.7 L531.1 404.9 L531.4 405.0 L531.7 405.1 L532.0 405.2 L532.3 405.3 L532.6 405.5 L532.9 405.6 L533.2 405.7 L533.5 405.8 L533.8 406.0 L534.1 406.2 L534.4 406.3 L534.7 406.5 L535.0 406.7 L535.3 406.9 L535.6 407.2 L535.9 407.4 L536.2 407.6 L536.5 407.9 L536.8 408.2 L537.1 408.5 L537.4 408.8 L537.7 409.1 L538.0 409.4 L538.3 409.8 L538.6 410.1 L538.9 410.5 L539.2 410.9 L539.5 411.3 L539.8 411.7 L540.1 412.2 L540.4 412.7 L540.7 413.2 L541.0 413.7 L541.3 414.3 L541.6 414.9 L541.9 415.6 L542.2 416.3 L542.5 417.1 L542.8 417.9 L543.1 418.7 L543.4 419.7 L543.7 420.7 L544.0 421.8 L544.3 423.0 L544.6 424.4 L544.9 426.0 L545.2 427.8 L545.5 429.9 L545.8 432.5 L546.1 435.9 L546.4 440.7 L547.0 439.8 L547.0 455.7M547.0 439.8 L547.6 434.9 L547.9 430.6 L548.2 427.6 L548.5 425.2 L548.8 423.4 L549.1 421.8 L549.4 420.5 L549.7 419.3 L550.0 418.3 L550.3 417.4 L550.6 416.6 L550.9 415.9 L551.2 415.3 L551.5 414.8 L551.8 414.3 L552.1 413.8 L552.4 413.4 L552.7 413.1 L553.0 412.8 L553.3 412.5 L553.6 412.3 L553.9 412.0 L554.2 411.9 L554.5 411.7 L554.8 411.6 L555.1 411.6 L555.4 411.5 L555.7 411.5 L556.0 411.5 L556.3 411.5 L556.6 411.6 L556.9 411.6 L557.2 411.7 L557.5 411.8 L557.8 412.0 L558.1 412.1 L558.4 412.3 L558.7 412.6 L559.0 412.9 L559.3 413.2 L559.6 413.6 L559.9 414.0 L560.2 414.5 L560.5 415.1 L560.8 415.8 L561.1 416.6 L561.4 417.5 L561.7 418.6 L562.0 419.9 L562.3 421.5 L562.6 423.6 L562.9 426.2 L563.2 429.9 L563.9 432.3 L563.9 439.4M563.9 432.3 L564.7 425.7 L565.0 421.9 L565.3 419.0 L565.6 416.7 L565.9 414.8 L566.2 413.1 L566.5 411.7 L566.8 410.4 L567.1 409.3 L567.4 408.3 L567.7 407.4 L568.0 406.7 L568.3 406.0 L568.6 405.4 L568.9 404.9 L569.2 404.5 L569.5 404.1 L569.8 403.8 L570.1 403.6 L570.4 403.4 L570.7 403.4 L571.0 403.4 L571.3 403.4 L571.6 403.4 L571.9 403.5 L572.2 403.5 L572.5 403.6 L572.8 403.7 L573.1 403.9 L573.4 404.0 L573.7 404.2 L574.0 404.4 L574.3 404.6 L574.6 404.8 L574.9 405.1 L575.2 405.4 L575.5 405.7 L575.8 406.0 L576.1 406.4 L576.4 406.7 L576.7 407.1 L577.0 407.6 L577.3 408.0 L577.6 408.5 L577.9 409.1 L578.2 409.6 L578.5 410.3 L578.8 410.9 L579.1 411.6 L579.4 412.4 L579.7 413.2 L580.0 414.1 L580.3 415.1 L580.6 416.2 L580.9 417.4 L581.2 418.7 L581.5 420.2 L581.8 421.9 L582.1 423.9 L582.4 426.4 L582.7 429.4 L583.0 433.7 L583.7 436.1 L583.7 453.3M583.7 436.1 L584.2 434.6 L584.5 429.6 L584.8 426.3 L585.1 423.8 L585.4 421.8 L585.7 420.1 L586.0 418.7 L586.3 417.5 L586.6 416.5 L586.9 415.6 L587.2 414.8 L587.5 414.1 L587.8 413.4 L588.1 412.8 L588.4 412.3 L588.7 411.8 L589.0 411.4 L589.3 411.1 L589.6 410.7 L589.9 410.4 L590.2 410.2 L590.5 409.9 L590.8 409.7 L591.1 409.6 L591.4 409.4 L591.7 409.3 L592.0 409.2 L592.3 409.1 L592.6 409.1 L592.9 409.0 L593.2 409.0 L593.5 409.1 L593.8 409.1 L594.1 409.2 L594.4 409.2 L594.7 409.3 L595.0 409.4 L595.3 409.6 L595.6 409.7 L595.9 409.9 L596.2 410.1 L596.5 410.3 L596.8 410.5 L597.1 410.7 L597.4 411.0 L597.7 411.3 L598.0 411.6 L598.3 412.0 L598.6 412.3 L598.9 412.7 L599.2 413.1 L599.5 413.6 L599.8 414.0 L600.1 414.6 L600.4 415.1 L600.7 415.7 L601.0 416.3 L601.3 417.0 L601.6 417.8 L601.9 418.6 L602.2 419.5 L602.5 420.5 L602.8 421.5 L603.1 422.7 L603.4 424.1 L603.7 425.6 L604.0 427.4 L604.3 429.5 L604.6 432.1 L604.9 435.5 L605.2 440.3 L605.8 440.6 L605.8 460.3M605.8 440.6 L606.4 436.8 L606.7 432.5 L607.0 429.5 L607.3 427.2 L607.6 425.3 L607.9 423.7 L608.2 422.4 L608.5 421.2 L608.8 420.2 L609.1 419.3 L609.4 418.6 L609.7 417.9 L610.0 417.2 L610.3 416.7 L610.6 416.2 L610.9 415.8 L611.2 415.4 L611.5 415.0 L611.8 414.7 L612.1 414.5 L612.4 414.3 L612.7 414.1 L613.0 413.9 L613.3 413.8 L613.6 413.8 L613.9 413.7 L614.2 413.7 L614.5 413.7 L614.8 413.7 L615.1 413.8 L615.4 413.9 L615.7 414.1 L616.0 414.3 L616.3 414.5 L616.6 414.7 L616.9 415.0 L617.2 415.3 L617.5 415.7 L617.8 416.1 L618.1 416.5 L618.4 417.0 L618.7 417.5 L619.0 418.1 L619.3 418.7 L619.6 419.4 L619.9 420.1 L620.2 420.9 L620.5 421.7 L620.8 422.7 L621.1 423.7 L621.4 424.8 L621.7 426.1 L622.0 427.5 L622.3 429.1 L622.6 430.9 L622.9 433.1 L623.2 435.8 L623.5 439.2 L623.8 444.0 L624.4 443.2 L624.4 488.2M624.4 443.2 L625.0 438.3 L625.3 434.1 L625.6 431.2 L625.9 429.0 L626.2 427.2 L626.5 425.8 L626.8 424.6 L627.1 423.6 L627.4 422.8 L627.7 422.0 L628.0 421.5 L628.3 421.0 L628.6 420.6 L628.9 420.2 L629.2 420.0 L629.5 419.8 L629.8 419.7 L630.1 419.6 L630.4 419.6 L630.7 419.7 L631.0 419.9 L631.3 420.2 L631.6 420.5 L631.9 421.0 L632.2 421.6 L632.5 422.4 L632.8 423.3 L633.1 424.6 L633.4 426.1 L633.7 428.2 L634.0 431.2 L634.3 435.6 L634.8 440.2 L634.8 474.3M634.8 440.2 L635.5 440.6 L635.8 435.9 L636.1 432.4 L636.4 429.6 L636.7 427.1 L637.0 425.0 L637.3 423.1 L637.6 421.3 L637.9 419.7 L638.2 418.3 L638.5 416.9 L638.8 415.6 L639.1 414.4 L639.4 413.2 L639.7 412.1 L640.0 411.1 L640.3 410.2 L640.6 409.3 L640.9 408.4 L641.2 407.6 L641.5 406.9 L641.8 406.2 L642.1 405.6 L642.4 405.0 L642.7 404.4 L643.0 404.0 L643.3 403.5 L643.6 403.2 L643.9 402.9 L644.2 402.6 L644.5 402.4 L644.8 402.3 L645.1 402.2 L645.4 402.2 L645.7 402.2 L646.0 402.3 L646.3 402.4 L646.6 402.6 L646.9 402.7 L647.2 403.0 L647.5 403.2 L647.8 403.5 L648.1 403.9 L648.4 404.3 L648.7 404.7 L649.0 405.2 L649.3 405.8 L649.6 406.3 L649.9 407.0 L650.2 407.7 L650.5 408.4 L650.8 409.2 L651.1 410.1 L651.4 411.0 L651.7 412.0 L652.0 413.1 L652.3 414.3 L652.6 415.6 L652.9 417.0 L653.2 418.6 L653.5 420.3 L653.8 422.3 L654.1 424.5 L654.4 427.2 L654.7 430.4 L655.0 434.6 L655.8 442.3 L655.8 488.2M655.8 442.3 L656.5 441.0 L656.8 437.7 L657.1 435.4 L657.4 433.8 L657.7 432.5" fill="none" stroke="#00ff00" stroke-width="2.5" stroke-linejoin="round" stroke-dasharray="2.1 3.0" clip-path="url(#c2)"/>
<path d="M126.7 450.3 L127.0 453.9 L127.7 443.9 L127.7 488.0 L127.7 443.9 L128.5 425.9 L128.8 423.7 L129.1 423.1 L129.4 424.1 L129.7 427.1 L130.3 429.7 L130.3 460.0 L130.3 429.7 L130.9 428.8 L131.2 424.8 L131.5 422.5 L131.8 421.3 L132.1 421.1 L132.4 423.2 L133.0 428.8 L133.0 454.5 L133.0 428.8 L133.6 430.9 L133.9 426.6 L134.2 423.9 L134.5 422.0 L134.8 420.7 L135.1 420.0 L135.4 419.8 L135.7 420.0 L136.0 420.7 L136.3 421.9 L136.6 423.9 L136.9 426.9 L137.2 431.8 L137.7 431.6 L137.7 456.8 L137.7 431.6 L138.4 427.8 L138.7 424.2 L139.0 421.9 L139.3 420.4 L139.6 419.4 L139.9 419.0 L140.2 419.0 L140.5 419.3 L140.8 419.7 L141.1 420.3 L141.4 421.2 L141.7 422.4 L142.0 424.0 L142.3 426.0 L142.6 428.7 L142.9 432.5 L143.6 435.1 L143.6 472.0 L143.6 435.1 L144.4 428.9 L144.7 425.6 L145.0 423.3 L145.3 421.7 L145.6 420.5 L145.9 419.7 L146.2 419.2 L146.5 419.0 L146.8 419.1 L147.1 419.5 L147.4 420.2 L147.7 421.2 L148.0 422.7 L148.3 424.8 L148.6 427.7 L148.9 432.0 L149.5 435.0 L149.5 465.0 L149.5 435.0 L150.1 434.0 L150.4 429.6 L150.7 426.6 L151.0 424.4 L151.3 422.8 L151.6 421.5 L151.9 420.5 L152.2 419.8 L152.5 419.3 L152.8 419.1 L153.1 419.0 L153.4 419.1 L153.7 419.5 L154.0 420.0 L154.3 420.8 L154.6 421.9 L154.9 423.3 L155.2 425.1 L155.5 427.5 L155.8 430.9 L156.1 436.0 L156.6 436.4 L156.6 455.7 L156.6 436.4 L157.3 433.1 L157.6 429.2 L157.9 426.5 L158.2 424.5 L158.5 422.9 L158.8 421.7 L159.1 420.7 L159.4 420.0 L159.7 419.5 L160.0 419.2 L160.3 419.0 L160.6 419.0 L160.9 419.2 L161.2 419.6 L161.5 420.2 L161.8 421.0 L162.1 422.0 L162.4 423.4 L162.7 425.1 L163.0 427.3 L163.3 430.3 L163.6 434.7 L164.2 436.8 L164.2 460.0 L164.2 436.8 L164.8 434.9 L165.1 430.5 L165.4 427.5 L165.7 425.2 L166.0 423.5 L166.3 422.1 L166.6 421.1 L166.9 420.3 L167.2 419.7 L167.5 419.3 L167.8 419.1 L168.1 419.0 L168.4 419.1 L168.7 419.4 L169.0 419.9 L169.3 420.5 L169.6 421.4 L169.9 422.6 L170.2 424.0 L170.5 425.9 L170.8 428.4 L171.1 431.7 L171.4 436.9 L171.9 437.6 L171.9 460.0 L171.9 437.6 L172.6 434.7 L172.9 430.8 L173.2 428.0 L173.5 425.9 L173.8 424.2 L174.1 422.9 L174.4 421.8 L174.7 420.9 L175.0 420.3 L175.3 419.7 L175.6 419.4 L175.9 419.1 L176.2 419.0 L176.5 419.0 L176.8 419.2 L177.1 419.5 L177.4 419.9 L177.7 420.5 L178.0 421.2 L178.3 422.1 L178.6 423.3 L178.9 424.7 L179.2 426.5 L179.5 428.8 L179.8 431.9 L180.1 436.4 L180.7 439.4 L180.7 473.0 L180.7 439.4 L181.3 438.4 L181.6 433.9 L181.9 430.8 L182.2 428.5 L182.5 426.6 L182.8 425.0 L183.1 423.8 L183.4 422.7 L183.7 421.8 L184.0 421.1 L184.3 420.5 L184.6 420.0 L184.9 419.6 L185.2 419.3 L185.5 419.1 L185.8 419.0 L186.1 419.0 L186.4 419.2 L186.7 419.5 L187.0 420.1 L187.3 420.9 L187.6 421.9 L187.9 423.3 L188.2 425.1 L188.5 427.5 L188.8 430.9 L189.1 436.0 L189.6 437.7 L189.6 457.0 L189.6 437.7 L190.3 435.7 L190.6 431.8 L190.9 428.9 L191.2 426.7 L191.5 424.9 L191.8 423.5 L192.1 422.3 L192.4 421.3 L192.7 420.4 L193.0 419.7 L193.3 419.1 L193.6 418.7 L193.9 418.3 L194.2 418.1 L194.5 417.9 L194.8 417.9 L195.1 418.0 L195.4 418.1 L195.7 418.4 L196.0 418.8 L196.3 419.3 L196.6 419.9 L196.9 420.7 L197.2 421.7 L197.5 422.8 L197.8 424.3 L198.1 426.1 L198.4 428.4 L198.7 431.5 L199.0 435.9 L199.6 437.6 L199.6 459.0 L199.6 437.6 L200.2 435.2 L200.5 430.7 L200.8 427.6 L201.1 425.2 L201.4 423.4 L201.7 421.8 L202.0 420.6 L202.3 419.6 L202.6 418.7 L202.9 418.1 L203.2 417.5 L203.5 417.1 L203.8 416.8 L204.1 416.7 L204.4 416.6 L204.7 416.6 L205.0 416.7 L205.3 416.9 L205.6 417.2 L205.9 417.6 L206.2 418.0 L206.5 418.5 L206.8 419.2 L207.1 419.9 L207.4 420.8 L207.7 421.8 L208.0 423.1 L208.3 424.5 L208.6 426.3 L208.9 428.5 L209.2 431.4 L209.5 435.3 L210.2 439.5 L210.2 457.0 L210.2 439.5 L211.0 434.7 L211.3 431.2 L211.6 428.6 L211.9 426.6 L212.2 424.9 L212.5 423.5 L212.8 422.3 L213.1 421.2 L213.4 420.3 L213.7 419.6 L214.0 418.9 L214.3 418.4 L214.6 417.9 L214.9 417.5 L215.2 417.2 L215.5 417.0 L215.8 416.8 L216.1 416.7 L216.4 416.6 L216.7 416.6 L217.0 416.7 L217.3 416.9 L217.6 417.2 L217.9 417.6 L218.2 418.1 L218.5 418.6 L218.8 419.4 L219.1 420.2 L219.4 421.2 L219.7 422.5 L220.0 423.9 L220.3 425.7 L220.6 427.9 L220.9 430.7 L221.2 434.7 L221.9 439.1 L221.9 460.0 L221.9 439.1 L222.7 434.6 L223.0 431.1 L223.3 428.5 L223.6 426.5 L223.9 424.8 L224.2 423.4 L224.5 422.3 L224.8 421.3 L225.1 420.4 L225.4 419.7 L225.7 419.1 L226.0 418.5 L226.3 418.1 L226.6 417.7 L226.9 417.4 L227.2 417.2 L227.5 417.1 L227.8 417.0 L228.1 417.0 L228.4 417.0 L228.7 417.1 L229.0 417.2 L229.3 417.4 L229.6 417.6 L229.9 417.9 L230.2 418.2 L230.5 418.6 L230.8 419.1 L231.1 419.6 L231.4 420.2 L231.7 420.9 L232.0 421.7 L232.3 422.6 L232.6 423.7 L232.9 424.9 L233.2 426.4 L233.5 428.1 L233.8 430.3 L234.1 433.1 L234.4 437.0 L235.1 440.7 L235.1 462.0 L235.1 440.7 L235.9 435.3 L236.2 431.8 L236.5 429.1 L236.8 426.9 L237.1 425.1 L237.4 423.6 L237.7 422.3 L238.0 421.2 L238.3 420.2 L238.6 419.3 L238.9 418.5 L239.2 417.9 L239.5 417.3 L239.8 416.7 L240.1 416.3 L240.4 415.9 L240.7 415.6 L241.0 415.3 L241.3 415.1 L241.6 414.9 L241.9 414.8 L242.2 414.8 L242.5 414.8 L242.8 414.9 L243.1 414.9 L243.4 415.1 L243.7 415.3 L244.0 415.5 L244.3 415.7 L244.6 416.1 L244.9 416.4 L245.2 416.8 L245.5 417.3 L245.8 417.8 L246.1 418.5 L246.4 419.1 L246.7 419.9 L247.0 420.8 L247.3 421.8 L247.6 422.9 L247.9 424.2 L248.2 425.7 L248.5 427.4 L248.8 429.5 L249.1 432.2 L249.4 435.8 L249.7 441.0 L250.2 440.5 L250.2 468.5 L250.2 440.5 L250.9 436.3 L251.2 432.4 L251.5 429.6 L251.8 427.4 L252.1 425.6 L252.4 424.1 L252.7 422.8 L253.0 421.7 L253.3 420.7 L253.6 419.9 L253.9 419.2 L254.2 418.6 L254.5 418.0 L254.8 417.6 L255.1 417.2 L255.4 416.8 L255.7 416.6 L256.0 416.4 L256.3 416.2 L256.6 416.1 L256.9 416.0 L257.2 416.0 L257.5 416.0 L257.8 416.1 L258.1 416.2 L258.4 416.4 L258.7 416.6 L259.0 416.9 L259.3 417.2 L259.6 417.5 L259.9 417.9 L260.2 418.4 L260.5 418.9 L260.8 419.5 L261.1 420.1 L261.4 420.8 L261.7 421.5 L262.0 422.4 L262.3 423.3 L262.6 424.3 L262.9 425.4 L263.2 426.7 L263.5 428.2 L263.8 429.8 L264.1 431.7 L264.4 434.0 L264.7 436.8 L265.0 440.5 L265.3 445.9 L265.8 445.2 L265.8 465.0 L265.8 445.2 L266.5 440.8 L266.8 437.0 L267.1 434.2 L267.4 432.1 L267.7 430.5 L268.0 429.1 L268.3 427.9 L268.6 426.9 L268.9 426.1 L269.2 425.3 L269.5 424.7 L269.8 424.2 L270.1 423.7 L270.4 423.3 L270.7 423.0 L271.0 422.7 L271.3 422.5 L271.6 422.3 L271.9 422.1 L272.2 422.0 L272.5 422.0 L272.8 422.0 L273.1 422.0 L273.4 422.0 L273.7 422.1 L274.0 422.2 L274.3 422.4 L274.6 422.6 L274.9 422.8 L275.2 423.1 L275.5 423.4 L275.8 423.8 L276.1 424.2 L276.4 424.7 L276.7 425.3 L277.0 425.9 L277.3 426.7 L277.6 427.5 L277.9 428.5 L278.2 429.6 L278.5 431.0 L278.8 432.6 L279.1 434.5 L279.4 437.1 L279.7 440.4 L280.0 445.5 L280.5 448.6 L280.5 477.0 L280.5 448.6 L281.2 447.8 L281.5 443.7 L281.8 440.6 L282.1 438.1 L282.4 436.1 L282.7 434.3 L283.0 432.7 L283.3 431.3 L283.6 430.1 L283.9 428.9 L284.2 427.9 L284.5 426.9 L284.8 426.0 L285.1 425.1 L285.4 424.3 L285.7 423.5 L286.0 422.8 L286.3 422.2 L286.6 421.5 L286.9 420.9 L287.2 420.4 L287.5 419.8 L287.8 419.3 L288.1 418.8 L288.4 418.4 L288.7 417.9 L289.0 417.5 L289.3 417.1 L289.6 416.8 L289.9 416.4 L290.2 416.1 L290.5 415.8 L290.8 415.5 L291.1 415.3 L291.4 415.0 L291.7 414.8 L292.0 414.6 L292.3 414.5 L292.6 414.3 L292.9 414.2 L293.2 414.1 L293.5 414.0 L293.8 413.9 L294.1 413.9 L294.4 413.8 L294.7 413.8 L295.0 413.8 L295.3 413.9 L295.6 413.9 L295.9 414.1 L296.2 414.2 L296.5 414.5 L296.8 414.7 L297.1 415.0 L297.4 415.3 L297.7 415.6 L298.0 416.0 L298.3 416.3 L298.6 416.7 L298.9 417.1 L299.2 417.6 L299.5 418.0 L299.8 418.4 L300.1 418.9 L300.4 419.3 L300.7 419.8 L301.0 420.3 L301.3 420.7 L301.6 421.1 L301.9 421.6 L302.2 422.0 L302.5 422.4 L302.8 422.8 L303.1 423.2 L303.4 423.5 L303.7 423.8 L304.0 424.2 L304.3 424.7 L304.6 425.4 L304.9 426.3 L305.2 427.4 L305.5 428.3 L305.8 428.6 L306.1 428.9 L306.4 429.1 L306.7 429.3 L307.0 429.5 L307.7 429.5 L307.7 429.6 L307.7 429.5 L308.2 429.5 L308.5 429.4 L308.8 429.2 L309.1 429.0 L309.4 428.7 L309.7 428.4 L310.0 428.0 L310.3 426.8 L310.6 425.8 L310.9 425.0 L311.2 424.4 L311.5 424.0 L311.8 423.7 L312.1 423.5 L312.4 423.2 L312.7 422.9 L313.0 422.5 L313.3 422.2 L313.6 421.9 L313.9 421.5 L314.2 421.2 L314.5 420.8 L314.8 420.5 L315.1 420.1 L315.4 419.8 L315.7 419.4 L316.0 419.0 L316.3 418.7 L316.6 418.3 L316.9 418.0 L317.2 417.6 L317.5 417.3 L317.8 417.0 L318.1 416.7 L318.4 416.3 L318.7 416.0 L319.0 415.8 L319.3 415.5 L319.6 415.2 L319.9 415.0 L320.2 414.8 L320.5 414.6 L320.8 414.4 L321.1 414.2 L321.4 414.1 L321.7 414.0 L322.0 413.9 L322.3 413.9 L322.6 413.8 L322.9 413.8 L323.2 413.8 L323.5 413.9 L323.8 414.0 L324.1 414.1 L324.4 414.2 L324.7 414.3 L325.0 414.5 L325.3 414.6 L325.6 414.8 L325.9 415.0 L326.2 415.3 L326.5 415.5 L326.8 415.7 L327.1 416.0 L327.4 416.3 L327.7 416.5 L328.0 416.8 L328.3 417.1 L328.6 417.4 L328.9 417.7 L329.2 418.0 L329.5 418.3 L329.8 418.6 L330.1 418.9 L330.4 419.2 L330.7 419.5 L331.0 419.8 L331.3 420.1 L331.6 420.3 L331.9 420.6 L332.2 420.9 L332.5 421.1 L332.8 421.4 L333.1 421.6 L333.4 421.8 L333.7 422.0 L334.0 422.2 L334.3 422.5 L334.6 422.9 L334.9 423.5 L335.2 424.3 L335.5 425.3 L335.8 425.5 L336.1 425.6 L336.4 425.8 L336.7 425.9 L337.0 426.0 L337.3 426.1 L337.9 426.1 L337.9 426.1 L337.9 426.1 L338.5 426.1 L338.8 425.9 L339.1 425.8 L339.4 425.6 L339.7 425.5 L340.0 425.3 L340.3 425.1 L340.6 424.1 L340.9 423.2 L341.2 422.5 L341.5 422.0 L341.8 421.7 L342.1 421.4 L342.4 421.2 L342.7 420.9 L343.0 420.7 L343.3 420.4 L343.6 420.1 L343.9 419.8 L344.2 419.4 L344.5 419.1 L344.8 418.8 L345.1 418.4 L345.4 418.0 L345.7 417.7 L346.0 417.3 L346.3 416.9 L346.6 416.5 L346.9 416.1 L347.2 415.7 L347.5 415.3 L347.8 414.9 L348.1 414.4 L348.4 414.0 L348.7 413.6 L349.0 413.2 L349.3 412.7 L349.6 412.3 L349.9 411.9 L350.2 411.5 L350.5 411.1 L350.8 410.6 L351.1 410.2 L351.4 409.8 L351.7 409.4 L352.0 409.0 L352.3 408.6 L352.6 408.2 L352.9 407.8 L353.2 407.5 L353.5 407.1 L353.8 406.7 L354.1 406.4 L354.4 406.1 L354.7 405.7 L355.0 405.4 L355.3 405.1 L355.6 404.9 L355.9 404.6 L356.2 404.3 L356.5 404.1 L356.8 403.9 L357.1 403.7 L357.4 403.5 L357.7 403.3 L358.0 403.1 L358.3 403.0 L358.6 402.9 L358.9 402.8 L359.2 402.7 L359.5 402.7 L359.8 402.7 L360.1 402.7 L360.4 402.7 L360.7 402.7 L361.0 402.8 L361.3 402.9 L361.6 403.0 L361.9 403.2 L362.2 403.3 L362.5 403.5 L362.8 403.7 L363.1 403.9 L363.4 404.2 L363.7 404.5 L364.0 404.7 L364.3 405.0 L364.6 405.3 L364.9 405.7 L365.2 406.0 L365.5 406.3 L365.8 406.7 L366.1 407.1 L366.4 407.5 L366.7 407.8 L367.0 408.2 L367.3 408.6 L367.6 409.0 L367.9 409.5 L368.2 409.9 L368.5 410.3 L368.8 410.7 L369.1 411.2 L369.4 411.6 L369.7 412.0 L370.0 412.4 L370.3 412.9 L370.6 413.3 L370.9 413.7 L371.2 414.1 L371.5 414.5 L371.8 414.9 L372.1 415.3 L372.4 415.7 L372.7 416.1 L373.0 416.5 L373.3 416.8 L373.6 417.2 L373.9 417.5 L374.2 417.8 L374.5 418.1 L374.8 418.4 L375.1 418.7 L375.4 419.0 L375.7 419.2 L376.0 419.5 L376.3 419.9 L376.6 420.5 L376.9 421.2 L377.2 422.2 L377.5 422.8 L377.8 423.0 L378.1 423.2 L378.4 423.4 L378.7 423.5 L379.0 423.7 L379.8 423.7 L379.8 423.8 L379.8 423.7 L380.5 423.6 L380.8 423.4 L381.1 423.2 L381.4 423.0 L381.7 422.7 L382.0 422.4 L382.3 421.8 L382.6 420.7 L382.9 419.9 L383.2 419.3 L383.5 418.8 L383.8 418.5 L384.1 418.2 L384.4 417.9 L384.7 417.6 L385.0 417.2 L385.3 416.9 L385.6 416.6 L385.9 416.2 L386.2 415.9 L386.5 415.5 L386.8 415.1 L387.1 414.8 L387.4 414.4 L387.7 414.1 L388.0 413.7 L388.3 413.4 L388.6 413.1 L388.9 412.7 L389.2 412.4 L389.5 412.1 L389.8 411.8 L390.1 411.6 L390.4 411.3 L390.7 411.1 L391.0 410.9 L391.3 410.7 L391.6 410.6 L391.9 410.5 L392.2 410.4 L392.5 410.3 L392.8 410.3 L393.1 410.3 L393.4 410.3 L393.7 410.3 L394.0 410.4 L394.3 410.5 L394.6 410.6 L394.9 410.7 L395.2 410.8 L395.5 411.0 L395.8 411.2 L396.1 411.4 L396.4 411.6 L396.7 411.9 L397.0 412.2 L397.3 412.5 L397.6 412.9 L397.9 413.3 L398.2 413.7 L398.5 414.2 L398.8 414.7 L399.1 415.3 L399.4 415.9 L399.7 416.6 L400.0 417.4 L400.3 418.2 L400.6 419.2 L400.9 420.2 L401.2 421.4 L401.5 422.7 L401.8 424.3 L402.1 426.1 L402.4 428.4 L402.7 431.2 L403.0 435.1 L403.7 438.4 L403.7 458.0 L403.7 438.4 L404.5 432.7 L404.8 429.0 L405.1 426.3 L405.4 424.1 L405.7 422.3 L406.0 420.8 L406.3 419.5 L406.6 418.3 L406.9 417.3 L407.2 416.4 L407.5 415.5 L407.8 414.8 L408.1 414.1 L408.4 413.5 L408.7 412.9 L409.0 412.4 L409.3 412.0 L409.6 411.5 L409.9 411.2 L410.2 410.8 L410.5 410.5 L410.8 410.3 L411.1 410.0 L411.4 409.8 L411.7 409.6 L412.0 409.5 L412.3 409.4 L412.6 409.3 L412.9 409.2 L413.2 409.2 L413.5 409.2 L413.8 409.9 L414.1 410.6 L414.4 411.1 L414.7 411.6 L415.0 412.1 L415.3 412.7 L415.6 413.3 L415.9 413.9 L416.2 414.5 L416.5 415.2 L416.8 415.8 L417.1 416.5 L417.4 417.3 L417.7 418.0 L418.0 418.9 L418.3 419.7 L418.6 420.6 L418.9 421.5 L419.2 422.5 L419.5 423.6 L419.8 424.7 L420.1 425.9 L420.4 427.2 L420.7 428.6 L421.0 430.2 L421.3 432.0 L421.6 434.1 L421.9 436.5 L422.2 439.5 L422.5 443.4 L423.3 444.9 L423.3 473.1 L423.3 444.9 L424.0 437.4 L424.3 433.8 L424.6 431.3 L424.9 429.3 L425.2 427.8 L425.5 426.5 L425.8 425.5 L426.1 424.6 L426.4 423.9 L426.7 423.3 L427.0 422.9 L427.3 422.5 L427.6 422.2 L427.9 422.1 L428.2 422.0 L428.5 422.0 L428.8 422.1 L429.1 422.3 L429.4 422.7 L429.7 423.2 L430.0 423.8 L430.3 424.7 L430.6 425.8 L430.9 427.2 L431.2 429.0 L431.5 431.3 L431.8 434.7 L432.6 445.3 L432.6 463.8 L432.6 445.3 L433.3 446.9 L433.6 442.8 L433.9 439.6 L434.2 437.0 L434.5 434.8 L434.8 432.8 L435.1 431.1 L435.4 429.5 L435.7 428.0 L436.0 426.6 L436.3 425.3 L436.6 424.0 L436.9 422.9 L437.2 421.7 L437.5 420.7 L437.8 419.6 L438.1 418.6 L438.4 417.7 L438.7 416.7 L439.0 415.8 L439.3 414.9 L439.6 414.1 L439.9 413.3 L440.2 412.5 L440.5 411.7 L440.8 411.0 L441.1 410.3 L441.4 409.6 L441.7 408.9 L442.0 408.2 L442.3 407.6 L442.6 407.0 L442.9 406.4 L443.2 405.9 L443.5 405.3 L443.8 404.8 L444.1 404.3 L444.4 403.9 L444.7 403.4 L445.0 403.0 L445.3 402.6 L445.6 402.3 L445.9 402.0 L446.2 401.7 L446.5 401.4 L446.8 401.2 L447.1 400.9 L447.4 400.7 L447.7 400.6 L448.0 400.4 L448.3 400.2 L448.6 400.1 L448.9 400.0 L449.2 399.9 L449.5 399.9 L449.8 399.9 L450.1 399.9 L450.4 399.9 L450.7 399.9 L451.0 400.0 L451.3 400.1 L451.6 400.2 L451.9 400.4 L452.2 400.6 L452.5 400.8 L452.8 401.0 L453.1 401.2 L453.4 401.5 L453.7 401.8 L454.0 402.2 L454.3 402.5 L454.6 402.9 L454.9 403.3 L455.2 403.7 L455.5 404.2 L455.8 404.7 L456.1 405.2 L456.4 405.8 L456.7 406.4 L457.0 407.0 L457.3 407.7 L457.6 408.4 L457.9 409.1 L458.2 409.9 L458.5 410.7 L458.8 411.6 L459.1 412.5 L459.4 413.6 L459.7 414.6 L460.0 415.8 L460.3 417.1 L460.6 418.5 L460.9 420.1 L461.2 421.8 L461.5 423.8 L461.8 426.1 L462.1 428.9 L462.4 432.5 L462.7 437.6 L463.3 436.2 L463.3 460.3 L463.3 436.2 L463.9 430.8 L464.2 426.8 L464.5 424.0 L464.8 421.9 L465.1 420.2 L465.4 418.9 L465.7 417.8 L466.0 416.8 L466.3 416.0 L466.6 415.3 L466.9 414.7 L467.2 414.3 L467.5 413.8 L467.8 413.5 L468.1 413.2 L468.4 413.0 L468.7 412.8 L469.0 412.6 L469.3 412.5 L469.6 412.5 L469.9 412.5 L470.2 412.5 L470.5 412.5 L470.8 412.6 L471.1 412.7 L471.4 412.9 L471.7 413.1 L472.0 413.3 L472.3 413.6 L472.6 413.9 L472.9 414.3 L473.2 414.7 L473.5 415.1 L473.8 415.6 L474.1 416.1 L474.4 416.7 L474.7 417.4 L475.0 418.1 L475.3 418.9 L475.6 419.8 L475.9 420.8 L476.2 421.9 L476.5 423.2 L476.8 424.6 L477.1 426.2 L477.4 428.1 L477.7 430.3 L478.0 433.1 L478.3 436.9 L479.1 442.0 L479.1 463.8 L479.1 442.0 L479.8 438.0 L480.1 434.3 L480.4 431.5 L480.7 429.4 L481.0 427.7 L481.3 426.2 L481.6 425.0 L481.9 423.9 L482.2 423.0 L482.5 422.2 L482.8 421.5 L483.1 420.8 L483.4 420.3 L483.7 419.8 L484.0 419.3 L484.3 418.9 L484.6 418.6 L484.9 418.3 L485.2 418.1 L485.5 417.8 L485.8 417.7 L486.1 417.5 L486.4 417.4 L486.7 417.3 L487.0 417.3 L487.3 417.3 L487.6 417.3 L487.9 417.4 L488.2 417.5 L488.5 417.6 L488.8 417.8 L489.1 418.0 L489.4 418.3 L489.7 418.6 L490.0 418.9 L490.3 419.3 L490.6 419.8 L490.9 420.3 L491.2 420.9 L491.5 421.6 L491.8 422.4 L492.1 423.3 L492.4 424.4 L492.7 425.6 L493.0 427.0 L493.3 428.8 L493.6 430.9 L493.9 433.7 L494.2 437.6 L494.9 444.1 L494.9 466.1 L494.9 444.1 L495.4 446.9 L495.7 441.6 L496.0 437.9 L496.3 435.1 L496.6 432.8 L496.9 430.9 L497.2 429.2 L497.5 427.7 L497.8 426.3 L498.1 425.1 L498.4 424.0 L498.7 422.9 L499.0 421.9 L499.3 421.0 L499.6 420.2 L499.9 419.3 L500.2 418.6 L500.5 417.8 L500.8 417.1 L501.1 416.5 L501.4 415.9 L501.7 415.2 L502.0 414.7 L502.3 414.1 L502.6 413.6 L502.9 413.1 L503.2 412.6 L503.5 412.1 L503.8 411.7 L504.1 411.2 L504.4 410.8 L504.7 410.4 L505.0 410.0 L505.3 409.7 L505.6 409.3 L505.9 409.0 L506.2 408.7 L506.5 408.4 L506.8 408.1 L507.1 407.8 L507.4 407.6 L507.7 407.3 L508.0 407.1 L508.3 406.9 L508.6 406.7 L508.9 406.5 L509.2 406.4 L509.5 406.2 L509.8 406.0 L510.1 405.9 L510.4 405.7 L510.7 405.6 L511.0 405.4 L511.3 405.3 L511.6 405.1 L511.9 405.0 L512.2 404.9 L512.5 404.7 L512.8 404.6 L513.1 404.5 L513.4 404.4 L513.7 404.3 L514.0 404.2 L514.3 404.1 L514.6 404.0 L514.9 403.9 L515.2 403.8 L515.5 403.7 L515.8 403.7 L516.1 403.6 L516.4 403.5 L516.7 403.5 L517.0 403.5 L517.3 403.4 L517.6 403.4 L517.9 403.4 L518.2 403.4 L518.5 403.3 L518.8 403.4 L519.1 403.4 L519.4 403.4 L519.7 403.5 L520.0 403.6 L520.3 403.7 L520.6 403.9 L520.9 404.0 L521.2 404.2 L521.5 404.4 L521.8 404.7 L522.1 404.9 L522.4 405.2 L522.7 405.6 L523.0 405.9 L523.3 406.3 L523.6 406.7 L523.9 407.2 L524.2 407.7 L524.5 408.2 L524.8 408.8 L525.1 409.5 L525.4 410.2 L525.7 411.0 L526.0 411.8 L526.3 412.8 L526.6 413.8 L526.9 415.0 L527.2 416.3 L527.5 417.8 L527.8 419.6 L528.1 421.7 L528.4 424.3 L528.7 427.8 L529.0 432.8 L529.5 431.6 L529.5 453.3 L529.5 431.6 L530.2 426.5 L530.5 422.4 L530.8 419.5 L531.1 417.2 L531.4 415.3 L531.7 413.8 L532.0 412.4 L532.3 411.3 L532.6 410.3 L532.9 409.4 L533.2 408.7 L533.5 408.0 L533.8 407.4 L534.1 406.9 L534.4 406.4 L534.7 406.0 L535.0 405.7 L535.3 405.4 L535.6 405.1 L535.9 404.9 L536.2 404.7 L536.5 404.6 L536.8 404.5 L537.1 404.5 L537.4 404.5 L537.7 404.5 L538.0 404.6 L538.3 404.7 L538.6 404.8 L538.9 404.9 L539.2 405.1 L539.5 405.3 L539.8 405.5 L540.1 405.8 L540.4 406.1 L540.7 406.4 L541.0 406.8 L541.3 407.2 L541.6 407.6 L541.9 408.2 L542.2 408.7 L542.5 409.4 L542.8 410.1 L543.1 410.8 L543.4 411.7 L543.7 412.7 L544.0 413.9 L544.3 415.2 L544.6 416.7 L544.9 418.5 L545.2 420.7 L545.5 423.5 L545.8 427.4 L546.5 429.5 L546.5 448.7 L546.5 429.5 L547.3 422.7 L547.6 419.1 L547.9 416.4 L548.2 414.2 L548.5 412.4 L548.8 410.9 L549.1 409.6 L549.4 408.5 L549.7 407.5 L550.0 406.6 L550.3 405.9 L550.6 405.2 L550.9 404.6 L551.2 404.1 L551.5 403.7 L551.8 403.3 L552.1 402.9 L552.4 402.7 L552.7 402.5 L553.0 402.3 L553.3 402.2 L553.6 402.2 L553.9 402.2 L554.2 402.2 L554.5 402.2 L554.8 402.3 L555.1 402.5 L555.4 402.7 L555.7 402.9 L556.0 403.2 L556.3 403.5 L556.6 403.9 L556.9 404.3 L557.2 404.8 L557.5 405.4 L557.8 406.0 L558.1 406.7 L558.4 407.5 L558.7 408.5 L559.0 409.5 L559.3 410.7 L559.6 412.2 L559.9 413.9 L560.2 416.0 L560.5 418.6 L560.8 422.2 L561.6 427.7 L561.6 485.9 L561.6 427.7 L562.3 424.3 L562.6 420.4 L562.9 417.4 L563.2 415.1 L563.5 413.2 L563.8 411.6 L564.1 410.2 L564.4 409.0 L564.7 407.9 L565.0 406.9 L565.3 406.0 L565.6 405.2 L565.9 404.4 L566.2 403.8 L566.5 403.2 L566.8 402.6 L567.1 402.1 L567.4 401.6 L567.7 401.2 L568.0 400.8 L568.3 400.4 L568.6 400.1 L568.9 399.8 L569.2 399.6 L569.5 399.4 L569.8 399.2 L570.1 399.0 L570.4 398.9 L570.7 398.8 L571.0 398.7 L571.3 398.7 L571.6 398.7 L571.9 398.8 L572.2 399.0 L572.5 399.3 L572.8 399.6 L573.1 400.1 L573.4 400.6 L573.7 401.3 L574.0 402.1 L574.3 403.1 L574.6 404.2 L574.9 405.6 L575.2 407.4 L575.5 409.7 L575.8 412.6 L576.1 417.0 L576.7 421.3 L576.7 483.6 L576.7 421.3 L577.3 421.5 L577.6 416.8 L577.9 413.5 L578.2 410.9 L578.5 408.8 L578.8 406.9 L579.1 405.4 L579.4 404.0 L579.7 402.8 L580.0 401.7 L580.3 400.7 L580.6 399.7 L580.9 398.9 L581.2 398.2 L581.5 397.5 L581.8 396.8 L582.1 396.3 L582.4 395.8 L582.7 395.3 L583.0 394.9 L583.3 394.5 L583.6 394.1 L583.9 393.8 L584.2 393.6 L584.5 393.4 L584.8 393.2 L585.1 393.1 L585.4 393.0 L585.7 392.9 L586.0 392.9 L586.3 392.9 L586.6 393.0 L586.9 393.1 L587.2 393.2 L587.5 393.4 L587.8 393.7 L588.1 393.9 L588.4 394.2 L588.7 394.6 L589.0 395.0 L589.3 395.5 L589.6 395.9 L589.9 396.5 L590.2 397.1 L590.5 397.7 L590.8 398.4 L591.1 399.1 L591.4 399.9 L591.7 400.7 L592.0 401.7 L592.3 402.7 L592.6 403.7 L592.9 404.9 L593.2 406.2 L593.5 407.7 L593.8 409.3 L594.1 411.1 L594.4 413.2 L594.7 415.7 L595.0 418.9 L595.3 423.1 L596.0 423.6 L596.0 446.4 L596.0 423.6 L596.8 415.3 L597.1 412.0 L597.4 409.6 L597.7 407.8 L598.0 406.3 L598.3 405.1 L598.6 404.2 L598.9 403.4 L599.2 402.7 L599.5 402.2 L599.8 401.8 L600.1 401.5 L600.4 401.2 L600.7 401.1 L601.0 401.0 L601.3 401.0 L601.6 401.1 L601.9 401.2 L602.2 401.3 L602.5 401.5 L602.8 401.7 L603.1 402.0 L603.4 402.3 L603.7 402.7 L604.0 403.1 L604.3 403.7 L604.6 404.3 L604.9 405.0 L605.2 405.8 L605.5 406.8 L605.8 407.9 L606.1 409.2 L606.4 410.8 L606.7 412.8 L607.0 415.3 L607.3 418.7 L608.1 424.3 L608.1 472.0 L608.1 424.3 L608.8 421.0 L609.1 416.9 L609.4 413.9 L609.7 411.5 L610.0 409.5 L610.3 407.9 L610.6 406.4 L610.9 405.1 L611.2 404.0 L611.5 403.0 L611.8 402.1 L612.1 401.2 L612.4 400.5 L612.7 399.8 L613.0 399.3 L613.3 398.7 L613.6 398.3 L613.9 397.8 L614.2 397.5 L614.5 397.2 L614.8 396.9 L615.1 396.7 L615.4 396.6 L615.7 396.4 L616.0 396.4 L616.3 396.4 L616.6 396.4 L616.9 396.4 L617.2 396.5 L617.5 396.7 L617.8 396.8 L618.1 397.0 L618.4 397.2 L618.7 397.5 L619.0 397.7 L619.3 398.1 L619.6 398.4 L619.9 398.8 L620.2 399.3 L620.5 399.8 L620.8 400.4 L621.1 401.0 L621.4 401.6 L621.7 402.4 L622.0 403.2 L622.3 404.1 L622.6 405.2 L622.9 406.3 L623.2 407.6 L623.5 409.2 L623.8 410.9 L624.1 413.0 L624.4 415.7 L624.7 419.1 L625.0 424.1 L625.5 426.8 L625.5 453.3 L625.5 426.8 L626.2 425.4 L626.5 421.3 L626.8 418.4 L627.1 416.1 L627.4 414.2 L627.7 412.6 L628.0 411.2 L628.3 410.0 L628.6 409.0 L628.9 408.0 L629.2 407.2 L629.5 406.4 L629.8 405.7 L630.1 405.0 L630.4 404.5 L630.7 403.9 L631.0 403.4 L631.3 403.0 L631.6 402.5 L631.9 402.1 L632.2 401.8 L632.5 401.4 L632.8 401.1 L633.1 400.9 L633.4 400.6 L633.7 400.3 L634.0 400.1 L634.3 399.9 L634.6 399.7 L634.9 399.6 L635.2 399.4 L635.5 399.3 L635.8 399.2 L636.1 399.1 L636.4 399.0 L636.7 398.9 L637.0 398.8 L637.3 398.8 L637.6 398.7 L637.9 398.7 L638.2 398.7 L638.5 398.7 L638.8 398.7 L639.1 398.7 L639.4 398.7 L639.7 398.8 L640.0 398.8 L640.3 398.8 L640.6 398.9 L640.9 399.0 L641.2 399.0 L641.5 399.1 L641.8 399.2 L642.1 399.4 L642.4 399.5 L642.7 399.7 L643.0 399.9 L643.3 400.1 L643.6 400.3 L643.9 400.6 L644.2 400.9 L644.5 401.3 L644.8 401.7 L645.1 402.1 L645.4 402.6 L645.7 403.2 L646.0 403.9 L646.3 404.7 L646.6 405.6 L646.9 406.6 L647.2 407.8 L647.5 409.3 L647.8 411.1 L648.1 413.4 L648.4 416.5 L648.7 421.1 L649.3 423.2 L649.3 474.3 L649.3 423.2 L649.9 421.3 L650.2 416.8 L650.5 413.4 L650.8 410.8 L651.1 408.6 L651.4 406.8 L651.7 405.1 L652.0 403.6 L652.3 402.3 L652.6 401.1 L652.9 400.0 L653.2 399.0 L653.5 398.1 L653.8 397.2 L654.1 396.5 L654.4 395.7 L654.7 395.0 L655.0 394.4 L655.3 393.8 L655.6 393.3 L655.9 392.8 L656.2 392.3 L656.5 391.9 L656.8 391.5 L657.1 391.2 L657.4 390.8 L657.7 390.6" fill="none" stroke="#0000ff" stroke-width="2.5" stroke-linejoin="round" stroke-dasharray="6.1 2.2" clip-path="url(#c2)"/>
<g font-family="Liberation Serif, serif" font-size="21.6" fill="#000" stroke="#000" stroke-width="0.3">
<text x="111.6" y="34.6" text-anchor="end">2</text>
<text x="111.6" y="60.7" text-anchor="end">1.5</text>
<text x="111.6" y="86.9" text-anchor="end">1</text>
<text x="111.6" y="113.1" text-anchor="end">0.5</text>
<text x="111.6" y="139.3" text-anchor="end">0</text>
<text x="111.6" y="165.5" text-anchor="end">-0.5</text>
<text x="111.6" y="191.6" text-anchor="end">-1</text>
<text x="111.6" y="223.2" text-anchor="end">0.1</text>
<text x="111.6" y="248.9" text-anchor="end">0.01</text>
<text x="111.6" y="274.6" text-anchor="end">0.001</text>
<text x="111.6" y="300.3" text-anchor="end">0.0001</text>
<text x="111.6" y="326.0" text-anchor="end">1e-05</text>
<text x="111.6" y="351.7" text-anchor="end">1e-06</text>
<text x="111.6" y="367.5" text-anchor="end">0.1</text>
<text x="111.6" y="393.2" text-anchor="end">0.01</text>
<text x="111.6" y="419.0" text-anchor="end">0.001</text>
<text x="111.6" y="444.7" text-anchor="end">0.0001</text>
<text x="111.6" y="470.5" text-anchor="end">1e-05</text>
<text x="111.6" y="496.2" text-anchor="end">1e-06</text>
<text x="126.7" y="518.6" text-anchor="middle">0</text>
<text x="215.2" y="518.6" text-anchor="middle">5</text>
<text x="303.8" y="518.6" text-anchor="middle">10</text>
<text x="392.3" y="518.6" text-anchor="middle">15</text>
<text x="480.8" y="518.6" text-anchor="middle">20</text>
<text x="569.4" y="518.6" text-anchor="middle">25</text>
<text x="657.9" y="518.6" text-anchor="middle">30</text>
</g><g font-family="Liberation Serif, serif" font-size="21.8" fill="#000" stroke="#000" stroke-width="0.3">
<text x="347.2" y="40.6" text-anchor="end">Original</text>
<text x="347.2" y="58.4" text-anchor="end">Direct fit</text>
<text x="347.2" y="75.9" text-anchor="end">Indirect fit, C=2</text>
<text x="555" y="40.6" text-anchor="end">C=4</text>
<text x="555" y="58.6" text-anchor="end">C=8</text>
</g>
<g font-family="Liberation Serif, serif" font-size="27.8" fill="#000" stroke="#000" stroke-width="0.3">
<text x="397" y="557" text-anchor="middle" font-size="27.5">Radial distance (a.u.)</text>
<text transform="translate(30,93.7) rotate(-90)" text-anchor="middle">Re(u(r))</text>
<text transform="translate(30,266) rotate(-90)" text-anchor="middle">Re(error)</text>
<text transform="translate(30,416.4) rotate(-90)" text-anchor="middle">Im(error)</text>
</g>
<line x1="361.2" y1="33.9" x2="423.1" y2="33.9" stroke="#000" stroke-width="1.5"/>
<line x1="361.2" y1="51.3" x2="423.1" y2="51.3" stroke="#ff00ff" stroke-width="2.5" stroke-dasharray="9.3 2.2 1.7 2.2"/>
<line x1="361.2" y1="69.4" x2="423.1" y2="69.4" stroke="#ff0000" stroke-width="2.5" stroke-dasharray="1.45 1.4"/>
<line x1="569.2" y1="33.7" x2="629" y2="33.7" stroke="#00ff00" stroke-width="2.5" stroke-dasharray="2.1 3.0"/>
<line x1="569.2" y1="51.3" x2="631.4" y2="51.3" stroke="#0000ff" stroke-width="2.5" stroke-dasharray="6.1 2.2"/>
</svg>
</body></html>
